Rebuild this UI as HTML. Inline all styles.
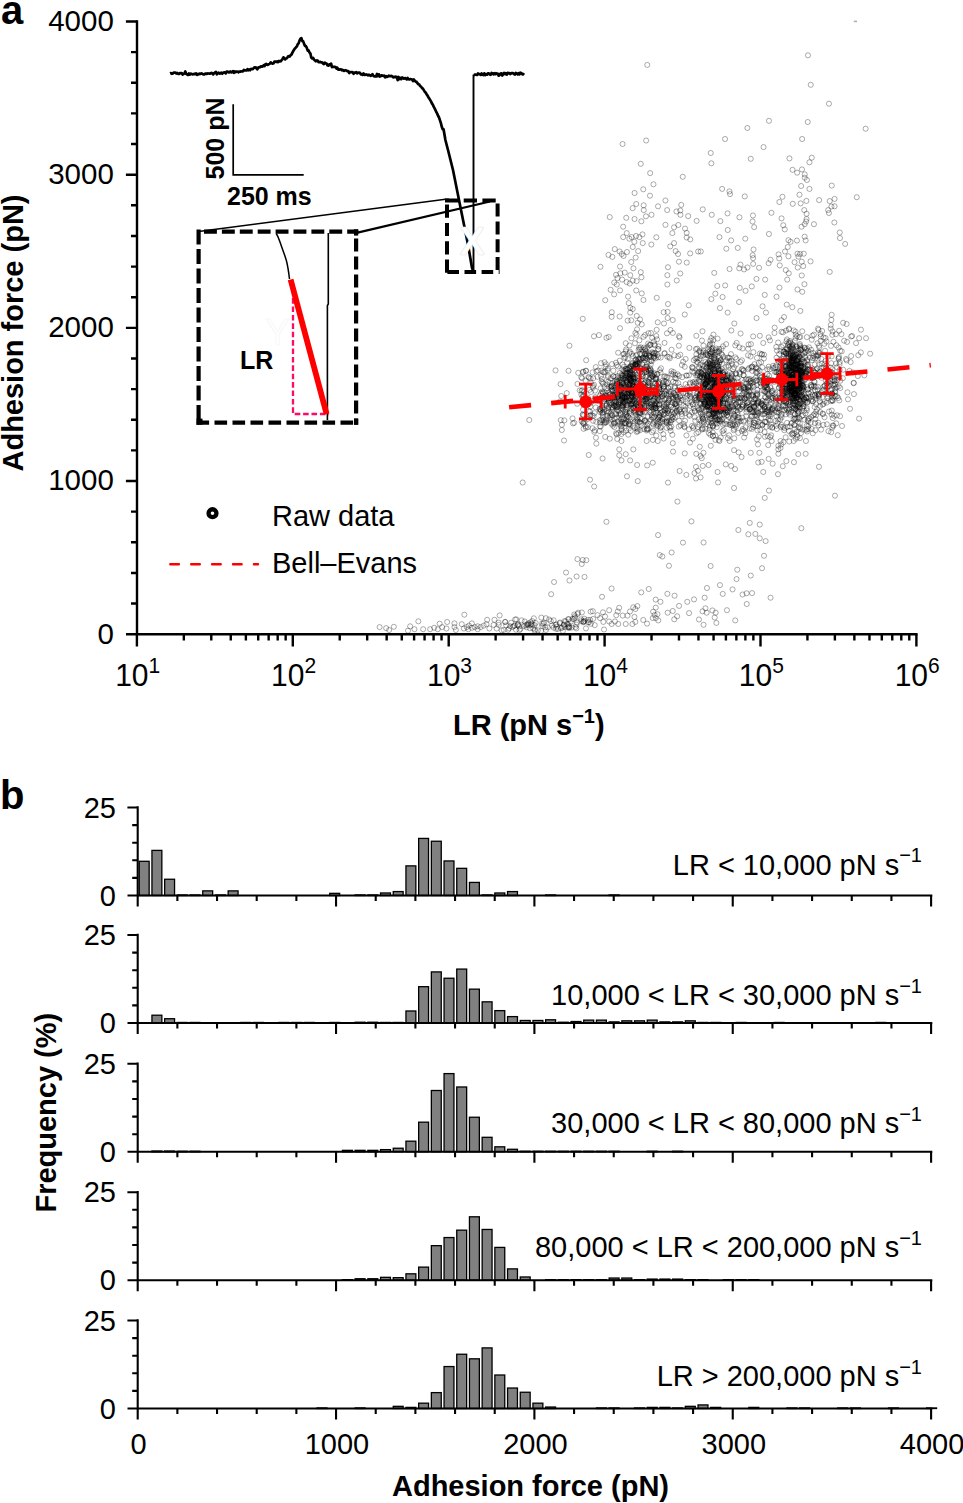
<!DOCTYPE html>
<html><head><meta charset="utf-8"><style>
html,body{margin:0;padding:0;background:#fff;width:963px;height:1503px;overflow:hidden}
</style></head><body>
<svg width="963" height="1503" viewBox="0 0 963 1503" style="position:absolute;left:0;top:0">
<g font-family='"Liberation Sans", sans-serif' fill="#000">
<text x="1" y="23.5" font-size="40" font-weight="bold" transform="matrix(1 0 0 1.03 0 -0.70)">a</text>
<text x="0" y="809" font-size="40" font-weight="bold" transform="matrix(1 0 0 1.03 0 -24.27)">b</text>
<rect x="853.8" y="20.6" width="3.2" height="1.6" fill="#b0b0b0"/>
<path d="M644.7 64.9a2.55 2.55 0 1 0 5.1 0a2.55 2.55 0 1 0 -5.1 0M805.4 55.3a2.55 2.55 0 1 0 5.1 0a2.55 2.55 0 1 0 -5.1 0M808.2 84.8a2.55 2.55 0 1 0 5.1 0a2.55 2.55 0 1 0 -5.1 0M620.0 144.0a2.55 2.55 0 1 0 5.1 0a2.55 2.55 0 1 0 -5.1 0M643.6 140.5a2.55 2.55 0 1 0 5.1 0a2.55 2.55 0 1 0 -5.1 0M722.5 139.0a2.55 2.55 0 1 0 5.1 0a2.55 2.55 0 1 0 -5.1 0M708.2 153.0a2.55 2.55 0 1 0 5.1 0a2.55 2.55 0 1 0 -5.1 0M708.8 163.3a2.55 2.55 0 1 0 5.1 0a2.55 2.55 0 1 0 -5.1 0M638.2 163.8a2.55 2.55 0 1 0 5.1 0a2.55 2.55 0 1 0 -5.1 0M647.6 173.1a2.55 2.55 0 1 0 5.1 0a2.55 2.55 0 1 0 -5.1 0M680.2 176.8a2.55 2.55 0 1 0 5.1 0a2.55 2.55 0 1 0 -5.1 0M650.9 184.3a2.55 2.55 0 1 0 5.1 0a2.55 2.55 0 1 0 -5.1 0M632.0 193.0a2.55 2.55 0 1 0 5.1 0a2.55 2.55 0 1 0 -5.1 0M640.7 189.3a2.55 2.55 0 1 0 5.1 0a2.55 2.55 0 1 0 -5.1 0M647.4 195.7a2.55 2.55 0 1 0 5.1 0a2.55 2.55 0 1 0 -5.1 0M719.6 188.9a2.55 2.55 0 1 0 5.1 0a2.55 2.55 0 1 0 -5.1 0M726.9 191.4a2.55 2.55 0 1 0 5.1 0a2.55 2.55 0 1 0 -5.1 0M727.5 194.1a2.55 2.55 0 1 0 5.1 0a2.55 2.55 0 1 0 -5.1 0M662.9 200.5a2.55 2.55 0 1 0 5.1 0a2.55 2.55 0 1 0 -5.1 0M633.7 204.0a2.55 2.55 0 1 0 5.1 0a2.55 2.55 0 1 0 -5.1 0M630.1 208.2a2.55 2.55 0 1 0 5.1 0a2.55 2.55 0 1 0 -5.1 0M641.1 205.3a2.55 2.55 0 1 0 5.1 0a2.55 2.55 0 1 0 -5.1 0M641.2 210.1a2.55 2.55 0 1 0 5.1 0a2.55 2.55 0 1 0 -5.1 0M655.5 206.3a2.55 2.55 0 1 0 5.1 0a2.55 2.55 0 1 0 -5.1 0M664.6 210.1a2.55 2.55 0 1 0 5.1 0a2.55 2.55 0 1 0 -5.1 0M678.7 204.9a2.55 2.55 0 1 0 5.1 0a2.55 2.55 0 1 0 -5.1 0M673.9 211.5a2.55 2.55 0 1 0 5.1 0a2.55 2.55 0 1 0 -5.1 0M677.7 210.5a2.55 2.55 0 1 0 5.1 0a2.55 2.55 0 1 0 -5.1 0M677.9 214.8a2.55 2.55 0 1 0 5.1 0a2.55 2.55 0 1 0 -5.1 0M685.6 216.1a2.55 2.55 0 1 0 5.1 0a2.55 2.55 0 1 0 -5.1 0M700.2 209.4a2.55 2.55 0 1 0 5.1 0a2.55 2.55 0 1 0 -5.1 0M709.2 214.8a2.55 2.55 0 1 0 5.1 0a2.55 2.55 0 1 0 -5.1 0M725.0 213.4a2.55 2.55 0 1 0 5.1 0a2.55 2.55 0 1 0 -5.1 0M717.8 221.1a2.55 2.55 0 1 0 5.1 0a2.55 2.55 0 1 0 -5.1 0M736.9 217.3a2.55 2.55 0 1 0 5.1 0a2.55 2.55 0 1 0 -5.1 0M694.1 220.9a2.55 2.55 0 1 0 5.1 0a2.55 2.55 0 1 0 -5.1 0M607.2 217.1a2.55 2.55 0 1 0 5.1 0a2.55 2.55 0 1 0 -5.1 0M623.7 217.8a2.55 2.55 0 1 0 5.1 0a2.55 2.55 0 1 0 -5.1 0M632.0 219.0a2.55 2.55 0 1 0 5.1 0a2.55 2.55 0 1 0 -5.1 0M638.8 221.3a2.55 2.55 0 1 0 5.1 0a2.55 2.55 0 1 0 -5.1 0M643.4 216.3a2.55 2.55 0 1 0 5.1 0a2.55 2.55 0 1 0 -5.1 0M649.0 214.8a2.55 2.55 0 1 0 5.1 0a2.55 2.55 0 1 0 -5.1 0M662.9 224.8a2.55 2.55 0 1 0 5.1 0a2.55 2.55 0 1 0 -5.1 0M671.5 227.3a2.55 2.55 0 1 0 5.1 0a2.55 2.55 0 1 0 -5.1 0M675.8 225.0a2.55 2.55 0 1 0 5.1 0a2.55 2.55 0 1 0 -5.1 0M682.5 228.6a2.55 2.55 0 1 0 5.1 0a2.55 2.55 0 1 0 -5.1 0M684.1 232.9a2.55 2.55 0 1 0 5.1 0a2.55 2.55 0 1 0 -5.1 0M669.8 233.1a2.55 2.55 0 1 0 5.1 0a2.55 2.55 0 1 0 -5.1 0M725.2 230.0a2.55 2.55 0 1 0 5.1 0a2.55 2.55 0 1 0 -5.1 0M716.9 237.1a2.55 2.55 0 1 0 5.1 0a2.55 2.55 0 1 0 -5.1 0M728.6 240.4a2.55 2.55 0 1 0 5.1 0a2.55 2.55 0 1 0 -5.1 0M620.6 226.7a2.55 2.55 0 1 0 5.1 0a2.55 2.55 0 1 0 -5.1 0M624.2 233.1a2.55 2.55 0 1 0 5.1 0a2.55 2.55 0 1 0 -5.1 0M620.6 237.1a2.55 2.55 0 1 0 5.1 0a2.55 2.55 0 1 0 -5.1 0M626.8 238.7a2.55 2.55 0 1 0 5.1 0a2.55 2.55 0 1 0 -5.1 0M629.1 237.1a2.55 2.55 0 1 0 5.1 0a2.55 2.55 0 1 0 -5.1 0M633.5 236.0a2.55 2.55 0 1 0 5.1 0a2.55 2.55 0 1 0 -5.1 0M636.8 237.1a2.55 2.55 0 1 0 5.1 0a2.55 2.55 0 1 0 -5.1 0M639.9 234.4a2.55 2.55 0 1 0 5.1 0a2.55 2.55 0 1 0 -5.1 0M631.8 241.8a2.55 2.55 0 1 0 5.1 0a2.55 2.55 0 1 0 -5.1 0M640.2 243.1a2.55 2.55 0 1 0 5.1 0a2.55 2.55 0 1 0 -5.1 0M648.8 244.5a2.55 2.55 0 1 0 5.1 0a2.55 2.55 0 1 0 -5.1 0M653.8 237.3a2.55 2.55 0 1 0 5.1 0a2.55 2.55 0 1 0 -5.1 0M671.5 243.1a2.55 2.55 0 1 0 5.1 0a2.55 2.55 0 1 0 -5.1 0M667.7 246.4a2.55 2.55 0 1 0 5.1 0a2.55 2.55 0 1 0 -5.1 0M684.1 237.5a2.55 2.55 0 1 0 5.1 0a2.55 2.55 0 1 0 -5.1 0M687.7 239.4a2.55 2.55 0 1 0 5.1 0a2.55 2.55 0 1 0 -5.1 0M630.2 247.0a2.55 2.55 0 1 0 5.1 0a2.55 2.55 0 1 0 -5.1 0M612.2 249.1a2.55 2.55 0 1 0 5.1 0a2.55 2.55 0 1 0 -5.1 0M723.8 248.7a2.55 2.55 0 1 0 5.1 0a2.55 2.55 0 1 0 -5.1 0M735.2 247.9a2.55 2.55 0 1 0 5.1 0a2.55 2.55 0 1 0 -5.1 0M826.4 103.7a2.55 2.55 0 1 0 5.1 0a2.55 2.55 0 1 0 -5.1 0M766.4 120.8a2.55 2.55 0 1 0 5.1 0a2.55 2.55 0 1 0 -5.1 0M805.2 122.0a2.55 2.55 0 1 0 5.1 0a2.55 2.55 0 1 0 -5.1 0M744.8 128.0a2.55 2.55 0 1 0 5.1 0a2.55 2.55 0 1 0 -5.1 0M863.1 128.7a2.55 2.55 0 1 0 5.1 0a2.55 2.55 0 1 0 -5.1 0M799.6 139.0a2.55 2.55 0 1 0 5.1 0a2.55 2.55 0 1 0 -5.1 0M761.0 147.1a2.55 2.55 0 1 0 5.1 0a2.55 2.55 0 1 0 -5.1 0M748.2 158.8a2.55 2.55 0 1 0 5.1 0a2.55 2.55 0 1 0 -5.1 0M786.9 158.4a2.55 2.55 0 1 0 5.1 0a2.55 2.55 0 1 0 -5.1 0M809.2 157.7a2.55 2.55 0 1 0 5.1 0a2.55 2.55 0 1 0 -5.1 0M806.9 162.3a2.55 2.55 0 1 0 5.1 0a2.55 2.55 0 1 0 -5.1 0M790.0 169.8a2.55 2.55 0 1 0 5.1 0a2.55 2.55 0 1 0 -5.1 0M794.6 172.7a2.55 2.55 0 1 0 5.1 0a2.55 2.55 0 1 0 -5.1 0M799.4 169.4a2.55 2.55 0 1 0 5.1 0a2.55 2.55 0 1 0 -5.1 0M802.2 174.4a2.55 2.55 0 1 0 5.1 0a2.55 2.55 0 1 0 -5.1 0M802.2 177.7a2.55 2.55 0 1 0 5.1 0a2.55 2.55 0 1 0 -5.1 0M804.4 180.0a2.55 2.55 0 1 0 5.1 0a2.55 2.55 0 1 0 -5.1 0M798.6 186.0a2.55 2.55 0 1 0 5.1 0a2.55 2.55 0 1 0 -5.1 0M806.9 188.9a2.55 2.55 0 1 0 5.1 0a2.55 2.55 0 1 0 -5.1 0M829.2 185.6a2.55 2.55 0 1 0 5.1 0a2.55 2.55 0 1 0 -5.1 0M742.2 196.4a2.55 2.55 0 1 0 5.1 0a2.55 2.55 0 1 0 -5.1 0M779.9 196.8a2.55 2.55 0 1 0 5.1 0a2.55 2.55 0 1 0 -5.1 0M776.8 202.0a2.55 2.55 0 1 0 5.1 0a2.55 2.55 0 1 0 -5.1 0M796.9 194.7a2.55 2.55 0 1 0 5.1 0a2.55 2.55 0 1 0 -5.1 0M790.2 203.8a2.55 2.55 0 1 0 5.1 0a2.55 2.55 0 1 0 -5.1 0M798.1 203.4a2.55 2.55 0 1 0 5.1 0a2.55 2.55 0 1 0 -5.1 0M803.8 200.9a2.55 2.55 0 1 0 5.1 0a2.55 2.55 0 1 0 -5.1 0M816.6 200.1a2.55 2.55 0 1 0 5.1 0a2.55 2.55 0 1 0 -5.1 0M827.2 201.1a2.55 2.55 0 1 0 5.1 0a2.55 2.55 0 1 0 -5.1 0M832.0 198.9a2.55 2.55 0 1 0 5.1 0a2.55 2.55 0 1 0 -5.1 0M828.9 206.5a2.55 2.55 0 1 0 5.1 0a2.55 2.55 0 1 0 -5.1 0M832.0 206.3a2.55 2.55 0 1 0 5.1 0a2.55 2.55 0 1 0 -5.1 0M825.6 210.1a2.55 2.55 0 1 0 5.1 0a2.55 2.55 0 1 0 -5.1 0M826.4 213.0a2.55 2.55 0 1 0 5.1 0a2.55 2.55 0 1 0 -5.1 0M854.2 197.2a2.55 2.55 0 1 0 5.1 0a2.55 2.55 0 1 0 -5.1 0M801.7 210.1a2.55 2.55 0 1 0 5.1 0a2.55 2.55 0 1 0 -5.1 0M804.0 213.8a2.55 2.55 0 1 0 5.1 0a2.55 2.55 0 1 0 -5.1 0M768.9 212.8a2.55 2.55 0 1 0 5.1 0a2.55 2.55 0 1 0 -5.1 0M750.4 215.5a2.55 2.55 0 1 0 5.1 0a2.55 2.55 0 1 0 -5.1 0M750.0 221.5a2.55 2.55 0 1 0 5.1 0a2.55 2.55 0 1 0 -5.1 0M751.6 227.1a2.55 2.55 0 1 0 5.1 0a2.55 2.55 0 1 0 -5.1 0M779.0 218.4a2.55 2.55 0 1 0 5.1 0a2.55 2.55 0 1 0 -5.1 0M780.7 225.2a2.55 2.55 0 1 0 5.1 0a2.55 2.55 0 1 0 -5.1 0M782.2 229.4a2.55 2.55 0 1 0 5.1 0a2.55 2.55 0 1 0 -5.1 0M804.0 219.0a2.55 2.55 0 1 0 5.1 0a2.55 2.55 0 1 0 -5.1 0M803.5 221.5a2.55 2.55 0 1 0 5.1 0a2.55 2.55 0 1 0 -5.1 0M802.1 224.2a2.55 2.55 0 1 0 5.1 0a2.55 2.55 0 1 0 -5.1 0M799.0 226.7a2.55 2.55 0 1 0 5.1 0a2.55 2.55 0 1 0 -5.1 0M811.4 224.2a2.55 2.55 0 1 0 5.1 0a2.55 2.55 0 1 0 -5.1 0M831.8 222.5a2.55 2.55 0 1 0 5.1 0a2.55 2.55 0 1 0 -5.1 0M837.2 232.5a2.55 2.55 0 1 0 5.1 0a2.55 2.55 0 1 0 -5.1 0M837.4 238.1a2.55 2.55 0 1 0 5.1 0a2.55 2.55 0 1 0 -5.1 0M842.6 243.9a2.55 2.55 0 1 0 5.1 0a2.55 2.55 0 1 0 -5.1 0M766.4 234.0a2.55 2.55 0 1 0 5.1 0a2.55 2.55 0 1 0 -5.1 0M742.7 238.7a2.55 2.55 0 1 0 5.1 0a2.55 2.55 0 1 0 -5.1 0M785.9 240.2a2.55 2.55 0 1 0 5.1 0a2.55 2.55 0 1 0 -5.1 0M788.0 241.8a2.55 2.55 0 1 0 5.1 0a2.55 2.55 0 1 0 -5.1 0M794.4 240.6a2.55 2.55 0 1 0 5.1 0a2.55 2.55 0 1 0 -5.1 0M802.1 236.7a2.55 2.55 0 1 0 5.1 0a2.55 2.55 0 1 0 -5.1 0M803.1 240.4a2.55 2.55 0 1 0 5.1 0a2.55 2.55 0 1 0 -5.1 0M785.2 247.0a2.55 2.55 0 1 0 5.1 0a2.55 2.55 0 1 0 -5.1 0M751.0 249.5a2.55 2.55 0 1 0 5.1 0a2.55 2.55 0 1 0 -5.1 0M605.9 254.9a2.55 2.55 0 1 0 5.1 0a2.55 2.55 0 1 0 -5.1 0M609.8 256.9a2.55 2.55 0 1 0 5.1 0a2.55 2.55 0 1 0 -5.1 0M617.1 251.5a2.55 2.55 0 1 0 5.1 0a2.55 2.55 0 1 0 -5.1 0M619.2 254.0a2.55 2.55 0 1 0 5.1 0a2.55 2.55 0 1 0 -5.1 0M621.0 255.9a2.55 2.55 0 1 0 5.1 0a2.55 2.55 0 1 0 -5.1 0M624.4 252.0a2.55 2.55 0 1 0 5.1 0a2.55 2.55 0 1 0 -5.1 0M635.6 251.1a2.55 2.55 0 1 0 5.1 0a2.55 2.55 0 1 0 -5.1 0M633.1 257.6a2.55 2.55 0 1 0 5.1 0a2.55 2.55 0 1 0 -5.1 0M628.7 262.0a2.55 2.55 0 1 0 5.1 0a2.55 2.55 0 1 0 -5.1 0M673.1 251.1a2.55 2.55 0 1 0 5.1 0a2.55 2.55 0 1 0 -5.1 0M675.5 254.0a2.55 2.55 0 1 0 5.1 0a2.55 2.55 0 1 0 -5.1 0M687.6 253.4a2.55 2.55 0 1 0 5.1 0a2.55 2.55 0 1 0 -5.1 0M695.6 251.5a2.55 2.55 0 1 0 5.1 0a2.55 2.55 0 1 0 -5.1 0M676.4 261.7a2.55 2.55 0 1 0 5.1 0a2.55 2.55 0 1 0 -5.1 0M684.2 262.6a2.55 2.55 0 1 0 5.1 0a2.55 2.55 0 1 0 -5.1 0M597.9 266.8a2.55 2.55 0 1 0 5.1 0a2.55 2.55 0 1 0 -5.1 0M617.5 266.5a2.55 2.55 0 1 0 5.1 0a2.55 2.55 0 1 0 -5.1 0M630.9 268.3a2.55 2.55 0 1 0 5.1 0a2.55 2.55 0 1 0 -5.1 0M665.4 267.2a2.55 2.55 0 1 0 5.1 0a2.55 2.55 0 1 0 -5.1 0M664.8 275.2a2.55 2.55 0 1 0 5.1 0a2.55 2.55 0 1 0 -5.1 0M677.7 273.5a2.55 2.55 0 1 0 5.1 0a2.55 2.55 0 1 0 -5.1 0M674.2 280.5a2.55 2.55 0 1 0 5.1 0a2.55 2.55 0 1 0 -5.1 0M664.8 284.5a2.55 2.55 0 1 0 5.1 0a2.55 2.55 0 1 0 -5.1 0M622.2 272.6a2.55 2.55 0 1 0 5.1 0a2.55 2.55 0 1 0 -5.1 0M613.5 274.8a2.55 2.55 0 1 0 5.1 0a2.55 2.55 0 1 0 -5.1 0M617.8 273.3a2.55 2.55 0 1 0 5.1 0a2.55 2.55 0 1 0 -5.1 0M627.7 275.2a2.55 2.55 0 1 0 5.1 0a2.55 2.55 0 1 0 -5.1 0M638.2 272.2a2.55 2.55 0 1 0 5.1 0a2.55 2.55 0 1 0 -5.1 0M638.9 277.3a2.55 2.55 0 1 0 5.1 0a2.55 2.55 0 1 0 -5.1 0M614.9 278.1a2.55 2.55 0 1 0 5.1 0a2.55 2.55 0 1 0 -5.1 0M619.6 279.6a2.55 2.55 0 1 0 5.1 0a2.55 2.55 0 1 0 -5.1 0M624.1 282.1a2.55 2.55 0 1 0 5.1 0a2.55 2.55 0 1 0 -5.1 0M627.2 283.5a2.55 2.55 0 1 0 5.1 0a2.55 2.55 0 1 0 -5.1 0M630.2 280.6a2.55 2.55 0 1 0 5.1 0a2.55 2.55 0 1 0 -5.1 0M634.1 281.1a2.55 2.55 0 1 0 5.1 0a2.55 2.55 0 1 0 -5.1 0M611.7 282.5a2.55 2.55 0 1 0 5.1 0a2.55 2.55 0 1 0 -5.1 0M614.2 284.5a2.55 2.55 0 1 0 5.1 0a2.55 2.55 0 1 0 -5.1 0M608.1 289.8a2.55 2.55 0 1 0 5.1 0a2.55 2.55 0 1 0 -5.1 0M611.6 294.4a2.55 2.55 0 1 0 5.1 0a2.55 2.55 0 1 0 -5.1 0M617.5 290.4a2.55 2.55 0 1 0 5.1 0a2.55 2.55 0 1 0 -5.1 0M633.7 290.5a2.55 2.55 0 1 0 5.1 0a2.55 2.55 0 1 0 -5.1 0M639.2 293.4a2.55 2.55 0 1 0 5.1 0a2.55 2.55 0 1 0 -5.1 0M625.5 296.6a2.55 2.55 0 1 0 5.1 0a2.55 2.55 0 1 0 -5.1 0M640.9 300.0a2.55 2.55 0 1 0 5.1 0a2.55 2.55 0 1 0 -5.1 0M654.2 297.8a2.55 2.55 0 1 0 5.1 0a2.55 2.55 0 1 0 -5.1 0M602.7 300.2a2.55 2.55 0 1 0 5.1 0a2.55 2.55 0 1 0 -5.1 0M665.4 304.0a2.55 2.55 0 1 0 5.1 0a2.55 2.55 0 1 0 -5.1 0M686.2 305.3a2.55 2.55 0 1 0 5.1 0a2.55 2.55 0 1 0 -5.1 0M626.2 303.1a2.55 2.55 0 1 0 5.1 0a2.55 2.55 0 1 0 -5.1 0M627.7 307.8a2.55 2.55 0 1 0 5.1 0a2.55 2.55 0 1 0 -5.1 0M630.2 309.0a2.55 2.55 0 1 0 5.1 0a2.55 2.55 0 1 0 -5.1 0M627.7 312.6a2.55 2.55 0 1 0 5.1 0a2.55 2.55 0 1 0 -5.1 0M609.2 312.2a2.55 2.55 0 1 0 5.1 0a2.55 2.55 0 1 0 -5.1 0M609.1 316.8a2.55 2.55 0 1 0 5.1 0a2.55 2.55 0 1 0 -5.1 0M617.1 316.5a2.55 2.55 0 1 0 5.1 0a2.55 2.55 0 1 0 -5.1 0M634.2 315.9a2.55 2.55 0 1 0 5.1 0a2.55 2.55 0 1 0 -5.1 0M637.5 319.4a2.55 2.55 0 1 0 5.1 0a2.55 2.55 0 1 0 -5.1 0M625.1 320.6a2.55 2.55 0 1 0 5.1 0a2.55 2.55 0 1 0 -5.1 0M628.7 320.3a2.55 2.55 0 1 0 5.1 0a2.55 2.55 0 1 0 -5.1 0M635.2 322.8a2.55 2.55 0 1 0 5.1 0a2.55 2.55 0 1 0 -5.1 0M639.2 324.4a2.55 2.55 0 1 0 5.1 0a2.55 2.55 0 1 0 -5.1 0M661.1 312.2a2.55 2.55 0 1 0 5.1 0a2.55 2.55 0 1 0 -5.1 0M665.1 311.9a2.55 2.55 0 1 0 5.1 0a2.55 2.55 0 1 0 -5.1 0M665.1 318.0a2.55 2.55 0 1 0 5.1 0a2.55 2.55 0 1 0 -5.1 0M670.2 320.0a2.55 2.55 0 1 0 5.1 0a2.55 2.55 0 1 0 -5.1 0M655.2 322.3a2.55 2.55 0 1 0 5.1 0a2.55 2.55 0 1 0 -5.1 0M661.4 323.5a2.55 2.55 0 1 0 5.1 0a2.55 2.55 0 1 0 -5.1 0M682.2 314.5a2.55 2.55 0 1 0 5.1 0a2.55 2.55 0 1 0 -5.1 0M580.2 318.8a2.55 2.55 0 1 0 5.1 0a2.55 2.55 0 1 0 -5.1 0M617.5 328.2a2.55 2.55 0 1 0 5.1 0a2.55 2.55 0 1 0 -5.1 0M634.5 329.3a2.55 2.55 0 1 0 5.1 0a2.55 2.55 0 1 0 -5.1 0M698.2 251.5a2.55 2.55 0 1 0 5.1 0a2.55 2.55 0 1 0 -5.1 0M750.1 255.2a2.55 2.55 0 1 0 5.1 0a2.55 2.55 0 1 0 -5.1 0M750.6 258.1a2.55 2.55 0 1 0 5.1 0a2.55 2.55 0 1 0 -5.1 0M750.6 263.9a2.55 2.55 0 1 0 5.1 0a2.55 2.55 0 1 0 -5.1 0M737.9 264.6a2.55 2.55 0 1 0 5.1 0a2.55 2.55 0 1 0 -5.1 0M736.7 268.3a2.55 2.55 0 1 0 5.1 0a2.55 2.55 0 1 0 -5.1 0M741.5 269.4a2.55 2.55 0 1 0 5.1 0a2.55 2.55 0 1 0 -5.1 0M744.9 267.5a2.55 2.55 0 1 0 5.1 0a2.55 2.55 0 1 0 -5.1 0M727.0 269.0a2.55 2.55 0 1 0 5.1 0a2.55 2.55 0 1 0 -5.1 0M711.7 272.9a2.55 2.55 0 1 0 5.1 0a2.55 2.55 0 1 0 -5.1 0M756.5 267.8a2.55 2.55 0 1 0 5.1 0a2.55 2.55 0 1 0 -5.1 0M768.0 259.8a2.55 2.55 0 1 0 5.1 0a2.55 2.55 0 1 0 -5.1 0M766.1 263.2a2.55 2.55 0 1 0 5.1 0a2.55 2.55 0 1 0 -5.1 0M776.0 254.4a2.55 2.55 0 1 0 5.1 0a2.55 2.55 0 1 0 -5.1 0M776.7 258.4a2.55 2.55 0 1 0 5.1 0a2.55 2.55 0 1 0 -5.1 0M777.2 265.4a2.55 2.55 0 1 0 5.1 0a2.55 2.55 0 1 0 -5.1 0M782.5 251.5a2.55 2.55 0 1 0 5.1 0a2.55 2.55 0 1 0 -5.1 0M785.9 256.3a2.55 2.55 0 1 0 5.1 0a2.55 2.55 0 1 0 -5.1 0M794.9 253.7a2.55 2.55 0 1 0 5.1 0a2.55 2.55 0 1 0 -5.1 0M797.5 254.0a2.55 2.55 0 1 0 5.1 0a2.55 2.55 0 1 0 -5.1 0M801.2 253.7a2.55 2.55 0 1 0 5.1 0a2.55 2.55 0 1 0 -5.1 0M795.9 256.6a2.55 2.55 0 1 0 5.1 0a2.55 2.55 0 1 0 -5.1 0M792.0 262.2a2.55 2.55 0 1 0 5.1 0a2.55 2.55 0 1 0 -5.1 0M799.2 261.7a2.55 2.55 0 1 0 5.1 0a2.55 2.55 0 1 0 -5.1 0M800.7 266.1a2.55 2.55 0 1 0 5.1 0a2.55 2.55 0 1 0 -5.1 0M795.2 267.5a2.55 2.55 0 1 0 5.1 0a2.55 2.55 0 1 0 -5.1 0M808.0 261.4a2.55 2.55 0 1 0 5.1 0a2.55 2.55 0 1 0 -5.1 0M783.2 270.1a2.55 2.55 0 1 0 5.1 0a2.55 2.55 0 1 0 -5.1 0M786.2 273.3a2.55 2.55 0 1 0 5.1 0a2.55 2.55 0 1 0 -5.1 0M784.7 279.6a2.55 2.55 0 1 0 5.1 0a2.55 2.55 0 1 0 -5.1 0M799.2 275.5a2.55 2.55 0 1 0 5.1 0a2.55 2.55 0 1 0 -5.1 0M801.9 284.2a2.55 2.55 0 1 0 5.1 0a2.55 2.55 0 1 0 -5.1 0M794.9 289.5a2.55 2.55 0 1 0 5.1 0a2.55 2.55 0 1 0 -5.1 0M799.7 291.8a2.55 2.55 0 1 0 5.1 0a2.55 2.55 0 1 0 -5.1 0M827.2 271.9a2.55 2.55 0 1 0 5.1 0a2.55 2.55 0 1 0 -5.1 0M753.9 278.9a2.55 2.55 0 1 0 5.1 0a2.55 2.55 0 1 0 -5.1 0M762.6 279.6a2.55 2.55 0 1 0 5.1 0a2.55 2.55 0 1 0 -5.1 0M749.2 286.4a2.55 2.55 0 1 0 5.1 0a2.55 2.55 0 1 0 -5.1 0M737.2 287.9a2.55 2.55 0 1 0 5.1 0a2.55 2.55 0 1 0 -5.1 0M743.0 290.8a2.55 2.55 0 1 0 5.1 0a2.55 2.55 0 1 0 -5.1 0M714.7 286.0a2.55 2.55 0 1 0 5.1 0a2.55 2.55 0 1 0 -5.1 0M722.6 285.4a2.55 2.55 0 1 0 5.1 0a2.55 2.55 0 1 0 -5.1 0M712.8 293.7a2.55 2.55 0 1 0 5.1 0a2.55 2.55 0 1 0 -5.1 0M720.0 297.0a2.55 2.55 0 1 0 5.1 0a2.55 2.55 0 1 0 -5.1 0M708.8 299.1a2.55 2.55 0 1 0 5.1 0a2.55 2.55 0 1 0 -5.1 0M736.5 302.0a2.55 2.55 0 1 0 5.1 0a2.55 2.55 0 1 0 -5.1 0M762.2 294.9a2.55 2.55 0 1 0 5.1 0a2.55 2.55 0 1 0 -5.1 0M774.0 296.8a2.55 2.55 0 1 0 5.1 0a2.55 2.55 0 1 0 -5.1 0M776.9 287.6a2.55 2.55 0 1 0 5.1 0a2.55 2.55 0 1 0 -5.1 0M717.4 308.1a2.55 2.55 0 1 0 5.1 0a2.55 2.55 0 1 0 -5.1 0M725.1 312.6a2.55 2.55 0 1 0 5.1 0a2.55 2.55 0 1 0 -5.1 0M731.8 323.5a2.55 2.55 0 1 0 5.1 0a2.55 2.55 0 1 0 -5.1 0M760.0 306.3a2.55 2.55 0 1 0 5.1 0a2.55 2.55 0 1 0 -5.1 0M763.4 312.6a2.55 2.55 0 1 0 5.1 0a2.55 2.55 0 1 0 -5.1 0M754.0 318.1a2.55 2.55 0 1 0 5.1 0a2.55 2.55 0 1 0 -5.1 0M784.2 304.6a2.55 2.55 0 1 0 5.1 0a2.55 2.55 0 1 0 -5.1 0M789.8 307.2a2.55 2.55 0 1 0 5.1 0a2.55 2.55 0 1 0 -5.1 0M797.8 310.9a2.55 2.55 0 1 0 5.1 0a2.55 2.55 0 1 0 -5.1 0M781.5 317.0a2.55 2.55 0 1 0 5.1 0a2.55 2.55 0 1 0 -5.1 0M778.9 320.3a2.55 2.55 0 1 0 5.1 0a2.55 2.55 0 1 0 -5.1 0M772.1 327.6a2.55 2.55 0 1 0 5.1 0a2.55 2.55 0 1 0 -5.1 0M829.1 314.8a2.55 2.55 0 1 0 5.1 0a2.55 2.55 0 1 0 -5.1 0M828.8 319.9a2.55 2.55 0 1 0 5.1 0a2.55 2.55 0 1 0 -5.1 0M828.2 325.0a2.55 2.55 0 1 0 5.1 0a2.55 2.55 0 1 0 -5.1 0M828.2 328.6a2.55 2.55 0 1 0 5.1 0a2.55 2.55 0 1 0 -5.1 0M815.5 328.6a2.55 2.55 0 1 0 5.1 0a2.55 2.55 0 1 0 -5.1 0M840.6 322.8a2.55 2.55 0 1 0 5.1 0a2.55 2.55 0 1 0 -5.1 0M844.1 324.0a2.55 2.55 0 1 0 5.1 0a2.55 2.55 0 1 0 -5.1 0M836.6 330.8a2.55 2.55 0 1 0 5.1 0a2.55 2.55 0 1 0 -5.1 0M838.9 334.2a2.55 2.55 0 1 0 5.1 0a2.55 2.55 0 1 0 -5.1 0M829.8 334.8a2.55 2.55 0 1 0 5.1 0a2.55 2.55 0 1 0 -5.1 0M848.6 336.5a2.55 2.55 0 1 0 5.1 0a2.55 2.55 0 1 0 -5.1 0M856.6 338.2a2.55 2.55 0 1 0 5.1 0a2.55 2.55 0 1 0 -5.1 0M863.5 338.2a2.55 2.55 0 1 0 5.1 0a2.55 2.55 0 1 0 -5.1 0M526.7 420.0a2.55 2.55 0 1 0 5.1 0a2.55 2.55 0 1 0 -5.1 0M553.0 370.4a2.55 2.55 0 1 0 5.1 0a2.55 2.55 0 1 0 -5.1 0M558.0 384.1a2.55 2.55 0 1 0 5.1 0a2.55 2.55 0 1 0 -5.1 0M558.7 396.0a2.55 2.55 0 1 0 5.1 0a2.55 2.55 0 1 0 -5.1 0M566.0 370.8a2.55 2.55 0 1 0 5.1 0a2.55 2.55 0 1 0 -5.1 0M566.9 345.7a2.55 2.55 0 1 0 5.1 0a2.55 2.55 0 1 0 -5.1 0M561.5 440.5a2.55 2.55 0 1 0 5.1 0a2.55 2.55 0 1 0 -5.1 0M593.8 443.6a2.55 2.55 0 1 0 5.1 0a2.55 2.55 0 1 0 -5.1 0M586.2 455.0a2.55 2.55 0 1 0 5.1 0a2.55 2.55 0 1 0 -5.1 0M600.0 458.5a2.55 2.55 0 1 0 5.1 0a2.55 2.55 0 1 0 -5.1 0M616.7 449.4a2.55 2.55 0 1 0 5.1 0a2.55 2.55 0 1 0 -5.1 0M616.7 455.3a2.55 2.55 0 1 0 5.1 0a2.55 2.55 0 1 0 -5.1 0M618.9 441.0a2.55 2.55 0 1 0 5.1 0a2.55 2.55 0 1 0 -5.1 0M623.2 454.2a2.55 2.55 0 1 0 5.1 0a2.55 2.55 0 1 0 -5.1 0M630.8 449.4a2.55 2.55 0 1 0 5.1 0a2.55 2.55 0 1 0 -5.1 0M618.9 460.4a2.55 2.55 0 1 0 5.1 0a2.55 2.55 0 1 0 -5.1 0M627.6 460.4a2.55 2.55 0 1 0 5.1 0a2.55 2.55 0 1 0 -5.1 0M634.6 465.0a2.55 2.55 0 1 0 5.1 0a2.55 2.55 0 1 0 -5.1 0M644.6 465.4a2.55 2.55 0 1 0 5.1 0a2.55 2.55 0 1 0 -5.1 0M650.2 462.7a2.55 2.55 0 1 0 5.1 0a2.55 2.55 0 1 0 -5.1 0M644.1 441.0a2.55 2.55 0 1 0 5.1 0a2.55 2.55 0 1 0 -5.1 0M655.2 441.0a2.55 2.55 0 1 0 5.1 0a2.55 2.55 0 1 0 -5.1 0M670.2 443.2a2.55 2.55 0 1 0 5.1 0a2.55 2.55 0 1 0 -5.1 0M670.5 451.6a2.55 2.55 0 1 0 5.1 0a2.55 2.55 0 1 0 -5.1 0M677.1 471.0a2.55 2.55 0 1 0 5.1 0a2.55 2.55 0 1 0 -5.1 0M587.5 479.7a2.55 2.55 0 1 0 5.1 0a2.55 2.55 0 1 0 -5.1 0M591.6 486.5a2.55 2.55 0 1 0 5.1 0a2.55 2.55 0 1 0 -5.1 0M624.4 476.3a2.55 2.55 0 1 0 5.1 0a2.55 2.55 0 1 0 -5.1 0M635.2 481.1a2.55 2.55 0 1 0 5.1 0a2.55 2.55 0 1 0 -5.1 0M665.4 482.6a2.55 2.55 0 1 0 5.1 0a2.55 2.55 0 1 0 -5.1 0M674.9 501.6a2.55 2.55 0 1 0 5.1 0a2.55 2.55 0 1 0 -5.1 0M603.9 521.8a2.55 2.55 0 1 0 5.1 0a2.55 2.55 0 1 0 -5.1 0M687.4 442.6a2.55 2.55 0 1 0 5.1 0a2.55 2.55 0 1 0 -5.1 0M697.2 446.8a2.55 2.55 0 1 0 5.1 0a2.55 2.55 0 1 0 -5.1 0M708.2 445.8a2.55 2.55 0 1 0 5.1 0a2.55 2.55 0 1 0 -5.1 0M716.9 441.0a2.55 2.55 0 1 0 5.1 0a2.55 2.55 0 1 0 -5.1 0M727.1 441.0a2.55 2.55 0 1 0 5.1 0a2.55 2.55 0 1 0 -5.1 0M682.2 453.4a2.55 2.55 0 1 0 5.1 0a2.55 2.55 0 1 0 -5.1 0M693.7 453.8a2.55 2.55 0 1 0 5.1 0a2.55 2.55 0 1 0 -5.1 0M700.9 452.8a2.55 2.55 0 1 0 5.1 0a2.55 2.55 0 1 0 -5.1 0M698.0 456.0a2.55 2.55 0 1 0 5.1 0a2.55 2.55 0 1 0 -5.1 0M699.2 458.2a2.55 2.55 0 1 0 5.1 0a2.55 2.55 0 1 0 -5.1 0M693.4 466.9a2.55 2.55 0 1 0 5.1 0a2.55 2.55 0 1 0 -5.1 0M695.4 470.8a2.55 2.55 0 1 0 5.1 0a2.55 2.55 0 1 0 -5.1 0M691.9 473.1a2.55 2.55 0 1 0 5.1 0a2.55 2.55 0 1 0 -5.1 0M693.4 478.5a2.55 2.55 0 1 0 5.1 0a2.55 2.55 0 1 0 -5.1 0M698.0 477.4a2.55 2.55 0 1 0 5.1 0a2.55 2.55 0 1 0 -5.1 0M683.8 474.9a2.55 2.55 0 1 0 5.1 0a2.55 2.55 0 1 0 -5.1 0M700.2 465.9a2.55 2.55 0 1 0 5.1 0a2.55 2.55 0 1 0 -5.1 0M706.0 465.0a2.55 2.55 0 1 0 5.1 0a2.55 2.55 0 1 0 -5.1 0M715.0 472.0a2.55 2.55 0 1 0 5.1 0a2.55 2.55 0 1 0 -5.1 0M715.5 482.4a2.55 2.55 0 1 0 5.1 0a2.55 2.55 0 1 0 -5.1 0M723.2 464.4a2.55 2.55 0 1 0 5.1 0a2.55 2.55 0 1 0 -5.1 0M728.6 465.9a2.55 2.55 0 1 0 5.1 0a2.55 2.55 0 1 0 -5.1 0M732.5 469.1a2.55 2.55 0 1 0 5.1 0a2.55 2.55 0 1 0 -5.1 0M731.5 450.2a2.55 2.55 0 1 0 5.1 0a2.55 2.55 0 1 0 -5.1 0M736.1 452.4a2.55 2.55 0 1 0 5.1 0a2.55 2.55 0 1 0 -5.1 0M739.0 457.0a2.55 2.55 0 1 0 5.1 0a2.55 2.55 0 1 0 -5.1 0M731.5 488.0a2.55 2.55 0 1 0 5.1 0a2.55 2.55 0 1 0 -5.1 0M748.2 452.8a2.55 2.55 0 1 0 5.1 0a2.55 2.55 0 1 0 -5.1 0M755.4 444.4a2.55 2.55 0 1 0 5.1 0a2.55 2.55 0 1 0 -5.1 0M756.8 452.8a2.55 2.55 0 1 0 5.1 0a2.55 2.55 0 1 0 -5.1 0M755.7 462.5a2.55 2.55 0 1 0 5.1 0a2.55 2.55 0 1 0 -5.1 0M759.1 461.8a2.55 2.55 0 1 0 5.1 0a2.55 2.55 0 1 0 -5.1 0M760.7 472.0a2.55 2.55 0 1 0 5.1 0a2.55 2.55 0 1 0 -5.1 0M765.6 445.1a2.55 2.55 0 1 0 5.1 0a2.55 2.55 0 1 0 -5.1 0M766.1 458.9a2.55 2.55 0 1 0 5.1 0a2.55 2.55 0 1 0 -5.1 0M770.1 463.7a2.55 2.55 0 1 0 5.1 0a2.55 2.55 0 1 0 -5.1 0M769.2 441.0a2.55 2.55 0 1 0 5.1 0a2.55 2.55 0 1 0 -5.1 0M778.0 441.0a2.55 2.55 0 1 0 5.1 0a2.55 2.55 0 1 0 -5.1 0M775.8 445.8a2.55 2.55 0 1 0 5.1 0a2.55 2.55 0 1 0 -5.1 0M778.7 444.4a2.55 2.55 0 1 0 5.1 0a2.55 2.55 0 1 0 -5.1 0M775.8 449.4a2.55 2.55 0 1 0 5.1 0a2.55 2.55 0 1 0 -5.1 0M778.0 448.0a2.55 2.55 0 1 0 5.1 0a2.55 2.55 0 1 0 -5.1 0M775.8 453.8a2.55 2.55 0 1 0 5.1 0a2.55 2.55 0 1 0 -5.1 0M780.9 442.2a2.55 2.55 0 1 0 5.1 0a2.55 2.55 0 1 0 -5.1 0M786.7 441.5a2.55 2.55 0 1 0 5.1 0a2.55 2.55 0 1 0 -5.1 0M791.1 441.0a2.55 2.55 0 1 0 5.1 0a2.55 2.55 0 1 0 -5.1 0M780.2 466.2a2.55 2.55 0 1 0 5.1 0a2.55 2.55 0 1 0 -5.1 0M775.4 474.2a2.55 2.55 0 1 0 5.1 0a2.55 2.55 0 1 0 -5.1 0M783.8 461.1a2.55 2.55 0 1 0 5.1 0a2.55 2.55 0 1 0 -5.1 0M791.4 462.2a2.55 2.55 0 1 0 5.1 0a2.55 2.55 0 1 0 -5.1 0M795.7 454.1a2.55 2.55 0 1 0 5.1 0a2.55 2.55 0 1 0 -5.1 0M803.1 453.8a2.55 2.55 0 1 0 5.1 0a2.55 2.55 0 1 0 -5.1 0M803.4 441.0a2.55 2.55 0 1 0 5.1 0a2.55 2.55 0 1 0 -5.1 0M766.4 490.6a2.55 2.55 0 1 0 5.1 0a2.55 2.55 0 1 0 -5.1 0M762.2 497.9a2.55 2.55 0 1 0 5.1 0a2.55 2.55 0 1 0 -5.1 0M750.4 508.6a2.55 2.55 0 1 0 5.1 0a2.55 2.55 0 1 0 -5.1 0M747.2 522.9a2.55 2.55 0 1 0 5.1 0a2.55 2.55 0 1 0 -5.1 0M757.2 524.6a2.55 2.55 0 1 0 5.1 0a2.55 2.55 0 1 0 -5.1 0M798.8 528.2a2.55 2.55 0 1 0 5.1 0a2.55 2.55 0 1 0 -5.1 0M688.9 521.4a2.55 2.55 0 1 0 5.1 0a2.55 2.55 0 1 0 -5.1 0M735.8 530.0a2.55 2.55 0 1 0 5.1 0a2.55 2.55 0 1 0 -5.1 0M816.4 466.8a2.55 2.55 0 1 0 5.1 0a2.55 2.55 0 1 0 -5.1 0M832.4 495.7a2.55 2.55 0 1 0 5.1 0a2.55 2.55 0 1 0 -5.1 0M745.8 534.3a2.55 2.55 0 1 0 5.1 0a2.55 2.55 0 1 0 -5.1 0M752.8 533.9a2.55 2.55 0 1 0 5.1 0a2.55 2.55 0 1 0 -5.1 0M757.2 538.3a2.55 2.55 0 1 0 5.1 0a2.55 2.55 0 1 0 -5.1 0M763.1 541.1a2.55 2.55 0 1 0 5.1 0a2.55 2.55 0 1 0 -5.1 0M701.0 542.5a2.55 2.55 0 1 0 5.1 0a2.55 2.55 0 1 0 -5.1 0M761.5 555.8a2.55 2.55 0 1 0 5.1 0a2.55 2.55 0 1 0 -5.1 0M708.1 566.0a2.55 2.55 0 1 0 5.1 0a2.55 2.55 0 1 0 -5.1 0M734.7 569.7a2.55 2.55 0 1 0 5.1 0a2.55 2.55 0 1 0 -5.1 0M759.5 568.2a2.55 2.55 0 1 0 5.1 0a2.55 2.55 0 1 0 -5.1 0M748.2 575.6a2.55 2.55 0 1 0 5.1 0a2.55 2.55 0 1 0 -5.1 0M734.0 579.1a2.55 2.55 0 1 0 5.1 0a2.55 2.55 0 1 0 -5.1 0M717.4 585.1a2.55 2.55 0 1 0 5.1 0a2.55 2.55 0 1 0 -5.1 0M704.4 588.0a2.55 2.55 0 1 0 5.1 0a2.55 2.55 0 1 0 -5.1 0M730.0 589.4a2.55 2.55 0 1 0 5.1 0a2.55 2.55 0 1 0 -5.1 0M720.2 593.9a2.55 2.55 0 1 0 5.1 0a2.55 2.55 0 1 0 -5.1 0M740.0 594.5a2.55 2.55 0 1 0 5.1 0a2.55 2.55 0 1 0 -5.1 0M744.0 593.3a2.55 2.55 0 1 0 5.1 0a2.55 2.55 0 1 0 -5.1 0M749.5 593.1a2.55 2.55 0 1 0 5.1 0a2.55 2.55 0 1 0 -5.1 0M702.1 597.7a2.55 2.55 0 1 0 5.1 0a2.55 2.55 0 1 0 -5.1 0M691.5 599.4a2.55 2.55 0 1 0 5.1 0a2.55 2.55 0 1 0 -5.1 0M768.0 597.7a2.55 2.55 0 1 0 5.1 0a2.55 2.55 0 1 0 -5.1 0M646.2 589.0a2.55 2.55 0 1 0 5.1 0a2.55 2.55 0 1 0 -5.1 0M638.7 592.4a2.55 2.55 0 1 0 5.1 0a2.55 2.55 0 1 0 -5.1 0M664.8 593.8a2.55 2.55 0 1 0 5.1 0a2.55 2.55 0 1 0 -5.1 0M672.0 595.7a2.55 2.55 0 1 0 5.1 0a2.55 2.55 0 1 0 -5.1 0M653.1 599.6a2.55 2.55 0 1 0 5.1 0a2.55 2.55 0 1 0 -5.1 0M657.9 601.8a2.55 2.55 0 1 0 5.1 0a2.55 2.55 0 1 0 -5.1 0M653.2 607.6a2.55 2.55 0 1 0 5.1 0a2.55 2.55 0 1 0 -5.1 0M650.6 611.7a2.55 2.55 0 1 0 5.1 0a2.55 2.55 0 1 0 -5.1 0M654.9 614.2a2.55 2.55 0 1 0 5.1 0a2.55 2.55 0 1 0 -5.1 0M652.0 614.9a2.55 2.55 0 1 0 5.1 0a2.55 2.55 0 1 0 -5.1 0M650.2 618.1a2.55 2.55 0 1 0 5.1 0a2.55 2.55 0 1 0 -5.1 0M655.7 620.4a2.55 2.55 0 1 0 5.1 0a2.55 2.55 0 1 0 -5.1 0M653.2 618.1a2.55 2.55 0 1 0 5.1 0a2.55 2.55 0 1 0 -5.1 0M640.7 620.0a2.55 2.55 0 1 0 5.1 0a2.55 2.55 0 1 0 -5.1 0M644.5 623.6a2.55 2.55 0 1 0 5.1 0a2.55 2.55 0 1 0 -5.1 0M665.1 612.7a2.55 2.55 0 1 0 5.1 0a2.55 2.55 0 1 0 -5.1 0M670.2 611.0a2.55 2.55 0 1 0 5.1 0a2.55 2.55 0 1 0 -5.1 0M676.5 605.9a2.55 2.55 0 1 0 5.1 0a2.55 2.55 0 1 0 -5.1 0M674.6 616.3a2.55 2.55 0 1 0 5.1 0a2.55 2.55 0 1 0 -5.1 0M671.7 619.3a2.55 2.55 0 1 0 5.1 0a2.55 2.55 0 1 0 -5.1 0M684.7 601.8a2.55 2.55 0 1 0 5.1 0a2.55 2.55 0 1 0 -5.1 0M686.5 613.1a2.55 2.55 0 1 0 5.1 0a2.55 2.55 0 1 0 -5.1 0M744.2 604.0a2.55 2.55 0 1 0 5.1 0a2.55 2.55 0 1 0 -5.1 0M700.0 611.3a2.55 2.55 0 1 0 5.1 0a2.55 2.55 0 1 0 -5.1 0M702.9 608.3a2.55 2.55 0 1 0 5.1 0a2.55 2.55 0 1 0 -5.1 0M704.1 612.7a2.55 2.55 0 1 0 5.1 0a2.55 2.55 0 1 0 -5.1 0M696.4 619.5a2.55 2.55 0 1 0 5.1 0a2.55 2.55 0 1 0 -5.1 0M701.0 624.8a2.55 2.55 0 1 0 5.1 0a2.55 2.55 0 1 0 -5.1 0M709.9 610.5a2.55 2.55 0 1 0 5.1 0a2.55 2.55 0 1 0 -5.1 0M713.1 612.7a2.55 2.55 0 1 0 5.1 0a2.55 2.55 0 1 0 -5.1 0M712.1 617.5a2.55 2.55 0 1 0 5.1 0a2.55 2.55 0 1 0 -5.1 0M713.8 622.9a2.55 2.55 0 1 0 5.1 0a2.55 2.55 0 1 0 -5.1 0M724.4 610.2a2.55 2.55 0 1 0 5.1 0a2.55 2.55 0 1 0 -5.1 0M732.7 620.4a2.55 2.55 0 1 0 5.1 0a2.55 2.55 0 1 0 -5.1 0M666.4 565.8a2.55 2.55 0 1 0 5.1 0a2.55 2.55 0 1 0 -5.1 0M574.9 559.1a2.55 2.55 0 1 0 5.1 0a2.55 2.55 0 1 0 -5.1 0M580.2 560.0a2.55 2.55 0 1 0 5.1 0a2.55 2.55 0 1 0 -5.1 0M583.8 560.2a2.55 2.55 0 1 0 5.1 0a2.55 2.55 0 1 0 -5.1 0M579.2 564.0a2.55 2.55 0 1 0 5.1 0a2.55 2.55 0 1 0 -5.1 0M563.5 572.5a2.55 2.55 0 1 0 5.1 0a2.55 2.55 0 1 0 -5.1 0M574.1 576.5a2.55 2.55 0 1 0 5.1 0a2.55 2.55 0 1 0 -5.1 0M582.0 576.9a2.55 2.55 0 1 0 5.1 0a2.55 2.55 0 1 0 -5.1 0M566.9 580.5a2.55 2.55 0 1 0 5.1 0a2.55 2.55 0 1 0 -5.1 0M551.5 582.0a2.55 2.55 0 1 0 5.1 0a2.55 2.55 0 1 0 -5.1 0M548.6 594.2a2.55 2.55 0 1 0 5.1 0a2.55 2.55 0 1 0 -5.1 0M609.0 588.5a2.55 2.55 0 1 0 5.1 0a2.55 2.55 0 1 0 -5.1 0M599.5 596.8a2.55 2.55 0 1 0 5.1 0a2.55 2.55 0 1 0 -5.1 0M377.1 627.1a2.55 2.55 0 1 0 5.1 0a2.55 2.55 0 1 0 -5.1 0M383.6 628.1a2.55 2.55 0 1 0 5.1 0a2.55 2.55 0 1 0 -5.1 0M386.6 630.0a2.55 2.55 0 1 0 5.1 0a2.55 2.55 0 1 0 -5.1 0M391.3 626.8a2.55 2.55 0 1 0 5.1 0a2.55 2.55 0 1 0 -5.1 0M415.8 621.3a2.55 2.55 0 1 0 5.1 0a2.55 2.55 0 1 0 -5.1 0M407.6 626.3a2.55 2.55 0 1 0 5.1 0a2.55 2.55 0 1 0 -5.1 0M405.4 630.7a2.55 2.55 0 1 0 5.1 0a2.55 2.55 0 1 0 -5.1 0M411.9 629.2a2.55 2.55 0 1 0 5.1 0a2.55 2.55 0 1 0 -5.1 0M420.6 629.2a2.55 2.55 0 1 0 5.1 0a2.55 2.55 0 1 0 -5.1 0M427.6 629.2a2.55 2.55 0 1 0 5.1 0a2.55 2.55 0 1 0 -5.1 0M431.6 627.8a2.55 2.55 0 1 0 5.1 0a2.55 2.55 0 1 0 -5.1 0M435.2 629.2a2.55 2.55 0 1 0 5.1 0a2.55 2.55 0 1 0 -5.1 0M437.1 623.7a2.55 2.55 0 1 0 5.1 0a2.55 2.55 0 1 0 -5.1 0M439.6 627.1a2.55 2.55 0 1 0 5.1 0a2.55 2.55 0 1 0 -5.1 0M444.6 622.0a2.55 2.55 0 1 0 5.1 0a2.55 2.55 0 1 0 -5.1 0M443.9 628.5a2.55 2.55 0 1 0 5.1 0a2.55 2.55 0 1 0 -5.1 0M451.9 623.4a2.55 2.55 0 1 0 5.1 0a2.55 2.55 0 1 0 -5.1 0M451.9 627.1a2.55 2.55 0 1 0 5.1 0a2.55 2.55 0 1 0 -5.1 0M453.3 630.0a2.55 2.55 0 1 0 5.1 0a2.55 2.55 0 1 0 -5.1 0M461.8 614.7a2.55 2.55 0 1 0 5.1 0a2.55 2.55 0 1 0 -5.1 0M459.2 624.2a2.55 2.55 0 1 0 5.1 0a2.55 2.55 0 1 0 -5.1 0M461.3 628.5a2.55 2.55 0 1 0 5.1 0a2.55 2.55 0 1 0 -5.1 0M464.2 627.1a2.55 2.55 0 1 0 5.1 0a2.55 2.55 0 1 0 -5.1 0M466.4 625.6a2.55 2.55 0 1 0 5.1 0a2.55 2.55 0 1 0 -5.1 0M469.3 623.4a2.55 2.55 0 1 0 5.1 0a2.55 2.55 0 1 0 -5.1 0M465.8 629.2a2.55 2.55 0 1 0 5.1 0a2.55 2.55 0 1 0 -5.1 0M469.3 627.8a2.55 2.55 0 1 0 5.1 0a2.55 2.55 0 1 0 -5.1 0M472.2 627.1a2.55 2.55 0 1 0 5.1 0a2.55 2.55 0 1 0 -5.1 0M475.1 626.3a2.55 2.55 0 1 0 5.1 0a2.55 2.55 0 1 0 -5.1 0M478.1 627.1a2.55 2.55 0 1 0 5.1 0a2.55 2.55 0 1 0 -5.1 0M475.1 629.2a2.55 2.55 0 1 0 5.1 0a2.55 2.55 0 1 0 -5.1 0M481.1 625.6a2.55 2.55 0 1 0 5.1 0a2.55 2.55 0 1 0 -5.1 0M484.6 619.8a2.55 2.55 0 1 0 5.1 0a2.55 2.55 0 1 0 -5.1 0M483.9 624.2a2.55 2.55 0 1 0 5.1 0a2.55 2.55 0 1 0 -5.1 0M486.8 628.5a2.55 2.55 0 1 0 5.1 0a2.55 2.55 0 1 0 -5.1 0M491.9 619.8a2.55 2.55 0 1 0 5.1 0a2.55 2.55 0 1 0 -5.1 0M491.1 624.9a2.55 2.55 0 1 0 5.1 0a2.55 2.55 0 1 0 -5.1 0M494.1 628.5a2.55 2.55 0 1 0 5.1 0a2.55 2.55 0 1 0 -5.1 0M496.2 624.9a2.55 2.55 0 1 0 5.1 0a2.55 2.55 0 1 0 -5.1 0M497.1 615.4a2.55 2.55 0 1 0 5.1 0a2.55 2.55 0 1 0 -5.1 0M592.2 625.1a2.55 2.55 0 1 0 5.1 0a2.55 2.55 0 1 0 -5.1 0M601.5 629.5a2.55 2.55 0 1 0 5.1 0a2.55 2.55 0 1 0 -5.1 0M590.2 611.2a2.55 2.55 0 1 0 5.1 0a2.55 2.55 0 1 0 -5.1 0M600.4 612.3a2.55 2.55 0 1 0 5.1 0a2.55 2.55 0 1 0 -5.1 0M606.6 610.2a2.55 2.55 0 1 0 5.1 0a2.55 2.55 0 1 0 -5.1 0M602.5 616.5a2.55 2.55 0 1 0 5.1 0a2.55 2.55 0 1 0 -5.1 0M597.5 618.1a2.55 2.55 0 1 0 5.1 0a2.55 2.55 0 1 0 -5.1 0M600.8 621.9a2.55 2.55 0 1 0 5.1 0a2.55 2.55 0 1 0 -5.1 0M606.6 621.5a2.55 2.55 0 1 0 5.1 0a2.55 2.55 0 1 0 -5.1 0M609.1 624.0a2.55 2.55 0 1 0 5.1 0a2.55 2.55 0 1 0 -5.1 0M612.4 621.5a2.55 2.55 0 1 0 5.1 0a2.55 2.55 0 1 0 -5.1 0M615.7 624.0a2.55 2.55 0 1 0 5.1 0a2.55 2.55 0 1 0 -5.1 0M616.6 607.8a2.55 2.55 0 1 0 5.1 0a2.55 2.55 0 1 0 -5.1 0M615.2 611.5a2.55 2.55 0 1 0 5.1 0a2.55 2.55 0 1 0 -5.1 0M613.7 615.2a2.55 2.55 0 1 0 5.1 0a2.55 2.55 0 1 0 -5.1 0M620.2 615.6a2.55 2.55 0 1 0 5.1 0a2.55 2.55 0 1 0 -5.1 0M624.9 615.6a2.55 2.55 0 1 0 5.1 0a2.55 2.55 0 1 0 -5.1 0M627.4 611.5a2.55 2.55 0 1 0 5.1 0a2.55 2.55 0 1 0 -5.1 0M623.2 624.0a2.55 2.55 0 1 0 5.1 0a2.55 2.55 0 1 0 -5.1 0M629.9 624.0a2.55 2.55 0 1 0 5.1 0a2.55 2.55 0 1 0 -5.1 0M632.8 621.9a2.55 2.55 0 1 0 5.1 0a2.55 2.55 0 1 0 -5.1 0M631.9 616.9a2.55 2.55 0 1 0 5.1 0a2.55 2.55 0 1 0 -5.1 0M630.7 607.3a2.55 2.55 0 1 0 5.1 0a2.55 2.55 0 1 0 -5.1 0M634.8 606.1a2.55 2.55 0 1 0 5.1 0a2.55 2.55 0 1 0 -5.1 0M632.8 609.0a2.55 2.55 0 1 0 5.1 0a2.55 2.55 0 1 0 -5.1 0M520.1 482.5a2.55 2.55 0 1 0 5.1 0a2.55 2.55 0 1 0 -5.1 0M655.5 535.1a2.55 2.55 0 1 0 5.1 0a2.55 2.55 0 1 0 -5.1 0M680.4 542.6a2.55 2.55 0 1 0 5.1 0a2.55 2.55 0 1 0 -5.1 0M669.1 552.5a2.55 2.55 0 1 0 5.1 0a2.55 2.55 0 1 0 -5.1 0M657.2 555.1a2.55 2.55 0 1 0 5.1 0a2.55 2.55 0 1 0 -5.1 0M659.8 556.5a2.55 2.55 0 1 0 5.1 0a2.55 2.55 0 1 0 -5.1 0M591.4 336.3a2.55 2.55 0 1 0 5.1 0a2.55 2.55 0 1 0 -5.1 0M606.2 336.9a2.55 2.55 0 1 0 5.1 0a2.55 2.55 0 1 0 -5.1 0M596.4 335.1a2.55 2.55 0 1 0 5.1 0a2.55 2.55 0 1 0 -5.1 0M603.9 337.8a2.55 2.55 0 1 0 5.1 0a2.55 2.55 0 1 0 -5.1 0M634.0 334.8a2.55 2.55 0 1 0 5.1 0a2.55 2.55 0 1 0 -5.1 0M632.8 333.0a2.55 2.55 0 1 0 5.1 0a2.55 2.55 0 1 0 -5.1 0M632.4 343.2a2.55 2.55 0 1 0 5.1 0a2.55 2.55 0 1 0 -5.1 0M623.2 343.2a2.55 2.55 0 1 0 5.1 0a2.55 2.55 0 1 0 -5.1 0M623.5 349.5a2.55 2.55 0 1 0 5.1 0a2.55 2.55 0 1 0 -5.1 0M628.8 338.3a2.55 2.55 0 1 0 5.1 0a2.55 2.55 0 1 0 -5.1 0M654.1 329.8a2.55 2.55 0 1 0 5.1 0a2.55 2.55 0 1 0 -5.1 0M656.0 346.4a2.55 2.55 0 1 0 5.1 0a2.55 2.55 0 1 0 -5.1 0M638.1 347.3a2.55 2.55 0 1 0 5.1 0a2.55 2.55 0 1 0 -5.1 0M642.7 354.0a2.55 2.55 0 1 0 5.1 0a2.55 2.55 0 1 0 -5.1 0M640.9 336.8a2.55 2.55 0 1 0 5.1 0a2.55 2.55 0 1 0 -5.1 0M648.4 333.0a2.55 2.55 0 1 0 5.1 0a2.55 2.55 0 1 0 -5.1 0M662.0 342.9a2.55 2.55 0 1 0 5.1 0a2.55 2.55 0 1 0 -5.1 0M642.6 335.0a2.55 2.55 0 1 0 5.1 0a2.55 2.55 0 1 0 -5.1 0M636.8 340.3a2.55 2.55 0 1 0 5.1 0a2.55 2.55 0 1 0 -5.1 0M647.8 344.8a2.55 2.55 0 1 0 5.1 0a2.55 2.55 0 1 0 -5.1 0M670.3 332.9a2.55 2.55 0 1 0 5.1 0a2.55 2.55 0 1 0 -5.1 0M677.0 337.5a2.55 2.55 0 1 0 5.1 0a2.55 2.55 0 1 0 -5.1 0M667.9 330.0a2.55 2.55 0 1 0 5.1 0a2.55 2.55 0 1 0 -5.1 0M669.0 349.7a2.55 2.55 0 1 0 5.1 0a2.55 2.55 0 1 0 -5.1 0M676.3 345.7a2.55 2.55 0 1 0 5.1 0a2.55 2.55 0 1 0 -5.1 0M694.6 348.7a2.55 2.55 0 1 0 5.1 0a2.55 2.55 0 1 0 -5.1 0M676.5 336.2a2.55 2.55 0 1 0 5.1 0a2.55 2.55 0 1 0 -5.1 0M708.8 338.0a2.55 2.55 0 1 0 5.1 0a2.55 2.55 0 1 0 -5.1 0M710.8 340.2a2.55 2.55 0 1 0 5.1 0a2.55 2.55 0 1 0 -5.1 0M699.9 331.3a2.55 2.55 0 1 0 5.1 0a2.55 2.55 0 1 0 -5.1 0M734.1 342.9a2.55 2.55 0 1 0 5.1 0a2.55 2.55 0 1 0 -5.1 0M728.8 330.5a2.55 2.55 0 1 0 5.1 0a2.55 2.55 0 1 0 -5.1 0M723.6 344.2a2.55 2.55 0 1 0 5.1 0a2.55 2.55 0 1 0 -5.1 0M732.7 345.4a2.55 2.55 0 1 0 5.1 0a2.55 2.55 0 1 0 -5.1 0M738.0 333.5a2.55 2.55 0 1 0 5.1 0a2.55 2.55 0 1 0 -5.1 0M746.0 344.5a2.55 2.55 0 1 0 5.1 0a2.55 2.55 0 1 0 -5.1 0M745.5 348.9a2.55 2.55 0 1 0 5.1 0a2.55 2.55 0 1 0 -5.1 0M750.6 336.4a2.55 2.55 0 1 0 5.1 0a2.55 2.55 0 1 0 -5.1 0M748.4 344.1a2.55 2.55 0 1 0 5.1 0a2.55 2.55 0 1 0 -5.1 0M757.3 335.8a2.55 2.55 0 1 0 5.1 0a2.55 2.55 0 1 0 -5.1 0M766.1 337.4a2.55 2.55 0 1 0 5.1 0a2.55 2.55 0 1 0 -5.1 0M767.4 340.4a2.55 2.55 0 1 0 5.1 0a2.55 2.55 0 1 0 -5.1 0M771.9 333.0a2.55 2.55 0 1 0 5.1 0a2.55 2.55 0 1 0 -5.1 0M760.7 343.0a2.55 2.55 0 1 0 5.1 0a2.55 2.55 0 1 0 -5.1 0M787.1 346.8a2.55 2.55 0 1 0 5.1 0a2.55 2.55 0 1 0 -5.1 0M775.6 342.5a2.55 2.55 0 1 0 5.1 0a2.55 2.55 0 1 0 -5.1 0M780.5 332.3a2.55 2.55 0 1 0 5.1 0a2.55 2.55 0 1 0 -5.1 0M783.6 330.5a2.55 2.55 0 1 0 5.1 0a2.55 2.55 0 1 0 -5.1 0M790.1 348.0a2.55 2.55 0 1 0 5.1 0a2.55 2.55 0 1 0 -5.1 0M789.3 346.7a2.55 2.55 0 1 0 5.1 0a2.55 2.55 0 1 0 -5.1 0M779.0 331.8a2.55 2.55 0 1 0 5.1 0a2.55 2.55 0 1 0 -5.1 0M798.0 349.9a2.55 2.55 0 1 0 5.1 0a2.55 2.55 0 1 0 -5.1 0M783.9 341.3a2.55 2.55 0 1 0 5.1 0a2.55 2.55 0 1 0 -5.1 0M779.0 347.0a2.55 2.55 0 1 0 5.1 0a2.55 2.55 0 1 0 -5.1 0M798.8 348.7a2.55 2.55 0 1 0 5.1 0a2.55 2.55 0 1 0 -5.1 0M823.0 338.1a2.55 2.55 0 1 0 5.1 0a2.55 2.55 0 1 0 -5.1 0M814.9 343.3a2.55 2.55 0 1 0 5.1 0a2.55 2.55 0 1 0 -5.1 0M816.4 345.9a2.55 2.55 0 1 0 5.1 0a2.55 2.55 0 1 0 -5.1 0M811.4 334.7a2.55 2.55 0 1 0 5.1 0a2.55 2.55 0 1 0 -5.1 0M804.3 337.1a2.55 2.55 0 1 0 5.1 0a2.55 2.55 0 1 0 -5.1 0M809.2 339.7a2.55 2.55 0 1 0 5.1 0a2.55 2.55 0 1 0 -5.1 0M816.0 329.9a2.55 2.55 0 1 0 5.1 0a2.55 2.55 0 1 0 -5.1 0M818.2 336.5a2.55 2.55 0 1 0 5.1 0a2.55 2.55 0 1 0 -5.1 0M809.9 335.7a2.55 2.55 0 1 0 5.1 0a2.55 2.55 0 1 0 -5.1 0M821.8 343.8a2.55 2.55 0 1 0 5.1 0a2.55 2.55 0 1 0 -5.1 0M833.9 345.3a2.55 2.55 0 1 0 5.1 0a2.55 2.55 0 1 0 -5.1 0M830.9 341.8a2.55 2.55 0 1 0 5.1 0a2.55 2.55 0 1 0 -5.1 0M823.9 341.5a2.55 2.55 0 1 0 5.1 0a2.55 2.55 0 1 0 -5.1 0M821.0 337.4a2.55 2.55 0 1 0 5.1 0a2.55 2.55 0 1 0 -5.1 0M819.6 331.0a2.55 2.55 0 1 0 5.1 0a2.55 2.55 0 1 0 -5.1 0M833.3 334.2a2.55 2.55 0 1 0 5.1 0a2.55 2.55 0 1 0 -5.1 0M830.0 331.5a2.55 2.55 0 1 0 5.1 0a2.55 2.55 0 1 0 -5.1 0M818.0 334.1a2.55 2.55 0 1 0 5.1 0a2.55 2.55 0 1 0 -5.1 0M818.1 340.9a2.55 2.55 0 1 0 5.1 0a2.55 2.55 0 1 0 -5.1 0M849.6 336.0a2.55 2.55 0 1 0 5.1 0a2.55 2.55 0 1 0 -5.1 0M853.5 343.1a2.55 2.55 0 1 0 5.1 0a2.55 2.55 0 1 0 -5.1 0M844.5 341.9a2.55 2.55 0 1 0 5.1 0a2.55 2.55 0 1 0 -5.1 0M841.6 340.7a2.55 2.55 0 1 0 5.1 0a2.55 2.55 0 1 0 -5.1 0M836.0 347.5a2.55 2.55 0 1 0 5.1 0a2.55 2.55 0 1 0 -5.1 0M858.4 329.7a2.55 2.55 0 1 0 5.1 0a2.55 2.55 0 1 0 -5.1 0M580.2 372.1a2.55 2.55 0 1 0 5.1 0a2.55 2.55 0 1 0 -5.1 0M583.6 360.2a2.55 2.55 0 1 0 5.1 0a2.55 2.55 0 1 0 -5.1 0M598.4 363.2a2.55 2.55 0 1 0 5.1 0a2.55 2.55 0 1 0 -5.1 0M603.1 366.4a2.55 2.55 0 1 0 5.1 0a2.55 2.55 0 1 0 -5.1 0M603.5 364.4a2.55 2.55 0 1 0 5.1 0a2.55 2.55 0 1 0 -5.1 0M615.6 352.7a2.55 2.55 0 1 0 5.1 0a2.55 2.55 0 1 0 -5.1 0M613.5 362.7a2.55 2.55 0 1 0 5.1 0a2.55 2.55 0 1 0 -5.1 0M602.0 362.2a2.55 2.55 0 1 0 5.1 0a2.55 2.55 0 1 0 -5.1 0M634.5 354.9a2.55 2.55 0 1 0 5.1 0a2.55 2.55 0 1 0 -5.1 0M617.2 360.7a2.55 2.55 0 1 0 5.1 0a2.55 2.55 0 1 0 -5.1 0M633.8 364.0a2.55 2.55 0 1 0 5.1 0a2.55 2.55 0 1 0 -5.1 0M615.4 366.5a2.55 2.55 0 1 0 5.1 0a2.55 2.55 0 1 0 -5.1 0M637.5 353.7a2.55 2.55 0 1 0 5.1 0a2.55 2.55 0 1 0 -5.1 0M625.3 359.0a2.55 2.55 0 1 0 5.1 0a2.55 2.55 0 1 0 -5.1 0M630.4 365.1a2.55 2.55 0 1 0 5.1 0a2.55 2.55 0 1 0 -5.1 0M629.2 353.9a2.55 2.55 0 1 0 5.1 0a2.55 2.55 0 1 0 -5.1 0M626.9 345.5a2.55 2.55 0 1 0 5.1 0a2.55 2.55 0 1 0 -5.1 0M640.7 351.9a2.55 2.55 0 1 0 5.1 0a2.55 2.55 0 1 0 -5.1 0M637.4 349.2a2.55 2.55 0 1 0 5.1 0a2.55 2.55 0 1 0 -5.1 0M624.4 368.8a2.55 2.55 0 1 0 5.1 0a2.55 2.55 0 1 0 -5.1 0M627.4 351.7a2.55 2.55 0 1 0 5.1 0a2.55 2.55 0 1 0 -5.1 0M632.4 365.5a2.55 2.55 0 1 0 5.1 0a2.55 2.55 0 1 0 -5.1 0M627.0 353.1a2.55 2.55 0 1 0 5.1 0a2.55 2.55 0 1 0 -5.1 0M620.8 354.3a2.55 2.55 0 1 0 5.1 0a2.55 2.55 0 1 0 -5.1 0M623.3 351.4a2.55 2.55 0 1 0 5.1 0a2.55 2.55 0 1 0 -5.1 0M621.8 357.9a2.55 2.55 0 1 0 5.1 0a2.55 2.55 0 1 0 -5.1 0M627.3 367.4a2.55 2.55 0 1 0 5.1 0a2.55 2.55 0 1 0 -5.1 0M621.5 353.9a2.55 2.55 0 1 0 5.1 0a2.55 2.55 0 1 0 -5.1 0M645.9 369.7a2.55 2.55 0 1 0 5.1 0a2.55 2.55 0 1 0 -5.1 0M652.9 358.4a2.55 2.55 0 1 0 5.1 0a2.55 2.55 0 1 0 -5.1 0M646.1 355.5a2.55 2.55 0 1 0 5.1 0a2.55 2.55 0 1 0 -5.1 0M655.9 349.2a2.55 2.55 0 1 0 5.1 0a2.55 2.55 0 1 0 -5.1 0M645.1 368.8a2.55 2.55 0 1 0 5.1 0a2.55 2.55 0 1 0 -5.1 0M650.2 353.2a2.55 2.55 0 1 0 5.1 0a2.55 2.55 0 1 0 -5.1 0M651.4 357.3a2.55 2.55 0 1 0 5.1 0a2.55 2.55 0 1 0 -5.1 0M651.3 356.2a2.55 2.55 0 1 0 5.1 0a2.55 2.55 0 1 0 -5.1 0M642.0 370.4a2.55 2.55 0 1 0 5.1 0a2.55 2.55 0 1 0 -5.1 0M646.4 353.2a2.55 2.55 0 1 0 5.1 0a2.55 2.55 0 1 0 -5.1 0M644.6 358.7a2.55 2.55 0 1 0 5.1 0a2.55 2.55 0 1 0 -5.1 0M658.5 368.3a2.55 2.55 0 1 0 5.1 0a2.55 2.55 0 1 0 -5.1 0M655.4 349.2a2.55 2.55 0 1 0 5.1 0a2.55 2.55 0 1 0 -5.1 0M636.6 347.7a2.55 2.55 0 1 0 5.1 0a2.55 2.55 0 1 0 -5.1 0M644.0 353.1a2.55 2.55 0 1 0 5.1 0a2.55 2.55 0 1 0 -5.1 0M652.3 355.8a2.55 2.55 0 1 0 5.1 0a2.55 2.55 0 1 0 -5.1 0M650.3 354.7a2.55 2.55 0 1 0 5.1 0a2.55 2.55 0 1 0 -5.1 0M653.0 353.3a2.55 2.55 0 1 0 5.1 0a2.55 2.55 0 1 0 -5.1 0M646.6 361.6a2.55 2.55 0 1 0 5.1 0a2.55 2.55 0 1 0 -5.1 0M648.2 364.3a2.55 2.55 0 1 0 5.1 0a2.55 2.55 0 1 0 -5.1 0M648.5 360.7a2.55 2.55 0 1 0 5.1 0a2.55 2.55 0 1 0 -5.1 0M655.8 357.2a2.55 2.55 0 1 0 5.1 0a2.55 2.55 0 1 0 -5.1 0M651.1 358.1a2.55 2.55 0 1 0 5.1 0a2.55 2.55 0 1 0 -5.1 0M651.4 353.0a2.55 2.55 0 1 0 5.1 0a2.55 2.55 0 1 0 -5.1 0M643.8 366.4a2.55 2.55 0 1 0 5.1 0a2.55 2.55 0 1 0 -5.1 0M662.2 353.1a2.55 2.55 0 1 0 5.1 0a2.55 2.55 0 1 0 -5.1 0M666.6 357.0a2.55 2.55 0 1 0 5.1 0a2.55 2.55 0 1 0 -5.1 0M655.0 355.0a2.55 2.55 0 1 0 5.1 0a2.55 2.55 0 1 0 -5.1 0M664.8 356.7a2.55 2.55 0 1 0 5.1 0a2.55 2.55 0 1 0 -5.1 0M677.7 354.7a2.55 2.55 0 1 0 5.1 0a2.55 2.55 0 1 0 -5.1 0M658.1 357.6a2.55 2.55 0 1 0 5.1 0a2.55 2.55 0 1 0 -5.1 0M671.9 355.3a2.55 2.55 0 1 0 5.1 0a2.55 2.55 0 1 0 -5.1 0M661.8 353.6a2.55 2.55 0 1 0 5.1 0a2.55 2.55 0 1 0 -5.1 0M675.6 356.1a2.55 2.55 0 1 0 5.1 0a2.55 2.55 0 1 0 -5.1 0M667.3 358.3a2.55 2.55 0 1 0 5.1 0a2.55 2.55 0 1 0 -5.1 0M682.2 366.8a2.55 2.55 0 1 0 5.1 0a2.55 2.55 0 1 0 -5.1 0M686.8 347.9a2.55 2.55 0 1 0 5.1 0a2.55 2.55 0 1 0 -5.1 0M680.6 361.7a2.55 2.55 0 1 0 5.1 0a2.55 2.55 0 1 0 -5.1 0M698.1 356.2a2.55 2.55 0 1 0 5.1 0a2.55 2.55 0 1 0 -5.1 0M690.6 368.3a2.55 2.55 0 1 0 5.1 0a2.55 2.55 0 1 0 -5.1 0M691.3 360.2a2.55 2.55 0 1 0 5.1 0a2.55 2.55 0 1 0 -5.1 0M705.1 355.0a2.55 2.55 0 1 0 5.1 0a2.55 2.55 0 1 0 -5.1 0M706.9 345.3a2.55 2.55 0 1 0 5.1 0a2.55 2.55 0 1 0 -5.1 0M695.2 362.4a2.55 2.55 0 1 0 5.1 0a2.55 2.55 0 1 0 -5.1 0M717.0 362.4a2.55 2.55 0 1 0 5.1 0a2.55 2.55 0 1 0 -5.1 0M696.7 351.8a2.55 2.55 0 1 0 5.1 0a2.55 2.55 0 1 0 -5.1 0M693.8 354.4a2.55 2.55 0 1 0 5.1 0a2.55 2.55 0 1 0 -5.1 0M703.3 354.9a2.55 2.55 0 1 0 5.1 0a2.55 2.55 0 1 0 -5.1 0M715.6 361.0a2.55 2.55 0 1 0 5.1 0a2.55 2.55 0 1 0 -5.1 0M698.0 358.6a2.55 2.55 0 1 0 5.1 0a2.55 2.55 0 1 0 -5.1 0M714.0 363.9a2.55 2.55 0 1 0 5.1 0a2.55 2.55 0 1 0 -5.1 0M714.9 352.0a2.55 2.55 0 1 0 5.1 0a2.55 2.55 0 1 0 -5.1 0M711.7 355.1a2.55 2.55 0 1 0 5.1 0a2.55 2.55 0 1 0 -5.1 0M700.4 365.4a2.55 2.55 0 1 0 5.1 0a2.55 2.55 0 1 0 -5.1 0M696.5 359.9a2.55 2.55 0 1 0 5.1 0a2.55 2.55 0 1 0 -5.1 0M728.8 360.9a2.55 2.55 0 1 0 5.1 0a2.55 2.55 0 1 0 -5.1 0M729.5 364.0a2.55 2.55 0 1 0 5.1 0a2.55 2.55 0 1 0 -5.1 0M728.4 354.1a2.55 2.55 0 1 0 5.1 0a2.55 2.55 0 1 0 -5.1 0M724.9 357.8a2.55 2.55 0 1 0 5.1 0a2.55 2.55 0 1 0 -5.1 0M732.8 357.4a2.55 2.55 0 1 0 5.1 0a2.55 2.55 0 1 0 -5.1 0M738.1 362.0a2.55 2.55 0 1 0 5.1 0a2.55 2.55 0 1 0 -5.1 0M733.4 364.6a2.55 2.55 0 1 0 5.1 0a2.55 2.55 0 1 0 -5.1 0M726.0 366.9a2.55 2.55 0 1 0 5.1 0a2.55 2.55 0 1 0 -5.1 0M736.9 347.4a2.55 2.55 0 1 0 5.1 0a2.55 2.55 0 1 0 -5.1 0M733.9 359.0a2.55 2.55 0 1 0 5.1 0a2.55 2.55 0 1 0 -5.1 0M717.6 369.7a2.55 2.55 0 1 0 5.1 0a2.55 2.55 0 1 0 -5.1 0M725.9 357.6a2.55 2.55 0 1 0 5.1 0a2.55 2.55 0 1 0 -5.1 0M720.9 356.9a2.55 2.55 0 1 0 5.1 0a2.55 2.55 0 1 0 -5.1 0M740.0 348.5a2.55 2.55 0 1 0 5.1 0a2.55 2.55 0 1 0 -5.1 0M753.8 368.3a2.55 2.55 0 1 0 5.1 0a2.55 2.55 0 1 0 -5.1 0M759.2 354.0a2.55 2.55 0 1 0 5.1 0a2.55 2.55 0 1 0 -5.1 0M754.4 357.9a2.55 2.55 0 1 0 5.1 0a2.55 2.55 0 1 0 -5.1 0M756.4 362.9a2.55 2.55 0 1 0 5.1 0a2.55 2.55 0 1 0 -5.1 0M748.8 367.7a2.55 2.55 0 1 0 5.1 0a2.55 2.55 0 1 0 -5.1 0M748.0 356.5a2.55 2.55 0 1 0 5.1 0a2.55 2.55 0 1 0 -5.1 0M745.5 355.3a2.55 2.55 0 1 0 5.1 0a2.55 2.55 0 1 0 -5.1 0M739.4 360.3a2.55 2.55 0 1 0 5.1 0a2.55 2.55 0 1 0 -5.1 0M751.9 364.2a2.55 2.55 0 1 0 5.1 0a2.55 2.55 0 1 0 -5.1 0M741.2 370.7a2.55 2.55 0 1 0 5.1 0a2.55 2.55 0 1 0 -5.1 0M759.4 354.6a2.55 2.55 0 1 0 5.1 0a2.55 2.55 0 1 0 -5.1 0M750.8 352.2a2.55 2.55 0 1 0 5.1 0a2.55 2.55 0 1 0 -5.1 0M764.8 369.3a2.55 2.55 0 1 0 5.1 0a2.55 2.55 0 1 0 -5.1 0M774.4 350.6a2.55 2.55 0 1 0 5.1 0a2.55 2.55 0 1 0 -5.1 0M759.7 367.3a2.55 2.55 0 1 0 5.1 0a2.55 2.55 0 1 0 -5.1 0M774.0 357.7a2.55 2.55 0 1 0 5.1 0a2.55 2.55 0 1 0 -5.1 0M767.0 369.3a2.55 2.55 0 1 0 5.1 0a2.55 2.55 0 1 0 -5.1 0M773.7 347.0a2.55 2.55 0 1 0 5.1 0a2.55 2.55 0 1 0 -5.1 0M761.5 354.7a2.55 2.55 0 1 0 5.1 0a2.55 2.55 0 1 0 -5.1 0M766.1 366.7a2.55 2.55 0 1 0 5.1 0a2.55 2.55 0 1 0 -5.1 0M753.3 367.4a2.55 2.55 0 1 0 5.1 0a2.55 2.55 0 1 0 -5.1 0M758.6 362.1a2.55 2.55 0 1 0 5.1 0a2.55 2.55 0 1 0 -5.1 0M757.4 353.5a2.55 2.55 0 1 0 5.1 0a2.55 2.55 0 1 0 -5.1 0M761.3 358.5a2.55 2.55 0 1 0 5.1 0a2.55 2.55 0 1 0 -5.1 0M776.6 354.1a2.55 2.55 0 1 0 5.1 0a2.55 2.55 0 1 0 -5.1 0M793.8 354.7a2.55 2.55 0 1 0 5.1 0a2.55 2.55 0 1 0 -5.1 0M791.3 367.9a2.55 2.55 0 1 0 5.1 0a2.55 2.55 0 1 0 -5.1 0M797.3 344.0a2.55 2.55 0 1 0 5.1 0a2.55 2.55 0 1 0 -5.1 0M799.3 371.8a2.55 2.55 0 1 0 5.1 0a2.55 2.55 0 1 0 -5.1 0M788.0 348.7a2.55 2.55 0 1 0 5.1 0a2.55 2.55 0 1 0 -5.1 0M796.6 356.6a2.55 2.55 0 1 0 5.1 0a2.55 2.55 0 1 0 -5.1 0M788.9 361.9a2.55 2.55 0 1 0 5.1 0a2.55 2.55 0 1 0 -5.1 0M795.6 350.8a2.55 2.55 0 1 0 5.1 0a2.55 2.55 0 1 0 -5.1 0M779.7 365.7a2.55 2.55 0 1 0 5.1 0a2.55 2.55 0 1 0 -5.1 0M779.1 363.6a2.55 2.55 0 1 0 5.1 0a2.55 2.55 0 1 0 -5.1 0M779.3 359.1a2.55 2.55 0 1 0 5.1 0a2.55 2.55 0 1 0 -5.1 0M781.9 368.5a2.55 2.55 0 1 0 5.1 0a2.55 2.55 0 1 0 -5.1 0M786.5 369.8a2.55 2.55 0 1 0 5.1 0a2.55 2.55 0 1 0 -5.1 0M786.4 363.2a2.55 2.55 0 1 0 5.1 0a2.55 2.55 0 1 0 -5.1 0M785.5 369.3a2.55 2.55 0 1 0 5.1 0a2.55 2.55 0 1 0 -5.1 0M793.4 373.2a2.55 2.55 0 1 0 5.1 0a2.55 2.55 0 1 0 -5.1 0M787.1 366.6a2.55 2.55 0 1 0 5.1 0a2.55 2.55 0 1 0 -5.1 0M794.4 357.9a2.55 2.55 0 1 0 5.1 0a2.55 2.55 0 1 0 -5.1 0M781.9 361.5a2.55 2.55 0 1 0 5.1 0a2.55 2.55 0 1 0 -5.1 0M790.2 356.4a2.55 2.55 0 1 0 5.1 0a2.55 2.55 0 1 0 -5.1 0M796.9 356.9a2.55 2.55 0 1 0 5.1 0a2.55 2.55 0 1 0 -5.1 0M781.2 356.8a2.55 2.55 0 1 0 5.1 0a2.55 2.55 0 1 0 -5.1 0M783.6 353.1a2.55 2.55 0 1 0 5.1 0a2.55 2.55 0 1 0 -5.1 0M776.4 362.2a2.55 2.55 0 1 0 5.1 0a2.55 2.55 0 1 0 -5.1 0M784.4 362.1a2.55 2.55 0 1 0 5.1 0a2.55 2.55 0 1 0 -5.1 0M792.2 368.2a2.55 2.55 0 1 0 5.1 0a2.55 2.55 0 1 0 -5.1 0M788.5 356.0a2.55 2.55 0 1 0 5.1 0a2.55 2.55 0 1 0 -5.1 0M794.0 353.5a2.55 2.55 0 1 0 5.1 0a2.55 2.55 0 1 0 -5.1 0M772.4 368.1a2.55 2.55 0 1 0 5.1 0a2.55 2.55 0 1 0 -5.1 0M802.3 371.3a2.55 2.55 0 1 0 5.1 0a2.55 2.55 0 1 0 -5.1 0M797.9 373.9a2.55 2.55 0 1 0 5.1 0a2.55 2.55 0 1 0 -5.1 0M789.5 367.3a2.55 2.55 0 1 0 5.1 0a2.55 2.55 0 1 0 -5.1 0M788.9 351.5a2.55 2.55 0 1 0 5.1 0a2.55 2.55 0 1 0 -5.1 0M791.0 357.7a2.55 2.55 0 1 0 5.1 0a2.55 2.55 0 1 0 -5.1 0M808.6 349.8a2.55 2.55 0 1 0 5.1 0a2.55 2.55 0 1 0 -5.1 0M812.3 364.6a2.55 2.55 0 1 0 5.1 0a2.55 2.55 0 1 0 -5.1 0M804.8 364.6a2.55 2.55 0 1 0 5.1 0a2.55 2.55 0 1 0 -5.1 0M810.2 358.1a2.55 2.55 0 1 0 5.1 0a2.55 2.55 0 1 0 -5.1 0M805.4 366.7a2.55 2.55 0 1 0 5.1 0a2.55 2.55 0 1 0 -5.1 0M796.7 356.5a2.55 2.55 0 1 0 5.1 0a2.55 2.55 0 1 0 -5.1 0M815.2 358.8a2.55 2.55 0 1 0 5.1 0a2.55 2.55 0 1 0 -5.1 0M805.4 350.7a2.55 2.55 0 1 0 5.1 0a2.55 2.55 0 1 0 -5.1 0M809.5 368.4a2.55 2.55 0 1 0 5.1 0a2.55 2.55 0 1 0 -5.1 0M815.9 354.9a2.55 2.55 0 1 0 5.1 0a2.55 2.55 0 1 0 -5.1 0M818.5 373.6a2.55 2.55 0 1 0 5.1 0a2.55 2.55 0 1 0 -5.1 0M793.9 346.3a2.55 2.55 0 1 0 5.1 0a2.55 2.55 0 1 0 -5.1 0M810.5 352.8a2.55 2.55 0 1 0 5.1 0a2.55 2.55 0 1 0 -5.1 0M813.8 356.2a2.55 2.55 0 1 0 5.1 0a2.55 2.55 0 1 0 -5.1 0M799.6 359.1a2.55 2.55 0 1 0 5.1 0a2.55 2.55 0 1 0 -5.1 0M815.6 352.4a2.55 2.55 0 1 0 5.1 0a2.55 2.55 0 1 0 -5.1 0M803.0 352.1a2.55 2.55 0 1 0 5.1 0a2.55 2.55 0 1 0 -5.1 0M816.8 353.1a2.55 2.55 0 1 0 5.1 0a2.55 2.55 0 1 0 -5.1 0M809.4 360.2a2.55 2.55 0 1 0 5.1 0a2.55 2.55 0 1 0 -5.1 0M802.3 362.6a2.55 2.55 0 1 0 5.1 0a2.55 2.55 0 1 0 -5.1 0M817.0 352.6a2.55 2.55 0 1 0 5.1 0a2.55 2.55 0 1 0 -5.1 0M816.9 347.5a2.55 2.55 0 1 0 5.1 0a2.55 2.55 0 1 0 -5.1 0M804.5 361.4a2.55 2.55 0 1 0 5.1 0a2.55 2.55 0 1 0 -5.1 0M804.6 359.9a2.55 2.55 0 1 0 5.1 0a2.55 2.55 0 1 0 -5.1 0M808.7 353.4a2.55 2.55 0 1 0 5.1 0a2.55 2.55 0 1 0 -5.1 0M810.6 355.8a2.55 2.55 0 1 0 5.1 0a2.55 2.55 0 1 0 -5.1 0M807.5 357.7a2.55 2.55 0 1 0 5.1 0a2.55 2.55 0 1 0 -5.1 0M797.1 349.4a2.55 2.55 0 1 0 5.1 0a2.55 2.55 0 1 0 -5.1 0M801.6 361.6a2.55 2.55 0 1 0 5.1 0a2.55 2.55 0 1 0 -5.1 0M806.9 369.8a2.55 2.55 0 1 0 5.1 0a2.55 2.55 0 1 0 -5.1 0M818.7 358.9a2.55 2.55 0 1 0 5.1 0a2.55 2.55 0 1 0 -5.1 0M795.6 348.5a2.55 2.55 0 1 0 5.1 0a2.55 2.55 0 1 0 -5.1 0M805.5 364.8a2.55 2.55 0 1 0 5.1 0a2.55 2.55 0 1 0 -5.1 0M814.4 355.3a2.55 2.55 0 1 0 5.1 0a2.55 2.55 0 1 0 -5.1 0M812.6 358.6a2.55 2.55 0 1 0 5.1 0a2.55 2.55 0 1 0 -5.1 0M837.1 369.9a2.55 2.55 0 1 0 5.1 0a2.55 2.55 0 1 0 -5.1 0M825.7 356.5a2.55 2.55 0 1 0 5.1 0a2.55 2.55 0 1 0 -5.1 0M819.1 363.7a2.55 2.55 0 1 0 5.1 0a2.55 2.55 0 1 0 -5.1 0M825.6 371.2a2.55 2.55 0 1 0 5.1 0a2.55 2.55 0 1 0 -5.1 0M839.2 351.3a2.55 2.55 0 1 0 5.1 0a2.55 2.55 0 1 0 -5.1 0M822.5 350.8a2.55 2.55 0 1 0 5.1 0a2.55 2.55 0 1 0 -5.1 0M837.2 362.1a2.55 2.55 0 1 0 5.1 0a2.55 2.55 0 1 0 -5.1 0M816.5 364.7a2.55 2.55 0 1 0 5.1 0a2.55 2.55 0 1 0 -5.1 0M836.0 358.8a2.55 2.55 0 1 0 5.1 0a2.55 2.55 0 1 0 -5.1 0M828.2 367.6a2.55 2.55 0 1 0 5.1 0a2.55 2.55 0 1 0 -5.1 0M833.6 363.5a2.55 2.55 0 1 0 5.1 0a2.55 2.55 0 1 0 -5.1 0M829.1 356.4a2.55 2.55 0 1 0 5.1 0a2.55 2.55 0 1 0 -5.1 0M828.7 363.2a2.55 2.55 0 1 0 5.1 0a2.55 2.55 0 1 0 -5.1 0M824.0 365.5a2.55 2.55 0 1 0 5.1 0a2.55 2.55 0 1 0 -5.1 0M837.0 364.2a2.55 2.55 0 1 0 5.1 0a2.55 2.55 0 1 0 -5.1 0M823.0 360.9a2.55 2.55 0 1 0 5.1 0a2.55 2.55 0 1 0 -5.1 0M837.7 350.8a2.55 2.55 0 1 0 5.1 0a2.55 2.55 0 1 0 -5.1 0M821.1 367.5a2.55 2.55 0 1 0 5.1 0a2.55 2.55 0 1 0 -5.1 0M815.5 355.8a2.55 2.55 0 1 0 5.1 0a2.55 2.55 0 1 0 -5.1 0M828.5 345.9a2.55 2.55 0 1 0 5.1 0a2.55 2.55 0 1 0 -5.1 0M836.4 356.8a2.55 2.55 0 1 0 5.1 0a2.55 2.55 0 1 0 -5.1 0M822.3 363.9a2.55 2.55 0 1 0 5.1 0a2.55 2.55 0 1 0 -5.1 0M819.3 374.9a2.55 2.55 0 1 0 5.1 0a2.55 2.55 0 1 0 -5.1 0M823.6 368.0a2.55 2.55 0 1 0 5.1 0a2.55 2.55 0 1 0 -5.1 0M836.1 358.0a2.55 2.55 0 1 0 5.1 0a2.55 2.55 0 1 0 -5.1 0M858.3 352.4a2.55 2.55 0 1 0 5.1 0a2.55 2.55 0 1 0 -5.1 0M843.5 359.0a2.55 2.55 0 1 0 5.1 0a2.55 2.55 0 1 0 -5.1 0M840.6 369.7a2.55 2.55 0 1 0 5.1 0a2.55 2.55 0 1 0 -5.1 0M844.1 360.4a2.55 2.55 0 1 0 5.1 0a2.55 2.55 0 1 0 -5.1 0M848.1 362.1a2.55 2.55 0 1 0 5.1 0a2.55 2.55 0 1 0 -5.1 0M848.6 356.0a2.55 2.55 0 1 0 5.1 0a2.55 2.55 0 1 0 -5.1 0M855.7 355.2a2.55 2.55 0 1 0 5.1 0a2.55 2.55 0 1 0 -5.1 0M867.6 353.7a2.55 2.55 0 1 0 5.1 0a2.55 2.55 0 1 0 -5.1 0M574.9 383.9a2.55 2.55 0 1 0 5.1 0a2.55 2.55 0 1 0 -5.1 0M580.8 371.7a2.55 2.55 0 1 0 5.1 0a2.55 2.55 0 1 0 -5.1 0M585.9 376.9a2.55 2.55 0 1 0 5.1 0a2.55 2.55 0 1 0 -5.1 0M583.2 370.8a2.55 2.55 0 1 0 5.1 0a2.55 2.55 0 1 0 -5.1 0M588.0 378.5a2.55 2.55 0 1 0 5.1 0a2.55 2.55 0 1 0 -5.1 0M583.0 380.6a2.55 2.55 0 1 0 5.1 0a2.55 2.55 0 1 0 -5.1 0M590.7 378.2a2.55 2.55 0 1 0 5.1 0a2.55 2.55 0 1 0 -5.1 0M575.7 372.8a2.55 2.55 0 1 0 5.1 0a2.55 2.55 0 1 0 -5.1 0M588.4 383.1a2.55 2.55 0 1 0 5.1 0a2.55 2.55 0 1 0 -5.1 0M592.5 390.6a2.55 2.55 0 1 0 5.1 0a2.55 2.55 0 1 0 -5.1 0M579.5 378.2a2.55 2.55 0 1 0 5.1 0a2.55 2.55 0 1 0 -5.1 0M590.1 372.3a2.55 2.55 0 1 0 5.1 0a2.55 2.55 0 1 0 -5.1 0M583.6 370.8a2.55 2.55 0 1 0 5.1 0a2.55 2.55 0 1 0 -5.1 0M586.4 377.8a2.55 2.55 0 1 0 5.1 0a2.55 2.55 0 1 0 -5.1 0M578.7 377.3a2.55 2.55 0 1 0 5.1 0a2.55 2.55 0 1 0 -5.1 0M581.4 391.7a2.55 2.55 0 1 0 5.1 0a2.55 2.55 0 1 0 -5.1 0M605.5 368.4a2.55 2.55 0 1 0 5.1 0a2.55 2.55 0 1 0 -5.1 0M608.9 390.4a2.55 2.55 0 1 0 5.1 0a2.55 2.55 0 1 0 -5.1 0M611.3 376.4a2.55 2.55 0 1 0 5.1 0a2.55 2.55 0 1 0 -5.1 0M602.1 387.0a2.55 2.55 0 1 0 5.1 0a2.55 2.55 0 1 0 -5.1 0M608.7 388.8a2.55 2.55 0 1 0 5.1 0a2.55 2.55 0 1 0 -5.1 0M598.4 376.0a2.55 2.55 0 1 0 5.1 0a2.55 2.55 0 1 0 -5.1 0M599.0 370.6a2.55 2.55 0 1 0 5.1 0a2.55 2.55 0 1 0 -5.1 0M609.6 383.0a2.55 2.55 0 1 0 5.1 0a2.55 2.55 0 1 0 -5.1 0M612.9 377.0a2.55 2.55 0 1 0 5.1 0a2.55 2.55 0 1 0 -5.1 0M605.7 381.6a2.55 2.55 0 1 0 5.1 0a2.55 2.55 0 1 0 -5.1 0M609.4 385.8a2.55 2.55 0 1 0 5.1 0a2.55 2.55 0 1 0 -5.1 0M615.1 376.1a2.55 2.55 0 1 0 5.1 0a2.55 2.55 0 1 0 -5.1 0M607.2 382.8a2.55 2.55 0 1 0 5.1 0a2.55 2.55 0 1 0 -5.1 0M599.9 382.4a2.55 2.55 0 1 0 5.1 0a2.55 2.55 0 1 0 -5.1 0M617.2 373.0a2.55 2.55 0 1 0 5.1 0a2.55 2.55 0 1 0 -5.1 0M599.6 391.6a2.55 2.55 0 1 0 5.1 0a2.55 2.55 0 1 0 -5.1 0M610.0 389.6a2.55 2.55 0 1 0 5.1 0a2.55 2.55 0 1 0 -5.1 0M600.6 383.7a2.55 2.55 0 1 0 5.1 0a2.55 2.55 0 1 0 -5.1 0M599.4 379.0a2.55 2.55 0 1 0 5.1 0a2.55 2.55 0 1 0 -5.1 0M593.2 367.1a2.55 2.55 0 1 0 5.1 0a2.55 2.55 0 1 0 -5.1 0M614.7 384.0a2.55 2.55 0 1 0 5.1 0a2.55 2.55 0 1 0 -5.1 0M602.6 371.6a2.55 2.55 0 1 0 5.1 0a2.55 2.55 0 1 0 -5.1 0M601.6 372.3a2.55 2.55 0 1 0 5.1 0a2.55 2.55 0 1 0 -5.1 0M599.0 381.6a2.55 2.55 0 1 0 5.1 0a2.55 2.55 0 1 0 -5.1 0M595.4 370.5a2.55 2.55 0 1 0 5.1 0a2.55 2.55 0 1 0 -5.1 0M593.8 371.3a2.55 2.55 0 1 0 5.1 0a2.55 2.55 0 1 0 -5.1 0M611.8 388.0a2.55 2.55 0 1 0 5.1 0a2.55 2.55 0 1 0 -5.1 0M594.9 376.8a2.55 2.55 0 1 0 5.1 0a2.55 2.55 0 1 0 -5.1 0M615.2 386.7a2.55 2.55 0 1 0 5.1 0a2.55 2.55 0 1 0 -5.1 0M614.0 379.6a2.55 2.55 0 1 0 5.1 0a2.55 2.55 0 1 0 -5.1 0M618.5 386.5a2.55 2.55 0 1 0 5.1 0a2.55 2.55 0 1 0 -5.1 0M630.3 379.2a2.55 2.55 0 1 0 5.1 0a2.55 2.55 0 1 0 -5.1 0M618.9 374.7a2.55 2.55 0 1 0 5.1 0a2.55 2.55 0 1 0 -5.1 0M630.5 385.6a2.55 2.55 0 1 0 5.1 0a2.55 2.55 0 1 0 -5.1 0M627.9 378.8a2.55 2.55 0 1 0 5.1 0a2.55 2.55 0 1 0 -5.1 0M640.2 376.4a2.55 2.55 0 1 0 5.1 0a2.55 2.55 0 1 0 -5.1 0M626.6 378.1a2.55 2.55 0 1 0 5.1 0a2.55 2.55 0 1 0 -5.1 0M631.8 378.7a2.55 2.55 0 1 0 5.1 0a2.55 2.55 0 1 0 -5.1 0M629.9 383.9a2.55 2.55 0 1 0 5.1 0a2.55 2.55 0 1 0 -5.1 0M627.4 373.1a2.55 2.55 0 1 0 5.1 0a2.55 2.55 0 1 0 -5.1 0M630.8 374.0a2.55 2.55 0 1 0 5.1 0a2.55 2.55 0 1 0 -5.1 0M628.2 380.2a2.55 2.55 0 1 0 5.1 0a2.55 2.55 0 1 0 -5.1 0M628.5 380.1a2.55 2.55 0 1 0 5.1 0a2.55 2.55 0 1 0 -5.1 0M621.3 366.8a2.55 2.55 0 1 0 5.1 0a2.55 2.55 0 1 0 -5.1 0M624.7 380.3a2.55 2.55 0 1 0 5.1 0a2.55 2.55 0 1 0 -5.1 0M637.7 384.8a2.55 2.55 0 1 0 5.1 0a2.55 2.55 0 1 0 -5.1 0M627.5 371.8a2.55 2.55 0 1 0 5.1 0a2.55 2.55 0 1 0 -5.1 0M617.2 384.9a2.55 2.55 0 1 0 5.1 0a2.55 2.55 0 1 0 -5.1 0M623.3 369.0a2.55 2.55 0 1 0 5.1 0a2.55 2.55 0 1 0 -5.1 0M620.7 378.1a2.55 2.55 0 1 0 5.1 0a2.55 2.55 0 1 0 -5.1 0M626.9 376.6a2.55 2.55 0 1 0 5.1 0a2.55 2.55 0 1 0 -5.1 0M634.1 382.5a2.55 2.55 0 1 0 5.1 0a2.55 2.55 0 1 0 -5.1 0M629.2 376.9a2.55 2.55 0 1 0 5.1 0a2.55 2.55 0 1 0 -5.1 0M623.6 385.5a2.55 2.55 0 1 0 5.1 0a2.55 2.55 0 1 0 -5.1 0M638.9 390.0a2.55 2.55 0 1 0 5.1 0a2.55 2.55 0 1 0 -5.1 0M629.8 374.9a2.55 2.55 0 1 0 5.1 0a2.55 2.55 0 1 0 -5.1 0M626.1 374.1a2.55 2.55 0 1 0 5.1 0a2.55 2.55 0 1 0 -5.1 0M622.7 375.5a2.55 2.55 0 1 0 5.1 0a2.55 2.55 0 1 0 -5.1 0M619.5 380.5a2.55 2.55 0 1 0 5.1 0a2.55 2.55 0 1 0 -5.1 0M618.4 386.8a2.55 2.55 0 1 0 5.1 0a2.55 2.55 0 1 0 -5.1 0M637.4 372.8a2.55 2.55 0 1 0 5.1 0a2.55 2.55 0 1 0 -5.1 0M624.8 372.5a2.55 2.55 0 1 0 5.1 0a2.55 2.55 0 1 0 -5.1 0M630.3 384.5a2.55 2.55 0 1 0 5.1 0a2.55 2.55 0 1 0 -5.1 0M633.8 387.4a2.55 2.55 0 1 0 5.1 0a2.55 2.55 0 1 0 -5.1 0M622.4 375.3a2.55 2.55 0 1 0 5.1 0a2.55 2.55 0 1 0 -5.1 0M632.0 382.3a2.55 2.55 0 1 0 5.1 0a2.55 2.55 0 1 0 -5.1 0M619.7 377.7a2.55 2.55 0 1 0 5.1 0a2.55 2.55 0 1 0 -5.1 0M634.2 384.0a2.55 2.55 0 1 0 5.1 0a2.55 2.55 0 1 0 -5.1 0M619.0 381.7a2.55 2.55 0 1 0 5.1 0a2.55 2.55 0 1 0 -5.1 0M622.9 372.8a2.55 2.55 0 1 0 5.1 0a2.55 2.55 0 1 0 -5.1 0M632.2 377.6a2.55 2.55 0 1 0 5.1 0a2.55 2.55 0 1 0 -5.1 0M635.1 378.4a2.55 2.55 0 1 0 5.1 0a2.55 2.55 0 1 0 -5.1 0M626.6 377.2a2.55 2.55 0 1 0 5.1 0a2.55 2.55 0 1 0 -5.1 0M632.9 382.4a2.55 2.55 0 1 0 5.1 0a2.55 2.55 0 1 0 -5.1 0M634.0 387.5a2.55 2.55 0 1 0 5.1 0a2.55 2.55 0 1 0 -5.1 0M616.8 381.2a2.55 2.55 0 1 0 5.1 0a2.55 2.55 0 1 0 -5.1 0M626.3 378.5a2.55 2.55 0 1 0 5.1 0a2.55 2.55 0 1 0 -5.1 0M627.7 386.7a2.55 2.55 0 1 0 5.1 0a2.55 2.55 0 1 0 -5.1 0M621.3 370.5a2.55 2.55 0 1 0 5.1 0a2.55 2.55 0 1 0 -5.1 0M625.4 387.3a2.55 2.55 0 1 0 5.1 0a2.55 2.55 0 1 0 -5.1 0M632.9 388.2a2.55 2.55 0 1 0 5.1 0a2.55 2.55 0 1 0 -5.1 0M619.0 387.3a2.55 2.55 0 1 0 5.1 0a2.55 2.55 0 1 0 -5.1 0M627.5 375.0a2.55 2.55 0 1 0 5.1 0a2.55 2.55 0 1 0 -5.1 0M639.2 385.3a2.55 2.55 0 1 0 5.1 0a2.55 2.55 0 1 0 -5.1 0M630.2 376.4a2.55 2.55 0 1 0 5.1 0a2.55 2.55 0 1 0 -5.1 0M644.0 376.3a2.55 2.55 0 1 0 5.1 0a2.55 2.55 0 1 0 -5.1 0M642.2 369.5a2.55 2.55 0 1 0 5.1 0a2.55 2.55 0 1 0 -5.1 0M654.9 374.1a2.55 2.55 0 1 0 5.1 0a2.55 2.55 0 1 0 -5.1 0M647.5 368.3a2.55 2.55 0 1 0 5.1 0a2.55 2.55 0 1 0 -5.1 0M649.9 387.7a2.55 2.55 0 1 0 5.1 0a2.55 2.55 0 1 0 -5.1 0M641.5 392.5a2.55 2.55 0 1 0 5.1 0a2.55 2.55 0 1 0 -5.1 0M653.7 377.5a2.55 2.55 0 1 0 5.1 0a2.55 2.55 0 1 0 -5.1 0M651.2 393.3a2.55 2.55 0 1 0 5.1 0a2.55 2.55 0 1 0 -5.1 0M648.5 377.5a2.55 2.55 0 1 0 5.1 0a2.55 2.55 0 1 0 -5.1 0M647.6 371.1a2.55 2.55 0 1 0 5.1 0a2.55 2.55 0 1 0 -5.1 0M655.7 387.0a2.55 2.55 0 1 0 5.1 0a2.55 2.55 0 1 0 -5.1 0M645.5 385.0a2.55 2.55 0 1 0 5.1 0a2.55 2.55 0 1 0 -5.1 0M650.9 379.3a2.55 2.55 0 1 0 5.1 0a2.55 2.55 0 1 0 -5.1 0M647.1 383.5a2.55 2.55 0 1 0 5.1 0a2.55 2.55 0 1 0 -5.1 0M647.0 377.6a2.55 2.55 0 1 0 5.1 0a2.55 2.55 0 1 0 -5.1 0M651.8 373.1a2.55 2.55 0 1 0 5.1 0a2.55 2.55 0 1 0 -5.1 0M654.7 374.1a2.55 2.55 0 1 0 5.1 0a2.55 2.55 0 1 0 -5.1 0M651.7 374.2a2.55 2.55 0 1 0 5.1 0a2.55 2.55 0 1 0 -5.1 0M653.0 378.2a2.55 2.55 0 1 0 5.1 0a2.55 2.55 0 1 0 -5.1 0M648.2 369.7a2.55 2.55 0 1 0 5.1 0a2.55 2.55 0 1 0 -5.1 0M646.7 379.3a2.55 2.55 0 1 0 5.1 0a2.55 2.55 0 1 0 -5.1 0M656.8 388.4a2.55 2.55 0 1 0 5.1 0a2.55 2.55 0 1 0 -5.1 0M640.2 376.0a2.55 2.55 0 1 0 5.1 0a2.55 2.55 0 1 0 -5.1 0M651.0 391.4a2.55 2.55 0 1 0 5.1 0a2.55 2.55 0 1 0 -5.1 0M640.3 386.1a2.55 2.55 0 1 0 5.1 0a2.55 2.55 0 1 0 -5.1 0M643.8 392.3a2.55 2.55 0 1 0 5.1 0a2.55 2.55 0 1 0 -5.1 0M644.0 371.6a2.55 2.55 0 1 0 5.1 0a2.55 2.55 0 1 0 -5.1 0M653.2 379.8a2.55 2.55 0 1 0 5.1 0a2.55 2.55 0 1 0 -5.1 0M650.1 376.4a2.55 2.55 0 1 0 5.1 0a2.55 2.55 0 1 0 -5.1 0M646.3 370.8a2.55 2.55 0 1 0 5.1 0a2.55 2.55 0 1 0 -5.1 0M646.1 382.3a2.55 2.55 0 1 0 5.1 0a2.55 2.55 0 1 0 -5.1 0M643.1 376.8a2.55 2.55 0 1 0 5.1 0a2.55 2.55 0 1 0 -5.1 0M639.4 374.0a2.55 2.55 0 1 0 5.1 0a2.55 2.55 0 1 0 -5.1 0M643.7 371.8a2.55 2.55 0 1 0 5.1 0a2.55 2.55 0 1 0 -5.1 0M648.2 370.4a2.55 2.55 0 1 0 5.1 0a2.55 2.55 0 1 0 -5.1 0M652.7 383.0a2.55 2.55 0 1 0 5.1 0a2.55 2.55 0 1 0 -5.1 0M647.0 385.5a2.55 2.55 0 1 0 5.1 0a2.55 2.55 0 1 0 -5.1 0M654.3 385.6a2.55 2.55 0 1 0 5.1 0a2.55 2.55 0 1 0 -5.1 0M649.3 375.9a2.55 2.55 0 1 0 5.1 0a2.55 2.55 0 1 0 -5.1 0M649.4 389.5a2.55 2.55 0 1 0 5.1 0a2.55 2.55 0 1 0 -5.1 0M642.2 382.6a2.55 2.55 0 1 0 5.1 0a2.55 2.55 0 1 0 -5.1 0M656.6 382.1a2.55 2.55 0 1 0 5.1 0a2.55 2.55 0 1 0 -5.1 0M650.1 376.1a2.55 2.55 0 1 0 5.1 0a2.55 2.55 0 1 0 -5.1 0M649.6 374.3a2.55 2.55 0 1 0 5.1 0a2.55 2.55 0 1 0 -5.1 0M645.9 383.0a2.55 2.55 0 1 0 5.1 0a2.55 2.55 0 1 0 -5.1 0M649.2 389.4a2.55 2.55 0 1 0 5.1 0a2.55 2.55 0 1 0 -5.1 0M656.6 389.4a2.55 2.55 0 1 0 5.1 0a2.55 2.55 0 1 0 -5.1 0M655.8 383.2a2.55 2.55 0 1 0 5.1 0a2.55 2.55 0 1 0 -5.1 0M643.4 369.7a2.55 2.55 0 1 0 5.1 0a2.55 2.55 0 1 0 -5.1 0M647.9 374.8a2.55 2.55 0 1 0 5.1 0a2.55 2.55 0 1 0 -5.1 0M638.7 381.2a2.55 2.55 0 1 0 5.1 0a2.55 2.55 0 1 0 -5.1 0M635.6 376.0a2.55 2.55 0 1 0 5.1 0a2.55 2.55 0 1 0 -5.1 0M652.3 383.9a2.55 2.55 0 1 0 5.1 0a2.55 2.55 0 1 0 -5.1 0M648.7 372.7a2.55 2.55 0 1 0 5.1 0a2.55 2.55 0 1 0 -5.1 0M652.9 379.2a2.55 2.55 0 1 0 5.1 0a2.55 2.55 0 1 0 -5.1 0M663.3 391.1a2.55 2.55 0 1 0 5.1 0a2.55 2.55 0 1 0 -5.1 0M671.9 386.4a2.55 2.55 0 1 0 5.1 0a2.55 2.55 0 1 0 -5.1 0M671.1 372.1a2.55 2.55 0 1 0 5.1 0a2.55 2.55 0 1 0 -5.1 0M672.9 374.9a2.55 2.55 0 1 0 5.1 0a2.55 2.55 0 1 0 -5.1 0M668.9 371.2a2.55 2.55 0 1 0 5.1 0a2.55 2.55 0 1 0 -5.1 0M657.2 370.1a2.55 2.55 0 1 0 5.1 0a2.55 2.55 0 1 0 -5.1 0M665.5 387.6a2.55 2.55 0 1 0 5.1 0a2.55 2.55 0 1 0 -5.1 0M659.2 389.3a2.55 2.55 0 1 0 5.1 0a2.55 2.55 0 1 0 -5.1 0M658.0 372.4a2.55 2.55 0 1 0 5.1 0a2.55 2.55 0 1 0 -5.1 0M661.3 386.8a2.55 2.55 0 1 0 5.1 0a2.55 2.55 0 1 0 -5.1 0M665.8 382.7a2.55 2.55 0 1 0 5.1 0a2.55 2.55 0 1 0 -5.1 0M661.0 386.3a2.55 2.55 0 1 0 5.1 0a2.55 2.55 0 1 0 -5.1 0M661.6 376.7a2.55 2.55 0 1 0 5.1 0a2.55 2.55 0 1 0 -5.1 0M668.8 373.7a2.55 2.55 0 1 0 5.1 0a2.55 2.55 0 1 0 -5.1 0M664.5 383.2a2.55 2.55 0 1 0 5.1 0a2.55 2.55 0 1 0 -5.1 0M659.9 380.8a2.55 2.55 0 1 0 5.1 0a2.55 2.55 0 1 0 -5.1 0M668.5 391.9a2.55 2.55 0 1 0 5.1 0a2.55 2.55 0 1 0 -5.1 0M675.0 374.3a2.55 2.55 0 1 0 5.1 0a2.55 2.55 0 1 0 -5.1 0M673.6 378.3a2.55 2.55 0 1 0 5.1 0a2.55 2.55 0 1 0 -5.1 0M675.7 383.1a2.55 2.55 0 1 0 5.1 0a2.55 2.55 0 1 0 -5.1 0M655.8 383.9a2.55 2.55 0 1 0 5.1 0a2.55 2.55 0 1 0 -5.1 0M672.4 377.9a2.55 2.55 0 1 0 5.1 0a2.55 2.55 0 1 0 -5.1 0M670.3 374.6a2.55 2.55 0 1 0 5.1 0a2.55 2.55 0 1 0 -5.1 0M664.9 377.5a2.55 2.55 0 1 0 5.1 0a2.55 2.55 0 1 0 -5.1 0M683.6 375.5a2.55 2.55 0 1 0 5.1 0a2.55 2.55 0 1 0 -5.1 0M664.0 377.1a2.55 2.55 0 1 0 5.1 0a2.55 2.55 0 1 0 -5.1 0M668.1 386.6a2.55 2.55 0 1 0 5.1 0a2.55 2.55 0 1 0 -5.1 0M660.3 382.7a2.55 2.55 0 1 0 5.1 0a2.55 2.55 0 1 0 -5.1 0M662.6 376.2a2.55 2.55 0 1 0 5.1 0a2.55 2.55 0 1 0 -5.1 0M660.7 384.2a2.55 2.55 0 1 0 5.1 0a2.55 2.55 0 1 0 -5.1 0M691.7 372.8a2.55 2.55 0 1 0 5.1 0a2.55 2.55 0 1 0 -5.1 0M686.4 375.3a2.55 2.55 0 1 0 5.1 0a2.55 2.55 0 1 0 -5.1 0M691.3 384.1a2.55 2.55 0 1 0 5.1 0a2.55 2.55 0 1 0 -5.1 0M687.6 382.5a2.55 2.55 0 1 0 5.1 0a2.55 2.55 0 1 0 -5.1 0M677.2 386.9a2.55 2.55 0 1 0 5.1 0a2.55 2.55 0 1 0 -5.1 0M679.3 365.0a2.55 2.55 0 1 0 5.1 0a2.55 2.55 0 1 0 -5.1 0M690.3 382.4a2.55 2.55 0 1 0 5.1 0a2.55 2.55 0 1 0 -5.1 0M684.4 375.6a2.55 2.55 0 1 0 5.1 0a2.55 2.55 0 1 0 -5.1 0M676.6 375.9a2.55 2.55 0 1 0 5.1 0a2.55 2.55 0 1 0 -5.1 0M694.8 375.2a2.55 2.55 0 1 0 5.1 0a2.55 2.55 0 1 0 -5.1 0M687.4 384.0a2.55 2.55 0 1 0 5.1 0a2.55 2.55 0 1 0 -5.1 0M689.5 367.5a2.55 2.55 0 1 0 5.1 0a2.55 2.55 0 1 0 -5.1 0M693.4 383.5a2.55 2.55 0 1 0 5.1 0a2.55 2.55 0 1 0 -5.1 0M675.8 390.3a2.55 2.55 0 1 0 5.1 0a2.55 2.55 0 1 0 -5.1 0M679.7 377.2a2.55 2.55 0 1 0 5.1 0a2.55 2.55 0 1 0 -5.1 0M684.7 387.1a2.55 2.55 0 1 0 5.1 0a2.55 2.55 0 1 0 -5.1 0M696.3 367.3a2.55 2.55 0 1 0 5.1 0a2.55 2.55 0 1 0 -5.1 0M683.1 384.2a2.55 2.55 0 1 0 5.1 0a2.55 2.55 0 1 0 -5.1 0M695.1 373.9a2.55 2.55 0 1 0 5.1 0a2.55 2.55 0 1 0 -5.1 0M696.7 371.5a2.55 2.55 0 1 0 5.1 0a2.55 2.55 0 1 0 -5.1 0M702.5 383.9a2.55 2.55 0 1 0 5.1 0a2.55 2.55 0 1 0 -5.1 0M702.0 377.5a2.55 2.55 0 1 0 5.1 0a2.55 2.55 0 1 0 -5.1 0M712.7 376.2a2.55 2.55 0 1 0 5.1 0a2.55 2.55 0 1 0 -5.1 0M712.4 389.3a2.55 2.55 0 1 0 5.1 0a2.55 2.55 0 1 0 -5.1 0M714.2 387.4a2.55 2.55 0 1 0 5.1 0a2.55 2.55 0 1 0 -5.1 0M702.0 385.6a2.55 2.55 0 1 0 5.1 0a2.55 2.55 0 1 0 -5.1 0M718.9 368.8a2.55 2.55 0 1 0 5.1 0a2.55 2.55 0 1 0 -5.1 0M712.2 372.3a2.55 2.55 0 1 0 5.1 0a2.55 2.55 0 1 0 -5.1 0M704.3 375.9a2.55 2.55 0 1 0 5.1 0a2.55 2.55 0 1 0 -5.1 0M719.9 376.8a2.55 2.55 0 1 0 5.1 0a2.55 2.55 0 1 0 -5.1 0M704.9 378.6a2.55 2.55 0 1 0 5.1 0a2.55 2.55 0 1 0 -5.1 0M695.0 373.2a2.55 2.55 0 1 0 5.1 0a2.55 2.55 0 1 0 -5.1 0M695.1 392.3a2.55 2.55 0 1 0 5.1 0a2.55 2.55 0 1 0 -5.1 0M710.4 390.9a2.55 2.55 0 1 0 5.1 0a2.55 2.55 0 1 0 -5.1 0M698.9 372.9a2.55 2.55 0 1 0 5.1 0a2.55 2.55 0 1 0 -5.1 0M716.0 393.4a2.55 2.55 0 1 0 5.1 0a2.55 2.55 0 1 0 -5.1 0M702.4 384.2a2.55 2.55 0 1 0 5.1 0a2.55 2.55 0 1 0 -5.1 0M698.1 378.8a2.55 2.55 0 1 0 5.1 0a2.55 2.55 0 1 0 -5.1 0M708.6 375.7a2.55 2.55 0 1 0 5.1 0a2.55 2.55 0 1 0 -5.1 0M700.4 386.3a2.55 2.55 0 1 0 5.1 0a2.55 2.55 0 1 0 -5.1 0M711.0 382.4a2.55 2.55 0 1 0 5.1 0a2.55 2.55 0 1 0 -5.1 0M713.0 382.0a2.55 2.55 0 1 0 5.1 0a2.55 2.55 0 1 0 -5.1 0M714.4 383.1a2.55 2.55 0 1 0 5.1 0a2.55 2.55 0 1 0 -5.1 0M708.0 382.8a2.55 2.55 0 1 0 5.1 0a2.55 2.55 0 1 0 -5.1 0M703.5 384.2a2.55 2.55 0 1 0 5.1 0a2.55 2.55 0 1 0 -5.1 0M718.4 385.2a2.55 2.55 0 1 0 5.1 0a2.55 2.55 0 1 0 -5.1 0M701.3 378.5a2.55 2.55 0 1 0 5.1 0a2.55 2.55 0 1 0 -5.1 0M713.0 385.6a2.55 2.55 0 1 0 5.1 0a2.55 2.55 0 1 0 -5.1 0M712.6 377.4a2.55 2.55 0 1 0 5.1 0a2.55 2.55 0 1 0 -5.1 0M707.8 382.8a2.55 2.55 0 1 0 5.1 0a2.55 2.55 0 1 0 -5.1 0M702.7 385.2a2.55 2.55 0 1 0 5.1 0a2.55 2.55 0 1 0 -5.1 0M704.3 382.8a2.55 2.55 0 1 0 5.1 0a2.55 2.55 0 1 0 -5.1 0M716.9 384.2a2.55 2.55 0 1 0 5.1 0a2.55 2.55 0 1 0 -5.1 0M709.7 381.3a2.55 2.55 0 1 0 5.1 0a2.55 2.55 0 1 0 -5.1 0M714.3 386.2a2.55 2.55 0 1 0 5.1 0a2.55 2.55 0 1 0 -5.1 0M702.6 370.8a2.55 2.55 0 1 0 5.1 0a2.55 2.55 0 1 0 -5.1 0M708.1 379.1a2.55 2.55 0 1 0 5.1 0a2.55 2.55 0 1 0 -5.1 0M704.6 376.0a2.55 2.55 0 1 0 5.1 0a2.55 2.55 0 1 0 -5.1 0M705.7 379.8a2.55 2.55 0 1 0 5.1 0a2.55 2.55 0 1 0 -5.1 0M717.3 375.0a2.55 2.55 0 1 0 5.1 0a2.55 2.55 0 1 0 -5.1 0M705.3 370.0a2.55 2.55 0 1 0 5.1 0a2.55 2.55 0 1 0 -5.1 0M707.9 391.7a2.55 2.55 0 1 0 5.1 0a2.55 2.55 0 1 0 -5.1 0M704.1 377.7a2.55 2.55 0 1 0 5.1 0a2.55 2.55 0 1 0 -5.1 0M712.3 384.5a2.55 2.55 0 1 0 5.1 0a2.55 2.55 0 1 0 -5.1 0M703.8 382.3a2.55 2.55 0 1 0 5.1 0a2.55 2.55 0 1 0 -5.1 0M712.5 376.1a2.55 2.55 0 1 0 5.1 0a2.55 2.55 0 1 0 -5.1 0M710.4 369.2a2.55 2.55 0 1 0 5.1 0a2.55 2.55 0 1 0 -5.1 0M713.8 380.3a2.55 2.55 0 1 0 5.1 0a2.55 2.55 0 1 0 -5.1 0M708.1 371.1a2.55 2.55 0 1 0 5.1 0a2.55 2.55 0 1 0 -5.1 0M708.7 375.3a2.55 2.55 0 1 0 5.1 0a2.55 2.55 0 1 0 -5.1 0M704.2 381.5a2.55 2.55 0 1 0 5.1 0a2.55 2.55 0 1 0 -5.1 0M705.2 390.7a2.55 2.55 0 1 0 5.1 0a2.55 2.55 0 1 0 -5.1 0M716.3 392.3a2.55 2.55 0 1 0 5.1 0a2.55 2.55 0 1 0 -5.1 0M711.0 379.6a2.55 2.55 0 1 0 5.1 0a2.55 2.55 0 1 0 -5.1 0M716.1 371.9a2.55 2.55 0 1 0 5.1 0a2.55 2.55 0 1 0 -5.1 0M722.4 377.7a2.55 2.55 0 1 0 5.1 0a2.55 2.55 0 1 0 -5.1 0M716.8 376.8a2.55 2.55 0 1 0 5.1 0a2.55 2.55 0 1 0 -5.1 0M709.7 392.5a2.55 2.55 0 1 0 5.1 0a2.55 2.55 0 1 0 -5.1 0M724.2 375.8a2.55 2.55 0 1 0 5.1 0a2.55 2.55 0 1 0 -5.1 0M721.1 375.5a2.55 2.55 0 1 0 5.1 0a2.55 2.55 0 1 0 -5.1 0M729.4 380.6a2.55 2.55 0 1 0 5.1 0a2.55 2.55 0 1 0 -5.1 0M725.5 375.2a2.55 2.55 0 1 0 5.1 0a2.55 2.55 0 1 0 -5.1 0M733.0 373.5a2.55 2.55 0 1 0 5.1 0a2.55 2.55 0 1 0 -5.1 0M719.4 387.9a2.55 2.55 0 1 0 5.1 0a2.55 2.55 0 1 0 -5.1 0M737.3 374.2a2.55 2.55 0 1 0 5.1 0a2.55 2.55 0 1 0 -5.1 0M724.8 378.1a2.55 2.55 0 1 0 5.1 0a2.55 2.55 0 1 0 -5.1 0M728.9 383.4a2.55 2.55 0 1 0 5.1 0a2.55 2.55 0 1 0 -5.1 0M714.5 382.0a2.55 2.55 0 1 0 5.1 0a2.55 2.55 0 1 0 -5.1 0M728.4 379.5a2.55 2.55 0 1 0 5.1 0a2.55 2.55 0 1 0 -5.1 0M734.1 387.5a2.55 2.55 0 1 0 5.1 0a2.55 2.55 0 1 0 -5.1 0M720.8 382.2a2.55 2.55 0 1 0 5.1 0a2.55 2.55 0 1 0 -5.1 0M730.5 386.8a2.55 2.55 0 1 0 5.1 0a2.55 2.55 0 1 0 -5.1 0M725.7 381.0a2.55 2.55 0 1 0 5.1 0a2.55 2.55 0 1 0 -5.1 0M736.3 391.3a2.55 2.55 0 1 0 5.1 0a2.55 2.55 0 1 0 -5.1 0M723.9 381.4a2.55 2.55 0 1 0 5.1 0a2.55 2.55 0 1 0 -5.1 0M729.9 391.8a2.55 2.55 0 1 0 5.1 0a2.55 2.55 0 1 0 -5.1 0M733.8 374.5a2.55 2.55 0 1 0 5.1 0a2.55 2.55 0 1 0 -5.1 0M729.3 374.0a2.55 2.55 0 1 0 5.1 0a2.55 2.55 0 1 0 -5.1 0M719.3 381.7a2.55 2.55 0 1 0 5.1 0a2.55 2.55 0 1 0 -5.1 0M720.4 373.2a2.55 2.55 0 1 0 5.1 0a2.55 2.55 0 1 0 -5.1 0M725.6 393.9a2.55 2.55 0 1 0 5.1 0a2.55 2.55 0 1 0 -5.1 0M723.9 390.1a2.55 2.55 0 1 0 5.1 0a2.55 2.55 0 1 0 -5.1 0M731.5 381.3a2.55 2.55 0 1 0 5.1 0a2.55 2.55 0 1 0 -5.1 0M723.9 387.5a2.55 2.55 0 1 0 5.1 0a2.55 2.55 0 1 0 -5.1 0M741.6 382.3a2.55 2.55 0 1 0 5.1 0a2.55 2.55 0 1 0 -5.1 0M727.3 378.0a2.55 2.55 0 1 0 5.1 0a2.55 2.55 0 1 0 -5.1 0M715.8 369.1a2.55 2.55 0 1 0 5.1 0a2.55 2.55 0 1 0 -5.1 0M730.9 385.2a2.55 2.55 0 1 0 5.1 0a2.55 2.55 0 1 0 -5.1 0M725.9 383.3a2.55 2.55 0 1 0 5.1 0a2.55 2.55 0 1 0 -5.1 0M717.6 374.3a2.55 2.55 0 1 0 5.1 0a2.55 2.55 0 1 0 -5.1 0M724.3 380.6a2.55 2.55 0 1 0 5.1 0a2.55 2.55 0 1 0 -5.1 0M729.8 381.0a2.55 2.55 0 1 0 5.1 0a2.55 2.55 0 1 0 -5.1 0M727.2 372.9a2.55 2.55 0 1 0 5.1 0a2.55 2.55 0 1 0 -5.1 0M724.0 385.8a2.55 2.55 0 1 0 5.1 0a2.55 2.55 0 1 0 -5.1 0M728.6 377.2a2.55 2.55 0 1 0 5.1 0a2.55 2.55 0 1 0 -5.1 0M724.8 384.4a2.55 2.55 0 1 0 5.1 0a2.55 2.55 0 1 0 -5.1 0M717.2 373.4a2.55 2.55 0 1 0 5.1 0a2.55 2.55 0 1 0 -5.1 0M716.4 372.9a2.55 2.55 0 1 0 5.1 0a2.55 2.55 0 1 0 -5.1 0M736.1 387.0a2.55 2.55 0 1 0 5.1 0a2.55 2.55 0 1 0 -5.1 0M723.7 380.4a2.55 2.55 0 1 0 5.1 0a2.55 2.55 0 1 0 -5.1 0M731.3 382.5a2.55 2.55 0 1 0 5.1 0a2.55 2.55 0 1 0 -5.1 0M734.9 378.1a2.55 2.55 0 1 0 5.1 0a2.55 2.55 0 1 0 -5.1 0M727.2 382.5a2.55 2.55 0 1 0 5.1 0a2.55 2.55 0 1 0 -5.1 0M736.7 385.1a2.55 2.55 0 1 0 5.1 0a2.55 2.55 0 1 0 -5.1 0M723.5 380.9a2.55 2.55 0 1 0 5.1 0a2.55 2.55 0 1 0 -5.1 0M733.5 373.2a2.55 2.55 0 1 0 5.1 0a2.55 2.55 0 1 0 -5.1 0M741.1 375.4a2.55 2.55 0 1 0 5.1 0a2.55 2.55 0 1 0 -5.1 0M733.9 386.7a2.55 2.55 0 1 0 5.1 0a2.55 2.55 0 1 0 -5.1 0M751.2 379.5a2.55 2.55 0 1 0 5.1 0a2.55 2.55 0 1 0 -5.1 0M749.4 366.6a2.55 2.55 0 1 0 5.1 0a2.55 2.55 0 1 0 -5.1 0M745.7 386.3a2.55 2.55 0 1 0 5.1 0a2.55 2.55 0 1 0 -5.1 0M751.4 386.8a2.55 2.55 0 1 0 5.1 0a2.55 2.55 0 1 0 -5.1 0M748.1 387.3a2.55 2.55 0 1 0 5.1 0a2.55 2.55 0 1 0 -5.1 0M749.9 366.7a2.55 2.55 0 1 0 5.1 0a2.55 2.55 0 1 0 -5.1 0M754.4 385.0a2.55 2.55 0 1 0 5.1 0a2.55 2.55 0 1 0 -5.1 0M745.5 379.8a2.55 2.55 0 1 0 5.1 0a2.55 2.55 0 1 0 -5.1 0M741.0 375.1a2.55 2.55 0 1 0 5.1 0a2.55 2.55 0 1 0 -5.1 0M746.6 391.8a2.55 2.55 0 1 0 5.1 0a2.55 2.55 0 1 0 -5.1 0M740.3 385.9a2.55 2.55 0 1 0 5.1 0a2.55 2.55 0 1 0 -5.1 0M749.6 370.8a2.55 2.55 0 1 0 5.1 0a2.55 2.55 0 1 0 -5.1 0M743.8 383.9a2.55 2.55 0 1 0 5.1 0a2.55 2.55 0 1 0 -5.1 0M746.6 368.0a2.55 2.55 0 1 0 5.1 0a2.55 2.55 0 1 0 -5.1 0M739.8 380.0a2.55 2.55 0 1 0 5.1 0a2.55 2.55 0 1 0 -5.1 0M739.1 369.3a2.55 2.55 0 1 0 5.1 0a2.55 2.55 0 1 0 -5.1 0M762.3 379.0a2.55 2.55 0 1 0 5.1 0a2.55 2.55 0 1 0 -5.1 0M745.7 386.7a2.55 2.55 0 1 0 5.1 0a2.55 2.55 0 1 0 -5.1 0M736.9 372.6a2.55 2.55 0 1 0 5.1 0a2.55 2.55 0 1 0 -5.1 0M747.1 385.4a2.55 2.55 0 1 0 5.1 0a2.55 2.55 0 1 0 -5.1 0M755.0 371.7a2.55 2.55 0 1 0 5.1 0a2.55 2.55 0 1 0 -5.1 0M754.2 373.1a2.55 2.55 0 1 0 5.1 0a2.55 2.55 0 1 0 -5.1 0M740.8 370.3a2.55 2.55 0 1 0 5.1 0a2.55 2.55 0 1 0 -5.1 0M753.7 380.6a2.55 2.55 0 1 0 5.1 0a2.55 2.55 0 1 0 -5.1 0M747.9 379.3a2.55 2.55 0 1 0 5.1 0a2.55 2.55 0 1 0 -5.1 0M754.1 380.8a2.55 2.55 0 1 0 5.1 0a2.55 2.55 0 1 0 -5.1 0M757.6 382.3a2.55 2.55 0 1 0 5.1 0a2.55 2.55 0 1 0 -5.1 0M741.9 388.2a2.55 2.55 0 1 0 5.1 0a2.55 2.55 0 1 0 -5.1 0M746.3 379.0a2.55 2.55 0 1 0 5.1 0a2.55 2.55 0 1 0 -5.1 0M740.0 369.2a2.55 2.55 0 1 0 5.1 0a2.55 2.55 0 1 0 -5.1 0M747.2 382.5a2.55 2.55 0 1 0 5.1 0a2.55 2.55 0 1 0 -5.1 0M753.3 372.0a2.55 2.55 0 1 0 5.1 0a2.55 2.55 0 1 0 -5.1 0M748.1 381.0a2.55 2.55 0 1 0 5.1 0a2.55 2.55 0 1 0 -5.1 0M750.4 385.7a2.55 2.55 0 1 0 5.1 0a2.55 2.55 0 1 0 -5.1 0M740.8 387.1a2.55 2.55 0 1 0 5.1 0a2.55 2.55 0 1 0 -5.1 0M757.1 379.9a2.55 2.55 0 1 0 5.1 0a2.55 2.55 0 1 0 -5.1 0M757.0 370.7a2.55 2.55 0 1 0 5.1 0a2.55 2.55 0 1 0 -5.1 0M770.5 365.8a2.55 2.55 0 1 0 5.1 0a2.55 2.55 0 1 0 -5.1 0M764.9 389.9a2.55 2.55 0 1 0 5.1 0a2.55 2.55 0 1 0 -5.1 0M777.4 373.3a2.55 2.55 0 1 0 5.1 0a2.55 2.55 0 1 0 -5.1 0M757.1 376.0a2.55 2.55 0 1 0 5.1 0a2.55 2.55 0 1 0 -5.1 0M773.7 365.2a2.55 2.55 0 1 0 5.1 0a2.55 2.55 0 1 0 -5.1 0M764.9 374.2a2.55 2.55 0 1 0 5.1 0a2.55 2.55 0 1 0 -5.1 0M776.2 371.0a2.55 2.55 0 1 0 5.1 0a2.55 2.55 0 1 0 -5.1 0M775.1 371.9a2.55 2.55 0 1 0 5.1 0a2.55 2.55 0 1 0 -5.1 0M759.3 377.0a2.55 2.55 0 1 0 5.1 0a2.55 2.55 0 1 0 -5.1 0M771.6 381.9a2.55 2.55 0 1 0 5.1 0a2.55 2.55 0 1 0 -5.1 0M777.2 375.9a2.55 2.55 0 1 0 5.1 0a2.55 2.55 0 1 0 -5.1 0M759.5 390.3a2.55 2.55 0 1 0 5.1 0a2.55 2.55 0 1 0 -5.1 0M778.7 377.5a2.55 2.55 0 1 0 5.1 0a2.55 2.55 0 1 0 -5.1 0M758.1 386.4a2.55 2.55 0 1 0 5.1 0a2.55 2.55 0 1 0 -5.1 0M780.4 382.5a2.55 2.55 0 1 0 5.1 0a2.55 2.55 0 1 0 -5.1 0M761.5 384.3a2.55 2.55 0 1 0 5.1 0a2.55 2.55 0 1 0 -5.1 0M758.2 377.7a2.55 2.55 0 1 0 5.1 0a2.55 2.55 0 1 0 -5.1 0M761.9 385.5a2.55 2.55 0 1 0 5.1 0a2.55 2.55 0 1 0 -5.1 0M764.5 382.3a2.55 2.55 0 1 0 5.1 0a2.55 2.55 0 1 0 -5.1 0M777.8 372.0a2.55 2.55 0 1 0 5.1 0a2.55 2.55 0 1 0 -5.1 0M766.6 375.8a2.55 2.55 0 1 0 5.1 0a2.55 2.55 0 1 0 -5.1 0M761.9 387.2a2.55 2.55 0 1 0 5.1 0a2.55 2.55 0 1 0 -5.1 0M761.2 380.9a2.55 2.55 0 1 0 5.1 0a2.55 2.55 0 1 0 -5.1 0M769.1 380.1a2.55 2.55 0 1 0 5.1 0a2.55 2.55 0 1 0 -5.1 0M755.3 368.9a2.55 2.55 0 1 0 5.1 0a2.55 2.55 0 1 0 -5.1 0M774.0 372.2a2.55 2.55 0 1 0 5.1 0a2.55 2.55 0 1 0 -5.1 0M770.6 368.0a2.55 2.55 0 1 0 5.1 0a2.55 2.55 0 1 0 -5.1 0M765.0 381.9a2.55 2.55 0 1 0 5.1 0a2.55 2.55 0 1 0 -5.1 0M773.0 366.9a2.55 2.55 0 1 0 5.1 0a2.55 2.55 0 1 0 -5.1 0M763.3 385.6a2.55 2.55 0 1 0 5.1 0a2.55 2.55 0 1 0 -5.1 0M764.9 378.3a2.55 2.55 0 1 0 5.1 0a2.55 2.55 0 1 0 -5.1 0M763.6 385.1a2.55 2.55 0 1 0 5.1 0a2.55 2.55 0 1 0 -5.1 0M781.8 373.3a2.55 2.55 0 1 0 5.1 0a2.55 2.55 0 1 0 -5.1 0M767.7 386.7a2.55 2.55 0 1 0 5.1 0a2.55 2.55 0 1 0 -5.1 0M773.7 380.8a2.55 2.55 0 1 0 5.1 0a2.55 2.55 0 1 0 -5.1 0M762.5 380.8a2.55 2.55 0 1 0 5.1 0a2.55 2.55 0 1 0 -5.1 0M770.5 380.4a2.55 2.55 0 1 0 5.1 0a2.55 2.55 0 1 0 -5.1 0M763.7 382.9a2.55 2.55 0 1 0 5.1 0a2.55 2.55 0 1 0 -5.1 0M781.0 374.4a2.55 2.55 0 1 0 5.1 0a2.55 2.55 0 1 0 -5.1 0M790.1 385.3a2.55 2.55 0 1 0 5.1 0a2.55 2.55 0 1 0 -5.1 0M789.4 377.5a2.55 2.55 0 1 0 5.1 0a2.55 2.55 0 1 0 -5.1 0M785.6 390.4a2.55 2.55 0 1 0 5.1 0a2.55 2.55 0 1 0 -5.1 0M798.5 375.2a2.55 2.55 0 1 0 5.1 0a2.55 2.55 0 1 0 -5.1 0M784.8 373.4a2.55 2.55 0 1 0 5.1 0a2.55 2.55 0 1 0 -5.1 0M798.4 374.5a2.55 2.55 0 1 0 5.1 0a2.55 2.55 0 1 0 -5.1 0M786.6 383.8a2.55 2.55 0 1 0 5.1 0a2.55 2.55 0 1 0 -5.1 0M778.9 388.6a2.55 2.55 0 1 0 5.1 0a2.55 2.55 0 1 0 -5.1 0M779.6 376.3a2.55 2.55 0 1 0 5.1 0a2.55 2.55 0 1 0 -5.1 0M790.2 374.6a2.55 2.55 0 1 0 5.1 0a2.55 2.55 0 1 0 -5.1 0M782.5 384.5a2.55 2.55 0 1 0 5.1 0a2.55 2.55 0 1 0 -5.1 0M795.8 377.0a2.55 2.55 0 1 0 5.1 0a2.55 2.55 0 1 0 -5.1 0M776.2 388.0a2.55 2.55 0 1 0 5.1 0a2.55 2.55 0 1 0 -5.1 0M796.6 371.3a2.55 2.55 0 1 0 5.1 0a2.55 2.55 0 1 0 -5.1 0M799.6 380.9a2.55 2.55 0 1 0 5.1 0a2.55 2.55 0 1 0 -5.1 0M796.3 373.3a2.55 2.55 0 1 0 5.1 0a2.55 2.55 0 1 0 -5.1 0M791.8 381.1a2.55 2.55 0 1 0 5.1 0a2.55 2.55 0 1 0 -5.1 0M791.5 387.3a2.55 2.55 0 1 0 5.1 0a2.55 2.55 0 1 0 -5.1 0M783.4 374.9a2.55 2.55 0 1 0 5.1 0a2.55 2.55 0 1 0 -5.1 0M797.6 383.8a2.55 2.55 0 1 0 5.1 0a2.55 2.55 0 1 0 -5.1 0M780.1 377.3a2.55 2.55 0 1 0 5.1 0a2.55 2.55 0 1 0 -5.1 0M795.2 369.9a2.55 2.55 0 1 0 5.1 0a2.55 2.55 0 1 0 -5.1 0M802.7 367.3a2.55 2.55 0 1 0 5.1 0a2.55 2.55 0 1 0 -5.1 0M792.6 381.7a2.55 2.55 0 1 0 5.1 0a2.55 2.55 0 1 0 -5.1 0M785.1 376.6a2.55 2.55 0 1 0 5.1 0a2.55 2.55 0 1 0 -5.1 0M780.1 376.3a2.55 2.55 0 1 0 5.1 0a2.55 2.55 0 1 0 -5.1 0M792.4 385.3a2.55 2.55 0 1 0 5.1 0a2.55 2.55 0 1 0 -5.1 0M792.7 382.0a2.55 2.55 0 1 0 5.1 0a2.55 2.55 0 1 0 -5.1 0M791.0 390.2a2.55 2.55 0 1 0 5.1 0a2.55 2.55 0 1 0 -5.1 0M794.8 386.6a2.55 2.55 0 1 0 5.1 0a2.55 2.55 0 1 0 -5.1 0M781.6 374.2a2.55 2.55 0 1 0 5.1 0a2.55 2.55 0 1 0 -5.1 0M782.7 384.0a2.55 2.55 0 1 0 5.1 0a2.55 2.55 0 1 0 -5.1 0M786.1 375.8a2.55 2.55 0 1 0 5.1 0a2.55 2.55 0 1 0 -5.1 0M796.3 379.6a2.55 2.55 0 1 0 5.1 0a2.55 2.55 0 1 0 -5.1 0M786.9 381.1a2.55 2.55 0 1 0 5.1 0a2.55 2.55 0 1 0 -5.1 0M783.0 373.2a2.55 2.55 0 1 0 5.1 0a2.55 2.55 0 1 0 -5.1 0M780.4 370.5a2.55 2.55 0 1 0 5.1 0a2.55 2.55 0 1 0 -5.1 0M781.4 381.9a2.55 2.55 0 1 0 5.1 0a2.55 2.55 0 1 0 -5.1 0M796.0 378.7a2.55 2.55 0 1 0 5.1 0a2.55 2.55 0 1 0 -5.1 0M779.6 384.5a2.55 2.55 0 1 0 5.1 0a2.55 2.55 0 1 0 -5.1 0M793.5 376.5a2.55 2.55 0 1 0 5.1 0a2.55 2.55 0 1 0 -5.1 0M779.9 388.4a2.55 2.55 0 1 0 5.1 0a2.55 2.55 0 1 0 -5.1 0M790.2 378.5a2.55 2.55 0 1 0 5.1 0a2.55 2.55 0 1 0 -5.1 0M791.2 374.5a2.55 2.55 0 1 0 5.1 0a2.55 2.55 0 1 0 -5.1 0M786.9 368.2a2.55 2.55 0 1 0 5.1 0a2.55 2.55 0 1 0 -5.1 0M786.9 391.4a2.55 2.55 0 1 0 5.1 0a2.55 2.55 0 1 0 -5.1 0M787.0 384.4a2.55 2.55 0 1 0 5.1 0a2.55 2.55 0 1 0 -5.1 0M776.1 373.9a2.55 2.55 0 1 0 5.1 0a2.55 2.55 0 1 0 -5.1 0M776.6 387.7a2.55 2.55 0 1 0 5.1 0a2.55 2.55 0 1 0 -5.1 0M790.6 389.3a2.55 2.55 0 1 0 5.1 0a2.55 2.55 0 1 0 -5.1 0M779.7 384.5a2.55 2.55 0 1 0 5.1 0a2.55 2.55 0 1 0 -5.1 0M793.6 389.9a2.55 2.55 0 1 0 5.1 0a2.55 2.55 0 1 0 -5.1 0M794.4 376.0a2.55 2.55 0 1 0 5.1 0a2.55 2.55 0 1 0 -5.1 0M781.4 391.4a2.55 2.55 0 1 0 5.1 0a2.55 2.55 0 1 0 -5.1 0M803.6 372.5a2.55 2.55 0 1 0 5.1 0a2.55 2.55 0 1 0 -5.1 0M794.3 381.7a2.55 2.55 0 1 0 5.1 0a2.55 2.55 0 1 0 -5.1 0M812.1 381.8a2.55 2.55 0 1 0 5.1 0a2.55 2.55 0 1 0 -5.1 0M796.7 377.4a2.55 2.55 0 1 0 5.1 0a2.55 2.55 0 1 0 -5.1 0M811.8 371.9a2.55 2.55 0 1 0 5.1 0a2.55 2.55 0 1 0 -5.1 0M808.3 385.0a2.55 2.55 0 1 0 5.1 0a2.55 2.55 0 1 0 -5.1 0M810.8 377.7a2.55 2.55 0 1 0 5.1 0a2.55 2.55 0 1 0 -5.1 0M812.3 390.4a2.55 2.55 0 1 0 5.1 0a2.55 2.55 0 1 0 -5.1 0M805.7 369.9a2.55 2.55 0 1 0 5.1 0a2.55 2.55 0 1 0 -5.1 0M818.5 368.0a2.55 2.55 0 1 0 5.1 0a2.55 2.55 0 1 0 -5.1 0M820.8 386.8a2.55 2.55 0 1 0 5.1 0a2.55 2.55 0 1 0 -5.1 0M799.5 376.1a2.55 2.55 0 1 0 5.1 0a2.55 2.55 0 1 0 -5.1 0M803.3 375.4a2.55 2.55 0 1 0 5.1 0a2.55 2.55 0 1 0 -5.1 0M804.2 373.5a2.55 2.55 0 1 0 5.1 0a2.55 2.55 0 1 0 -5.1 0M798.4 375.9a2.55 2.55 0 1 0 5.1 0a2.55 2.55 0 1 0 -5.1 0M813.0 370.0a2.55 2.55 0 1 0 5.1 0a2.55 2.55 0 1 0 -5.1 0M807.8 374.3a2.55 2.55 0 1 0 5.1 0a2.55 2.55 0 1 0 -5.1 0M806.0 392.7a2.55 2.55 0 1 0 5.1 0a2.55 2.55 0 1 0 -5.1 0M809.0 386.8a2.55 2.55 0 1 0 5.1 0a2.55 2.55 0 1 0 -5.1 0M811.1 385.4a2.55 2.55 0 1 0 5.1 0a2.55 2.55 0 1 0 -5.1 0M802.9 379.0a2.55 2.55 0 1 0 5.1 0a2.55 2.55 0 1 0 -5.1 0M817.5 371.4a2.55 2.55 0 1 0 5.1 0a2.55 2.55 0 1 0 -5.1 0M811.3 375.8a2.55 2.55 0 1 0 5.1 0a2.55 2.55 0 1 0 -5.1 0M815.2 390.0a2.55 2.55 0 1 0 5.1 0a2.55 2.55 0 1 0 -5.1 0M797.8 379.6a2.55 2.55 0 1 0 5.1 0a2.55 2.55 0 1 0 -5.1 0M811.6 381.6a2.55 2.55 0 1 0 5.1 0a2.55 2.55 0 1 0 -5.1 0M798.9 373.9a2.55 2.55 0 1 0 5.1 0a2.55 2.55 0 1 0 -5.1 0M813.4 374.6a2.55 2.55 0 1 0 5.1 0a2.55 2.55 0 1 0 -5.1 0M816.6 393.9a2.55 2.55 0 1 0 5.1 0a2.55 2.55 0 1 0 -5.1 0M801.5 387.4a2.55 2.55 0 1 0 5.1 0a2.55 2.55 0 1 0 -5.1 0M810.4 376.8a2.55 2.55 0 1 0 5.1 0a2.55 2.55 0 1 0 -5.1 0M809.2 386.4a2.55 2.55 0 1 0 5.1 0a2.55 2.55 0 1 0 -5.1 0M804.6 371.8a2.55 2.55 0 1 0 5.1 0a2.55 2.55 0 1 0 -5.1 0M802.3 374.9a2.55 2.55 0 1 0 5.1 0a2.55 2.55 0 1 0 -5.1 0M812.8 372.7a2.55 2.55 0 1 0 5.1 0a2.55 2.55 0 1 0 -5.1 0M810.3 378.0a2.55 2.55 0 1 0 5.1 0a2.55 2.55 0 1 0 -5.1 0M801.0 372.8a2.55 2.55 0 1 0 5.1 0a2.55 2.55 0 1 0 -5.1 0M815.3 386.7a2.55 2.55 0 1 0 5.1 0a2.55 2.55 0 1 0 -5.1 0M818.9 377.8a2.55 2.55 0 1 0 5.1 0a2.55 2.55 0 1 0 -5.1 0M823.2 380.9a2.55 2.55 0 1 0 5.1 0a2.55 2.55 0 1 0 -5.1 0M803.9 370.9a2.55 2.55 0 1 0 5.1 0a2.55 2.55 0 1 0 -5.1 0M807.0 378.2a2.55 2.55 0 1 0 5.1 0a2.55 2.55 0 1 0 -5.1 0M811.7 386.7a2.55 2.55 0 1 0 5.1 0a2.55 2.55 0 1 0 -5.1 0M800.2 386.2a2.55 2.55 0 1 0 5.1 0a2.55 2.55 0 1 0 -5.1 0M800.4 369.1a2.55 2.55 0 1 0 5.1 0a2.55 2.55 0 1 0 -5.1 0M834.6 380.0a2.55 2.55 0 1 0 5.1 0a2.55 2.55 0 1 0 -5.1 0M831.9 381.1a2.55 2.55 0 1 0 5.1 0a2.55 2.55 0 1 0 -5.1 0M837.7 388.0a2.55 2.55 0 1 0 5.1 0a2.55 2.55 0 1 0 -5.1 0M831.1 385.6a2.55 2.55 0 1 0 5.1 0a2.55 2.55 0 1 0 -5.1 0M836.7 377.0a2.55 2.55 0 1 0 5.1 0a2.55 2.55 0 1 0 -5.1 0M829.7 369.2a2.55 2.55 0 1 0 5.1 0a2.55 2.55 0 1 0 -5.1 0M822.3 385.5a2.55 2.55 0 1 0 5.1 0a2.55 2.55 0 1 0 -5.1 0M824.6 373.8a2.55 2.55 0 1 0 5.1 0a2.55 2.55 0 1 0 -5.1 0M814.8 368.4a2.55 2.55 0 1 0 5.1 0a2.55 2.55 0 1 0 -5.1 0M828.4 390.6a2.55 2.55 0 1 0 5.1 0a2.55 2.55 0 1 0 -5.1 0M834.6 367.3a2.55 2.55 0 1 0 5.1 0a2.55 2.55 0 1 0 -5.1 0M828.0 383.9a2.55 2.55 0 1 0 5.1 0a2.55 2.55 0 1 0 -5.1 0M836.2 386.4a2.55 2.55 0 1 0 5.1 0a2.55 2.55 0 1 0 -5.1 0M832.3 377.3a2.55 2.55 0 1 0 5.1 0a2.55 2.55 0 1 0 -5.1 0M826.0 382.1a2.55 2.55 0 1 0 5.1 0a2.55 2.55 0 1 0 -5.1 0M825.0 386.3a2.55 2.55 0 1 0 5.1 0a2.55 2.55 0 1 0 -5.1 0M830.3 376.9a2.55 2.55 0 1 0 5.1 0a2.55 2.55 0 1 0 -5.1 0M832.2 384.4a2.55 2.55 0 1 0 5.1 0a2.55 2.55 0 1 0 -5.1 0M829.9 372.8a2.55 2.55 0 1 0 5.1 0a2.55 2.55 0 1 0 -5.1 0M818.4 371.3a2.55 2.55 0 1 0 5.1 0a2.55 2.55 0 1 0 -5.1 0M823.2 375.3a2.55 2.55 0 1 0 5.1 0a2.55 2.55 0 1 0 -5.1 0M837.7 380.7a2.55 2.55 0 1 0 5.1 0a2.55 2.55 0 1 0 -5.1 0M832.0 378.8a2.55 2.55 0 1 0 5.1 0a2.55 2.55 0 1 0 -5.1 0M826.3 385.8a2.55 2.55 0 1 0 5.1 0a2.55 2.55 0 1 0 -5.1 0M812.0 372.8a2.55 2.55 0 1 0 5.1 0a2.55 2.55 0 1 0 -5.1 0M831.9 380.4a2.55 2.55 0 1 0 5.1 0a2.55 2.55 0 1 0 -5.1 0M813.2 387.0a2.55 2.55 0 1 0 5.1 0a2.55 2.55 0 1 0 -5.1 0M830.4 384.7a2.55 2.55 0 1 0 5.1 0a2.55 2.55 0 1 0 -5.1 0M823.6 375.2a2.55 2.55 0 1 0 5.1 0a2.55 2.55 0 1 0 -5.1 0M829.2 372.6a2.55 2.55 0 1 0 5.1 0a2.55 2.55 0 1 0 -5.1 0M832.8 388.4a2.55 2.55 0 1 0 5.1 0a2.55 2.55 0 1 0 -5.1 0M834.0 375.6a2.55 2.55 0 1 0 5.1 0a2.55 2.55 0 1 0 -5.1 0M824.2 387.4a2.55 2.55 0 1 0 5.1 0a2.55 2.55 0 1 0 -5.1 0M825.6 374.7a2.55 2.55 0 1 0 5.1 0a2.55 2.55 0 1 0 -5.1 0M824.3 383.7a2.55 2.55 0 1 0 5.1 0a2.55 2.55 0 1 0 -5.1 0M824.9 382.0a2.55 2.55 0 1 0 5.1 0a2.55 2.55 0 1 0 -5.1 0M834.3 387.2a2.55 2.55 0 1 0 5.1 0a2.55 2.55 0 1 0 -5.1 0M832.9 384.6a2.55 2.55 0 1 0 5.1 0a2.55 2.55 0 1 0 -5.1 0M830.2 379.9a2.55 2.55 0 1 0 5.1 0a2.55 2.55 0 1 0 -5.1 0M828.1 380.9a2.55 2.55 0 1 0 5.1 0a2.55 2.55 0 1 0 -5.1 0M846.9 370.9a2.55 2.55 0 1 0 5.1 0a2.55 2.55 0 1 0 -5.1 0M851.1 383.2a2.55 2.55 0 1 0 5.1 0a2.55 2.55 0 1 0 -5.1 0M850.4 372.4a2.55 2.55 0 1 0 5.1 0a2.55 2.55 0 1 0 -5.1 0M855.3 376.1a2.55 2.55 0 1 0 5.1 0a2.55 2.55 0 1 0 -5.1 0M840.3 378.2a2.55 2.55 0 1 0 5.1 0a2.55 2.55 0 1 0 -5.1 0M851.2 382.8a2.55 2.55 0 1 0 5.1 0a2.55 2.55 0 1 0 -5.1 0M861.8 375.4a2.55 2.55 0 1 0 5.1 0a2.55 2.55 0 1 0 -5.1 0M574.6 403.8a2.55 2.55 0 1 0 5.1 0a2.55 2.55 0 1 0 -5.1 0M557.2 401.6a2.55 2.55 0 1 0 5.1 0a2.55 2.55 0 1 0 -5.1 0M579.1 390.7a2.55 2.55 0 1 0 5.1 0a2.55 2.55 0 1 0 -5.1 0M564.2 393.1a2.55 2.55 0 1 0 5.1 0a2.55 2.55 0 1 0 -5.1 0M585.3 397.6a2.55 2.55 0 1 0 5.1 0a2.55 2.55 0 1 0 -5.1 0M588.4 392.0a2.55 2.55 0 1 0 5.1 0a2.55 2.55 0 1 0 -5.1 0M589.6 401.2a2.55 2.55 0 1 0 5.1 0a2.55 2.55 0 1 0 -5.1 0M598.4 393.5a2.55 2.55 0 1 0 5.1 0a2.55 2.55 0 1 0 -5.1 0M585.6 402.3a2.55 2.55 0 1 0 5.1 0a2.55 2.55 0 1 0 -5.1 0M582.4 404.3a2.55 2.55 0 1 0 5.1 0a2.55 2.55 0 1 0 -5.1 0M592.7 398.4a2.55 2.55 0 1 0 5.1 0a2.55 2.55 0 1 0 -5.1 0M587.8 406.6a2.55 2.55 0 1 0 5.1 0a2.55 2.55 0 1 0 -5.1 0M578.8 394.5a2.55 2.55 0 1 0 5.1 0a2.55 2.55 0 1 0 -5.1 0M601.0 397.4a2.55 2.55 0 1 0 5.1 0a2.55 2.55 0 1 0 -5.1 0M580.5 409.6a2.55 2.55 0 1 0 5.1 0a2.55 2.55 0 1 0 -5.1 0M586.9 389.9a2.55 2.55 0 1 0 5.1 0a2.55 2.55 0 1 0 -5.1 0M592.6 397.1a2.55 2.55 0 1 0 5.1 0a2.55 2.55 0 1 0 -5.1 0M592.7 400.3a2.55 2.55 0 1 0 5.1 0a2.55 2.55 0 1 0 -5.1 0M577.2 390.4a2.55 2.55 0 1 0 5.1 0a2.55 2.55 0 1 0 -5.1 0M597.3 395.4a2.55 2.55 0 1 0 5.1 0a2.55 2.55 0 1 0 -5.1 0M593.2 407.4a2.55 2.55 0 1 0 5.1 0a2.55 2.55 0 1 0 -5.1 0M584.7 402.7a2.55 2.55 0 1 0 5.1 0a2.55 2.55 0 1 0 -5.1 0M585.6 403.0a2.55 2.55 0 1 0 5.1 0a2.55 2.55 0 1 0 -5.1 0M586.3 411.1a2.55 2.55 0 1 0 5.1 0a2.55 2.55 0 1 0 -5.1 0M579.9 390.2a2.55 2.55 0 1 0 5.1 0a2.55 2.55 0 1 0 -5.1 0M590.4 387.7a2.55 2.55 0 1 0 5.1 0a2.55 2.55 0 1 0 -5.1 0M580.7 395.6a2.55 2.55 0 1 0 5.1 0a2.55 2.55 0 1 0 -5.1 0M581.4 396.2a2.55 2.55 0 1 0 5.1 0a2.55 2.55 0 1 0 -5.1 0M596.9 409.1a2.55 2.55 0 1 0 5.1 0a2.55 2.55 0 1 0 -5.1 0M579.8 397.0a2.55 2.55 0 1 0 5.1 0a2.55 2.55 0 1 0 -5.1 0M586.6 402.9a2.55 2.55 0 1 0 5.1 0a2.55 2.55 0 1 0 -5.1 0M587.9 403.2a2.55 2.55 0 1 0 5.1 0a2.55 2.55 0 1 0 -5.1 0M606.3 406.8a2.55 2.55 0 1 0 5.1 0a2.55 2.55 0 1 0 -5.1 0M619.6 405.5a2.55 2.55 0 1 0 5.1 0a2.55 2.55 0 1 0 -5.1 0M612.2 390.5a2.55 2.55 0 1 0 5.1 0a2.55 2.55 0 1 0 -5.1 0M601.3 411.7a2.55 2.55 0 1 0 5.1 0a2.55 2.55 0 1 0 -5.1 0M608.6 402.9a2.55 2.55 0 1 0 5.1 0a2.55 2.55 0 1 0 -5.1 0M611.9 406.3a2.55 2.55 0 1 0 5.1 0a2.55 2.55 0 1 0 -5.1 0M607.0 403.1a2.55 2.55 0 1 0 5.1 0a2.55 2.55 0 1 0 -5.1 0M604.2 404.6a2.55 2.55 0 1 0 5.1 0a2.55 2.55 0 1 0 -5.1 0M614.7 407.2a2.55 2.55 0 1 0 5.1 0a2.55 2.55 0 1 0 -5.1 0M609.2 395.8a2.55 2.55 0 1 0 5.1 0a2.55 2.55 0 1 0 -5.1 0M616.0 404.4a2.55 2.55 0 1 0 5.1 0a2.55 2.55 0 1 0 -5.1 0M618.4 388.3a2.55 2.55 0 1 0 5.1 0a2.55 2.55 0 1 0 -5.1 0M601.6 409.6a2.55 2.55 0 1 0 5.1 0a2.55 2.55 0 1 0 -5.1 0M614.4 397.0a2.55 2.55 0 1 0 5.1 0a2.55 2.55 0 1 0 -5.1 0M612.4 406.1a2.55 2.55 0 1 0 5.1 0a2.55 2.55 0 1 0 -5.1 0M614.8 405.7a2.55 2.55 0 1 0 5.1 0a2.55 2.55 0 1 0 -5.1 0M604.2 403.6a2.55 2.55 0 1 0 5.1 0a2.55 2.55 0 1 0 -5.1 0M612.2 401.9a2.55 2.55 0 1 0 5.1 0a2.55 2.55 0 1 0 -5.1 0M602.5 395.4a2.55 2.55 0 1 0 5.1 0a2.55 2.55 0 1 0 -5.1 0M600.5 392.7a2.55 2.55 0 1 0 5.1 0a2.55 2.55 0 1 0 -5.1 0M606.0 402.2a2.55 2.55 0 1 0 5.1 0a2.55 2.55 0 1 0 -5.1 0M599.4 405.8a2.55 2.55 0 1 0 5.1 0a2.55 2.55 0 1 0 -5.1 0M604.1 395.8a2.55 2.55 0 1 0 5.1 0a2.55 2.55 0 1 0 -5.1 0M611.5 402.2a2.55 2.55 0 1 0 5.1 0a2.55 2.55 0 1 0 -5.1 0M614.9 410.2a2.55 2.55 0 1 0 5.1 0a2.55 2.55 0 1 0 -5.1 0M610.8 397.2a2.55 2.55 0 1 0 5.1 0a2.55 2.55 0 1 0 -5.1 0M603.6 398.9a2.55 2.55 0 1 0 5.1 0a2.55 2.55 0 1 0 -5.1 0M614.3 394.3a2.55 2.55 0 1 0 5.1 0a2.55 2.55 0 1 0 -5.1 0M603.8 405.6a2.55 2.55 0 1 0 5.1 0a2.55 2.55 0 1 0 -5.1 0M598.2 401.1a2.55 2.55 0 1 0 5.1 0a2.55 2.55 0 1 0 -5.1 0M615.5 395.3a2.55 2.55 0 1 0 5.1 0a2.55 2.55 0 1 0 -5.1 0M619.7 399.7a2.55 2.55 0 1 0 5.1 0a2.55 2.55 0 1 0 -5.1 0M616.5 402.3a2.55 2.55 0 1 0 5.1 0a2.55 2.55 0 1 0 -5.1 0M600.4 393.5a2.55 2.55 0 1 0 5.1 0a2.55 2.55 0 1 0 -5.1 0M607.3 397.7a2.55 2.55 0 1 0 5.1 0a2.55 2.55 0 1 0 -5.1 0M618.8 406.0a2.55 2.55 0 1 0 5.1 0a2.55 2.55 0 1 0 -5.1 0M607.1 404.8a2.55 2.55 0 1 0 5.1 0a2.55 2.55 0 1 0 -5.1 0M609.8 400.6a2.55 2.55 0 1 0 5.1 0a2.55 2.55 0 1 0 -5.1 0M609.0 386.6a2.55 2.55 0 1 0 5.1 0a2.55 2.55 0 1 0 -5.1 0M609.3 407.4a2.55 2.55 0 1 0 5.1 0a2.55 2.55 0 1 0 -5.1 0M613.0 401.6a2.55 2.55 0 1 0 5.1 0a2.55 2.55 0 1 0 -5.1 0M606.1 395.2a2.55 2.55 0 1 0 5.1 0a2.55 2.55 0 1 0 -5.1 0M606.3 400.9a2.55 2.55 0 1 0 5.1 0a2.55 2.55 0 1 0 -5.1 0M611.3 405.4a2.55 2.55 0 1 0 5.1 0a2.55 2.55 0 1 0 -5.1 0M616.5 394.4a2.55 2.55 0 1 0 5.1 0a2.55 2.55 0 1 0 -5.1 0M611.9 399.7a2.55 2.55 0 1 0 5.1 0a2.55 2.55 0 1 0 -5.1 0M595.7 401.1a2.55 2.55 0 1 0 5.1 0a2.55 2.55 0 1 0 -5.1 0M620.6 398.0a2.55 2.55 0 1 0 5.1 0a2.55 2.55 0 1 0 -5.1 0M598.3 409.9a2.55 2.55 0 1 0 5.1 0a2.55 2.55 0 1 0 -5.1 0M599.6 407.7a2.55 2.55 0 1 0 5.1 0a2.55 2.55 0 1 0 -5.1 0M629.1 404.1a2.55 2.55 0 1 0 5.1 0a2.55 2.55 0 1 0 -5.1 0M628.8 405.9a2.55 2.55 0 1 0 5.1 0a2.55 2.55 0 1 0 -5.1 0M630.1 393.6a2.55 2.55 0 1 0 5.1 0a2.55 2.55 0 1 0 -5.1 0M630.2 392.3a2.55 2.55 0 1 0 5.1 0a2.55 2.55 0 1 0 -5.1 0M634.8 392.7a2.55 2.55 0 1 0 5.1 0a2.55 2.55 0 1 0 -5.1 0M630.0 401.3a2.55 2.55 0 1 0 5.1 0a2.55 2.55 0 1 0 -5.1 0M641.8 405.9a2.55 2.55 0 1 0 5.1 0a2.55 2.55 0 1 0 -5.1 0M620.6 409.5a2.55 2.55 0 1 0 5.1 0a2.55 2.55 0 1 0 -5.1 0M629.8 393.3a2.55 2.55 0 1 0 5.1 0a2.55 2.55 0 1 0 -5.1 0M622.7 403.6a2.55 2.55 0 1 0 5.1 0a2.55 2.55 0 1 0 -5.1 0M638.0 406.3a2.55 2.55 0 1 0 5.1 0a2.55 2.55 0 1 0 -5.1 0M629.7 396.0a2.55 2.55 0 1 0 5.1 0a2.55 2.55 0 1 0 -5.1 0M633.9 399.3a2.55 2.55 0 1 0 5.1 0a2.55 2.55 0 1 0 -5.1 0M631.5 387.0a2.55 2.55 0 1 0 5.1 0a2.55 2.55 0 1 0 -5.1 0M619.7 397.3a2.55 2.55 0 1 0 5.1 0a2.55 2.55 0 1 0 -5.1 0M618.6 390.4a2.55 2.55 0 1 0 5.1 0a2.55 2.55 0 1 0 -5.1 0M641.4 408.6a2.55 2.55 0 1 0 5.1 0a2.55 2.55 0 1 0 -5.1 0M630.1 403.6a2.55 2.55 0 1 0 5.1 0a2.55 2.55 0 1 0 -5.1 0M624.2 396.7a2.55 2.55 0 1 0 5.1 0a2.55 2.55 0 1 0 -5.1 0M628.0 404.1a2.55 2.55 0 1 0 5.1 0a2.55 2.55 0 1 0 -5.1 0M620.2 405.7a2.55 2.55 0 1 0 5.1 0a2.55 2.55 0 1 0 -5.1 0M629.4 409.9a2.55 2.55 0 1 0 5.1 0a2.55 2.55 0 1 0 -5.1 0M616.0 406.6a2.55 2.55 0 1 0 5.1 0a2.55 2.55 0 1 0 -5.1 0M635.8 405.2a2.55 2.55 0 1 0 5.1 0a2.55 2.55 0 1 0 -5.1 0M626.2 390.0a2.55 2.55 0 1 0 5.1 0a2.55 2.55 0 1 0 -5.1 0M624.0 404.7a2.55 2.55 0 1 0 5.1 0a2.55 2.55 0 1 0 -5.1 0M633.0 395.9a2.55 2.55 0 1 0 5.1 0a2.55 2.55 0 1 0 -5.1 0M636.2 392.6a2.55 2.55 0 1 0 5.1 0a2.55 2.55 0 1 0 -5.1 0M620.5 395.3a2.55 2.55 0 1 0 5.1 0a2.55 2.55 0 1 0 -5.1 0M636.7 403.1a2.55 2.55 0 1 0 5.1 0a2.55 2.55 0 1 0 -5.1 0M637.9 406.8a2.55 2.55 0 1 0 5.1 0a2.55 2.55 0 1 0 -5.1 0M623.1 409.9a2.55 2.55 0 1 0 5.1 0a2.55 2.55 0 1 0 -5.1 0M629.6 392.4a2.55 2.55 0 1 0 5.1 0a2.55 2.55 0 1 0 -5.1 0M637.6 412.9a2.55 2.55 0 1 0 5.1 0a2.55 2.55 0 1 0 -5.1 0M630.3 396.3a2.55 2.55 0 1 0 5.1 0a2.55 2.55 0 1 0 -5.1 0M631.3 407.4a2.55 2.55 0 1 0 5.1 0a2.55 2.55 0 1 0 -5.1 0M628.8 392.5a2.55 2.55 0 1 0 5.1 0a2.55 2.55 0 1 0 -5.1 0M630.4 403.8a2.55 2.55 0 1 0 5.1 0a2.55 2.55 0 1 0 -5.1 0M628.4 404.9a2.55 2.55 0 1 0 5.1 0a2.55 2.55 0 1 0 -5.1 0M636.0 404.6a2.55 2.55 0 1 0 5.1 0a2.55 2.55 0 1 0 -5.1 0M629.7 403.5a2.55 2.55 0 1 0 5.1 0a2.55 2.55 0 1 0 -5.1 0M626.7 403.6a2.55 2.55 0 1 0 5.1 0a2.55 2.55 0 1 0 -5.1 0M628.8 395.1a2.55 2.55 0 1 0 5.1 0a2.55 2.55 0 1 0 -5.1 0M630.8 396.7a2.55 2.55 0 1 0 5.1 0a2.55 2.55 0 1 0 -5.1 0M633.8 402.8a2.55 2.55 0 1 0 5.1 0a2.55 2.55 0 1 0 -5.1 0M639.4 397.5a2.55 2.55 0 1 0 5.1 0a2.55 2.55 0 1 0 -5.1 0M618.2 390.7a2.55 2.55 0 1 0 5.1 0a2.55 2.55 0 1 0 -5.1 0M629.5 401.8a2.55 2.55 0 1 0 5.1 0a2.55 2.55 0 1 0 -5.1 0M632.1 400.2a2.55 2.55 0 1 0 5.1 0a2.55 2.55 0 1 0 -5.1 0M622.8 394.4a2.55 2.55 0 1 0 5.1 0a2.55 2.55 0 1 0 -5.1 0M630.6 400.2a2.55 2.55 0 1 0 5.1 0a2.55 2.55 0 1 0 -5.1 0M627.5 390.1a2.55 2.55 0 1 0 5.1 0a2.55 2.55 0 1 0 -5.1 0M623.8 401.1a2.55 2.55 0 1 0 5.1 0a2.55 2.55 0 1 0 -5.1 0M622.0 403.6a2.55 2.55 0 1 0 5.1 0a2.55 2.55 0 1 0 -5.1 0M613.2 404.2a2.55 2.55 0 1 0 5.1 0a2.55 2.55 0 1 0 -5.1 0M628.5 392.1a2.55 2.55 0 1 0 5.1 0a2.55 2.55 0 1 0 -5.1 0M622.4 395.1a2.55 2.55 0 1 0 5.1 0a2.55 2.55 0 1 0 -5.1 0M629.7 392.6a2.55 2.55 0 1 0 5.1 0a2.55 2.55 0 1 0 -5.1 0M614.4 407.5a2.55 2.55 0 1 0 5.1 0a2.55 2.55 0 1 0 -5.1 0M618.1 408.4a2.55 2.55 0 1 0 5.1 0a2.55 2.55 0 1 0 -5.1 0M620.6 401.9a2.55 2.55 0 1 0 5.1 0a2.55 2.55 0 1 0 -5.1 0M617.7 400.7a2.55 2.55 0 1 0 5.1 0a2.55 2.55 0 1 0 -5.1 0M631.8 398.5a2.55 2.55 0 1 0 5.1 0a2.55 2.55 0 1 0 -5.1 0M628.4 408.4a2.55 2.55 0 1 0 5.1 0a2.55 2.55 0 1 0 -5.1 0M625.5 391.0a2.55 2.55 0 1 0 5.1 0a2.55 2.55 0 1 0 -5.1 0M632.6 398.3a2.55 2.55 0 1 0 5.1 0a2.55 2.55 0 1 0 -5.1 0M624.5 396.9a2.55 2.55 0 1 0 5.1 0a2.55 2.55 0 1 0 -5.1 0M623.0 398.6a2.55 2.55 0 1 0 5.1 0a2.55 2.55 0 1 0 -5.1 0M629.0 397.7a2.55 2.55 0 1 0 5.1 0a2.55 2.55 0 1 0 -5.1 0M637.5 413.0a2.55 2.55 0 1 0 5.1 0a2.55 2.55 0 1 0 -5.1 0M638.7 394.9a2.55 2.55 0 1 0 5.1 0a2.55 2.55 0 1 0 -5.1 0M640.8 391.4a2.55 2.55 0 1 0 5.1 0a2.55 2.55 0 1 0 -5.1 0M656.8 404.2a2.55 2.55 0 1 0 5.1 0a2.55 2.55 0 1 0 -5.1 0M652.3 398.4a2.55 2.55 0 1 0 5.1 0a2.55 2.55 0 1 0 -5.1 0M652.8 408.4a2.55 2.55 0 1 0 5.1 0a2.55 2.55 0 1 0 -5.1 0M644.2 406.3a2.55 2.55 0 1 0 5.1 0a2.55 2.55 0 1 0 -5.1 0M648.9 407.1a2.55 2.55 0 1 0 5.1 0a2.55 2.55 0 1 0 -5.1 0M650.4 395.8a2.55 2.55 0 1 0 5.1 0a2.55 2.55 0 1 0 -5.1 0M653.1 408.0a2.55 2.55 0 1 0 5.1 0a2.55 2.55 0 1 0 -5.1 0M651.2 412.3a2.55 2.55 0 1 0 5.1 0a2.55 2.55 0 1 0 -5.1 0M652.3 406.1a2.55 2.55 0 1 0 5.1 0a2.55 2.55 0 1 0 -5.1 0M645.8 403.3a2.55 2.55 0 1 0 5.1 0a2.55 2.55 0 1 0 -5.1 0M643.9 403.6a2.55 2.55 0 1 0 5.1 0a2.55 2.55 0 1 0 -5.1 0M649.0 406.9a2.55 2.55 0 1 0 5.1 0a2.55 2.55 0 1 0 -5.1 0M644.3 402.5a2.55 2.55 0 1 0 5.1 0a2.55 2.55 0 1 0 -5.1 0M656.3 405.3a2.55 2.55 0 1 0 5.1 0a2.55 2.55 0 1 0 -5.1 0M641.1 392.7a2.55 2.55 0 1 0 5.1 0a2.55 2.55 0 1 0 -5.1 0M646.4 406.1a2.55 2.55 0 1 0 5.1 0a2.55 2.55 0 1 0 -5.1 0M650.8 400.6a2.55 2.55 0 1 0 5.1 0a2.55 2.55 0 1 0 -5.1 0M639.1 408.2a2.55 2.55 0 1 0 5.1 0a2.55 2.55 0 1 0 -5.1 0M646.9 397.2a2.55 2.55 0 1 0 5.1 0a2.55 2.55 0 1 0 -5.1 0M638.1 407.0a2.55 2.55 0 1 0 5.1 0a2.55 2.55 0 1 0 -5.1 0M644.7 398.1a2.55 2.55 0 1 0 5.1 0a2.55 2.55 0 1 0 -5.1 0M654.9 395.0a2.55 2.55 0 1 0 5.1 0a2.55 2.55 0 1 0 -5.1 0M643.4 398.9a2.55 2.55 0 1 0 5.1 0a2.55 2.55 0 1 0 -5.1 0M642.9 395.6a2.55 2.55 0 1 0 5.1 0a2.55 2.55 0 1 0 -5.1 0M649.8 397.7a2.55 2.55 0 1 0 5.1 0a2.55 2.55 0 1 0 -5.1 0M642.3 399.0a2.55 2.55 0 1 0 5.1 0a2.55 2.55 0 1 0 -5.1 0M651.1 404.4a2.55 2.55 0 1 0 5.1 0a2.55 2.55 0 1 0 -5.1 0M634.8 405.2a2.55 2.55 0 1 0 5.1 0a2.55 2.55 0 1 0 -5.1 0M641.7 407.3a2.55 2.55 0 1 0 5.1 0a2.55 2.55 0 1 0 -5.1 0M639.8 400.0a2.55 2.55 0 1 0 5.1 0a2.55 2.55 0 1 0 -5.1 0M644.1 399.0a2.55 2.55 0 1 0 5.1 0a2.55 2.55 0 1 0 -5.1 0M657.0 389.7a2.55 2.55 0 1 0 5.1 0a2.55 2.55 0 1 0 -5.1 0M643.9 396.9a2.55 2.55 0 1 0 5.1 0a2.55 2.55 0 1 0 -5.1 0M651.5 390.4a2.55 2.55 0 1 0 5.1 0a2.55 2.55 0 1 0 -5.1 0M652.3 397.0a2.55 2.55 0 1 0 5.1 0a2.55 2.55 0 1 0 -5.1 0M640.0 395.7a2.55 2.55 0 1 0 5.1 0a2.55 2.55 0 1 0 -5.1 0M655.4 397.7a2.55 2.55 0 1 0 5.1 0a2.55 2.55 0 1 0 -5.1 0M653.3 407.6a2.55 2.55 0 1 0 5.1 0a2.55 2.55 0 1 0 -5.1 0M638.9 403.6a2.55 2.55 0 1 0 5.1 0a2.55 2.55 0 1 0 -5.1 0M651.5 387.5a2.55 2.55 0 1 0 5.1 0a2.55 2.55 0 1 0 -5.1 0M645.3 392.5a2.55 2.55 0 1 0 5.1 0a2.55 2.55 0 1 0 -5.1 0M642.2 392.5a2.55 2.55 0 1 0 5.1 0a2.55 2.55 0 1 0 -5.1 0M647.0 407.3a2.55 2.55 0 1 0 5.1 0a2.55 2.55 0 1 0 -5.1 0M648.4 410.4a2.55 2.55 0 1 0 5.1 0a2.55 2.55 0 1 0 -5.1 0M646.3 389.8a2.55 2.55 0 1 0 5.1 0a2.55 2.55 0 1 0 -5.1 0M657.4 400.5a2.55 2.55 0 1 0 5.1 0a2.55 2.55 0 1 0 -5.1 0M645.2 401.1a2.55 2.55 0 1 0 5.1 0a2.55 2.55 0 1 0 -5.1 0M649.2 404.0a2.55 2.55 0 1 0 5.1 0a2.55 2.55 0 1 0 -5.1 0M650.4 407.1a2.55 2.55 0 1 0 5.1 0a2.55 2.55 0 1 0 -5.1 0M651.7 407.4a2.55 2.55 0 1 0 5.1 0a2.55 2.55 0 1 0 -5.1 0M643.4 400.2a2.55 2.55 0 1 0 5.1 0a2.55 2.55 0 1 0 -5.1 0M645.2 399.9a2.55 2.55 0 1 0 5.1 0a2.55 2.55 0 1 0 -5.1 0M646.3 397.5a2.55 2.55 0 1 0 5.1 0a2.55 2.55 0 1 0 -5.1 0M649.2 394.6a2.55 2.55 0 1 0 5.1 0a2.55 2.55 0 1 0 -5.1 0M641.5 391.4a2.55 2.55 0 1 0 5.1 0a2.55 2.55 0 1 0 -5.1 0M643.7 405.7a2.55 2.55 0 1 0 5.1 0a2.55 2.55 0 1 0 -5.1 0M644.1 394.4a2.55 2.55 0 1 0 5.1 0a2.55 2.55 0 1 0 -5.1 0M642.5 400.9a2.55 2.55 0 1 0 5.1 0a2.55 2.55 0 1 0 -5.1 0M655.4 398.5a2.55 2.55 0 1 0 5.1 0a2.55 2.55 0 1 0 -5.1 0M638.2 402.9a2.55 2.55 0 1 0 5.1 0a2.55 2.55 0 1 0 -5.1 0M651.2 401.0a2.55 2.55 0 1 0 5.1 0a2.55 2.55 0 1 0 -5.1 0M657.8 397.0a2.55 2.55 0 1 0 5.1 0a2.55 2.55 0 1 0 -5.1 0M642.9 388.7a2.55 2.55 0 1 0 5.1 0a2.55 2.55 0 1 0 -5.1 0M636.9 402.8a2.55 2.55 0 1 0 5.1 0a2.55 2.55 0 1 0 -5.1 0M652.6 403.5a2.55 2.55 0 1 0 5.1 0a2.55 2.55 0 1 0 -5.1 0M641.3 396.3a2.55 2.55 0 1 0 5.1 0a2.55 2.55 0 1 0 -5.1 0M648.7 395.9a2.55 2.55 0 1 0 5.1 0a2.55 2.55 0 1 0 -5.1 0M650.3 405.6a2.55 2.55 0 1 0 5.1 0a2.55 2.55 0 1 0 -5.1 0M659.8 411.7a2.55 2.55 0 1 0 5.1 0a2.55 2.55 0 1 0 -5.1 0M664.3 403.0a2.55 2.55 0 1 0 5.1 0a2.55 2.55 0 1 0 -5.1 0M676.5 402.7a2.55 2.55 0 1 0 5.1 0a2.55 2.55 0 1 0 -5.1 0M661.1 388.4a2.55 2.55 0 1 0 5.1 0a2.55 2.55 0 1 0 -5.1 0M670.8 407.9a2.55 2.55 0 1 0 5.1 0a2.55 2.55 0 1 0 -5.1 0M673.2 396.8a2.55 2.55 0 1 0 5.1 0a2.55 2.55 0 1 0 -5.1 0M677.0 409.6a2.55 2.55 0 1 0 5.1 0a2.55 2.55 0 1 0 -5.1 0M672.5 395.2a2.55 2.55 0 1 0 5.1 0a2.55 2.55 0 1 0 -5.1 0M665.9 400.7a2.55 2.55 0 1 0 5.1 0a2.55 2.55 0 1 0 -5.1 0M662.3 410.4a2.55 2.55 0 1 0 5.1 0a2.55 2.55 0 1 0 -5.1 0M674.0 403.1a2.55 2.55 0 1 0 5.1 0a2.55 2.55 0 1 0 -5.1 0M667.0 391.5a2.55 2.55 0 1 0 5.1 0a2.55 2.55 0 1 0 -5.1 0M657.0 393.6a2.55 2.55 0 1 0 5.1 0a2.55 2.55 0 1 0 -5.1 0M661.8 393.7a2.55 2.55 0 1 0 5.1 0a2.55 2.55 0 1 0 -5.1 0M671.6 393.6a2.55 2.55 0 1 0 5.1 0a2.55 2.55 0 1 0 -5.1 0M675.8 399.0a2.55 2.55 0 1 0 5.1 0a2.55 2.55 0 1 0 -5.1 0M670.9 397.5a2.55 2.55 0 1 0 5.1 0a2.55 2.55 0 1 0 -5.1 0M667.9 394.3a2.55 2.55 0 1 0 5.1 0a2.55 2.55 0 1 0 -5.1 0M671.0 392.9a2.55 2.55 0 1 0 5.1 0a2.55 2.55 0 1 0 -5.1 0M659.7 394.0a2.55 2.55 0 1 0 5.1 0a2.55 2.55 0 1 0 -5.1 0M679.2 388.8a2.55 2.55 0 1 0 5.1 0a2.55 2.55 0 1 0 -5.1 0M665.5 402.4a2.55 2.55 0 1 0 5.1 0a2.55 2.55 0 1 0 -5.1 0M678.1 395.7a2.55 2.55 0 1 0 5.1 0a2.55 2.55 0 1 0 -5.1 0M655.0 394.9a2.55 2.55 0 1 0 5.1 0a2.55 2.55 0 1 0 -5.1 0M673.3 395.3a2.55 2.55 0 1 0 5.1 0a2.55 2.55 0 1 0 -5.1 0M663.5 398.7a2.55 2.55 0 1 0 5.1 0a2.55 2.55 0 1 0 -5.1 0M668.3 406.8a2.55 2.55 0 1 0 5.1 0a2.55 2.55 0 1 0 -5.1 0M662.9 409.5a2.55 2.55 0 1 0 5.1 0a2.55 2.55 0 1 0 -5.1 0M668.8 398.7a2.55 2.55 0 1 0 5.1 0a2.55 2.55 0 1 0 -5.1 0M675.4 397.0a2.55 2.55 0 1 0 5.1 0a2.55 2.55 0 1 0 -5.1 0M672.9 403.5a2.55 2.55 0 1 0 5.1 0a2.55 2.55 0 1 0 -5.1 0M673.4 404.0a2.55 2.55 0 1 0 5.1 0a2.55 2.55 0 1 0 -5.1 0M678.2 398.1a2.55 2.55 0 1 0 5.1 0a2.55 2.55 0 1 0 -5.1 0M672.5 404.3a2.55 2.55 0 1 0 5.1 0a2.55 2.55 0 1 0 -5.1 0M663.9 394.9a2.55 2.55 0 1 0 5.1 0a2.55 2.55 0 1 0 -5.1 0M662.3 405.1a2.55 2.55 0 1 0 5.1 0a2.55 2.55 0 1 0 -5.1 0M663.3 406.5a2.55 2.55 0 1 0 5.1 0a2.55 2.55 0 1 0 -5.1 0M657.5 391.7a2.55 2.55 0 1 0 5.1 0a2.55 2.55 0 1 0 -5.1 0M662.2 399.6a2.55 2.55 0 1 0 5.1 0a2.55 2.55 0 1 0 -5.1 0M659.9 396.4a2.55 2.55 0 1 0 5.1 0a2.55 2.55 0 1 0 -5.1 0M656.5 404.0a2.55 2.55 0 1 0 5.1 0a2.55 2.55 0 1 0 -5.1 0M657.1 408.4a2.55 2.55 0 1 0 5.1 0a2.55 2.55 0 1 0 -5.1 0M661.2 414.8a2.55 2.55 0 1 0 5.1 0a2.55 2.55 0 1 0 -5.1 0M674.9 390.5a2.55 2.55 0 1 0 5.1 0a2.55 2.55 0 1 0 -5.1 0M669.5 395.7a2.55 2.55 0 1 0 5.1 0a2.55 2.55 0 1 0 -5.1 0M680.6 393.1a2.55 2.55 0 1 0 5.1 0a2.55 2.55 0 1 0 -5.1 0M683.4 393.6a2.55 2.55 0 1 0 5.1 0a2.55 2.55 0 1 0 -5.1 0M689.3 412.3a2.55 2.55 0 1 0 5.1 0a2.55 2.55 0 1 0 -5.1 0M680.5 399.8a2.55 2.55 0 1 0 5.1 0a2.55 2.55 0 1 0 -5.1 0M687.0 391.8a2.55 2.55 0 1 0 5.1 0a2.55 2.55 0 1 0 -5.1 0M681.1 405.8a2.55 2.55 0 1 0 5.1 0a2.55 2.55 0 1 0 -5.1 0M682.4 409.4a2.55 2.55 0 1 0 5.1 0a2.55 2.55 0 1 0 -5.1 0M690.3 404.6a2.55 2.55 0 1 0 5.1 0a2.55 2.55 0 1 0 -5.1 0M695.3 408.5a2.55 2.55 0 1 0 5.1 0a2.55 2.55 0 1 0 -5.1 0M688.5 398.5a2.55 2.55 0 1 0 5.1 0a2.55 2.55 0 1 0 -5.1 0M682.8 406.8a2.55 2.55 0 1 0 5.1 0a2.55 2.55 0 1 0 -5.1 0M694.4 399.7a2.55 2.55 0 1 0 5.1 0a2.55 2.55 0 1 0 -5.1 0M697.8 398.1a2.55 2.55 0 1 0 5.1 0a2.55 2.55 0 1 0 -5.1 0M684.5 395.9a2.55 2.55 0 1 0 5.1 0a2.55 2.55 0 1 0 -5.1 0M683.0 401.5a2.55 2.55 0 1 0 5.1 0a2.55 2.55 0 1 0 -5.1 0M687.6 393.5a2.55 2.55 0 1 0 5.1 0a2.55 2.55 0 1 0 -5.1 0M692.2 410.7a2.55 2.55 0 1 0 5.1 0a2.55 2.55 0 1 0 -5.1 0M676.5 411.0a2.55 2.55 0 1 0 5.1 0a2.55 2.55 0 1 0 -5.1 0M699.1 399.4a2.55 2.55 0 1 0 5.1 0a2.55 2.55 0 1 0 -5.1 0M688.8 402.1a2.55 2.55 0 1 0 5.1 0a2.55 2.55 0 1 0 -5.1 0M693.9 400.3a2.55 2.55 0 1 0 5.1 0a2.55 2.55 0 1 0 -5.1 0M687.9 396.7a2.55 2.55 0 1 0 5.1 0a2.55 2.55 0 1 0 -5.1 0M690.5 404.3a2.55 2.55 0 1 0 5.1 0a2.55 2.55 0 1 0 -5.1 0M677.3 396.5a2.55 2.55 0 1 0 5.1 0a2.55 2.55 0 1 0 -5.1 0M691.2 408.3a2.55 2.55 0 1 0 5.1 0a2.55 2.55 0 1 0 -5.1 0M692.7 398.0a2.55 2.55 0 1 0 5.1 0a2.55 2.55 0 1 0 -5.1 0M697.2 394.4a2.55 2.55 0 1 0 5.1 0a2.55 2.55 0 1 0 -5.1 0M697.1 395.3a2.55 2.55 0 1 0 5.1 0a2.55 2.55 0 1 0 -5.1 0M687.1 395.7a2.55 2.55 0 1 0 5.1 0a2.55 2.55 0 1 0 -5.1 0M696.2 410.3a2.55 2.55 0 1 0 5.1 0a2.55 2.55 0 1 0 -5.1 0M701.3 392.6a2.55 2.55 0 1 0 5.1 0a2.55 2.55 0 1 0 -5.1 0M704.6 407.0a2.55 2.55 0 1 0 5.1 0a2.55 2.55 0 1 0 -5.1 0M712.4 401.7a2.55 2.55 0 1 0 5.1 0a2.55 2.55 0 1 0 -5.1 0M708.4 399.2a2.55 2.55 0 1 0 5.1 0a2.55 2.55 0 1 0 -5.1 0M701.9 397.2a2.55 2.55 0 1 0 5.1 0a2.55 2.55 0 1 0 -5.1 0M702.9 392.7a2.55 2.55 0 1 0 5.1 0a2.55 2.55 0 1 0 -5.1 0M711.0 406.9a2.55 2.55 0 1 0 5.1 0a2.55 2.55 0 1 0 -5.1 0M713.0 391.4a2.55 2.55 0 1 0 5.1 0a2.55 2.55 0 1 0 -5.1 0M710.4 397.5a2.55 2.55 0 1 0 5.1 0a2.55 2.55 0 1 0 -5.1 0M702.8 395.2a2.55 2.55 0 1 0 5.1 0a2.55 2.55 0 1 0 -5.1 0M711.1 413.7a2.55 2.55 0 1 0 5.1 0a2.55 2.55 0 1 0 -5.1 0M715.2 408.2a2.55 2.55 0 1 0 5.1 0a2.55 2.55 0 1 0 -5.1 0M701.3 388.0a2.55 2.55 0 1 0 5.1 0a2.55 2.55 0 1 0 -5.1 0M704.9 397.9a2.55 2.55 0 1 0 5.1 0a2.55 2.55 0 1 0 -5.1 0M705.6 396.2a2.55 2.55 0 1 0 5.1 0a2.55 2.55 0 1 0 -5.1 0M700.5 394.6a2.55 2.55 0 1 0 5.1 0a2.55 2.55 0 1 0 -5.1 0M718.1 407.6a2.55 2.55 0 1 0 5.1 0a2.55 2.55 0 1 0 -5.1 0M708.8 395.8a2.55 2.55 0 1 0 5.1 0a2.55 2.55 0 1 0 -5.1 0M712.6 402.2a2.55 2.55 0 1 0 5.1 0a2.55 2.55 0 1 0 -5.1 0M706.7 402.9a2.55 2.55 0 1 0 5.1 0a2.55 2.55 0 1 0 -5.1 0M704.5 394.2a2.55 2.55 0 1 0 5.1 0a2.55 2.55 0 1 0 -5.1 0M704.5 406.8a2.55 2.55 0 1 0 5.1 0a2.55 2.55 0 1 0 -5.1 0M713.1 395.5a2.55 2.55 0 1 0 5.1 0a2.55 2.55 0 1 0 -5.1 0M715.1 399.7a2.55 2.55 0 1 0 5.1 0a2.55 2.55 0 1 0 -5.1 0M693.8 402.7a2.55 2.55 0 1 0 5.1 0a2.55 2.55 0 1 0 -5.1 0M706.1 393.8a2.55 2.55 0 1 0 5.1 0a2.55 2.55 0 1 0 -5.1 0M694.4 393.7a2.55 2.55 0 1 0 5.1 0a2.55 2.55 0 1 0 -5.1 0M712.8 399.7a2.55 2.55 0 1 0 5.1 0a2.55 2.55 0 1 0 -5.1 0M712.2 395.7a2.55 2.55 0 1 0 5.1 0a2.55 2.55 0 1 0 -5.1 0M704.8 406.2a2.55 2.55 0 1 0 5.1 0a2.55 2.55 0 1 0 -5.1 0M696.8 397.8a2.55 2.55 0 1 0 5.1 0a2.55 2.55 0 1 0 -5.1 0M717.1 402.1a2.55 2.55 0 1 0 5.1 0a2.55 2.55 0 1 0 -5.1 0M702.7 402.3a2.55 2.55 0 1 0 5.1 0a2.55 2.55 0 1 0 -5.1 0M711.1 389.5a2.55 2.55 0 1 0 5.1 0a2.55 2.55 0 1 0 -5.1 0M698.8 403.8a2.55 2.55 0 1 0 5.1 0a2.55 2.55 0 1 0 -5.1 0M709.3 395.5a2.55 2.55 0 1 0 5.1 0a2.55 2.55 0 1 0 -5.1 0M717.9 400.8a2.55 2.55 0 1 0 5.1 0a2.55 2.55 0 1 0 -5.1 0M717.8 397.3a2.55 2.55 0 1 0 5.1 0a2.55 2.55 0 1 0 -5.1 0M705.3 406.3a2.55 2.55 0 1 0 5.1 0a2.55 2.55 0 1 0 -5.1 0M705.3 386.3a2.55 2.55 0 1 0 5.1 0a2.55 2.55 0 1 0 -5.1 0M719.2 389.9a2.55 2.55 0 1 0 5.1 0a2.55 2.55 0 1 0 -5.1 0M704.1 396.6a2.55 2.55 0 1 0 5.1 0a2.55 2.55 0 1 0 -5.1 0M714.5 403.4a2.55 2.55 0 1 0 5.1 0a2.55 2.55 0 1 0 -5.1 0M706.5 406.6a2.55 2.55 0 1 0 5.1 0a2.55 2.55 0 1 0 -5.1 0M711.8 387.8a2.55 2.55 0 1 0 5.1 0a2.55 2.55 0 1 0 -5.1 0M707.2 406.4a2.55 2.55 0 1 0 5.1 0a2.55 2.55 0 1 0 -5.1 0M708.7 395.0a2.55 2.55 0 1 0 5.1 0a2.55 2.55 0 1 0 -5.1 0M712.4 386.5a2.55 2.55 0 1 0 5.1 0a2.55 2.55 0 1 0 -5.1 0M706.2 401.6a2.55 2.55 0 1 0 5.1 0a2.55 2.55 0 1 0 -5.1 0M707.7 407.2a2.55 2.55 0 1 0 5.1 0a2.55 2.55 0 1 0 -5.1 0M697.8 389.8a2.55 2.55 0 1 0 5.1 0a2.55 2.55 0 1 0 -5.1 0M693.9 388.0a2.55 2.55 0 1 0 5.1 0a2.55 2.55 0 1 0 -5.1 0M703.1 399.8a2.55 2.55 0 1 0 5.1 0a2.55 2.55 0 1 0 -5.1 0M708.4 394.4a2.55 2.55 0 1 0 5.1 0a2.55 2.55 0 1 0 -5.1 0M715.5 400.8a2.55 2.55 0 1 0 5.1 0a2.55 2.55 0 1 0 -5.1 0M696.7 402.8a2.55 2.55 0 1 0 5.1 0a2.55 2.55 0 1 0 -5.1 0M710.6 399.1a2.55 2.55 0 1 0 5.1 0a2.55 2.55 0 1 0 -5.1 0M710.6 398.9a2.55 2.55 0 1 0 5.1 0a2.55 2.55 0 1 0 -5.1 0M702.0 405.1a2.55 2.55 0 1 0 5.1 0a2.55 2.55 0 1 0 -5.1 0M695.7 389.7a2.55 2.55 0 1 0 5.1 0a2.55 2.55 0 1 0 -5.1 0M697.8 394.3a2.55 2.55 0 1 0 5.1 0a2.55 2.55 0 1 0 -5.1 0M717.1 403.4a2.55 2.55 0 1 0 5.1 0a2.55 2.55 0 1 0 -5.1 0M697.8 403.7a2.55 2.55 0 1 0 5.1 0a2.55 2.55 0 1 0 -5.1 0M698.7 394.5a2.55 2.55 0 1 0 5.1 0a2.55 2.55 0 1 0 -5.1 0M712.8 406.0a2.55 2.55 0 1 0 5.1 0a2.55 2.55 0 1 0 -5.1 0M716.3 406.2a2.55 2.55 0 1 0 5.1 0a2.55 2.55 0 1 0 -5.1 0M705.2 389.4a2.55 2.55 0 1 0 5.1 0a2.55 2.55 0 1 0 -5.1 0M716.1 401.6a2.55 2.55 0 1 0 5.1 0a2.55 2.55 0 1 0 -5.1 0M703.2 396.2a2.55 2.55 0 1 0 5.1 0a2.55 2.55 0 1 0 -5.1 0M712.4 401.7a2.55 2.55 0 1 0 5.1 0a2.55 2.55 0 1 0 -5.1 0M730.4 390.4a2.55 2.55 0 1 0 5.1 0a2.55 2.55 0 1 0 -5.1 0M731.6 414.5a2.55 2.55 0 1 0 5.1 0a2.55 2.55 0 1 0 -5.1 0M732.3 395.5a2.55 2.55 0 1 0 5.1 0a2.55 2.55 0 1 0 -5.1 0M733.8 403.9a2.55 2.55 0 1 0 5.1 0a2.55 2.55 0 1 0 -5.1 0M740.2 406.7a2.55 2.55 0 1 0 5.1 0a2.55 2.55 0 1 0 -5.1 0M728.1 411.3a2.55 2.55 0 1 0 5.1 0a2.55 2.55 0 1 0 -5.1 0M722.8 412.3a2.55 2.55 0 1 0 5.1 0a2.55 2.55 0 1 0 -5.1 0M722.0 399.1a2.55 2.55 0 1 0 5.1 0a2.55 2.55 0 1 0 -5.1 0M728.5 399.0a2.55 2.55 0 1 0 5.1 0a2.55 2.55 0 1 0 -5.1 0M735.8 402.0a2.55 2.55 0 1 0 5.1 0a2.55 2.55 0 1 0 -5.1 0M736.6 398.3a2.55 2.55 0 1 0 5.1 0a2.55 2.55 0 1 0 -5.1 0M728.9 396.6a2.55 2.55 0 1 0 5.1 0a2.55 2.55 0 1 0 -5.1 0M724.2 391.5a2.55 2.55 0 1 0 5.1 0a2.55 2.55 0 1 0 -5.1 0M725.3 411.9a2.55 2.55 0 1 0 5.1 0a2.55 2.55 0 1 0 -5.1 0M725.7 393.4a2.55 2.55 0 1 0 5.1 0a2.55 2.55 0 1 0 -5.1 0M727.2 402.0a2.55 2.55 0 1 0 5.1 0a2.55 2.55 0 1 0 -5.1 0M734.3 400.0a2.55 2.55 0 1 0 5.1 0a2.55 2.55 0 1 0 -5.1 0M726.9 390.7a2.55 2.55 0 1 0 5.1 0a2.55 2.55 0 1 0 -5.1 0M738.7 395.8a2.55 2.55 0 1 0 5.1 0a2.55 2.55 0 1 0 -5.1 0M727.3 395.2a2.55 2.55 0 1 0 5.1 0a2.55 2.55 0 1 0 -5.1 0M717.5 395.8a2.55 2.55 0 1 0 5.1 0a2.55 2.55 0 1 0 -5.1 0M717.9 411.3a2.55 2.55 0 1 0 5.1 0a2.55 2.55 0 1 0 -5.1 0M726.8 406.5a2.55 2.55 0 1 0 5.1 0a2.55 2.55 0 1 0 -5.1 0M723.5 403.3a2.55 2.55 0 1 0 5.1 0a2.55 2.55 0 1 0 -5.1 0M718.9 395.4a2.55 2.55 0 1 0 5.1 0a2.55 2.55 0 1 0 -5.1 0M735.0 406.4a2.55 2.55 0 1 0 5.1 0a2.55 2.55 0 1 0 -5.1 0M721.8 389.7a2.55 2.55 0 1 0 5.1 0a2.55 2.55 0 1 0 -5.1 0M722.5 403.0a2.55 2.55 0 1 0 5.1 0a2.55 2.55 0 1 0 -5.1 0M723.3 409.4a2.55 2.55 0 1 0 5.1 0a2.55 2.55 0 1 0 -5.1 0M718.6 411.0a2.55 2.55 0 1 0 5.1 0a2.55 2.55 0 1 0 -5.1 0M730.9 395.5a2.55 2.55 0 1 0 5.1 0a2.55 2.55 0 1 0 -5.1 0M714.6 396.4a2.55 2.55 0 1 0 5.1 0a2.55 2.55 0 1 0 -5.1 0M735.1 397.6a2.55 2.55 0 1 0 5.1 0a2.55 2.55 0 1 0 -5.1 0M737.6 401.9a2.55 2.55 0 1 0 5.1 0a2.55 2.55 0 1 0 -5.1 0M721.7 398.9a2.55 2.55 0 1 0 5.1 0a2.55 2.55 0 1 0 -5.1 0M719.6 394.1a2.55 2.55 0 1 0 5.1 0a2.55 2.55 0 1 0 -5.1 0M730.5 400.4a2.55 2.55 0 1 0 5.1 0a2.55 2.55 0 1 0 -5.1 0M735.1 412.0a2.55 2.55 0 1 0 5.1 0a2.55 2.55 0 1 0 -5.1 0M723.9 396.4a2.55 2.55 0 1 0 5.1 0a2.55 2.55 0 1 0 -5.1 0M732.5 405.9a2.55 2.55 0 1 0 5.1 0a2.55 2.55 0 1 0 -5.1 0M728.1 406.8a2.55 2.55 0 1 0 5.1 0a2.55 2.55 0 1 0 -5.1 0M720.6 402.2a2.55 2.55 0 1 0 5.1 0a2.55 2.55 0 1 0 -5.1 0M732.0 398.3a2.55 2.55 0 1 0 5.1 0a2.55 2.55 0 1 0 -5.1 0M725.3 405.2a2.55 2.55 0 1 0 5.1 0a2.55 2.55 0 1 0 -5.1 0M727.0 408.4a2.55 2.55 0 1 0 5.1 0a2.55 2.55 0 1 0 -5.1 0M729.3 405.4a2.55 2.55 0 1 0 5.1 0a2.55 2.55 0 1 0 -5.1 0M731.0 409.4a2.55 2.55 0 1 0 5.1 0a2.55 2.55 0 1 0 -5.1 0M725.1 408.5a2.55 2.55 0 1 0 5.1 0a2.55 2.55 0 1 0 -5.1 0M720.0 390.5a2.55 2.55 0 1 0 5.1 0a2.55 2.55 0 1 0 -5.1 0M725.4 412.6a2.55 2.55 0 1 0 5.1 0a2.55 2.55 0 1 0 -5.1 0M714.5 402.6a2.55 2.55 0 1 0 5.1 0a2.55 2.55 0 1 0 -5.1 0M728.2 388.4a2.55 2.55 0 1 0 5.1 0a2.55 2.55 0 1 0 -5.1 0M738.1 409.0a2.55 2.55 0 1 0 5.1 0a2.55 2.55 0 1 0 -5.1 0M723.5 386.6a2.55 2.55 0 1 0 5.1 0a2.55 2.55 0 1 0 -5.1 0M727.5 399.9a2.55 2.55 0 1 0 5.1 0a2.55 2.55 0 1 0 -5.1 0M724.9 406.6a2.55 2.55 0 1 0 5.1 0a2.55 2.55 0 1 0 -5.1 0M718.5 389.0a2.55 2.55 0 1 0 5.1 0a2.55 2.55 0 1 0 -5.1 0M733.7 398.9a2.55 2.55 0 1 0 5.1 0a2.55 2.55 0 1 0 -5.1 0M720.5 403.2a2.55 2.55 0 1 0 5.1 0a2.55 2.55 0 1 0 -5.1 0M737.0 398.0a2.55 2.55 0 1 0 5.1 0a2.55 2.55 0 1 0 -5.1 0M741.0 393.3a2.55 2.55 0 1 0 5.1 0a2.55 2.55 0 1 0 -5.1 0M742.3 391.6a2.55 2.55 0 1 0 5.1 0a2.55 2.55 0 1 0 -5.1 0M735.5 407.8a2.55 2.55 0 1 0 5.1 0a2.55 2.55 0 1 0 -5.1 0M753.2 395.5a2.55 2.55 0 1 0 5.1 0a2.55 2.55 0 1 0 -5.1 0M740.8 405.5a2.55 2.55 0 1 0 5.1 0a2.55 2.55 0 1 0 -5.1 0M750.6 396.4a2.55 2.55 0 1 0 5.1 0a2.55 2.55 0 1 0 -5.1 0M738.9 398.1a2.55 2.55 0 1 0 5.1 0a2.55 2.55 0 1 0 -5.1 0M749.5 411.3a2.55 2.55 0 1 0 5.1 0a2.55 2.55 0 1 0 -5.1 0M751.5 403.7a2.55 2.55 0 1 0 5.1 0a2.55 2.55 0 1 0 -5.1 0M746.0 405.0a2.55 2.55 0 1 0 5.1 0a2.55 2.55 0 1 0 -5.1 0M745.2 389.9a2.55 2.55 0 1 0 5.1 0a2.55 2.55 0 1 0 -5.1 0M749.1 394.7a2.55 2.55 0 1 0 5.1 0a2.55 2.55 0 1 0 -5.1 0M744.2 395.8a2.55 2.55 0 1 0 5.1 0a2.55 2.55 0 1 0 -5.1 0M744.4 402.7a2.55 2.55 0 1 0 5.1 0a2.55 2.55 0 1 0 -5.1 0M749.6 403.7a2.55 2.55 0 1 0 5.1 0a2.55 2.55 0 1 0 -5.1 0M746.8 409.7a2.55 2.55 0 1 0 5.1 0a2.55 2.55 0 1 0 -5.1 0M755.0 394.6a2.55 2.55 0 1 0 5.1 0a2.55 2.55 0 1 0 -5.1 0M741.7 397.7a2.55 2.55 0 1 0 5.1 0a2.55 2.55 0 1 0 -5.1 0M739.9 404.3a2.55 2.55 0 1 0 5.1 0a2.55 2.55 0 1 0 -5.1 0M735.1 414.6a2.55 2.55 0 1 0 5.1 0a2.55 2.55 0 1 0 -5.1 0M763.5 401.7a2.55 2.55 0 1 0 5.1 0a2.55 2.55 0 1 0 -5.1 0M758.8 404.0a2.55 2.55 0 1 0 5.1 0a2.55 2.55 0 1 0 -5.1 0M751.4 406.4a2.55 2.55 0 1 0 5.1 0a2.55 2.55 0 1 0 -5.1 0M747.3 409.4a2.55 2.55 0 1 0 5.1 0a2.55 2.55 0 1 0 -5.1 0M742.2 399.0a2.55 2.55 0 1 0 5.1 0a2.55 2.55 0 1 0 -5.1 0M743.4 407.4a2.55 2.55 0 1 0 5.1 0a2.55 2.55 0 1 0 -5.1 0M735.3 406.7a2.55 2.55 0 1 0 5.1 0a2.55 2.55 0 1 0 -5.1 0M739.6 407.0a2.55 2.55 0 1 0 5.1 0a2.55 2.55 0 1 0 -5.1 0M744.1 394.5a2.55 2.55 0 1 0 5.1 0a2.55 2.55 0 1 0 -5.1 0M741.3 390.1a2.55 2.55 0 1 0 5.1 0a2.55 2.55 0 1 0 -5.1 0M747.4 408.8a2.55 2.55 0 1 0 5.1 0a2.55 2.55 0 1 0 -5.1 0M754.3 393.0a2.55 2.55 0 1 0 5.1 0a2.55 2.55 0 1 0 -5.1 0M742.5 398.6a2.55 2.55 0 1 0 5.1 0a2.55 2.55 0 1 0 -5.1 0M752.8 399.2a2.55 2.55 0 1 0 5.1 0a2.55 2.55 0 1 0 -5.1 0M751.0 402.0a2.55 2.55 0 1 0 5.1 0a2.55 2.55 0 1 0 -5.1 0M756.2 402.1a2.55 2.55 0 1 0 5.1 0a2.55 2.55 0 1 0 -5.1 0M744.0 405.9a2.55 2.55 0 1 0 5.1 0a2.55 2.55 0 1 0 -5.1 0M749.6 409.8a2.55 2.55 0 1 0 5.1 0a2.55 2.55 0 1 0 -5.1 0M738.4 397.4a2.55 2.55 0 1 0 5.1 0a2.55 2.55 0 1 0 -5.1 0M739.5 398.6a2.55 2.55 0 1 0 5.1 0a2.55 2.55 0 1 0 -5.1 0M738.6 388.4a2.55 2.55 0 1 0 5.1 0a2.55 2.55 0 1 0 -5.1 0M743.9 392.1a2.55 2.55 0 1 0 5.1 0a2.55 2.55 0 1 0 -5.1 0M748.0 390.9a2.55 2.55 0 1 0 5.1 0a2.55 2.55 0 1 0 -5.1 0M740.3 404.8a2.55 2.55 0 1 0 5.1 0a2.55 2.55 0 1 0 -5.1 0M751.5 399.4a2.55 2.55 0 1 0 5.1 0a2.55 2.55 0 1 0 -5.1 0M771.6 406.0a2.55 2.55 0 1 0 5.1 0a2.55 2.55 0 1 0 -5.1 0M777.2 397.9a2.55 2.55 0 1 0 5.1 0a2.55 2.55 0 1 0 -5.1 0M770.0 407.9a2.55 2.55 0 1 0 5.1 0a2.55 2.55 0 1 0 -5.1 0M770.5 398.3a2.55 2.55 0 1 0 5.1 0a2.55 2.55 0 1 0 -5.1 0M766.1 395.4a2.55 2.55 0 1 0 5.1 0a2.55 2.55 0 1 0 -5.1 0M766.3 406.5a2.55 2.55 0 1 0 5.1 0a2.55 2.55 0 1 0 -5.1 0M769.9 393.2a2.55 2.55 0 1 0 5.1 0a2.55 2.55 0 1 0 -5.1 0M764.4 392.3a2.55 2.55 0 1 0 5.1 0a2.55 2.55 0 1 0 -5.1 0M765.1 394.2a2.55 2.55 0 1 0 5.1 0a2.55 2.55 0 1 0 -5.1 0M773.4 403.2a2.55 2.55 0 1 0 5.1 0a2.55 2.55 0 1 0 -5.1 0M769.4 408.6a2.55 2.55 0 1 0 5.1 0a2.55 2.55 0 1 0 -5.1 0M768.2 396.9a2.55 2.55 0 1 0 5.1 0a2.55 2.55 0 1 0 -5.1 0M772.1 410.3a2.55 2.55 0 1 0 5.1 0a2.55 2.55 0 1 0 -5.1 0M762.6 391.7a2.55 2.55 0 1 0 5.1 0a2.55 2.55 0 1 0 -5.1 0M773.9 411.7a2.55 2.55 0 1 0 5.1 0a2.55 2.55 0 1 0 -5.1 0M777.4 400.4a2.55 2.55 0 1 0 5.1 0a2.55 2.55 0 1 0 -5.1 0M768.1 404.5a2.55 2.55 0 1 0 5.1 0a2.55 2.55 0 1 0 -5.1 0M765.0 410.0a2.55 2.55 0 1 0 5.1 0a2.55 2.55 0 1 0 -5.1 0M766.6 407.4a2.55 2.55 0 1 0 5.1 0a2.55 2.55 0 1 0 -5.1 0M772.1 394.2a2.55 2.55 0 1 0 5.1 0a2.55 2.55 0 1 0 -5.1 0M761.7 406.7a2.55 2.55 0 1 0 5.1 0a2.55 2.55 0 1 0 -5.1 0M773.1 399.6a2.55 2.55 0 1 0 5.1 0a2.55 2.55 0 1 0 -5.1 0M772.9 396.7a2.55 2.55 0 1 0 5.1 0a2.55 2.55 0 1 0 -5.1 0M765.8 398.5a2.55 2.55 0 1 0 5.1 0a2.55 2.55 0 1 0 -5.1 0M775.8 405.8a2.55 2.55 0 1 0 5.1 0a2.55 2.55 0 1 0 -5.1 0M773.5 400.6a2.55 2.55 0 1 0 5.1 0a2.55 2.55 0 1 0 -5.1 0M766.5 393.6a2.55 2.55 0 1 0 5.1 0a2.55 2.55 0 1 0 -5.1 0M760.2 405.4a2.55 2.55 0 1 0 5.1 0a2.55 2.55 0 1 0 -5.1 0M762.3 397.0a2.55 2.55 0 1 0 5.1 0a2.55 2.55 0 1 0 -5.1 0M762.1 407.5a2.55 2.55 0 1 0 5.1 0a2.55 2.55 0 1 0 -5.1 0M761.4 391.2a2.55 2.55 0 1 0 5.1 0a2.55 2.55 0 1 0 -5.1 0M762.9 391.5a2.55 2.55 0 1 0 5.1 0a2.55 2.55 0 1 0 -5.1 0M773.7 398.2a2.55 2.55 0 1 0 5.1 0a2.55 2.55 0 1 0 -5.1 0M768.1 388.1a2.55 2.55 0 1 0 5.1 0a2.55 2.55 0 1 0 -5.1 0M769.7 397.8a2.55 2.55 0 1 0 5.1 0a2.55 2.55 0 1 0 -5.1 0M770.3 390.8a2.55 2.55 0 1 0 5.1 0a2.55 2.55 0 1 0 -5.1 0M779.2 390.0a2.55 2.55 0 1 0 5.1 0a2.55 2.55 0 1 0 -5.1 0M760.1 400.8a2.55 2.55 0 1 0 5.1 0a2.55 2.55 0 1 0 -5.1 0M766.8 400.6a2.55 2.55 0 1 0 5.1 0a2.55 2.55 0 1 0 -5.1 0M768.5 411.6a2.55 2.55 0 1 0 5.1 0a2.55 2.55 0 1 0 -5.1 0M778.8 397.6a2.55 2.55 0 1 0 5.1 0a2.55 2.55 0 1 0 -5.1 0M769.4 409.8a2.55 2.55 0 1 0 5.1 0a2.55 2.55 0 1 0 -5.1 0M765.5 389.2a2.55 2.55 0 1 0 5.1 0a2.55 2.55 0 1 0 -5.1 0M764.3 411.6a2.55 2.55 0 1 0 5.1 0a2.55 2.55 0 1 0 -5.1 0M764.6 400.4a2.55 2.55 0 1 0 5.1 0a2.55 2.55 0 1 0 -5.1 0M776.6 402.5a2.55 2.55 0 1 0 5.1 0a2.55 2.55 0 1 0 -5.1 0M790.8 404.1a2.55 2.55 0 1 0 5.1 0a2.55 2.55 0 1 0 -5.1 0M792.1 404.7a2.55 2.55 0 1 0 5.1 0a2.55 2.55 0 1 0 -5.1 0M790.8 395.4a2.55 2.55 0 1 0 5.1 0a2.55 2.55 0 1 0 -5.1 0M794.1 397.7a2.55 2.55 0 1 0 5.1 0a2.55 2.55 0 1 0 -5.1 0M780.9 399.2a2.55 2.55 0 1 0 5.1 0a2.55 2.55 0 1 0 -5.1 0M793.3 388.4a2.55 2.55 0 1 0 5.1 0a2.55 2.55 0 1 0 -5.1 0M790.6 396.5a2.55 2.55 0 1 0 5.1 0a2.55 2.55 0 1 0 -5.1 0M795.5 395.3a2.55 2.55 0 1 0 5.1 0a2.55 2.55 0 1 0 -5.1 0M782.8 405.4a2.55 2.55 0 1 0 5.1 0a2.55 2.55 0 1 0 -5.1 0M784.8 409.6a2.55 2.55 0 1 0 5.1 0a2.55 2.55 0 1 0 -5.1 0M783.2 396.6a2.55 2.55 0 1 0 5.1 0a2.55 2.55 0 1 0 -5.1 0M786.4 402.3a2.55 2.55 0 1 0 5.1 0a2.55 2.55 0 1 0 -5.1 0M785.8 388.6a2.55 2.55 0 1 0 5.1 0a2.55 2.55 0 1 0 -5.1 0M780.5 406.4a2.55 2.55 0 1 0 5.1 0a2.55 2.55 0 1 0 -5.1 0M791.8 396.4a2.55 2.55 0 1 0 5.1 0a2.55 2.55 0 1 0 -5.1 0M790.9 406.1a2.55 2.55 0 1 0 5.1 0a2.55 2.55 0 1 0 -5.1 0M796.2 404.1a2.55 2.55 0 1 0 5.1 0a2.55 2.55 0 1 0 -5.1 0M793.9 401.9a2.55 2.55 0 1 0 5.1 0a2.55 2.55 0 1 0 -5.1 0M792.1 401.0a2.55 2.55 0 1 0 5.1 0a2.55 2.55 0 1 0 -5.1 0M781.9 393.6a2.55 2.55 0 1 0 5.1 0a2.55 2.55 0 1 0 -5.1 0M797.5 396.8a2.55 2.55 0 1 0 5.1 0a2.55 2.55 0 1 0 -5.1 0M781.0 405.5a2.55 2.55 0 1 0 5.1 0a2.55 2.55 0 1 0 -5.1 0M783.8 402.1a2.55 2.55 0 1 0 5.1 0a2.55 2.55 0 1 0 -5.1 0M792.6 405.6a2.55 2.55 0 1 0 5.1 0a2.55 2.55 0 1 0 -5.1 0M792.0 398.2a2.55 2.55 0 1 0 5.1 0a2.55 2.55 0 1 0 -5.1 0M791.2 398.0a2.55 2.55 0 1 0 5.1 0a2.55 2.55 0 1 0 -5.1 0M796.7 388.4a2.55 2.55 0 1 0 5.1 0a2.55 2.55 0 1 0 -5.1 0M777.2 401.1a2.55 2.55 0 1 0 5.1 0a2.55 2.55 0 1 0 -5.1 0M793.1 393.3a2.55 2.55 0 1 0 5.1 0a2.55 2.55 0 1 0 -5.1 0M781.2 401.0a2.55 2.55 0 1 0 5.1 0a2.55 2.55 0 1 0 -5.1 0M797.1 394.9a2.55 2.55 0 1 0 5.1 0a2.55 2.55 0 1 0 -5.1 0M791.2 408.3a2.55 2.55 0 1 0 5.1 0a2.55 2.55 0 1 0 -5.1 0M792.3 393.5a2.55 2.55 0 1 0 5.1 0a2.55 2.55 0 1 0 -5.1 0M793.5 409.3a2.55 2.55 0 1 0 5.1 0a2.55 2.55 0 1 0 -5.1 0M780.2 394.2a2.55 2.55 0 1 0 5.1 0a2.55 2.55 0 1 0 -5.1 0M783.0 397.5a2.55 2.55 0 1 0 5.1 0a2.55 2.55 0 1 0 -5.1 0M784.2 390.1a2.55 2.55 0 1 0 5.1 0a2.55 2.55 0 1 0 -5.1 0M777.1 410.1a2.55 2.55 0 1 0 5.1 0a2.55 2.55 0 1 0 -5.1 0M790.7 402.8a2.55 2.55 0 1 0 5.1 0a2.55 2.55 0 1 0 -5.1 0M792.0 393.2a2.55 2.55 0 1 0 5.1 0a2.55 2.55 0 1 0 -5.1 0M787.7 392.0a2.55 2.55 0 1 0 5.1 0a2.55 2.55 0 1 0 -5.1 0M790.6 398.4a2.55 2.55 0 1 0 5.1 0a2.55 2.55 0 1 0 -5.1 0M777.3 397.8a2.55 2.55 0 1 0 5.1 0a2.55 2.55 0 1 0 -5.1 0M784.6 396.9a2.55 2.55 0 1 0 5.1 0a2.55 2.55 0 1 0 -5.1 0M779.8 396.2a2.55 2.55 0 1 0 5.1 0a2.55 2.55 0 1 0 -5.1 0M788.4 412.0a2.55 2.55 0 1 0 5.1 0a2.55 2.55 0 1 0 -5.1 0M778.9 394.9a2.55 2.55 0 1 0 5.1 0a2.55 2.55 0 1 0 -5.1 0M779.4 391.1a2.55 2.55 0 1 0 5.1 0a2.55 2.55 0 1 0 -5.1 0M798.4 396.1a2.55 2.55 0 1 0 5.1 0a2.55 2.55 0 1 0 -5.1 0M783.8 401.7a2.55 2.55 0 1 0 5.1 0a2.55 2.55 0 1 0 -5.1 0M780.3 391.0a2.55 2.55 0 1 0 5.1 0a2.55 2.55 0 1 0 -5.1 0M775.0 408.5a2.55 2.55 0 1 0 5.1 0a2.55 2.55 0 1 0 -5.1 0M791.4 391.2a2.55 2.55 0 1 0 5.1 0a2.55 2.55 0 1 0 -5.1 0M779.9 393.5a2.55 2.55 0 1 0 5.1 0a2.55 2.55 0 1 0 -5.1 0M812.2 395.1a2.55 2.55 0 1 0 5.1 0a2.55 2.55 0 1 0 -5.1 0M795.8 411.9a2.55 2.55 0 1 0 5.1 0a2.55 2.55 0 1 0 -5.1 0M810.2 401.2a2.55 2.55 0 1 0 5.1 0a2.55 2.55 0 1 0 -5.1 0M809.1 399.3a2.55 2.55 0 1 0 5.1 0a2.55 2.55 0 1 0 -5.1 0M812.1 407.1a2.55 2.55 0 1 0 5.1 0a2.55 2.55 0 1 0 -5.1 0M803.8 398.0a2.55 2.55 0 1 0 5.1 0a2.55 2.55 0 1 0 -5.1 0M806.4 393.4a2.55 2.55 0 1 0 5.1 0a2.55 2.55 0 1 0 -5.1 0M816.2 394.4a2.55 2.55 0 1 0 5.1 0a2.55 2.55 0 1 0 -5.1 0M793.1 398.4a2.55 2.55 0 1 0 5.1 0a2.55 2.55 0 1 0 -5.1 0M816.0 395.8a2.55 2.55 0 1 0 5.1 0a2.55 2.55 0 1 0 -5.1 0M800.9 398.7a2.55 2.55 0 1 0 5.1 0a2.55 2.55 0 1 0 -5.1 0M808.6 400.9a2.55 2.55 0 1 0 5.1 0a2.55 2.55 0 1 0 -5.1 0M800.8 403.7a2.55 2.55 0 1 0 5.1 0a2.55 2.55 0 1 0 -5.1 0M821.0 403.8a2.55 2.55 0 1 0 5.1 0a2.55 2.55 0 1 0 -5.1 0M799.7 401.7a2.55 2.55 0 1 0 5.1 0a2.55 2.55 0 1 0 -5.1 0M801.0 406.0a2.55 2.55 0 1 0 5.1 0a2.55 2.55 0 1 0 -5.1 0M800.5 387.0a2.55 2.55 0 1 0 5.1 0a2.55 2.55 0 1 0 -5.1 0M816.2 395.2a2.55 2.55 0 1 0 5.1 0a2.55 2.55 0 1 0 -5.1 0M796.5 399.3a2.55 2.55 0 1 0 5.1 0a2.55 2.55 0 1 0 -5.1 0M806.3 396.8a2.55 2.55 0 1 0 5.1 0a2.55 2.55 0 1 0 -5.1 0M805.4 389.4a2.55 2.55 0 1 0 5.1 0a2.55 2.55 0 1 0 -5.1 0M810.3 401.3a2.55 2.55 0 1 0 5.1 0a2.55 2.55 0 1 0 -5.1 0M812.9 398.4a2.55 2.55 0 1 0 5.1 0a2.55 2.55 0 1 0 -5.1 0M813.5 396.4a2.55 2.55 0 1 0 5.1 0a2.55 2.55 0 1 0 -5.1 0M799.0 404.1a2.55 2.55 0 1 0 5.1 0a2.55 2.55 0 1 0 -5.1 0M812.4 395.3a2.55 2.55 0 1 0 5.1 0a2.55 2.55 0 1 0 -5.1 0M803.8 397.6a2.55 2.55 0 1 0 5.1 0a2.55 2.55 0 1 0 -5.1 0M813.6 404.2a2.55 2.55 0 1 0 5.1 0a2.55 2.55 0 1 0 -5.1 0M808.7 392.3a2.55 2.55 0 1 0 5.1 0a2.55 2.55 0 1 0 -5.1 0M802.7 401.8a2.55 2.55 0 1 0 5.1 0a2.55 2.55 0 1 0 -5.1 0M804.9 402.0a2.55 2.55 0 1 0 5.1 0a2.55 2.55 0 1 0 -5.1 0M822.6 393.7a2.55 2.55 0 1 0 5.1 0a2.55 2.55 0 1 0 -5.1 0M804.2 410.4a2.55 2.55 0 1 0 5.1 0a2.55 2.55 0 1 0 -5.1 0M816.8 398.5a2.55 2.55 0 1 0 5.1 0a2.55 2.55 0 1 0 -5.1 0M795.0 410.5a2.55 2.55 0 1 0 5.1 0a2.55 2.55 0 1 0 -5.1 0M806.2 398.6a2.55 2.55 0 1 0 5.1 0a2.55 2.55 0 1 0 -5.1 0M805.0 389.5a2.55 2.55 0 1 0 5.1 0a2.55 2.55 0 1 0 -5.1 0M797.8 403.4a2.55 2.55 0 1 0 5.1 0a2.55 2.55 0 1 0 -5.1 0M810.0 394.8a2.55 2.55 0 1 0 5.1 0a2.55 2.55 0 1 0 -5.1 0M801.6 399.1a2.55 2.55 0 1 0 5.1 0a2.55 2.55 0 1 0 -5.1 0M836.7 400.4a2.55 2.55 0 1 0 5.1 0a2.55 2.55 0 1 0 -5.1 0M828.2 401.2a2.55 2.55 0 1 0 5.1 0a2.55 2.55 0 1 0 -5.1 0M822.1 401.4a2.55 2.55 0 1 0 5.1 0a2.55 2.55 0 1 0 -5.1 0M829.9 400.4a2.55 2.55 0 1 0 5.1 0a2.55 2.55 0 1 0 -5.1 0M832.4 391.1a2.55 2.55 0 1 0 5.1 0a2.55 2.55 0 1 0 -5.1 0M816.2 396.4a2.55 2.55 0 1 0 5.1 0a2.55 2.55 0 1 0 -5.1 0M824.0 402.6a2.55 2.55 0 1 0 5.1 0a2.55 2.55 0 1 0 -5.1 0M822.0 385.9a2.55 2.55 0 1 0 5.1 0a2.55 2.55 0 1 0 -5.1 0M835.7 398.0a2.55 2.55 0 1 0 5.1 0a2.55 2.55 0 1 0 -5.1 0M829.5 393.4a2.55 2.55 0 1 0 5.1 0a2.55 2.55 0 1 0 -5.1 0M817.5 405.9a2.55 2.55 0 1 0 5.1 0a2.55 2.55 0 1 0 -5.1 0M830.2 400.9a2.55 2.55 0 1 0 5.1 0a2.55 2.55 0 1 0 -5.1 0M829.0 395.1a2.55 2.55 0 1 0 5.1 0a2.55 2.55 0 1 0 -5.1 0M829.5 393.4a2.55 2.55 0 1 0 5.1 0a2.55 2.55 0 1 0 -5.1 0M818.6 392.3a2.55 2.55 0 1 0 5.1 0a2.55 2.55 0 1 0 -5.1 0M829.3 400.3a2.55 2.55 0 1 0 5.1 0a2.55 2.55 0 1 0 -5.1 0M834.5 396.3a2.55 2.55 0 1 0 5.1 0a2.55 2.55 0 1 0 -5.1 0M821.0 389.6a2.55 2.55 0 1 0 5.1 0a2.55 2.55 0 1 0 -5.1 0M832.0 395.6a2.55 2.55 0 1 0 5.1 0a2.55 2.55 0 1 0 -5.1 0M829.5 389.6a2.55 2.55 0 1 0 5.1 0a2.55 2.55 0 1 0 -5.1 0M829.1 414.6a2.55 2.55 0 1 0 5.1 0a2.55 2.55 0 1 0 -5.1 0M819.7 390.6a2.55 2.55 0 1 0 5.1 0a2.55 2.55 0 1 0 -5.1 0M820.1 404.6a2.55 2.55 0 1 0 5.1 0a2.55 2.55 0 1 0 -5.1 0M829.4 393.9a2.55 2.55 0 1 0 5.1 0a2.55 2.55 0 1 0 -5.1 0M825.3 393.7a2.55 2.55 0 1 0 5.1 0a2.55 2.55 0 1 0 -5.1 0M830.5 397.6a2.55 2.55 0 1 0 5.1 0a2.55 2.55 0 1 0 -5.1 0M814.6 393.9a2.55 2.55 0 1 0 5.1 0a2.55 2.55 0 1 0 -5.1 0M833.0 396.2a2.55 2.55 0 1 0 5.1 0a2.55 2.55 0 1 0 -5.1 0M824.6 398.1a2.55 2.55 0 1 0 5.1 0a2.55 2.55 0 1 0 -5.1 0M824.8 396.2a2.55 2.55 0 1 0 5.1 0a2.55 2.55 0 1 0 -5.1 0M832.7 392.2a2.55 2.55 0 1 0 5.1 0a2.55 2.55 0 1 0 -5.1 0M817.4 401.8a2.55 2.55 0 1 0 5.1 0a2.55 2.55 0 1 0 -5.1 0M847.5 408.8a2.55 2.55 0 1 0 5.1 0a2.55 2.55 0 1 0 -5.1 0M845.4 399.3a2.55 2.55 0 1 0 5.1 0a2.55 2.55 0 1 0 -5.1 0M851.4 394.1a2.55 2.55 0 1 0 5.1 0a2.55 2.55 0 1 0 -5.1 0M844.9 392.3a2.55 2.55 0 1 0 5.1 0a2.55 2.55 0 1 0 -5.1 0M559.3 424.8a2.55 2.55 0 1 0 5.1 0a2.55 2.55 0 1 0 -5.1 0M561.8 420.4a2.55 2.55 0 1 0 5.1 0a2.55 2.55 0 1 0 -5.1 0M570.0 418.4a2.55 2.55 0 1 0 5.1 0a2.55 2.55 0 1 0 -5.1 0M559.3 430.0a2.55 2.55 0 1 0 5.1 0a2.55 2.55 0 1 0 -5.1 0M558.2 420.1a2.55 2.55 0 1 0 5.1 0a2.55 2.55 0 1 0 -5.1 0M570.4 423.4a2.55 2.55 0 1 0 5.1 0a2.55 2.55 0 1 0 -5.1 0M580.4 415.0a2.55 2.55 0 1 0 5.1 0a2.55 2.55 0 1 0 -5.1 0M587.5 411.5a2.55 2.55 0 1 0 5.1 0a2.55 2.55 0 1 0 -5.1 0M592.2 430.3a2.55 2.55 0 1 0 5.1 0a2.55 2.55 0 1 0 -5.1 0M581.5 415.3a2.55 2.55 0 1 0 5.1 0a2.55 2.55 0 1 0 -5.1 0M582.0 422.2a2.55 2.55 0 1 0 5.1 0a2.55 2.55 0 1 0 -5.1 0M588.0 414.9a2.55 2.55 0 1 0 5.1 0a2.55 2.55 0 1 0 -5.1 0M581.0 428.8a2.55 2.55 0 1 0 5.1 0a2.55 2.55 0 1 0 -5.1 0M580.8 422.7a2.55 2.55 0 1 0 5.1 0a2.55 2.55 0 1 0 -5.1 0M585.0 419.0a2.55 2.55 0 1 0 5.1 0a2.55 2.55 0 1 0 -5.1 0M581.3 423.8a2.55 2.55 0 1 0 5.1 0a2.55 2.55 0 1 0 -5.1 0M579.1 421.4a2.55 2.55 0 1 0 5.1 0a2.55 2.55 0 1 0 -5.1 0M599.8 420.4a2.55 2.55 0 1 0 5.1 0a2.55 2.55 0 1 0 -5.1 0M597.6 422.6a2.55 2.55 0 1 0 5.1 0a2.55 2.55 0 1 0 -5.1 0M585.3 427.2a2.55 2.55 0 1 0 5.1 0a2.55 2.55 0 1 0 -5.1 0M591.1 416.0a2.55 2.55 0 1 0 5.1 0a2.55 2.55 0 1 0 -5.1 0M597.3 426.4a2.55 2.55 0 1 0 5.1 0a2.55 2.55 0 1 0 -5.1 0M580.1 414.6a2.55 2.55 0 1 0 5.1 0a2.55 2.55 0 1 0 -5.1 0M590.5 420.8a2.55 2.55 0 1 0 5.1 0a2.55 2.55 0 1 0 -5.1 0M583.3 427.8a2.55 2.55 0 1 0 5.1 0a2.55 2.55 0 1 0 -5.1 0M580.5 423.1a2.55 2.55 0 1 0 5.1 0a2.55 2.55 0 1 0 -5.1 0M587.6 416.0a2.55 2.55 0 1 0 5.1 0a2.55 2.55 0 1 0 -5.1 0M591.9 413.2a2.55 2.55 0 1 0 5.1 0a2.55 2.55 0 1 0 -5.1 0M600.3 417.0a2.55 2.55 0 1 0 5.1 0a2.55 2.55 0 1 0 -5.1 0M585.0 417.1a2.55 2.55 0 1 0 5.1 0a2.55 2.55 0 1 0 -5.1 0M583.2 426.3a2.55 2.55 0 1 0 5.1 0a2.55 2.55 0 1 0 -5.1 0M589.8 415.5a2.55 2.55 0 1 0 5.1 0a2.55 2.55 0 1 0 -5.1 0M593.7 421.8a2.55 2.55 0 1 0 5.1 0a2.55 2.55 0 1 0 -5.1 0M571.7 422.8a2.55 2.55 0 1 0 5.1 0a2.55 2.55 0 1 0 -5.1 0M613.1 413.5a2.55 2.55 0 1 0 5.1 0a2.55 2.55 0 1 0 -5.1 0M599.9 408.6a2.55 2.55 0 1 0 5.1 0a2.55 2.55 0 1 0 -5.1 0M616.0 414.6a2.55 2.55 0 1 0 5.1 0a2.55 2.55 0 1 0 -5.1 0M610.4 425.7a2.55 2.55 0 1 0 5.1 0a2.55 2.55 0 1 0 -5.1 0M617.1 424.3a2.55 2.55 0 1 0 5.1 0a2.55 2.55 0 1 0 -5.1 0M618.8 434.1a2.55 2.55 0 1 0 5.1 0a2.55 2.55 0 1 0 -5.1 0M619.0 428.9a2.55 2.55 0 1 0 5.1 0a2.55 2.55 0 1 0 -5.1 0M604.3 410.9a2.55 2.55 0 1 0 5.1 0a2.55 2.55 0 1 0 -5.1 0M598.2 426.5a2.55 2.55 0 1 0 5.1 0a2.55 2.55 0 1 0 -5.1 0M605.1 412.7a2.55 2.55 0 1 0 5.1 0a2.55 2.55 0 1 0 -5.1 0M606.8 418.2a2.55 2.55 0 1 0 5.1 0a2.55 2.55 0 1 0 -5.1 0M611.2 423.9a2.55 2.55 0 1 0 5.1 0a2.55 2.55 0 1 0 -5.1 0M597.4 412.0a2.55 2.55 0 1 0 5.1 0a2.55 2.55 0 1 0 -5.1 0M611.9 427.0a2.55 2.55 0 1 0 5.1 0a2.55 2.55 0 1 0 -5.1 0M620.0 423.4a2.55 2.55 0 1 0 5.1 0a2.55 2.55 0 1 0 -5.1 0M613.6 433.2a2.55 2.55 0 1 0 5.1 0a2.55 2.55 0 1 0 -5.1 0M602.1 423.2a2.55 2.55 0 1 0 5.1 0a2.55 2.55 0 1 0 -5.1 0M603.7 420.6a2.55 2.55 0 1 0 5.1 0a2.55 2.55 0 1 0 -5.1 0M609.1 419.7a2.55 2.55 0 1 0 5.1 0a2.55 2.55 0 1 0 -5.1 0M612.2 419.0a2.55 2.55 0 1 0 5.1 0a2.55 2.55 0 1 0 -5.1 0M608.4 417.3a2.55 2.55 0 1 0 5.1 0a2.55 2.55 0 1 0 -5.1 0M611.6 422.6a2.55 2.55 0 1 0 5.1 0a2.55 2.55 0 1 0 -5.1 0M614.3 417.7a2.55 2.55 0 1 0 5.1 0a2.55 2.55 0 1 0 -5.1 0M609.4 414.7a2.55 2.55 0 1 0 5.1 0a2.55 2.55 0 1 0 -5.1 0M609.9 409.1a2.55 2.55 0 1 0 5.1 0a2.55 2.55 0 1 0 -5.1 0M601.8 421.9a2.55 2.55 0 1 0 5.1 0a2.55 2.55 0 1 0 -5.1 0M612.0 423.1a2.55 2.55 0 1 0 5.1 0a2.55 2.55 0 1 0 -5.1 0M617.8 414.9a2.55 2.55 0 1 0 5.1 0a2.55 2.55 0 1 0 -5.1 0M597.6 408.9a2.55 2.55 0 1 0 5.1 0a2.55 2.55 0 1 0 -5.1 0M597.1 420.4a2.55 2.55 0 1 0 5.1 0a2.55 2.55 0 1 0 -5.1 0M608.9 423.9a2.55 2.55 0 1 0 5.1 0a2.55 2.55 0 1 0 -5.1 0M607.7 415.5a2.55 2.55 0 1 0 5.1 0a2.55 2.55 0 1 0 -5.1 0M598.6 419.7a2.55 2.55 0 1 0 5.1 0a2.55 2.55 0 1 0 -5.1 0M600.2 414.6a2.55 2.55 0 1 0 5.1 0a2.55 2.55 0 1 0 -5.1 0M603.0 422.5a2.55 2.55 0 1 0 5.1 0a2.55 2.55 0 1 0 -5.1 0M617.6 413.0a2.55 2.55 0 1 0 5.1 0a2.55 2.55 0 1 0 -5.1 0M599.8 413.1a2.55 2.55 0 1 0 5.1 0a2.55 2.55 0 1 0 -5.1 0M606.5 412.0a2.55 2.55 0 1 0 5.1 0a2.55 2.55 0 1 0 -5.1 0M603.5 419.4a2.55 2.55 0 1 0 5.1 0a2.55 2.55 0 1 0 -5.1 0M607.9 413.7a2.55 2.55 0 1 0 5.1 0a2.55 2.55 0 1 0 -5.1 0M635.1 431.3a2.55 2.55 0 1 0 5.1 0a2.55 2.55 0 1 0 -5.1 0M627.9 419.2a2.55 2.55 0 1 0 5.1 0a2.55 2.55 0 1 0 -5.1 0M617.5 423.0a2.55 2.55 0 1 0 5.1 0a2.55 2.55 0 1 0 -5.1 0M625.6 421.6a2.55 2.55 0 1 0 5.1 0a2.55 2.55 0 1 0 -5.1 0M626.3 428.6a2.55 2.55 0 1 0 5.1 0a2.55 2.55 0 1 0 -5.1 0M636.1 413.2a2.55 2.55 0 1 0 5.1 0a2.55 2.55 0 1 0 -5.1 0M626.7 417.9a2.55 2.55 0 1 0 5.1 0a2.55 2.55 0 1 0 -5.1 0M626.6 424.2a2.55 2.55 0 1 0 5.1 0a2.55 2.55 0 1 0 -5.1 0M615.5 421.2a2.55 2.55 0 1 0 5.1 0a2.55 2.55 0 1 0 -5.1 0M619.6 407.6a2.55 2.55 0 1 0 5.1 0a2.55 2.55 0 1 0 -5.1 0M635.2 407.0a2.55 2.55 0 1 0 5.1 0a2.55 2.55 0 1 0 -5.1 0M621.0 432.2a2.55 2.55 0 1 0 5.1 0a2.55 2.55 0 1 0 -5.1 0M609.9 415.6a2.55 2.55 0 1 0 5.1 0a2.55 2.55 0 1 0 -5.1 0M636.7 421.8a2.55 2.55 0 1 0 5.1 0a2.55 2.55 0 1 0 -5.1 0M616.0 411.3a2.55 2.55 0 1 0 5.1 0a2.55 2.55 0 1 0 -5.1 0M627.2 411.3a2.55 2.55 0 1 0 5.1 0a2.55 2.55 0 1 0 -5.1 0M621.8 423.5a2.55 2.55 0 1 0 5.1 0a2.55 2.55 0 1 0 -5.1 0M625.6 416.5a2.55 2.55 0 1 0 5.1 0a2.55 2.55 0 1 0 -5.1 0M628.1 430.9a2.55 2.55 0 1 0 5.1 0a2.55 2.55 0 1 0 -5.1 0M639.1 425.9a2.55 2.55 0 1 0 5.1 0a2.55 2.55 0 1 0 -5.1 0M633.1 412.6a2.55 2.55 0 1 0 5.1 0a2.55 2.55 0 1 0 -5.1 0M632.8 415.7a2.55 2.55 0 1 0 5.1 0a2.55 2.55 0 1 0 -5.1 0M618.9 430.2a2.55 2.55 0 1 0 5.1 0a2.55 2.55 0 1 0 -5.1 0M637.6 430.1a2.55 2.55 0 1 0 5.1 0a2.55 2.55 0 1 0 -5.1 0M623.4 423.5a2.55 2.55 0 1 0 5.1 0a2.55 2.55 0 1 0 -5.1 0M633.6 420.1a2.55 2.55 0 1 0 5.1 0a2.55 2.55 0 1 0 -5.1 0M623.4 415.3a2.55 2.55 0 1 0 5.1 0a2.55 2.55 0 1 0 -5.1 0M638.1 423.7a2.55 2.55 0 1 0 5.1 0a2.55 2.55 0 1 0 -5.1 0M618.3 426.6a2.55 2.55 0 1 0 5.1 0a2.55 2.55 0 1 0 -5.1 0M621.6 418.2a2.55 2.55 0 1 0 5.1 0a2.55 2.55 0 1 0 -5.1 0M635.1 419.5a2.55 2.55 0 1 0 5.1 0a2.55 2.55 0 1 0 -5.1 0M623.0 411.7a2.55 2.55 0 1 0 5.1 0a2.55 2.55 0 1 0 -5.1 0M614.9 421.7a2.55 2.55 0 1 0 5.1 0a2.55 2.55 0 1 0 -5.1 0M634.1 431.9a2.55 2.55 0 1 0 5.1 0a2.55 2.55 0 1 0 -5.1 0M632.6 421.8a2.55 2.55 0 1 0 5.1 0a2.55 2.55 0 1 0 -5.1 0M635.4 412.5a2.55 2.55 0 1 0 5.1 0a2.55 2.55 0 1 0 -5.1 0M619.2 425.8a2.55 2.55 0 1 0 5.1 0a2.55 2.55 0 1 0 -5.1 0M627.0 413.3a2.55 2.55 0 1 0 5.1 0a2.55 2.55 0 1 0 -5.1 0M618.6 419.4a2.55 2.55 0 1 0 5.1 0a2.55 2.55 0 1 0 -5.1 0M623.0 423.0a2.55 2.55 0 1 0 5.1 0a2.55 2.55 0 1 0 -5.1 0M623.8 414.3a2.55 2.55 0 1 0 5.1 0a2.55 2.55 0 1 0 -5.1 0M625.9 424.9a2.55 2.55 0 1 0 5.1 0a2.55 2.55 0 1 0 -5.1 0M619.7 417.2a2.55 2.55 0 1 0 5.1 0a2.55 2.55 0 1 0 -5.1 0M630.9 425.9a2.55 2.55 0 1 0 5.1 0a2.55 2.55 0 1 0 -5.1 0M635.0 406.4a2.55 2.55 0 1 0 5.1 0a2.55 2.55 0 1 0 -5.1 0M624.0 417.5a2.55 2.55 0 1 0 5.1 0a2.55 2.55 0 1 0 -5.1 0M627.8 421.6a2.55 2.55 0 1 0 5.1 0a2.55 2.55 0 1 0 -5.1 0M627.5 424.9a2.55 2.55 0 1 0 5.1 0a2.55 2.55 0 1 0 -5.1 0M621.3 420.1a2.55 2.55 0 1 0 5.1 0a2.55 2.55 0 1 0 -5.1 0M632.3 427.9a2.55 2.55 0 1 0 5.1 0a2.55 2.55 0 1 0 -5.1 0M637.7 412.9a2.55 2.55 0 1 0 5.1 0a2.55 2.55 0 1 0 -5.1 0M645.1 429.6a2.55 2.55 0 1 0 5.1 0a2.55 2.55 0 1 0 -5.1 0M650.5 418.2a2.55 2.55 0 1 0 5.1 0a2.55 2.55 0 1 0 -5.1 0M659.2 418.3a2.55 2.55 0 1 0 5.1 0a2.55 2.55 0 1 0 -5.1 0M634.2 418.3a2.55 2.55 0 1 0 5.1 0a2.55 2.55 0 1 0 -5.1 0M649.3 415.4a2.55 2.55 0 1 0 5.1 0a2.55 2.55 0 1 0 -5.1 0M637.7 418.6a2.55 2.55 0 1 0 5.1 0a2.55 2.55 0 1 0 -5.1 0M644.3 429.2a2.55 2.55 0 1 0 5.1 0a2.55 2.55 0 1 0 -5.1 0M648.2 412.6a2.55 2.55 0 1 0 5.1 0a2.55 2.55 0 1 0 -5.1 0M651.5 421.9a2.55 2.55 0 1 0 5.1 0a2.55 2.55 0 1 0 -5.1 0M641.5 429.1a2.55 2.55 0 1 0 5.1 0a2.55 2.55 0 1 0 -5.1 0M658.0 430.4a2.55 2.55 0 1 0 5.1 0a2.55 2.55 0 1 0 -5.1 0M647.1 411.7a2.55 2.55 0 1 0 5.1 0a2.55 2.55 0 1 0 -5.1 0M642.6 420.9a2.55 2.55 0 1 0 5.1 0a2.55 2.55 0 1 0 -5.1 0M633.5 414.2a2.55 2.55 0 1 0 5.1 0a2.55 2.55 0 1 0 -5.1 0M654.2 410.5a2.55 2.55 0 1 0 5.1 0a2.55 2.55 0 1 0 -5.1 0M638.6 410.2a2.55 2.55 0 1 0 5.1 0a2.55 2.55 0 1 0 -5.1 0M663.0 422.3a2.55 2.55 0 1 0 5.1 0a2.55 2.55 0 1 0 -5.1 0M657.7 422.2a2.55 2.55 0 1 0 5.1 0a2.55 2.55 0 1 0 -5.1 0M654.2 423.5a2.55 2.55 0 1 0 5.1 0a2.55 2.55 0 1 0 -5.1 0M642.7 411.7a2.55 2.55 0 1 0 5.1 0a2.55 2.55 0 1 0 -5.1 0M644.0 430.5a2.55 2.55 0 1 0 5.1 0a2.55 2.55 0 1 0 -5.1 0M644.7 425.5a2.55 2.55 0 1 0 5.1 0a2.55 2.55 0 1 0 -5.1 0M641.5 412.5a2.55 2.55 0 1 0 5.1 0a2.55 2.55 0 1 0 -5.1 0M636.6 412.0a2.55 2.55 0 1 0 5.1 0a2.55 2.55 0 1 0 -5.1 0M642.7 420.1a2.55 2.55 0 1 0 5.1 0a2.55 2.55 0 1 0 -5.1 0M642.1 420.7a2.55 2.55 0 1 0 5.1 0a2.55 2.55 0 1 0 -5.1 0M656.6 417.5a2.55 2.55 0 1 0 5.1 0a2.55 2.55 0 1 0 -5.1 0M649.4 432.3a2.55 2.55 0 1 0 5.1 0a2.55 2.55 0 1 0 -5.1 0M637.2 422.3a2.55 2.55 0 1 0 5.1 0a2.55 2.55 0 1 0 -5.1 0M650.7 430.7a2.55 2.55 0 1 0 5.1 0a2.55 2.55 0 1 0 -5.1 0M659.7 421.6a2.55 2.55 0 1 0 5.1 0a2.55 2.55 0 1 0 -5.1 0M643.6 422.3a2.55 2.55 0 1 0 5.1 0a2.55 2.55 0 1 0 -5.1 0M639.1 412.9a2.55 2.55 0 1 0 5.1 0a2.55 2.55 0 1 0 -5.1 0M657.5 420.1a2.55 2.55 0 1 0 5.1 0a2.55 2.55 0 1 0 -5.1 0M640.1 410.9a2.55 2.55 0 1 0 5.1 0a2.55 2.55 0 1 0 -5.1 0M655.4 426.0a2.55 2.55 0 1 0 5.1 0a2.55 2.55 0 1 0 -5.1 0M651.2 417.7a2.55 2.55 0 1 0 5.1 0a2.55 2.55 0 1 0 -5.1 0M634.7 421.5a2.55 2.55 0 1 0 5.1 0a2.55 2.55 0 1 0 -5.1 0M645.3 416.9a2.55 2.55 0 1 0 5.1 0a2.55 2.55 0 1 0 -5.1 0M635.9 408.1a2.55 2.55 0 1 0 5.1 0a2.55 2.55 0 1 0 -5.1 0M650.9 424.6a2.55 2.55 0 1 0 5.1 0a2.55 2.55 0 1 0 -5.1 0M648.3 419.6a2.55 2.55 0 1 0 5.1 0a2.55 2.55 0 1 0 -5.1 0M650.5 423.5a2.55 2.55 0 1 0 5.1 0a2.55 2.55 0 1 0 -5.1 0M655.0 413.0a2.55 2.55 0 1 0 5.1 0a2.55 2.55 0 1 0 -5.1 0M653.2 412.9a2.55 2.55 0 1 0 5.1 0a2.55 2.55 0 1 0 -5.1 0M645.6 428.6a2.55 2.55 0 1 0 5.1 0a2.55 2.55 0 1 0 -5.1 0M639.5 418.9a2.55 2.55 0 1 0 5.1 0a2.55 2.55 0 1 0 -5.1 0M656.8 415.2a2.55 2.55 0 1 0 5.1 0a2.55 2.55 0 1 0 -5.1 0M635.2 421.6a2.55 2.55 0 1 0 5.1 0a2.55 2.55 0 1 0 -5.1 0M668.1 430.9a2.55 2.55 0 1 0 5.1 0a2.55 2.55 0 1 0 -5.1 0M664.0 421.7a2.55 2.55 0 1 0 5.1 0a2.55 2.55 0 1 0 -5.1 0M664.4 420.3a2.55 2.55 0 1 0 5.1 0a2.55 2.55 0 1 0 -5.1 0M673.5 411.1a2.55 2.55 0 1 0 5.1 0a2.55 2.55 0 1 0 -5.1 0M666.3 413.4a2.55 2.55 0 1 0 5.1 0a2.55 2.55 0 1 0 -5.1 0M666.5 420.4a2.55 2.55 0 1 0 5.1 0a2.55 2.55 0 1 0 -5.1 0M669.2 419.8a2.55 2.55 0 1 0 5.1 0a2.55 2.55 0 1 0 -5.1 0M671.3 413.9a2.55 2.55 0 1 0 5.1 0a2.55 2.55 0 1 0 -5.1 0M671.2 418.9a2.55 2.55 0 1 0 5.1 0a2.55 2.55 0 1 0 -5.1 0M678.1 425.4a2.55 2.55 0 1 0 5.1 0a2.55 2.55 0 1 0 -5.1 0M676.6 420.8a2.55 2.55 0 1 0 5.1 0a2.55 2.55 0 1 0 -5.1 0M669.7 411.9a2.55 2.55 0 1 0 5.1 0a2.55 2.55 0 1 0 -5.1 0M664.9 412.8a2.55 2.55 0 1 0 5.1 0a2.55 2.55 0 1 0 -5.1 0M664.1 421.6a2.55 2.55 0 1 0 5.1 0a2.55 2.55 0 1 0 -5.1 0M676.2 426.6a2.55 2.55 0 1 0 5.1 0a2.55 2.55 0 1 0 -5.1 0M674.4 410.8a2.55 2.55 0 1 0 5.1 0a2.55 2.55 0 1 0 -5.1 0M666.7 426.8a2.55 2.55 0 1 0 5.1 0a2.55 2.55 0 1 0 -5.1 0M657.5 416.6a2.55 2.55 0 1 0 5.1 0a2.55 2.55 0 1 0 -5.1 0M656.6 424.3a2.55 2.55 0 1 0 5.1 0a2.55 2.55 0 1 0 -5.1 0M665.5 410.4a2.55 2.55 0 1 0 5.1 0a2.55 2.55 0 1 0 -5.1 0M658.6 427.1a2.55 2.55 0 1 0 5.1 0a2.55 2.55 0 1 0 -5.1 0M664.2 423.1a2.55 2.55 0 1 0 5.1 0a2.55 2.55 0 1 0 -5.1 0M657.9 427.9a2.55 2.55 0 1 0 5.1 0a2.55 2.55 0 1 0 -5.1 0M658.0 413.2a2.55 2.55 0 1 0 5.1 0a2.55 2.55 0 1 0 -5.1 0M665.5 411.2a2.55 2.55 0 1 0 5.1 0a2.55 2.55 0 1 0 -5.1 0M655.4 418.9a2.55 2.55 0 1 0 5.1 0a2.55 2.55 0 1 0 -5.1 0M664.1 427.9a2.55 2.55 0 1 0 5.1 0a2.55 2.55 0 1 0 -5.1 0M660.1 419.2a2.55 2.55 0 1 0 5.1 0a2.55 2.55 0 1 0 -5.1 0M669.5 417.3a2.55 2.55 0 1 0 5.1 0a2.55 2.55 0 1 0 -5.1 0M666.0 421.6a2.55 2.55 0 1 0 5.1 0a2.55 2.55 0 1 0 -5.1 0M670.3 416.9a2.55 2.55 0 1 0 5.1 0a2.55 2.55 0 1 0 -5.1 0M656.0 417.1a2.55 2.55 0 1 0 5.1 0a2.55 2.55 0 1 0 -5.1 0M681.7 426.4a2.55 2.55 0 1 0 5.1 0a2.55 2.55 0 1 0 -5.1 0M691.3 426.6a2.55 2.55 0 1 0 5.1 0a2.55 2.55 0 1 0 -5.1 0M693.9 433.4a2.55 2.55 0 1 0 5.1 0a2.55 2.55 0 1 0 -5.1 0M682.0 427.3a2.55 2.55 0 1 0 5.1 0a2.55 2.55 0 1 0 -5.1 0M679.3 416.2a2.55 2.55 0 1 0 5.1 0a2.55 2.55 0 1 0 -5.1 0M679.3 414.0a2.55 2.55 0 1 0 5.1 0a2.55 2.55 0 1 0 -5.1 0M682.5 420.8a2.55 2.55 0 1 0 5.1 0a2.55 2.55 0 1 0 -5.1 0M683.2 413.0a2.55 2.55 0 1 0 5.1 0a2.55 2.55 0 1 0 -5.1 0M686.5 414.7a2.55 2.55 0 1 0 5.1 0a2.55 2.55 0 1 0 -5.1 0M700.3 418.6a2.55 2.55 0 1 0 5.1 0a2.55 2.55 0 1 0 -5.1 0M699.7 428.0a2.55 2.55 0 1 0 5.1 0a2.55 2.55 0 1 0 -5.1 0M690.5 428.0a2.55 2.55 0 1 0 5.1 0a2.55 2.55 0 1 0 -5.1 0M681.1 424.0a2.55 2.55 0 1 0 5.1 0a2.55 2.55 0 1 0 -5.1 0M689.5 425.9a2.55 2.55 0 1 0 5.1 0a2.55 2.55 0 1 0 -5.1 0M686.4 429.3a2.55 2.55 0 1 0 5.1 0a2.55 2.55 0 1 0 -5.1 0M692.3 411.4a2.55 2.55 0 1 0 5.1 0a2.55 2.55 0 1 0 -5.1 0M698.6 409.3a2.55 2.55 0 1 0 5.1 0a2.55 2.55 0 1 0 -5.1 0M682.2 410.7a2.55 2.55 0 1 0 5.1 0a2.55 2.55 0 1 0 -5.1 0M692.2 417.2a2.55 2.55 0 1 0 5.1 0a2.55 2.55 0 1 0 -5.1 0M697.8 412.4a2.55 2.55 0 1 0 5.1 0a2.55 2.55 0 1 0 -5.1 0M696.0 419.4a2.55 2.55 0 1 0 5.1 0a2.55 2.55 0 1 0 -5.1 0M687.1 415.9a2.55 2.55 0 1 0 5.1 0a2.55 2.55 0 1 0 -5.1 0M700.4 419.1a2.55 2.55 0 1 0 5.1 0a2.55 2.55 0 1 0 -5.1 0M711.2 415.3a2.55 2.55 0 1 0 5.1 0a2.55 2.55 0 1 0 -5.1 0M696.9 424.8a2.55 2.55 0 1 0 5.1 0a2.55 2.55 0 1 0 -5.1 0M706.2 433.0a2.55 2.55 0 1 0 5.1 0a2.55 2.55 0 1 0 -5.1 0M718.3 409.4a2.55 2.55 0 1 0 5.1 0a2.55 2.55 0 1 0 -5.1 0M705.6 421.9a2.55 2.55 0 1 0 5.1 0a2.55 2.55 0 1 0 -5.1 0M713.0 411.6a2.55 2.55 0 1 0 5.1 0a2.55 2.55 0 1 0 -5.1 0M712.8 418.0a2.55 2.55 0 1 0 5.1 0a2.55 2.55 0 1 0 -5.1 0M710.1 432.4a2.55 2.55 0 1 0 5.1 0a2.55 2.55 0 1 0 -5.1 0M706.6 415.3a2.55 2.55 0 1 0 5.1 0a2.55 2.55 0 1 0 -5.1 0M700.4 414.5a2.55 2.55 0 1 0 5.1 0a2.55 2.55 0 1 0 -5.1 0M704.5 424.1a2.55 2.55 0 1 0 5.1 0a2.55 2.55 0 1 0 -5.1 0M709.3 418.6a2.55 2.55 0 1 0 5.1 0a2.55 2.55 0 1 0 -5.1 0M710.4 426.7a2.55 2.55 0 1 0 5.1 0a2.55 2.55 0 1 0 -5.1 0M703.7 415.0a2.55 2.55 0 1 0 5.1 0a2.55 2.55 0 1 0 -5.1 0M714.2 427.1a2.55 2.55 0 1 0 5.1 0a2.55 2.55 0 1 0 -5.1 0M709.8 414.4a2.55 2.55 0 1 0 5.1 0a2.55 2.55 0 1 0 -5.1 0M699.2 422.6a2.55 2.55 0 1 0 5.1 0a2.55 2.55 0 1 0 -5.1 0M697.0 409.4a2.55 2.55 0 1 0 5.1 0a2.55 2.55 0 1 0 -5.1 0M699.3 429.6a2.55 2.55 0 1 0 5.1 0a2.55 2.55 0 1 0 -5.1 0M716.7 411.7a2.55 2.55 0 1 0 5.1 0a2.55 2.55 0 1 0 -5.1 0M716.8 419.1a2.55 2.55 0 1 0 5.1 0a2.55 2.55 0 1 0 -5.1 0M710.4 426.1a2.55 2.55 0 1 0 5.1 0a2.55 2.55 0 1 0 -5.1 0M707.6 425.6a2.55 2.55 0 1 0 5.1 0a2.55 2.55 0 1 0 -5.1 0M710.3 425.4a2.55 2.55 0 1 0 5.1 0a2.55 2.55 0 1 0 -5.1 0M712.0 419.5a2.55 2.55 0 1 0 5.1 0a2.55 2.55 0 1 0 -5.1 0M701.6 416.9a2.55 2.55 0 1 0 5.1 0a2.55 2.55 0 1 0 -5.1 0M712.9 416.4a2.55 2.55 0 1 0 5.1 0a2.55 2.55 0 1 0 -5.1 0M702.5 428.6a2.55 2.55 0 1 0 5.1 0a2.55 2.55 0 1 0 -5.1 0M700.4 429.1a2.55 2.55 0 1 0 5.1 0a2.55 2.55 0 1 0 -5.1 0M731.0 417.3a2.55 2.55 0 1 0 5.1 0a2.55 2.55 0 1 0 -5.1 0M727.7 422.6a2.55 2.55 0 1 0 5.1 0a2.55 2.55 0 1 0 -5.1 0M730.3 417.9a2.55 2.55 0 1 0 5.1 0a2.55 2.55 0 1 0 -5.1 0M724.4 415.2a2.55 2.55 0 1 0 5.1 0a2.55 2.55 0 1 0 -5.1 0M719.9 431.2a2.55 2.55 0 1 0 5.1 0a2.55 2.55 0 1 0 -5.1 0M732.8 415.9a2.55 2.55 0 1 0 5.1 0a2.55 2.55 0 1 0 -5.1 0M731.1 430.2a2.55 2.55 0 1 0 5.1 0a2.55 2.55 0 1 0 -5.1 0M723.8 424.1a2.55 2.55 0 1 0 5.1 0a2.55 2.55 0 1 0 -5.1 0M731.5 428.8a2.55 2.55 0 1 0 5.1 0a2.55 2.55 0 1 0 -5.1 0M732.6 425.1a2.55 2.55 0 1 0 5.1 0a2.55 2.55 0 1 0 -5.1 0M729.8 425.6a2.55 2.55 0 1 0 5.1 0a2.55 2.55 0 1 0 -5.1 0M714.9 419.8a2.55 2.55 0 1 0 5.1 0a2.55 2.55 0 1 0 -5.1 0M727.2 424.7a2.55 2.55 0 1 0 5.1 0a2.55 2.55 0 1 0 -5.1 0M720.4 424.6a2.55 2.55 0 1 0 5.1 0a2.55 2.55 0 1 0 -5.1 0M737.0 409.5a2.55 2.55 0 1 0 5.1 0a2.55 2.55 0 1 0 -5.1 0M724.5 415.1a2.55 2.55 0 1 0 5.1 0a2.55 2.55 0 1 0 -5.1 0M729.5 423.8a2.55 2.55 0 1 0 5.1 0a2.55 2.55 0 1 0 -5.1 0M739.8 417.6a2.55 2.55 0 1 0 5.1 0a2.55 2.55 0 1 0 -5.1 0M736.5 417.6a2.55 2.55 0 1 0 5.1 0a2.55 2.55 0 1 0 -5.1 0M722.0 423.5a2.55 2.55 0 1 0 5.1 0a2.55 2.55 0 1 0 -5.1 0M735.2 419.9a2.55 2.55 0 1 0 5.1 0a2.55 2.55 0 1 0 -5.1 0M718.6 419.5a2.55 2.55 0 1 0 5.1 0a2.55 2.55 0 1 0 -5.1 0M731.7 416.1a2.55 2.55 0 1 0 5.1 0a2.55 2.55 0 1 0 -5.1 0M727.8 424.8a2.55 2.55 0 1 0 5.1 0a2.55 2.55 0 1 0 -5.1 0M717.4 419.8a2.55 2.55 0 1 0 5.1 0a2.55 2.55 0 1 0 -5.1 0M738.2 421.2a2.55 2.55 0 1 0 5.1 0a2.55 2.55 0 1 0 -5.1 0M720.0 407.9a2.55 2.55 0 1 0 5.1 0a2.55 2.55 0 1 0 -5.1 0M715.5 420.4a2.55 2.55 0 1 0 5.1 0a2.55 2.55 0 1 0 -5.1 0M748.9 412.2a2.55 2.55 0 1 0 5.1 0a2.55 2.55 0 1 0 -5.1 0M755.3 426.2a2.55 2.55 0 1 0 5.1 0a2.55 2.55 0 1 0 -5.1 0M747.0 421.0a2.55 2.55 0 1 0 5.1 0a2.55 2.55 0 1 0 -5.1 0M741.4 420.7a2.55 2.55 0 1 0 5.1 0a2.55 2.55 0 1 0 -5.1 0M751.4 425.1a2.55 2.55 0 1 0 5.1 0a2.55 2.55 0 1 0 -5.1 0M747.1 428.5a2.55 2.55 0 1 0 5.1 0a2.55 2.55 0 1 0 -5.1 0M741.1 421.7a2.55 2.55 0 1 0 5.1 0a2.55 2.55 0 1 0 -5.1 0M733.7 410.5a2.55 2.55 0 1 0 5.1 0a2.55 2.55 0 1 0 -5.1 0M752.9 420.7a2.55 2.55 0 1 0 5.1 0a2.55 2.55 0 1 0 -5.1 0M734.8 424.1a2.55 2.55 0 1 0 5.1 0a2.55 2.55 0 1 0 -5.1 0M761.6 413.7a2.55 2.55 0 1 0 5.1 0a2.55 2.55 0 1 0 -5.1 0M754.9 430.4a2.55 2.55 0 1 0 5.1 0a2.55 2.55 0 1 0 -5.1 0M752.4 415.1a2.55 2.55 0 1 0 5.1 0a2.55 2.55 0 1 0 -5.1 0M749.0 416.5a2.55 2.55 0 1 0 5.1 0a2.55 2.55 0 1 0 -5.1 0M754.0 412.3a2.55 2.55 0 1 0 5.1 0a2.55 2.55 0 1 0 -5.1 0M743.6 416.0a2.55 2.55 0 1 0 5.1 0a2.55 2.55 0 1 0 -5.1 0M750.7 412.2a2.55 2.55 0 1 0 5.1 0a2.55 2.55 0 1 0 -5.1 0M754.7 419.3a2.55 2.55 0 1 0 5.1 0a2.55 2.55 0 1 0 -5.1 0M756.3 421.8a2.55 2.55 0 1 0 5.1 0a2.55 2.55 0 1 0 -5.1 0M735.0 421.2a2.55 2.55 0 1 0 5.1 0a2.55 2.55 0 1 0 -5.1 0M743.8 412.2a2.55 2.55 0 1 0 5.1 0a2.55 2.55 0 1 0 -5.1 0M735.7 417.6a2.55 2.55 0 1 0 5.1 0a2.55 2.55 0 1 0 -5.1 0M750.5 427.0a2.55 2.55 0 1 0 5.1 0a2.55 2.55 0 1 0 -5.1 0M743.1 427.3a2.55 2.55 0 1 0 5.1 0a2.55 2.55 0 1 0 -5.1 0M749.2 416.0a2.55 2.55 0 1 0 5.1 0a2.55 2.55 0 1 0 -5.1 0M735.7 432.9a2.55 2.55 0 1 0 5.1 0a2.55 2.55 0 1 0 -5.1 0M741.6 437.5a2.55 2.55 0 1 0 5.1 0a2.55 2.55 0 1 0 -5.1 0M753.1 426.0a2.55 2.55 0 1 0 5.1 0a2.55 2.55 0 1 0 -5.1 0M764.0 422.0a2.55 2.55 0 1 0 5.1 0a2.55 2.55 0 1 0 -5.1 0M768.7 414.1a2.55 2.55 0 1 0 5.1 0a2.55 2.55 0 1 0 -5.1 0M763.7 426.8a2.55 2.55 0 1 0 5.1 0a2.55 2.55 0 1 0 -5.1 0M774.3 429.0a2.55 2.55 0 1 0 5.1 0a2.55 2.55 0 1 0 -5.1 0M778.3 415.8a2.55 2.55 0 1 0 5.1 0a2.55 2.55 0 1 0 -5.1 0M773.1 420.9a2.55 2.55 0 1 0 5.1 0a2.55 2.55 0 1 0 -5.1 0M767.6 426.7a2.55 2.55 0 1 0 5.1 0a2.55 2.55 0 1 0 -5.1 0M757.9 424.5a2.55 2.55 0 1 0 5.1 0a2.55 2.55 0 1 0 -5.1 0M775.6 408.8a2.55 2.55 0 1 0 5.1 0a2.55 2.55 0 1 0 -5.1 0M774.6 412.6a2.55 2.55 0 1 0 5.1 0a2.55 2.55 0 1 0 -5.1 0M762.5 421.8a2.55 2.55 0 1 0 5.1 0a2.55 2.55 0 1 0 -5.1 0M768.0 416.2a2.55 2.55 0 1 0 5.1 0a2.55 2.55 0 1 0 -5.1 0M770.2 409.1a2.55 2.55 0 1 0 5.1 0a2.55 2.55 0 1 0 -5.1 0M777.7 419.5a2.55 2.55 0 1 0 5.1 0a2.55 2.55 0 1 0 -5.1 0M766.7 412.5a2.55 2.55 0 1 0 5.1 0a2.55 2.55 0 1 0 -5.1 0M758.8 411.5a2.55 2.55 0 1 0 5.1 0a2.55 2.55 0 1 0 -5.1 0M769.7 427.8a2.55 2.55 0 1 0 5.1 0a2.55 2.55 0 1 0 -5.1 0M762.7 421.7a2.55 2.55 0 1 0 5.1 0a2.55 2.55 0 1 0 -5.1 0M769.8 427.1a2.55 2.55 0 1 0 5.1 0a2.55 2.55 0 1 0 -5.1 0M768.8 424.6a2.55 2.55 0 1 0 5.1 0a2.55 2.55 0 1 0 -5.1 0M759.8 424.5a2.55 2.55 0 1 0 5.1 0a2.55 2.55 0 1 0 -5.1 0M768.1 410.0a2.55 2.55 0 1 0 5.1 0a2.55 2.55 0 1 0 -5.1 0M762.7 411.3a2.55 2.55 0 1 0 5.1 0a2.55 2.55 0 1 0 -5.1 0M754.6 414.7a2.55 2.55 0 1 0 5.1 0a2.55 2.55 0 1 0 -5.1 0M755.8 413.0a2.55 2.55 0 1 0 5.1 0a2.55 2.55 0 1 0 -5.1 0M766.4 414.5a2.55 2.55 0 1 0 5.1 0a2.55 2.55 0 1 0 -5.1 0M767.6 420.5a2.55 2.55 0 1 0 5.1 0a2.55 2.55 0 1 0 -5.1 0M776.2 412.6a2.55 2.55 0 1 0 5.1 0a2.55 2.55 0 1 0 -5.1 0M759.8 425.2a2.55 2.55 0 1 0 5.1 0a2.55 2.55 0 1 0 -5.1 0M775.1 422.9a2.55 2.55 0 1 0 5.1 0a2.55 2.55 0 1 0 -5.1 0M781.8 428.1a2.55 2.55 0 1 0 5.1 0a2.55 2.55 0 1 0 -5.1 0M798.4 433.0a2.55 2.55 0 1 0 5.1 0a2.55 2.55 0 1 0 -5.1 0M775.7 419.4a2.55 2.55 0 1 0 5.1 0a2.55 2.55 0 1 0 -5.1 0M791.8 433.3a2.55 2.55 0 1 0 5.1 0a2.55 2.55 0 1 0 -5.1 0M773.8 425.8a2.55 2.55 0 1 0 5.1 0a2.55 2.55 0 1 0 -5.1 0M784.8 427.0a2.55 2.55 0 1 0 5.1 0a2.55 2.55 0 1 0 -5.1 0M787.4 426.4a2.55 2.55 0 1 0 5.1 0a2.55 2.55 0 1 0 -5.1 0M804.5 431.5a2.55 2.55 0 1 0 5.1 0a2.55 2.55 0 1 0 -5.1 0M793.4 418.9a2.55 2.55 0 1 0 5.1 0a2.55 2.55 0 1 0 -5.1 0M779.3 414.1a2.55 2.55 0 1 0 5.1 0a2.55 2.55 0 1 0 -5.1 0M779.0 424.9a2.55 2.55 0 1 0 5.1 0a2.55 2.55 0 1 0 -5.1 0M796.0 427.3a2.55 2.55 0 1 0 5.1 0a2.55 2.55 0 1 0 -5.1 0M787.2 414.6a2.55 2.55 0 1 0 5.1 0a2.55 2.55 0 1 0 -5.1 0M783.4 414.3a2.55 2.55 0 1 0 5.1 0a2.55 2.55 0 1 0 -5.1 0M799.3 416.1a2.55 2.55 0 1 0 5.1 0a2.55 2.55 0 1 0 -5.1 0M789.8 408.2a2.55 2.55 0 1 0 5.1 0a2.55 2.55 0 1 0 -5.1 0M780.5 426.9a2.55 2.55 0 1 0 5.1 0a2.55 2.55 0 1 0 -5.1 0M791.1 419.3a2.55 2.55 0 1 0 5.1 0a2.55 2.55 0 1 0 -5.1 0M778.1 426.8a2.55 2.55 0 1 0 5.1 0a2.55 2.55 0 1 0 -5.1 0M779.0 417.4a2.55 2.55 0 1 0 5.1 0a2.55 2.55 0 1 0 -5.1 0M795.5 421.8a2.55 2.55 0 1 0 5.1 0a2.55 2.55 0 1 0 -5.1 0M781.7 430.2a2.55 2.55 0 1 0 5.1 0a2.55 2.55 0 1 0 -5.1 0M789.4 422.9a2.55 2.55 0 1 0 5.1 0a2.55 2.55 0 1 0 -5.1 0M797.3 423.6a2.55 2.55 0 1 0 5.1 0a2.55 2.55 0 1 0 -5.1 0M774.1 416.4a2.55 2.55 0 1 0 5.1 0a2.55 2.55 0 1 0 -5.1 0M792.4 417.8a2.55 2.55 0 1 0 5.1 0a2.55 2.55 0 1 0 -5.1 0M781.6 410.3a2.55 2.55 0 1 0 5.1 0a2.55 2.55 0 1 0 -5.1 0M795.5 413.1a2.55 2.55 0 1 0 5.1 0a2.55 2.55 0 1 0 -5.1 0M796.9 418.6a2.55 2.55 0 1 0 5.1 0a2.55 2.55 0 1 0 -5.1 0M795.0 413.3a2.55 2.55 0 1 0 5.1 0a2.55 2.55 0 1 0 -5.1 0M802.9 413.3a2.55 2.55 0 1 0 5.1 0a2.55 2.55 0 1 0 -5.1 0M810.7 415.3a2.55 2.55 0 1 0 5.1 0a2.55 2.55 0 1 0 -5.1 0M815.7 422.7a2.55 2.55 0 1 0 5.1 0a2.55 2.55 0 1 0 -5.1 0M808.0 422.8a2.55 2.55 0 1 0 5.1 0a2.55 2.55 0 1 0 -5.1 0M800.5 415.1a2.55 2.55 0 1 0 5.1 0a2.55 2.55 0 1 0 -5.1 0M808.6 416.9a2.55 2.55 0 1 0 5.1 0a2.55 2.55 0 1 0 -5.1 0M813.6 411.8a2.55 2.55 0 1 0 5.1 0a2.55 2.55 0 1 0 -5.1 0M817.5 412.0a2.55 2.55 0 1 0 5.1 0a2.55 2.55 0 1 0 -5.1 0M802.0 419.7a2.55 2.55 0 1 0 5.1 0a2.55 2.55 0 1 0 -5.1 0M797.5 428.8a2.55 2.55 0 1 0 5.1 0a2.55 2.55 0 1 0 -5.1 0M812.8 430.2a2.55 2.55 0 1 0 5.1 0a2.55 2.55 0 1 0 -5.1 0M799.7 429.6a2.55 2.55 0 1 0 5.1 0a2.55 2.55 0 1 0 -5.1 0M813.5 415.1a2.55 2.55 0 1 0 5.1 0a2.55 2.55 0 1 0 -5.1 0M810.2 433.3a2.55 2.55 0 1 0 5.1 0a2.55 2.55 0 1 0 -5.1 0M804.2 425.8a2.55 2.55 0 1 0 5.1 0a2.55 2.55 0 1 0 -5.1 0M804.4 429.3a2.55 2.55 0 1 0 5.1 0a2.55 2.55 0 1 0 -5.1 0M811.8 414.0a2.55 2.55 0 1 0 5.1 0a2.55 2.55 0 1 0 -5.1 0M812.5 423.1a2.55 2.55 0 1 0 5.1 0a2.55 2.55 0 1 0 -5.1 0M805.8 426.3a2.55 2.55 0 1 0 5.1 0a2.55 2.55 0 1 0 -5.1 0M805.2 420.3a2.55 2.55 0 1 0 5.1 0a2.55 2.55 0 1 0 -5.1 0M820.1 413.6a2.55 2.55 0 1 0 5.1 0a2.55 2.55 0 1 0 -5.1 0M806.6 418.2a2.55 2.55 0 1 0 5.1 0a2.55 2.55 0 1 0 -5.1 0M805.9 428.9a2.55 2.55 0 1 0 5.1 0a2.55 2.55 0 1 0 -5.1 0M818.5 429.6a2.55 2.55 0 1 0 5.1 0a2.55 2.55 0 1 0 -5.1 0M805.8 418.8a2.55 2.55 0 1 0 5.1 0a2.55 2.55 0 1 0 -5.1 0M839.5 426.0a2.55 2.55 0 1 0 5.1 0a2.55 2.55 0 1 0 -5.1 0M829.2 410.6a2.55 2.55 0 1 0 5.1 0a2.55 2.55 0 1 0 -5.1 0M820.5 414.1a2.55 2.55 0 1 0 5.1 0a2.55 2.55 0 1 0 -5.1 0M830.2 418.1a2.55 2.55 0 1 0 5.1 0a2.55 2.55 0 1 0 -5.1 0M815.8 425.3a2.55 2.55 0 1 0 5.1 0a2.55 2.55 0 1 0 -5.1 0M830.2 425.5a2.55 2.55 0 1 0 5.1 0a2.55 2.55 0 1 0 -5.1 0M830.9 425.8a2.55 2.55 0 1 0 5.1 0a2.55 2.55 0 1 0 -5.1 0M826.5 411.5a2.55 2.55 0 1 0 5.1 0a2.55 2.55 0 1 0 -5.1 0M833.7 423.4a2.55 2.55 0 1 0 5.1 0a2.55 2.55 0 1 0 -5.1 0M829.7 427.6a2.55 2.55 0 1 0 5.1 0a2.55 2.55 0 1 0 -5.1 0M822.0 417.2a2.55 2.55 0 1 0 5.1 0a2.55 2.55 0 1 0 -5.1 0M834.4 415.3a2.55 2.55 0 1 0 5.1 0a2.55 2.55 0 1 0 -5.1 0M820.9 424.9a2.55 2.55 0 1 0 5.1 0a2.55 2.55 0 1 0 -5.1 0M825.9 431.2a2.55 2.55 0 1 0 5.1 0a2.55 2.55 0 1 0 -5.1 0M814.6 409.3a2.55 2.55 0 1 0 5.1 0a2.55 2.55 0 1 0 -5.1 0M812.8 419.1a2.55 2.55 0 1 0 5.1 0a2.55 2.55 0 1 0 -5.1 0M831.6 415.8a2.55 2.55 0 1 0 5.1 0a2.55 2.55 0 1 0 -5.1 0M824.3 424.3a2.55 2.55 0 1 0 5.1 0a2.55 2.55 0 1 0 -5.1 0M837.5 416.2a2.55 2.55 0 1 0 5.1 0a2.55 2.55 0 1 0 -5.1 0M856.5 418.6a2.55 2.55 0 1 0 5.1 0a2.55 2.55 0 1 0 -5.1 0M590.0 428.3a2.55 2.55 0 1 0 5.1 0a2.55 2.55 0 1 0 -5.1 0M591.7 431.8a2.55 2.55 0 1 0 5.1 0a2.55 2.55 0 1 0 -5.1 0M593.4 437.7a2.55 2.55 0 1 0 5.1 0a2.55 2.55 0 1 0 -5.1 0M607.3 438.7a2.55 2.55 0 1 0 5.1 0a2.55 2.55 0 1 0 -5.1 0M602.6 436.9a2.55 2.55 0 1 0 5.1 0a2.55 2.55 0 1 0 -5.1 0M597.2 431.1a2.55 2.55 0 1 0 5.1 0a2.55 2.55 0 1 0 -5.1 0M614.1 434.4a2.55 2.55 0 1 0 5.1 0a2.55 2.55 0 1 0 -5.1 0M614.7 439.0a2.55 2.55 0 1 0 5.1 0a2.55 2.55 0 1 0 -5.1 0M625.7 434.7a2.55 2.55 0 1 0 5.1 0a2.55 2.55 0 1 0 -5.1 0M615.9 433.0a2.55 2.55 0 1 0 5.1 0a2.55 2.55 0 1 0 -5.1 0M635.3 429.5a2.55 2.55 0 1 0 5.1 0a2.55 2.55 0 1 0 -5.1 0M634.3 428.2a2.55 2.55 0 1 0 5.1 0a2.55 2.55 0 1 0 -5.1 0M623.6 430.6a2.55 2.55 0 1 0 5.1 0a2.55 2.55 0 1 0 -5.1 0M653.7 435.6a2.55 2.55 0 1 0 5.1 0a2.55 2.55 0 1 0 -5.1 0M650.3 439.9a2.55 2.55 0 1 0 5.1 0a2.55 2.55 0 1 0 -5.1 0M644.7 428.5a2.55 2.55 0 1 0 5.1 0a2.55 2.55 0 1 0 -5.1 0M660.8 434.2a2.55 2.55 0 1 0 5.1 0a2.55 2.55 0 1 0 -5.1 0M667.6 427.9a2.55 2.55 0 1 0 5.1 0a2.55 2.55 0 1 0 -5.1 0M669.8 434.8a2.55 2.55 0 1 0 5.1 0a2.55 2.55 0 1 0 -5.1 0M695.3 427.0a2.55 2.55 0 1 0 5.1 0a2.55 2.55 0 1 0 -5.1 0M683.9 435.4a2.55 2.55 0 1 0 5.1 0a2.55 2.55 0 1 0 -5.1 0M690.3 438.7a2.55 2.55 0 1 0 5.1 0a2.55 2.55 0 1 0 -5.1 0M710.5 436.1a2.55 2.55 0 1 0 5.1 0a2.55 2.55 0 1 0 -5.1 0M716.2 440.0a2.55 2.55 0 1 0 5.1 0a2.55 2.55 0 1 0 -5.1 0M712.8 435.5a2.55 2.55 0 1 0 5.1 0a2.55 2.55 0 1 0 -5.1 0M707.8 434.8a2.55 2.55 0 1 0 5.1 0a2.55 2.55 0 1 0 -5.1 0M707.1 429.9a2.55 2.55 0 1 0 5.1 0a2.55 2.55 0 1 0 -5.1 0M725.3 438.2a2.55 2.55 0 1 0 5.1 0a2.55 2.55 0 1 0 -5.1 0M721.2 430.1a2.55 2.55 0 1 0 5.1 0a2.55 2.55 0 1 0 -5.1 0M733.2 427.0a2.55 2.55 0 1 0 5.1 0a2.55 2.55 0 1 0 -5.1 0M718.2 437.5a2.55 2.55 0 1 0 5.1 0a2.55 2.55 0 1 0 -5.1 0M731.7 438.3a2.55 2.55 0 1 0 5.1 0a2.55 2.55 0 1 0 -5.1 0M739.3 431.1a2.55 2.55 0 1 0 5.1 0a2.55 2.55 0 1 0 -5.1 0M757.8 430.1a2.55 2.55 0 1 0 5.1 0a2.55 2.55 0 1 0 -5.1 0M754.4 439.4a2.55 2.55 0 1 0 5.1 0a2.55 2.55 0 1 0 -5.1 0M742.8 433.3a2.55 2.55 0 1 0 5.1 0a2.55 2.55 0 1 0 -5.1 0M756.2 436.5a2.55 2.55 0 1 0 5.1 0a2.55 2.55 0 1 0 -5.1 0M768.6 435.3a2.55 2.55 0 1 0 5.1 0a2.55 2.55 0 1 0 -5.1 0M762.4 436.8a2.55 2.55 0 1 0 5.1 0a2.55 2.55 0 1 0 -5.1 0M767.7 437.2a2.55 2.55 0 1 0 5.1 0a2.55 2.55 0 1 0 -5.1 0M762.0 432.0a2.55 2.55 0 1 0 5.1 0a2.55 2.55 0 1 0 -5.1 0M765.2 436.2a2.55 2.55 0 1 0 5.1 0a2.55 2.55 0 1 0 -5.1 0M794.1 431.6a2.55 2.55 0 1 0 5.1 0a2.55 2.55 0 1 0 -5.1 0M794.5 435.2a2.55 2.55 0 1 0 5.1 0a2.55 2.55 0 1 0 -5.1 0M794.9 437.1a2.55 2.55 0 1 0 5.1 0a2.55 2.55 0 1 0 -5.1 0M793.3 438.7a2.55 2.55 0 1 0 5.1 0a2.55 2.55 0 1 0 -5.1 0M783.1 437.3a2.55 2.55 0 1 0 5.1 0a2.55 2.55 0 1 0 -5.1 0M809.1 428.9a2.55 2.55 0 1 0 5.1 0a2.55 2.55 0 1 0 -5.1 0M803.3 430.0a2.55 2.55 0 1 0 5.1 0a2.55 2.55 0 1 0 -5.1 0M797.4 438.1a2.55 2.55 0 1 0 5.1 0a2.55 2.55 0 1 0 -5.1 0M835.2 435.2a2.55 2.55 0 1 0 5.1 0a2.55 2.55 0 1 0 -5.1 0M828.6 432.2a2.55 2.55 0 1 0 5.1 0a2.55 2.55 0 1 0 -5.1 0M714.9 366.2a2.55 2.55 0 1 0 5.1 0a2.55 2.55 0 1 0 -5.1 0M709.9 380.1a2.55 2.55 0 1 0 5.1 0a2.55 2.55 0 1 0 -5.1 0M702.7 389.6a2.55 2.55 0 1 0 5.1 0a2.55 2.55 0 1 0 -5.1 0M724.7 404.1a2.55 2.55 0 1 0 5.1 0a2.55 2.55 0 1 0 -5.1 0M709.0 400.9a2.55 2.55 0 1 0 5.1 0a2.55 2.55 0 1 0 -5.1 0M700.8 385.0a2.55 2.55 0 1 0 5.1 0a2.55 2.55 0 1 0 -5.1 0M719.1 413.8a2.55 2.55 0 1 0 5.1 0a2.55 2.55 0 1 0 -5.1 0M713.6 348.5a2.55 2.55 0 1 0 5.1 0a2.55 2.55 0 1 0 -5.1 0M700.6 374.1a2.55 2.55 0 1 0 5.1 0a2.55 2.55 0 1 0 -5.1 0M704.0 390.6a2.55 2.55 0 1 0 5.1 0a2.55 2.55 0 1 0 -5.1 0M709.4 356.4a2.55 2.55 0 1 0 5.1 0a2.55 2.55 0 1 0 -5.1 0M712.5 415.9a2.55 2.55 0 1 0 5.1 0a2.55 2.55 0 1 0 -5.1 0M692.7 420.8a2.55 2.55 0 1 0 5.1 0a2.55 2.55 0 1 0 -5.1 0M720.6 374.7a2.55 2.55 0 1 0 5.1 0a2.55 2.55 0 1 0 -5.1 0M711.5 392.4a2.55 2.55 0 1 0 5.1 0a2.55 2.55 0 1 0 -5.1 0M700.2 399.1a2.55 2.55 0 1 0 5.1 0a2.55 2.55 0 1 0 -5.1 0M713.1 365.0a2.55 2.55 0 1 0 5.1 0a2.55 2.55 0 1 0 -5.1 0M706.8 396.2a2.55 2.55 0 1 0 5.1 0a2.55 2.55 0 1 0 -5.1 0M713.6 384.8a2.55 2.55 0 1 0 5.1 0a2.55 2.55 0 1 0 -5.1 0M716.4 401.8a2.55 2.55 0 1 0 5.1 0a2.55 2.55 0 1 0 -5.1 0M721.2 414.2a2.55 2.55 0 1 0 5.1 0a2.55 2.55 0 1 0 -5.1 0M697.4 376.8a2.55 2.55 0 1 0 5.1 0a2.55 2.55 0 1 0 -5.1 0M712.9 439.9a2.55 2.55 0 1 0 5.1 0a2.55 2.55 0 1 0 -5.1 0M711.4 391.5a2.55 2.55 0 1 0 5.1 0a2.55 2.55 0 1 0 -5.1 0M701.8 376.6a2.55 2.55 0 1 0 5.1 0a2.55 2.55 0 1 0 -5.1 0M702.2 389.2a2.55 2.55 0 1 0 5.1 0a2.55 2.55 0 1 0 -5.1 0M706.8 399.7a2.55 2.55 0 1 0 5.1 0a2.55 2.55 0 1 0 -5.1 0M719.8 419.3a2.55 2.55 0 1 0 5.1 0a2.55 2.55 0 1 0 -5.1 0M722.2 408.4a2.55 2.55 0 1 0 5.1 0a2.55 2.55 0 1 0 -5.1 0M698.2 413.8a2.55 2.55 0 1 0 5.1 0a2.55 2.55 0 1 0 -5.1 0M704.8 376.2a2.55 2.55 0 1 0 5.1 0a2.55 2.55 0 1 0 -5.1 0M717.8 399.1a2.55 2.55 0 1 0 5.1 0a2.55 2.55 0 1 0 -5.1 0M725.1 410.2a2.55 2.55 0 1 0 5.1 0a2.55 2.55 0 1 0 -5.1 0M727.1 357.9a2.55 2.55 0 1 0 5.1 0a2.55 2.55 0 1 0 -5.1 0M713.8 389.6a2.55 2.55 0 1 0 5.1 0a2.55 2.55 0 1 0 -5.1 0M707.0 392.8a2.55 2.55 0 1 0 5.1 0a2.55 2.55 0 1 0 -5.1 0M710.2 389.6a2.55 2.55 0 1 0 5.1 0a2.55 2.55 0 1 0 -5.1 0M716.8 409.0a2.55 2.55 0 1 0 5.1 0a2.55 2.55 0 1 0 -5.1 0M712.2 395.3a2.55 2.55 0 1 0 5.1 0a2.55 2.55 0 1 0 -5.1 0M716.6 362.6a2.55 2.55 0 1 0 5.1 0a2.55 2.55 0 1 0 -5.1 0M720.8 395.5a2.55 2.55 0 1 0 5.1 0a2.55 2.55 0 1 0 -5.1 0M707.4 363.7a2.55 2.55 0 1 0 5.1 0a2.55 2.55 0 1 0 -5.1 0M712.6 355.1a2.55 2.55 0 1 0 5.1 0a2.55 2.55 0 1 0 -5.1 0M703.2 375.0a2.55 2.55 0 1 0 5.1 0a2.55 2.55 0 1 0 -5.1 0M710.6 396.3a2.55 2.55 0 1 0 5.1 0a2.55 2.55 0 1 0 -5.1 0M711.3 409.5a2.55 2.55 0 1 0 5.1 0a2.55 2.55 0 1 0 -5.1 0M731.7 400.1a2.55 2.55 0 1 0 5.1 0a2.55 2.55 0 1 0 -5.1 0M705.7 395.3a2.55 2.55 0 1 0 5.1 0a2.55 2.55 0 1 0 -5.1 0M714.4 406.4a2.55 2.55 0 1 0 5.1 0a2.55 2.55 0 1 0 -5.1 0M710.0 400.9a2.55 2.55 0 1 0 5.1 0a2.55 2.55 0 1 0 -5.1 0M705.4 381.6a2.55 2.55 0 1 0 5.1 0a2.55 2.55 0 1 0 -5.1 0M708.7 382.2a2.55 2.55 0 1 0 5.1 0a2.55 2.55 0 1 0 -5.1 0M723.4 379.3a2.55 2.55 0 1 0 5.1 0a2.55 2.55 0 1 0 -5.1 0M702.2 404.3a2.55 2.55 0 1 0 5.1 0a2.55 2.55 0 1 0 -5.1 0M694.6 358.2a2.55 2.55 0 1 0 5.1 0a2.55 2.55 0 1 0 -5.1 0M713.5 369.8a2.55 2.55 0 1 0 5.1 0a2.55 2.55 0 1 0 -5.1 0M707.1 419.9a2.55 2.55 0 1 0 5.1 0a2.55 2.55 0 1 0 -5.1 0M706.0 409.9a2.55 2.55 0 1 0 5.1 0a2.55 2.55 0 1 0 -5.1 0M717.6 410.7a2.55 2.55 0 1 0 5.1 0a2.55 2.55 0 1 0 -5.1 0M711.7 410.0a2.55 2.55 0 1 0 5.1 0a2.55 2.55 0 1 0 -5.1 0M715.0 397.2a2.55 2.55 0 1 0 5.1 0a2.55 2.55 0 1 0 -5.1 0M711.4 396.4a2.55 2.55 0 1 0 5.1 0a2.55 2.55 0 1 0 -5.1 0M709.3 383.6a2.55 2.55 0 1 0 5.1 0a2.55 2.55 0 1 0 -5.1 0M736.0 422.1a2.55 2.55 0 1 0 5.1 0a2.55 2.55 0 1 0 -5.1 0M696.6 380.0a2.55 2.55 0 1 0 5.1 0a2.55 2.55 0 1 0 -5.1 0M689.8 371.3a2.55 2.55 0 1 0 5.1 0a2.55 2.55 0 1 0 -5.1 0M698.1 393.8a2.55 2.55 0 1 0 5.1 0a2.55 2.55 0 1 0 -5.1 0M718.3 421.7a2.55 2.55 0 1 0 5.1 0a2.55 2.55 0 1 0 -5.1 0M716.3 404.1a2.55 2.55 0 1 0 5.1 0a2.55 2.55 0 1 0 -5.1 0M717.5 384.1a2.55 2.55 0 1 0 5.1 0a2.55 2.55 0 1 0 -5.1 0M710.4 411.8a2.55 2.55 0 1 0 5.1 0a2.55 2.55 0 1 0 -5.1 0M712.2 413.5a2.55 2.55 0 1 0 5.1 0a2.55 2.55 0 1 0 -5.1 0M713.5 393.6a2.55 2.55 0 1 0 5.1 0a2.55 2.55 0 1 0 -5.1 0M703.7 387.4a2.55 2.55 0 1 0 5.1 0a2.55 2.55 0 1 0 -5.1 0M719.7 394.1a2.55 2.55 0 1 0 5.1 0a2.55 2.55 0 1 0 -5.1 0M716.9 391.8a2.55 2.55 0 1 0 5.1 0a2.55 2.55 0 1 0 -5.1 0M718.9 386.0a2.55 2.55 0 1 0 5.1 0a2.55 2.55 0 1 0 -5.1 0M707.6 361.6a2.55 2.55 0 1 0 5.1 0a2.55 2.55 0 1 0 -5.1 0M693.6 396.6a2.55 2.55 0 1 0 5.1 0a2.55 2.55 0 1 0 -5.1 0M713.9 382.5a2.55 2.55 0 1 0 5.1 0a2.55 2.55 0 1 0 -5.1 0M689.9 367.0a2.55 2.55 0 1 0 5.1 0a2.55 2.55 0 1 0 -5.1 0M701.2 383.3a2.55 2.55 0 1 0 5.1 0a2.55 2.55 0 1 0 -5.1 0M703.3 405.4a2.55 2.55 0 1 0 5.1 0a2.55 2.55 0 1 0 -5.1 0M704.6 396.0a2.55 2.55 0 1 0 5.1 0a2.55 2.55 0 1 0 -5.1 0M712.1 403.7a2.55 2.55 0 1 0 5.1 0a2.55 2.55 0 1 0 -5.1 0M707.1 403.7a2.55 2.55 0 1 0 5.1 0a2.55 2.55 0 1 0 -5.1 0M711.0 376.1a2.55 2.55 0 1 0 5.1 0a2.55 2.55 0 1 0 -5.1 0M700.4 352.3a2.55 2.55 0 1 0 5.1 0a2.55 2.55 0 1 0 -5.1 0M722.0 374.7a2.55 2.55 0 1 0 5.1 0a2.55 2.55 0 1 0 -5.1 0M721.2 380.0a2.55 2.55 0 1 0 5.1 0a2.55 2.55 0 1 0 -5.1 0M715.9 390.3a2.55 2.55 0 1 0 5.1 0a2.55 2.55 0 1 0 -5.1 0M720.6 372.2a2.55 2.55 0 1 0 5.1 0a2.55 2.55 0 1 0 -5.1 0M702.2 384.1a2.55 2.55 0 1 0 5.1 0a2.55 2.55 0 1 0 -5.1 0M683.1 359.0a2.55 2.55 0 1 0 5.1 0a2.55 2.55 0 1 0 -5.1 0M710.1 369.9a2.55 2.55 0 1 0 5.1 0a2.55 2.55 0 1 0 -5.1 0M726.2 380.6a2.55 2.55 0 1 0 5.1 0a2.55 2.55 0 1 0 -5.1 0M714.6 423.6a2.55 2.55 0 1 0 5.1 0a2.55 2.55 0 1 0 -5.1 0M726.1 417.1a2.55 2.55 0 1 0 5.1 0a2.55 2.55 0 1 0 -5.1 0M721.1 433.3a2.55 2.55 0 1 0 5.1 0a2.55 2.55 0 1 0 -5.1 0M704.7 399.9a2.55 2.55 0 1 0 5.1 0a2.55 2.55 0 1 0 -5.1 0M717.2 421.1a2.55 2.55 0 1 0 5.1 0a2.55 2.55 0 1 0 -5.1 0M714.0 397.1a2.55 2.55 0 1 0 5.1 0a2.55 2.55 0 1 0 -5.1 0M721.1 377.1a2.55 2.55 0 1 0 5.1 0a2.55 2.55 0 1 0 -5.1 0M697.8 372.1a2.55 2.55 0 1 0 5.1 0a2.55 2.55 0 1 0 -5.1 0M703.1 383.0a2.55 2.55 0 1 0 5.1 0a2.55 2.55 0 1 0 -5.1 0M692.1 399.7a2.55 2.55 0 1 0 5.1 0a2.55 2.55 0 1 0 -5.1 0M718.8 394.3a2.55 2.55 0 1 0 5.1 0a2.55 2.55 0 1 0 -5.1 0M710.4 382.3a2.55 2.55 0 1 0 5.1 0a2.55 2.55 0 1 0 -5.1 0M705.5 391.9a2.55 2.55 0 1 0 5.1 0a2.55 2.55 0 1 0 -5.1 0M709.1 423.3a2.55 2.55 0 1 0 5.1 0a2.55 2.55 0 1 0 -5.1 0M707.5 377.6a2.55 2.55 0 1 0 5.1 0a2.55 2.55 0 1 0 -5.1 0M705.8 400.0a2.55 2.55 0 1 0 5.1 0a2.55 2.55 0 1 0 -5.1 0M730.0 407.3a2.55 2.55 0 1 0 5.1 0a2.55 2.55 0 1 0 -5.1 0M731.6 367.3a2.55 2.55 0 1 0 5.1 0a2.55 2.55 0 1 0 -5.1 0M710.9 401.2a2.55 2.55 0 1 0 5.1 0a2.55 2.55 0 1 0 -5.1 0M714.2 367.7a2.55 2.55 0 1 0 5.1 0a2.55 2.55 0 1 0 -5.1 0M712.1 372.5a2.55 2.55 0 1 0 5.1 0a2.55 2.55 0 1 0 -5.1 0M721.9 385.8a2.55 2.55 0 1 0 5.1 0a2.55 2.55 0 1 0 -5.1 0M710.9 376.0a2.55 2.55 0 1 0 5.1 0a2.55 2.55 0 1 0 -5.1 0M712.9 421.2a2.55 2.55 0 1 0 5.1 0a2.55 2.55 0 1 0 -5.1 0M707.6 350.7a2.55 2.55 0 1 0 5.1 0a2.55 2.55 0 1 0 -5.1 0M706.1 403.0a2.55 2.55 0 1 0 5.1 0a2.55 2.55 0 1 0 -5.1 0M708.1 403.2a2.55 2.55 0 1 0 5.1 0a2.55 2.55 0 1 0 -5.1 0M712.4 403.5a2.55 2.55 0 1 0 5.1 0a2.55 2.55 0 1 0 -5.1 0M725.7 365.4a2.55 2.55 0 1 0 5.1 0a2.55 2.55 0 1 0 -5.1 0M710.1 389.3a2.55 2.55 0 1 0 5.1 0a2.55 2.55 0 1 0 -5.1 0M728.9 378.3a2.55 2.55 0 1 0 5.1 0a2.55 2.55 0 1 0 -5.1 0M712.6 410.1a2.55 2.55 0 1 0 5.1 0a2.55 2.55 0 1 0 -5.1 0M706.5 414.2a2.55 2.55 0 1 0 5.1 0a2.55 2.55 0 1 0 -5.1 0M697.1 395.8a2.55 2.55 0 1 0 5.1 0a2.55 2.55 0 1 0 -5.1 0M693.3 349.1a2.55 2.55 0 1 0 5.1 0a2.55 2.55 0 1 0 -5.1 0M708.8 375.5a2.55 2.55 0 1 0 5.1 0a2.55 2.55 0 1 0 -5.1 0M704.3 379.4a2.55 2.55 0 1 0 5.1 0a2.55 2.55 0 1 0 -5.1 0M705.1 373.4a2.55 2.55 0 1 0 5.1 0a2.55 2.55 0 1 0 -5.1 0M710.5 364.6a2.55 2.55 0 1 0 5.1 0a2.55 2.55 0 1 0 -5.1 0M704.6 384.0a2.55 2.55 0 1 0 5.1 0a2.55 2.55 0 1 0 -5.1 0M741.4 430.5a2.55 2.55 0 1 0 5.1 0a2.55 2.55 0 1 0 -5.1 0M710.7 396.1a2.55 2.55 0 1 0 5.1 0a2.55 2.55 0 1 0 -5.1 0M723.1 413.0a2.55 2.55 0 1 0 5.1 0a2.55 2.55 0 1 0 -5.1 0M710.0 420.7a2.55 2.55 0 1 0 5.1 0a2.55 2.55 0 1 0 -5.1 0M729.8 419.3a2.55 2.55 0 1 0 5.1 0a2.55 2.55 0 1 0 -5.1 0M718.4 377.4a2.55 2.55 0 1 0 5.1 0a2.55 2.55 0 1 0 -5.1 0M715.0 338.6a2.55 2.55 0 1 0 5.1 0a2.55 2.55 0 1 0 -5.1 0M713.8 410.9a2.55 2.55 0 1 0 5.1 0a2.55 2.55 0 1 0 -5.1 0M714.4 398.4a2.55 2.55 0 1 0 5.1 0a2.55 2.55 0 1 0 -5.1 0M703.9 409.5a2.55 2.55 0 1 0 5.1 0a2.55 2.55 0 1 0 -5.1 0M711.7 358.0a2.55 2.55 0 1 0 5.1 0a2.55 2.55 0 1 0 -5.1 0M707.1 381.0a2.55 2.55 0 1 0 5.1 0a2.55 2.55 0 1 0 -5.1 0M711.8 404.9a2.55 2.55 0 1 0 5.1 0a2.55 2.55 0 1 0 -5.1 0M709.1 416.3a2.55 2.55 0 1 0 5.1 0a2.55 2.55 0 1 0 -5.1 0M703.0 383.1a2.55 2.55 0 1 0 5.1 0a2.55 2.55 0 1 0 -5.1 0M717.8 381.9a2.55 2.55 0 1 0 5.1 0a2.55 2.55 0 1 0 -5.1 0M709.1 408.6a2.55 2.55 0 1 0 5.1 0a2.55 2.55 0 1 0 -5.1 0M697.8 376.0a2.55 2.55 0 1 0 5.1 0a2.55 2.55 0 1 0 -5.1 0M716.2 370.0a2.55 2.55 0 1 0 5.1 0a2.55 2.55 0 1 0 -5.1 0M730.0 406.3a2.55 2.55 0 1 0 5.1 0a2.55 2.55 0 1 0 -5.1 0M712.2 385.7a2.55 2.55 0 1 0 5.1 0a2.55 2.55 0 1 0 -5.1 0M720.1 411.3a2.55 2.55 0 1 0 5.1 0a2.55 2.55 0 1 0 -5.1 0M701.5 422.4a2.55 2.55 0 1 0 5.1 0a2.55 2.55 0 1 0 -5.1 0M711.8 379.8a2.55 2.55 0 1 0 5.1 0a2.55 2.55 0 1 0 -5.1 0M694.1 361.7a2.55 2.55 0 1 0 5.1 0a2.55 2.55 0 1 0 -5.1 0M714.5 403.6a2.55 2.55 0 1 0 5.1 0a2.55 2.55 0 1 0 -5.1 0M707.8 366.4a2.55 2.55 0 1 0 5.1 0a2.55 2.55 0 1 0 -5.1 0M699.7 417.2a2.55 2.55 0 1 0 5.1 0a2.55 2.55 0 1 0 -5.1 0M724.5 411.9a2.55 2.55 0 1 0 5.1 0a2.55 2.55 0 1 0 -5.1 0M720.9 387.9a2.55 2.55 0 1 0 5.1 0a2.55 2.55 0 1 0 -5.1 0M716.6 383.1a2.55 2.55 0 1 0 5.1 0a2.55 2.55 0 1 0 -5.1 0M701.0 390.4a2.55 2.55 0 1 0 5.1 0a2.55 2.55 0 1 0 -5.1 0M703.0 384.4a2.55 2.55 0 1 0 5.1 0a2.55 2.55 0 1 0 -5.1 0M728.5 389.9a2.55 2.55 0 1 0 5.1 0a2.55 2.55 0 1 0 -5.1 0M733.1 404.5a2.55 2.55 0 1 0 5.1 0a2.55 2.55 0 1 0 -5.1 0M696.3 397.6a2.55 2.55 0 1 0 5.1 0a2.55 2.55 0 1 0 -5.1 0M707.8 397.7a2.55 2.55 0 1 0 5.1 0a2.55 2.55 0 1 0 -5.1 0M711.4 369.4a2.55 2.55 0 1 0 5.1 0a2.55 2.55 0 1 0 -5.1 0M709.9 401.9a2.55 2.55 0 1 0 5.1 0a2.55 2.55 0 1 0 -5.1 0M712.4 379.3a2.55 2.55 0 1 0 5.1 0a2.55 2.55 0 1 0 -5.1 0M710.4 435.8a2.55 2.55 0 1 0 5.1 0a2.55 2.55 0 1 0 -5.1 0M696.7 368.3a2.55 2.55 0 1 0 5.1 0a2.55 2.55 0 1 0 -5.1 0M711.2 391.9a2.55 2.55 0 1 0 5.1 0a2.55 2.55 0 1 0 -5.1 0M717.5 416.2a2.55 2.55 0 1 0 5.1 0a2.55 2.55 0 1 0 -5.1 0M709.7 390.6a2.55 2.55 0 1 0 5.1 0a2.55 2.55 0 1 0 -5.1 0M736.7 387.7a2.55 2.55 0 1 0 5.1 0a2.55 2.55 0 1 0 -5.1 0M719.8 408.4a2.55 2.55 0 1 0 5.1 0a2.55 2.55 0 1 0 -5.1 0M693.8 335.8a2.55 2.55 0 1 0 5.1 0a2.55 2.55 0 1 0 -5.1 0M719.5 393.4a2.55 2.55 0 1 0 5.1 0a2.55 2.55 0 1 0 -5.1 0M714.6 414.5a2.55 2.55 0 1 0 5.1 0a2.55 2.55 0 1 0 -5.1 0M699.7 377.6a2.55 2.55 0 1 0 5.1 0a2.55 2.55 0 1 0 -5.1 0M705.0 377.2a2.55 2.55 0 1 0 5.1 0a2.55 2.55 0 1 0 -5.1 0M713.5 399.0a2.55 2.55 0 1 0 5.1 0a2.55 2.55 0 1 0 -5.1 0M726.6 435.3a2.55 2.55 0 1 0 5.1 0a2.55 2.55 0 1 0 -5.1 0M706.8 376.4a2.55 2.55 0 1 0 5.1 0a2.55 2.55 0 1 0 -5.1 0M713.8 389.3a2.55 2.55 0 1 0 5.1 0a2.55 2.55 0 1 0 -5.1 0M696.5 381.6a2.55 2.55 0 1 0 5.1 0a2.55 2.55 0 1 0 -5.1 0M698.3 421.0a2.55 2.55 0 1 0 5.1 0a2.55 2.55 0 1 0 -5.1 0M701.6 366.2a2.55 2.55 0 1 0 5.1 0a2.55 2.55 0 1 0 -5.1 0M718.1 409.4a2.55 2.55 0 1 0 5.1 0a2.55 2.55 0 1 0 -5.1 0M695.7 432.2a2.55 2.55 0 1 0 5.1 0a2.55 2.55 0 1 0 -5.1 0M723.8 366.8a2.55 2.55 0 1 0 5.1 0a2.55 2.55 0 1 0 -5.1 0M703.5 411.1a2.55 2.55 0 1 0 5.1 0a2.55 2.55 0 1 0 -5.1 0M695.8 385.8a2.55 2.55 0 1 0 5.1 0a2.55 2.55 0 1 0 -5.1 0M714.5 362.5a2.55 2.55 0 1 0 5.1 0a2.55 2.55 0 1 0 -5.1 0M717.0 395.0a2.55 2.55 0 1 0 5.1 0a2.55 2.55 0 1 0 -5.1 0M722.0 372.0a2.55 2.55 0 1 0 5.1 0a2.55 2.55 0 1 0 -5.1 0M708.5 399.5a2.55 2.55 0 1 0 5.1 0a2.55 2.55 0 1 0 -5.1 0M722.6 384.0a2.55 2.55 0 1 0 5.1 0a2.55 2.55 0 1 0 -5.1 0M707.4 373.0a2.55 2.55 0 1 0 5.1 0a2.55 2.55 0 1 0 -5.1 0M703.4 384.1a2.55 2.55 0 1 0 5.1 0a2.55 2.55 0 1 0 -5.1 0M685.1 403.3a2.55 2.55 0 1 0 5.1 0a2.55 2.55 0 1 0 -5.1 0M711.8 393.3a2.55 2.55 0 1 0 5.1 0a2.55 2.55 0 1 0 -5.1 0M718.9 354.0a2.55 2.55 0 1 0 5.1 0a2.55 2.55 0 1 0 -5.1 0M723.9 399.0a2.55 2.55 0 1 0 5.1 0a2.55 2.55 0 1 0 -5.1 0M715.9 392.9a2.55 2.55 0 1 0 5.1 0a2.55 2.55 0 1 0 -5.1 0M725.2 410.8a2.55 2.55 0 1 0 5.1 0a2.55 2.55 0 1 0 -5.1 0M711.7 395.5a2.55 2.55 0 1 0 5.1 0a2.55 2.55 0 1 0 -5.1 0M719.4 363.6a2.55 2.55 0 1 0 5.1 0a2.55 2.55 0 1 0 -5.1 0M716.7 397.3a2.55 2.55 0 1 0 5.1 0a2.55 2.55 0 1 0 -5.1 0M702.0 403.4a2.55 2.55 0 1 0 5.1 0a2.55 2.55 0 1 0 -5.1 0M716.2 402.4a2.55 2.55 0 1 0 5.1 0a2.55 2.55 0 1 0 -5.1 0M709.0 352.2a2.55 2.55 0 1 0 5.1 0a2.55 2.55 0 1 0 -5.1 0M705.2 382.1a2.55 2.55 0 1 0 5.1 0a2.55 2.55 0 1 0 -5.1 0M718.1 381.5a2.55 2.55 0 1 0 5.1 0a2.55 2.55 0 1 0 -5.1 0M721.2 414.6a2.55 2.55 0 1 0 5.1 0a2.55 2.55 0 1 0 -5.1 0M708.4 388.9a2.55 2.55 0 1 0 5.1 0a2.55 2.55 0 1 0 -5.1 0M706.5 404.3a2.55 2.55 0 1 0 5.1 0a2.55 2.55 0 1 0 -5.1 0M712.6 379.1a2.55 2.55 0 1 0 5.1 0a2.55 2.55 0 1 0 -5.1 0M709.2 410.9a2.55 2.55 0 1 0 5.1 0a2.55 2.55 0 1 0 -5.1 0M724.2 420.7a2.55 2.55 0 1 0 5.1 0a2.55 2.55 0 1 0 -5.1 0M709.4 400.8a2.55 2.55 0 1 0 5.1 0a2.55 2.55 0 1 0 -5.1 0M717.8 410.0a2.55 2.55 0 1 0 5.1 0a2.55 2.55 0 1 0 -5.1 0M709.2 374.0a2.55 2.55 0 1 0 5.1 0a2.55 2.55 0 1 0 -5.1 0M710.9 412.8a2.55 2.55 0 1 0 5.1 0a2.55 2.55 0 1 0 -5.1 0M710.3 372.3a2.55 2.55 0 1 0 5.1 0a2.55 2.55 0 1 0 -5.1 0M699.7 415.4a2.55 2.55 0 1 0 5.1 0a2.55 2.55 0 1 0 -5.1 0M708.9 364.2a2.55 2.55 0 1 0 5.1 0a2.55 2.55 0 1 0 -5.1 0M706.3 409.8a2.55 2.55 0 1 0 5.1 0a2.55 2.55 0 1 0 -5.1 0M729.3 375.4a2.55 2.55 0 1 0 5.1 0a2.55 2.55 0 1 0 -5.1 0M718.2 383.6a2.55 2.55 0 1 0 5.1 0a2.55 2.55 0 1 0 -5.1 0M711.0 364.4a2.55 2.55 0 1 0 5.1 0a2.55 2.55 0 1 0 -5.1 0M718.4 360.2a2.55 2.55 0 1 0 5.1 0a2.55 2.55 0 1 0 -5.1 0M705.7 349.1a2.55 2.55 0 1 0 5.1 0a2.55 2.55 0 1 0 -5.1 0M711.3 393.6a2.55 2.55 0 1 0 5.1 0a2.55 2.55 0 1 0 -5.1 0M717.6 399.3a2.55 2.55 0 1 0 5.1 0a2.55 2.55 0 1 0 -5.1 0M709.6 407.1a2.55 2.55 0 1 0 5.1 0a2.55 2.55 0 1 0 -5.1 0M698.9 408.1a2.55 2.55 0 1 0 5.1 0a2.55 2.55 0 1 0 -5.1 0M704.5 379.2a2.55 2.55 0 1 0 5.1 0a2.55 2.55 0 1 0 -5.1 0M701.6 404.3a2.55 2.55 0 1 0 5.1 0a2.55 2.55 0 1 0 -5.1 0M711.6 390.1a2.55 2.55 0 1 0 5.1 0a2.55 2.55 0 1 0 -5.1 0M707.5 379.4a2.55 2.55 0 1 0 5.1 0a2.55 2.55 0 1 0 -5.1 0M704.8 398.8a2.55 2.55 0 1 0 5.1 0a2.55 2.55 0 1 0 -5.1 0M699.0 372.7a2.55 2.55 0 1 0 5.1 0a2.55 2.55 0 1 0 -5.1 0M707.2 409.9a2.55 2.55 0 1 0 5.1 0a2.55 2.55 0 1 0 -5.1 0M723.2 397.4a2.55 2.55 0 1 0 5.1 0a2.55 2.55 0 1 0 -5.1 0M715.8 401.0a2.55 2.55 0 1 0 5.1 0a2.55 2.55 0 1 0 -5.1 0M707.2 426.8a2.55 2.55 0 1 0 5.1 0a2.55 2.55 0 1 0 -5.1 0M699.1 374.3a2.55 2.55 0 1 0 5.1 0a2.55 2.55 0 1 0 -5.1 0M719.1 399.3a2.55 2.55 0 1 0 5.1 0a2.55 2.55 0 1 0 -5.1 0M709.4 387.5a2.55 2.55 0 1 0 5.1 0a2.55 2.55 0 1 0 -5.1 0M712.8 405.0a2.55 2.55 0 1 0 5.1 0a2.55 2.55 0 1 0 -5.1 0M720.2 378.0a2.55 2.55 0 1 0 5.1 0a2.55 2.55 0 1 0 -5.1 0M705.8 405.5a2.55 2.55 0 1 0 5.1 0a2.55 2.55 0 1 0 -5.1 0M731.1 395.0a2.55 2.55 0 1 0 5.1 0a2.55 2.55 0 1 0 -5.1 0M713.6 395.3a2.55 2.55 0 1 0 5.1 0a2.55 2.55 0 1 0 -5.1 0M699.2 392.8a2.55 2.55 0 1 0 5.1 0a2.55 2.55 0 1 0 -5.1 0M714.3 406.1a2.55 2.55 0 1 0 5.1 0a2.55 2.55 0 1 0 -5.1 0M717.4 403.3a2.55 2.55 0 1 0 5.1 0a2.55 2.55 0 1 0 -5.1 0M706.2 395.4a2.55 2.55 0 1 0 5.1 0a2.55 2.55 0 1 0 -5.1 0M694.0 382.6a2.55 2.55 0 1 0 5.1 0a2.55 2.55 0 1 0 -5.1 0M712.4 372.7a2.55 2.55 0 1 0 5.1 0a2.55 2.55 0 1 0 -5.1 0M706.9 397.0a2.55 2.55 0 1 0 5.1 0a2.55 2.55 0 1 0 -5.1 0M700.1 406.2a2.55 2.55 0 1 0 5.1 0a2.55 2.55 0 1 0 -5.1 0M705.4 362.5a2.55 2.55 0 1 0 5.1 0a2.55 2.55 0 1 0 -5.1 0M702.2 392.1a2.55 2.55 0 1 0 5.1 0a2.55 2.55 0 1 0 -5.1 0M716.6 348.9a2.55 2.55 0 1 0 5.1 0a2.55 2.55 0 1 0 -5.1 0M703.9 397.4a2.55 2.55 0 1 0 5.1 0a2.55 2.55 0 1 0 -5.1 0M711.3 402.3a2.55 2.55 0 1 0 5.1 0a2.55 2.55 0 1 0 -5.1 0M710.8 387.5a2.55 2.55 0 1 0 5.1 0a2.55 2.55 0 1 0 -5.1 0M714.2 409.8a2.55 2.55 0 1 0 5.1 0a2.55 2.55 0 1 0 -5.1 0M711.6 414.0a2.55 2.55 0 1 0 5.1 0a2.55 2.55 0 1 0 -5.1 0M720.4 373.5a2.55 2.55 0 1 0 5.1 0a2.55 2.55 0 1 0 -5.1 0M687.6 405.8a2.55 2.55 0 1 0 5.1 0a2.55 2.55 0 1 0 -5.1 0M720.2 393.5a2.55 2.55 0 1 0 5.1 0a2.55 2.55 0 1 0 -5.1 0M699.8 377.4a2.55 2.55 0 1 0 5.1 0a2.55 2.55 0 1 0 -5.1 0M713.8 392.2a2.55 2.55 0 1 0 5.1 0a2.55 2.55 0 1 0 -5.1 0M731.0 411.0a2.55 2.55 0 1 0 5.1 0a2.55 2.55 0 1 0 -5.1 0M708.1 408.0a2.55 2.55 0 1 0 5.1 0a2.55 2.55 0 1 0 -5.1 0M713.2 397.3a2.55 2.55 0 1 0 5.1 0a2.55 2.55 0 1 0 -5.1 0M721.2 401.0a2.55 2.55 0 1 0 5.1 0a2.55 2.55 0 1 0 -5.1 0M707.5 418.8a2.55 2.55 0 1 0 5.1 0a2.55 2.55 0 1 0 -5.1 0M713.4 387.8a2.55 2.55 0 1 0 5.1 0a2.55 2.55 0 1 0 -5.1 0M704.8 402.0a2.55 2.55 0 1 0 5.1 0a2.55 2.55 0 1 0 -5.1 0M717.9 396.3a2.55 2.55 0 1 0 5.1 0a2.55 2.55 0 1 0 -5.1 0M711.7 391.1a2.55 2.55 0 1 0 5.1 0a2.55 2.55 0 1 0 -5.1 0M710.0 352.3a2.55 2.55 0 1 0 5.1 0a2.55 2.55 0 1 0 -5.1 0M698.8 399.7a2.55 2.55 0 1 0 5.1 0a2.55 2.55 0 1 0 -5.1 0M714.4 409.1a2.55 2.55 0 1 0 5.1 0a2.55 2.55 0 1 0 -5.1 0M708.2 367.9a2.55 2.55 0 1 0 5.1 0a2.55 2.55 0 1 0 -5.1 0M725.1 403.4a2.55 2.55 0 1 0 5.1 0a2.55 2.55 0 1 0 -5.1 0M712.4 386.5a2.55 2.55 0 1 0 5.1 0a2.55 2.55 0 1 0 -5.1 0M707.4 364.7a2.55 2.55 0 1 0 5.1 0a2.55 2.55 0 1 0 -5.1 0M695.7 395.6a2.55 2.55 0 1 0 5.1 0a2.55 2.55 0 1 0 -5.1 0M730.5 424.8a2.55 2.55 0 1 0 5.1 0a2.55 2.55 0 1 0 -5.1 0M715.2 405.9a2.55 2.55 0 1 0 5.1 0a2.55 2.55 0 1 0 -5.1 0M712.2 413.1a2.55 2.55 0 1 0 5.1 0a2.55 2.55 0 1 0 -5.1 0M716.5 373.8a2.55 2.55 0 1 0 5.1 0a2.55 2.55 0 1 0 -5.1 0M698.8 391.0a2.55 2.55 0 1 0 5.1 0a2.55 2.55 0 1 0 -5.1 0M697.8 364.8a2.55 2.55 0 1 0 5.1 0a2.55 2.55 0 1 0 -5.1 0M704.5 402.3a2.55 2.55 0 1 0 5.1 0a2.55 2.55 0 1 0 -5.1 0M723.5 410.0a2.55 2.55 0 1 0 5.1 0a2.55 2.55 0 1 0 -5.1 0M712.3 385.5a2.55 2.55 0 1 0 5.1 0a2.55 2.55 0 1 0 -5.1 0M715.2 379.5a2.55 2.55 0 1 0 5.1 0a2.55 2.55 0 1 0 -5.1 0M715.5 403.9a2.55 2.55 0 1 0 5.1 0a2.55 2.55 0 1 0 -5.1 0M700.6 397.4a2.55 2.55 0 1 0 5.1 0a2.55 2.55 0 1 0 -5.1 0M722.5 376.4a2.55 2.55 0 1 0 5.1 0a2.55 2.55 0 1 0 -5.1 0M701.0 401.1a2.55 2.55 0 1 0 5.1 0a2.55 2.55 0 1 0 -5.1 0M710.9 392.9a2.55 2.55 0 1 0 5.1 0a2.55 2.55 0 1 0 -5.1 0M717.1 384.3a2.55 2.55 0 1 0 5.1 0a2.55 2.55 0 1 0 -5.1 0M714.1 407.9a2.55 2.55 0 1 0 5.1 0a2.55 2.55 0 1 0 -5.1 0M705.8 380.8a2.55 2.55 0 1 0 5.1 0a2.55 2.55 0 1 0 -5.1 0M715.1 375.4a2.55 2.55 0 1 0 5.1 0a2.55 2.55 0 1 0 -5.1 0M710.6 387.6a2.55 2.55 0 1 0 5.1 0a2.55 2.55 0 1 0 -5.1 0M717.2 370.7a2.55 2.55 0 1 0 5.1 0a2.55 2.55 0 1 0 -5.1 0M707.3 369.5a2.55 2.55 0 1 0 5.1 0a2.55 2.55 0 1 0 -5.1 0M700.5 399.3a2.55 2.55 0 1 0 5.1 0a2.55 2.55 0 1 0 -5.1 0M712.1 405.7a2.55 2.55 0 1 0 5.1 0a2.55 2.55 0 1 0 -5.1 0M720.5 346.3a2.55 2.55 0 1 0 5.1 0a2.55 2.55 0 1 0 -5.1 0M700.2 371.5a2.55 2.55 0 1 0 5.1 0a2.55 2.55 0 1 0 -5.1 0M730.6 369.3a2.55 2.55 0 1 0 5.1 0a2.55 2.55 0 1 0 -5.1 0M697.1 350.7a2.55 2.55 0 1 0 5.1 0a2.55 2.55 0 1 0 -5.1 0M708.3 418.6a2.55 2.55 0 1 0 5.1 0a2.55 2.55 0 1 0 -5.1 0M705.6 370.8a2.55 2.55 0 1 0 5.1 0a2.55 2.55 0 1 0 -5.1 0M706.3 371.0a2.55 2.55 0 1 0 5.1 0a2.55 2.55 0 1 0 -5.1 0M734.2 381.5a2.55 2.55 0 1 0 5.1 0a2.55 2.55 0 1 0 -5.1 0M692.3 381.6a2.55 2.55 0 1 0 5.1 0a2.55 2.55 0 1 0 -5.1 0M701.0 420.8a2.55 2.55 0 1 0 5.1 0a2.55 2.55 0 1 0 -5.1 0M716.0 410.3a2.55 2.55 0 1 0 5.1 0a2.55 2.55 0 1 0 -5.1 0M700.8 407.5a2.55 2.55 0 1 0 5.1 0a2.55 2.55 0 1 0 -5.1 0M714.2 420.2a2.55 2.55 0 1 0 5.1 0a2.55 2.55 0 1 0 -5.1 0M708.3 370.2a2.55 2.55 0 1 0 5.1 0a2.55 2.55 0 1 0 -5.1 0M712.9 423.7a2.55 2.55 0 1 0 5.1 0a2.55 2.55 0 1 0 -5.1 0M715.8 368.7a2.55 2.55 0 1 0 5.1 0a2.55 2.55 0 1 0 -5.1 0M713.8 388.4a2.55 2.55 0 1 0 5.1 0a2.55 2.55 0 1 0 -5.1 0M718.0 402.3a2.55 2.55 0 1 0 5.1 0a2.55 2.55 0 1 0 -5.1 0M712.9 376.4a2.55 2.55 0 1 0 5.1 0a2.55 2.55 0 1 0 -5.1 0M701.1 375.3a2.55 2.55 0 1 0 5.1 0a2.55 2.55 0 1 0 -5.1 0M706.5 413.4a2.55 2.55 0 1 0 5.1 0a2.55 2.55 0 1 0 -5.1 0M697.9 390.4a2.55 2.55 0 1 0 5.1 0a2.55 2.55 0 1 0 -5.1 0M719.2 380.2a2.55 2.55 0 1 0 5.1 0a2.55 2.55 0 1 0 -5.1 0M711.1 412.9a2.55 2.55 0 1 0 5.1 0a2.55 2.55 0 1 0 -5.1 0M713.4 413.5a2.55 2.55 0 1 0 5.1 0a2.55 2.55 0 1 0 -5.1 0M710.9 398.9a2.55 2.55 0 1 0 5.1 0a2.55 2.55 0 1 0 -5.1 0M708.2 389.2a2.55 2.55 0 1 0 5.1 0a2.55 2.55 0 1 0 -5.1 0M700.2 384.1a2.55 2.55 0 1 0 5.1 0a2.55 2.55 0 1 0 -5.1 0M706.6 396.5a2.55 2.55 0 1 0 5.1 0a2.55 2.55 0 1 0 -5.1 0M712.8 378.6a2.55 2.55 0 1 0 5.1 0a2.55 2.55 0 1 0 -5.1 0M702.9 403.7a2.55 2.55 0 1 0 5.1 0a2.55 2.55 0 1 0 -5.1 0M702.1 401.9a2.55 2.55 0 1 0 5.1 0a2.55 2.55 0 1 0 -5.1 0M711.6 382.6a2.55 2.55 0 1 0 5.1 0a2.55 2.55 0 1 0 -5.1 0M705.5 404.9a2.55 2.55 0 1 0 5.1 0a2.55 2.55 0 1 0 -5.1 0M703.5 354.1a2.55 2.55 0 1 0 5.1 0a2.55 2.55 0 1 0 -5.1 0M702.0 401.7a2.55 2.55 0 1 0 5.1 0a2.55 2.55 0 1 0 -5.1 0M709.9 413.6a2.55 2.55 0 1 0 5.1 0a2.55 2.55 0 1 0 -5.1 0M716.1 419.2a2.55 2.55 0 1 0 5.1 0a2.55 2.55 0 1 0 -5.1 0M692.5 397.9a2.55 2.55 0 1 0 5.1 0a2.55 2.55 0 1 0 -5.1 0M708.7 390.7a2.55 2.55 0 1 0 5.1 0a2.55 2.55 0 1 0 -5.1 0M711.9 370.5a2.55 2.55 0 1 0 5.1 0a2.55 2.55 0 1 0 -5.1 0M709.5 380.1a2.55 2.55 0 1 0 5.1 0a2.55 2.55 0 1 0 -5.1 0M719.8 382.4a2.55 2.55 0 1 0 5.1 0a2.55 2.55 0 1 0 -5.1 0M701.5 375.3a2.55 2.55 0 1 0 5.1 0a2.55 2.55 0 1 0 -5.1 0M707.2 367.3a2.55 2.55 0 1 0 5.1 0a2.55 2.55 0 1 0 -5.1 0M722.8 394.8a2.55 2.55 0 1 0 5.1 0a2.55 2.55 0 1 0 -5.1 0M726.9 361.2a2.55 2.55 0 1 0 5.1 0a2.55 2.55 0 1 0 -5.1 0M705.1 374.6a2.55 2.55 0 1 0 5.1 0a2.55 2.55 0 1 0 -5.1 0M711.7 358.9a2.55 2.55 0 1 0 5.1 0a2.55 2.55 0 1 0 -5.1 0M721.1 392.3a2.55 2.55 0 1 0 5.1 0a2.55 2.55 0 1 0 -5.1 0M700.7 387.7a2.55 2.55 0 1 0 5.1 0a2.55 2.55 0 1 0 -5.1 0M707.2 401.8a2.55 2.55 0 1 0 5.1 0a2.55 2.55 0 1 0 -5.1 0M711.7 376.0a2.55 2.55 0 1 0 5.1 0a2.55 2.55 0 1 0 -5.1 0M712.1 393.4a2.55 2.55 0 1 0 5.1 0a2.55 2.55 0 1 0 -5.1 0M710.0 388.9a2.55 2.55 0 1 0 5.1 0a2.55 2.55 0 1 0 -5.1 0M709.9 365.2a2.55 2.55 0 1 0 5.1 0a2.55 2.55 0 1 0 -5.1 0M707.9 340.6a2.55 2.55 0 1 0 5.1 0a2.55 2.55 0 1 0 -5.1 0M703.5 352.7a2.55 2.55 0 1 0 5.1 0a2.55 2.55 0 1 0 -5.1 0M705.5 363.1a2.55 2.55 0 1 0 5.1 0a2.55 2.55 0 1 0 -5.1 0M705.9 376.8a2.55 2.55 0 1 0 5.1 0a2.55 2.55 0 1 0 -5.1 0M712.5 377.4a2.55 2.55 0 1 0 5.1 0a2.55 2.55 0 1 0 -5.1 0M708.5 358.5a2.55 2.55 0 1 0 5.1 0a2.55 2.55 0 1 0 -5.1 0M707.5 344.2a2.55 2.55 0 1 0 5.1 0a2.55 2.55 0 1 0 -5.1 0M711.9 357.8a2.55 2.55 0 1 0 5.1 0a2.55 2.55 0 1 0 -5.1 0M699.4 340.6a2.55 2.55 0 1 0 5.1 0a2.55 2.55 0 1 0 -5.1 0M710.9 334.6a2.55 2.55 0 1 0 5.1 0a2.55 2.55 0 1 0 -5.1 0M712.5 362.4a2.55 2.55 0 1 0 5.1 0a2.55 2.55 0 1 0 -5.1 0M708.1 353.8a2.55 2.55 0 1 0 5.1 0a2.55 2.55 0 1 0 -5.1 0M723.8 360.3a2.55 2.55 0 1 0 5.1 0a2.55 2.55 0 1 0 -5.1 0M709.7 343.7a2.55 2.55 0 1 0 5.1 0a2.55 2.55 0 1 0 -5.1 0M704.0 364.4a2.55 2.55 0 1 0 5.1 0a2.55 2.55 0 1 0 -5.1 0M708.7 367.7a2.55 2.55 0 1 0 5.1 0a2.55 2.55 0 1 0 -5.1 0M719.4 380.5a2.55 2.55 0 1 0 5.1 0a2.55 2.55 0 1 0 -5.1 0M709.0 349.1a2.55 2.55 0 1 0 5.1 0a2.55 2.55 0 1 0 -5.1 0M707.3 353.5a2.55 2.55 0 1 0 5.1 0a2.55 2.55 0 1 0 -5.1 0M717.6 360.4a2.55 2.55 0 1 0 5.1 0a2.55 2.55 0 1 0 -5.1 0M708.5 365.3a2.55 2.55 0 1 0 5.1 0a2.55 2.55 0 1 0 -5.1 0M693.6 375.4a2.55 2.55 0 1 0 5.1 0a2.55 2.55 0 1 0 -5.1 0M719.7 354.9a2.55 2.55 0 1 0 5.1 0a2.55 2.55 0 1 0 -5.1 0M698.4 352.7a2.55 2.55 0 1 0 5.1 0a2.55 2.55 0 1 0 -5.1 0M704.9 377.1a2.55 2.55 0 1 0 5.1 0a2.55 2.55 0 1 0 -5.1 0M709.9 350.6a2.55 2.55 0 1 0 5.1 0a2.55 2.55 0 1 0 -5.1 0M710.1 348.4a2.55 2.55 0 1 0 5.1 0a2.55 2.55 0 1 0 -5.1 0M709.7 366.7a2.55 2.55 0 1 0 5.1 0a2.55 2.55 0 1 0 -5.1 0M707.1 360.9a2.55 2.55 0 1 0 5.1 0a2.55 2.55 0 1 0 -5.1 0M716.5 351.8a2.55 2.55 0 1 0 5.1 0a2.55 2.55 0 1 0 -5.1 0M708.7 356.2a2.55 2.55 0 1 0 5.1 0a2.55 2.55 0 1 0 -5.1 0M715.6 366.3a2.55 2.55 0 1 0 5.1 0a2.55 2.55 0 1 0 -5.1 0M700.9 345.6a2.55 2.55 0 1 0 5.1 0a2.55 2.55 0 1 0 -5.1 0M707.9 363.8a2.55 2.55 0 1 0 5.1 0a2.55 2.55 0 1 0 -5.1 0M699.1 377.6a2.55 2.55 0 1 0 5.1 0a2.55 2.55 0 1 0 -5.1 0M711.1 356.7a2.55 2.55 0 1 0 5.1 0a2.55 2.55 0 1 0 -5.1 0M706.8 347.2a2.55 2.55 0 1 0 5.1 0a2.55 2.55 0 1 0 -5.1 0M717.4 357.5a2.55 2.55 0 1 0 5.1 0a2.55 2.55 0 1 0 -5.1 0M700.3 355.5a2.55 2.55 0 1 0 5.1 0a2.55 2.55 0 1 0 -5.1 0M702.9 362.0a2.55 2.55 0 1 0 5.1 0a2.55 2.55 0 1 0 -5.1 0M713.5 352.2a2.55 2.55 0 1 0 5.1 0a2.55 2.55 0 1 0 -5.1 0M706.8 363.6a2.55 2.55 0 1 0 5.1 0a2.55 2.55 0 1 0 -5.1 0M699.5 369.0a2.55 2.55 0 1 0 5.1 0a2.55 2.55 0 1 0 -5.1 0M714.6 364.2a2.55 2.55 0 1 0 5.1 0a2.55 2.55 0 1 0 -5.1 0M706.5 356.0a2.55 2.55 0 1 0 5.1 0a2.55 2.55 0 1 0 -5.1 0M703.6 367.9a2.55 2.55 0 1 0 5.1 0a2.55 2.55 0 1 0 -5.1 0M695.7 372.4a2.55 2.55 0 1 0 5.1 0a2.55 2.55 0 1 0 -5.1 0M718.9 348.8a2.55 2.55 0 1 0 5.1 0a2.55 2.55 0 1 0 -5.1 0M710.0 362.7a2.55 2.55 0 1 0 5.1 0a2.55 2.55 0 1 0 -5.1 0M714.7 373.3a2.55 2.55 0 1 0 5.1 0a2.55 2.55 0 1 0 -5.1 0M718.0 360.0a2.55 2.55 0 1 0 5.1 0a2.55 2.55 0 1 0 -5.1 0M716.3 350.9a2.55 2.55 0 1 0 5.1 0a2.55 2.55 0 1 0 -5.1 0M716.1 370.3a2.55 2.55 0 1 0 5.1 0a2.55 2.55 0 1 0 -5.1 0M713.0 350.1a2.55 2.55 0 1 0 5.1 0a2.55 2.55 0 1 0 -5.1 0M701.0 350.8a2.55 2.55 0 1 0 5.1 0a2.55 2.55 0 1 0 -5.1 0M713.2 361.1a2.55 2.55 0 1 0 5.1 0a2.55 2.55 0 1 0 -5.1 0M703.8 364.4a2.55 2.55 0 1 0 5.1 0a2.55 2.55 0 1 0 -5.1 0M692.9 358.6a2.55 2.55 0 1 0 5.1 0a2.55 2.55 0 1 0 -5.1 0M704.6 367.5a2.55 2.55 0 1 0 5.1 0a2.55 2.55 0 1 0 -5.1 0M705.2 355.4a2.55 2.55 0 1 0 5.1 0a2.55 2.55 0 1 0 -5.1 0M753.6 409.3a2.55 2.55 0 1 0 5.1 0a2.55 2.55 0 1 0 -5.1 0M750.8 382.2a2.55 2.55 0 1 0 5.1 0a2.55 2.55 0 1 0 -5.1 0M766.0 419.4a2.55 2.55 0 1 0 5.1 0a2.55 2.55 0 1 0 -5.1 0M744.2 397.4a2.55 2.55 0 1 0 5.1 0a2.55 2.55 0 1 0 -5.1 0M747.5 419.4a2.55 2.55 0 1 0 5.1 0a2.55 2.55 0 1 0 -5.1 0M754.6 394.1a2.55 2.55 0 1 0 5.1 0a2.55 2.55 0 1 0 -5.1 0M765.6 381.3a2.55 2.55 0 1 0 5.1 0a2.55 2.55 0 1 0 -5.1 0M758.4 383.5a2.55 2.55 0 1 0 5.1 0a2.55 2.55 0 1 0 -5.1 0M753.3 406.0a2.55 2.55 0 1 0 5.1 0a2.55 2.55 0 1 0 -5.1 0M766.1 416.1a2.55 2.55 0 1 0 5.1 0a2.55 2.55 0 1 0 -5.1 0M740.9 388.2a2.55 2.55 0 1 0 5.1 0a2.55 2.55 0 1 0 -5.1 0M755.8 401.6a2.55 2.55 0 1 0 5.1 0a2.55 2.55 0 1 0 -5.1 0M755.0 402.6a2.55 2.55 0 1 0 5.1 0a2.55 2.55 0 1 0 -5.1 0M761.3 404.5a2.55 2.55 0 1 0 5.1 0a2.55 2.55 0 1 0 -5.1 0M759.4 380.5a2.55 2.55 0 1 0 5.1 0a2.55 2.55 0 1 0 -5.1 0M746.0 388.0a2.55 2.55 0 1 0 5.1 0a2.55 2.55 0 1 0 -5.1 0M764.7 383.0a2.55 2.55 0 1 0 5.1 0a2.55 2.55 0 1 0 -5.1 0M762.6 413.7a2.55 2.55 0 1 0 5.1 0a2.55 2.55 0 1 0 -5.1 0M752.3 412.4a2.55 2.55 0 1 0 5.1 0a2.55 2.55 0 1 0 -5.1 0M752.0 407.3a2.55 2.55 0 1 0 5.1 0a2.55 2.55 0 1 0 -5.1 0M754.6 395.5a2.55 2.55 0 1 0 5.1 0a2.55 2.55 0 1 0 -5.1 0M759.2 404.3a2.55 2.55 0 1 0 5.1 0a2.55 2.55 0 1 0 -5.1 0M746.2 396.2a2.55 2.55 0 1 0 5.1 0a2.55 2.55 0 1 0 -5.1 0M744.8 407.7a2.55 2.55 0 1 0 5.1 0a2.55 2.55 0 1 0 -5.1 0M749.3 428.9a2.55 2.55 0 1 0 5.1 0a2.55 2.55 0 1 0 -5.1 0M742.1 387.4a2.55 2.55 0 1 0 5.1 0a2.55 2.55 0 1 0 -5.1 0M742.8 389.1a2.55 2.55 0 1 0 5.1 0a2.55 2.55 0 1 0 -5.1 0M745.6 369.3a2.55 2.55 0 1 0 5.1 0a2.55 2.55 0 1 0 -5.1 0M754.0 403.9a2.55 2.55 0 1 0 5.1 0a2.55 2.55 0 1 0 -5.1 0M762.2 409.0a2.55 2.55 0 1 0 5.1 0a2.55 2.55 0 1 0 -5.1 0M766.0 409.9a2.55 2.55 0 1 0 5.1 0a2.55 2.55 0 1 0 -5.1 0M769.3 391.4a2.55 2.55 0 1 0 5.1 0a2.55 2.55 0 1 0 -5.1 0M759.0 403.4a2.55 2.55 0 1 0 5.1 0a2.55 2.55 0 1 0 -5.1 0M750.3 402.4a2.55 2.55 0 1 0 5.1 0a2.55 2.55 0 1 0 -5.1 0M760.2 414.3a2.55 2.55 0 1 0 5.1 0a2.55 2.55 0 1 0 -5.1 0M758.0 402.3a2.55 2.55 0 1 0 5.1 0a2.55 2.55 0 1 0 -5.1 0M749.2 396.0a2.55 2.55 0 1 0 5.1 0a2.55 2.55 0 1 0 -5.1 0M768.6 399.1a2.55 2.55 0 1 0 5.1 0a2.55 2.55 0 1 0 -5.1 0M745.1 402.5a2.55 2.55 0 1 0 5.1 0a2.55 2.55 0 1 0 -5.1 0M758.4 418.2a2.55 2.55 0 1 0 5.1 0a2.55 2.55 0 1 0 -5.1 0M751.2 422.7a2.55 2.55 0 1 0 5.1 0a2.55 2.55 0 1 0 -5.1 0M740.3 429.1a2.55 2.55 0 1 0 5.1 0a2.55 2.55 0 1 0 -5.1 0M755.5 400.7a2.55 2.55 0 1 0 5.1 0a2.55 2.55 0 1 0 -5.1 0M764.6 387.2a2.55 2.55 0 1 0 5.1 0a2.55 2.55 0 1 0 -5.1 0M763.1 397.7a2.55 2.55 0 1 0 5.1 0a2.55 2.55 0 1 0 -5.1 0M759.7 409.5a2.55 2.55 0 1 0 5.1 0a2.55 2.55 0 1 0 -5.1 0M751.5 406.9a2.55 2.55 0 1 0 5.1 0a2.55 2.55 0 1 0 -5.1 0M763.9 379.1a2.55 2.55 0 1 0 5.1 0a2.55 2.55 0 1 0 -5.1 0M765.3 412.3a2.55 2.55 0 1 0 5.1 0a2.55 2.55 0 1 0 -5.1 0M760.2 405.5a2.55 2.55 0 1 0 5.1 0a2.55 2.55 0 1 0 -5.1 0M746.5 390.6a2.55 2.55 0 1 0 5.1 0a2.55 2.55 0 1 0 -5.1 0M747.0 422.5a2.55 2.55 0 1 0 5.1 0a2.55 2.55 0 1 0 -5.1 0M762.3 406.8a2.55 2.55 0 1 0 5.1 0a2.55 2.55 0 1 0 -5.1 0M744.4 399.6a2.55 2.55 0 1 0 5.1 0a2.55 2.55 0 1 0 -5.1 0M754.9 389.9a2.55 2.55 0 1 0 5.1 0a2.55 2.55 0 1 0 -5.1 0M755.2 403.3a2.55 2.55 0 1 0 5.1 0a2.55 2.55 0 1 0 -5.1 0M751.4 406.2a2.55 2.55 0 1 0 5.1 0a2.55 2.55 0 1 0 -5.1 0M754.1 415.8a2.55 2.55 0 1 0 5.1 0a2.55 2.55 0 1 0 -5.1 0M752.3 423.0a2.55 2.55 0 1 0 5.1 0a2.55 2.55 0 1 0 -5.1 0M764.8 388.5a2.55 2.55 0 1 0 5.1 0a2.55 2.55 0 1 0 -5.1 0M755.2 412.9a2.55 2.55 0 1 0 5.1 0a2.55 2.55 0 1 0 -5.1 0M762.7 386.0a2.55 2.55 0 1 0 5.1 0a2.55 2.55 0 1 0 -5.1 0M748.3 381.2a2.55 2.55 0 1 0 5.1 0a2.55 2.55 0 1 0 -5.1 0M760.2 410.5a2.55 2.55 0 1 0 5.1 0a2.55 2.55 0 1 0 -5.1 0M743.9 409.5a2.55 2.55 0 1 0 5.1 0a2.55 2.55 0 1 0 -5.1 0M753.1 398.4a2.55 2.55 0 1 0 5.1 0a2.55 2.55 0 1 0 -5.1 0M743.3 379.3a2.55 2.55 0 1 0 5.1 0a2.55 2.55 0 1 0 -5.1 0M745.8 402.0a2.55 2.55 0 1 0 5.1 0a2.55 2.55 0 1 0 -5.1 0M753.3 377.7a2.55 2.55 0 1 0 5.1 0a2.55 2.55 0 1 0 -5.1 0M761.4 379.2a2.55 2.55 0 1 0 5.1 0a2.55 2.55 0 1 0 -5.1 0M746.5 407.0a2.55 2.55 0 1 0 5.1 0a2.55 2.55 0 1 0 -5.1 0M754.3 411.7a2.55 2.55 0 1 0 5.1 0a2.55 2.55 0 1 0 -5.1 0M777.1 407.7a2.55 2.55 0 1 0 5.1 0a2.55 2.55 0 1 0 -5.1 0M772.2 371.8a2.55 2.55 0 1 0 5.1 0a2.55 2.55 0 1 0 -5.1 0M760.8 383.3a2.55 2.55 0 1 0 5.1 0a2.55 2.55 0 1 0 -5.1 0M747.6 408.7a2.55 2.55 0 1 0 5.1 0a2.55 2.55 0 1 0 -5.1 0M746.4 395.5a2.55 2.55 0 1 0 5.1 0a2.55 2.55 0 1 0 -5.1 0M750.3 395.1a2.55 2.55 0 1 0 5.1 0a2.55 2.55 0 1 0 -5.1 0M749.1 383.0a2.55 2.55 0 1 0 5.1 0a2.55 2.55 0 1 0 -5.1 0M766.4 379.8a2.55 2.55 0 1 0 5.1 0a2.55 2.55 0 1 0 -5.1 0M792.5 383.3a2.55 2.55 0 1 0 5.1 0a2.55 2.55 0 1 0 -5.1 0M786.0 411.4a2.55 2.55 0 1 0 5.1 0a2.55 2.55 0 1 0 -5.1 0M800.0 396.5a2.55 2.55 0 1 0 5.1 0a2.55 2.55 0 1 0 -5.1 0M786.7 360.7a2.55 2.55 0 1 0 5.1 0a2.55 2.55 0 1 0 -5.1 0M786.5 354.0a2.55 2.55 0 1 0 5.1 0a2.55 2.55 0 1 0 -5.1 0M782.9 388.9a2.55 2.55 0 1 0 5.1 0a2.55 2.55 0 1 0 -5.1 0M798.0 366.5a2.55 2.55 0 1 0 5.1 0a2.55 2.55 0 1 0 -5.1 0M797.7 386.2a2.55 2.55 0 1 0 5.1 0a2.55 2.55 0 1 0 -5.1 0M794.7 366.3a2.55 2.55 0 1 0 5.1 0a2.55 2.55 0 1 0 -5.1 0M801.7 353.5a2.55 2.55 0 1 0 5.1 0a2.55 2.55 0 1 0 -5.1 0M789.9 386.5a2.55 2.55 0 1 0 5.1 0a2.55 2.55 0 1 0 -5.1 0M793.4 379.5a2.55 2.55 0 1 0 5.1 0a2.55 2.55 0 1 0 -5.1 0M795.9 380.5a2.55 2.55 0 1 0 5.1 0a2.55 2.55 0 1 0 -5.1 0M793.7 346.9a2.55 2.55 0 1 0 5.1 0a2.55 2.55 0 1 0 -5.1 0M784.5 376.2a2.55 2.55 0 1 0 5.1 0a2.55 2.55 0 1 0 -5.1 0M787.4 340.9a2.55 2.55 0 1 0 5.1 0a2.55 2.55 0 1 0 -5.1 0M791.0 379.1a2.55 2.55 0 1 0 5.1 0a2.55 2.55 0 1 0 -5.1 0M799.7 388.2a2.55 2.55 0 1 0 5.1 0a2.55 2.55 0 1 0 -5.1 0M785.5 368.6a2.55 2.55 0 1 0 5.1 0a2.55 2.55 0 1 0 -5.1 0M792.0 388.0a2.55 2.55 0 1 0 5.1 0a2.55 2.55 0 1 0 -5.1 0M792.4 414.3a2.55 2.55 0 1 0 5.1 0a2.55 2.55 0 1 0 -5.1 0M790.4 401.0a2.55 2.55 0 1 0 5.1 0a2.55 2.55 0 1 0 -5.1 0M798.7 363.5a2.55 2.55 0 1 0 5.1 0a2.55 2.55 0 1 0 -5.1 0M786.4 343.6a2.55 2.55 0 1 0 5.1 0a2.55 2.55 0 1 0 -5.1 0M805.1 369.6a2.55 2.55 0 1 0 5.1 0a2.55 2.55 0 1 0 -5.1 0M788.6 423.4a2.55 2.55 0 1 0 5.1 0a2.55 2.55 0 1 0 -5.1 0M797.2 369.9a2.55 2.55 0 1 0 5.1 0a2.55 2.55 0 1 0 -5.1 0M790.4 376.1a2.55 2.55 0 1 0 5.1 0a2.55 2.55 0 1 0 -5.1 0M783.6 353.5a2.55 2.55 0 1 0 5.1 0a2.55 2.55 0 1 0 -5.1 0M796.5 374.5a2.55 2.55 0 1 0 5.1 0a2.55 2.55 0 1 0 -5.1 0M787.7 396.2a2.55 2.55 0 1 0 5.1 0a2.55 2.55 0 1 0 -5.1 0M789.2 349.2a2.55 2.55 0 1 0 5.1 0a2.55 2.55 0 1 0 -5.1 0M786.0 386.8a2.55 2.55 0 1 0 5.1 0a2.55 2.55 0 1 0 -5.1 0M790.1 364.6a2.55 2.55 0 1 0 5.1 0a2.55 2.55 0 1 0 -5.1 0M787.1 367.9a2.55 2.55 0 1 0 5.1 0a2.55 2.55 0 1 0 -5.1 0M808.8 385.2a2.55 2.55 0 1 0 5.1 0a2.55 2.55 0 1 0 -5.1 0M791.1 360.9a2.55 2.55 0 1 0 5.1 0a2.55 2.55 0 1 0 -5.1 0M793.5 364.6a2.55 2.55 0 1 0 5.1 0a2.55 2.55 0 1 0 -5.1 0M799.7 389.7a2.55 2.55 0 1 0 5.1 0a2.55 2.55 0 1 0 -5.1 0M792.6 395.5a2.55 2.55 0 1 0 5.1 0a2.55 2.55 0 1 0 -5.1 0M792.0 418.9a2.55 2.55 0 1 0 5.1 0a2.55 2.55 0 1 0 -5.1 0M782.4 367.2a2.55 2.55 0 1 0 5.1 0a2.55 2.55 0 1 0 -5.1 0M791.3 399.4a2.55 2.55 0 1 0 5.1 0a2.55 2.55 0 1 0 -5.1 0M781.2 383.4a2.55 2.55 0 1 0 5.1 0a2.55 2.55 0 1 0 -5.1 0M797.0 377.5a2.55 2.55 0 1 0 5.1 0a2.55 2.55 0 1 0 -5.1 0M798.0 367.1a2.55 2.55 0 1 0 5.1 0a2.55 2.55 0 1 0 -5.1 0M784.5 422.8a2.55 2.55 0 1 0 5.1 0a2.55 2.55 0 1 0 -5.1 0M804.3 348.6a2.55 2.55 0 1 0 5.1 0a2.55 2.55 0 1 0 -5.1 0M792.9 408.7a2.55 2.55 0 1 0 5.1 0a2.55 2.55 0 1 0 -5.1 0M794.4 370.0a2.55 2.55 0 1 0 5.1 0a2.55 2.55 0 1 0 -5.1 0M804.4 402.7a2.55 2.55 0 1 0 5.1 0a2.55 2.55 0 1 0 -5.1 0M799.1 372.7a2.55 2.55 0 1 0 5.1 0a2.55 2.55 0 1 0 -5.1 0M795.4 367.0a2.55 2.55 0 1 0 5.1 0a2.55 2.55 0 1 0 -5.1 0M788.8 383.1a2.55 2.55 0 1 0 5.1 0a2.55 2.55 0 1 0 -5.1 0M795.4 397.0a2.55 2.55 0 1 0 5.1 0a2.55 2.55 0 1 0 -5.1 0M790.8 369.5a2.55 2.55 0 1 0 5.1 0a2.55 2.55 0 1 0 -5.1 0M790.3 375.1a2.55 2.55 0 1 0 5.1 0a2.55 2.55 0 1 0 -5.1 0M797.1 394.3a2.55 2.55 0 1 0 5.1 0a2.55 2.55 0 1 0 -5.1 0M793.9 374.9a2.55 2.55 0 1 0 5.1 0a2.55 2.55 0 1 0 -5.1 0M788.4 360.5a2.55 2.55 0 1 0 5.1 0a2.55 2.55 0 1 0 -5.1 0M785.1 378.5a2.55 2.55 0 1 0 5.1 0a2.55 2.55 0 1 0 -5.1 0M787.0 346.5a2.55 2.55 0 1 0 5.1 0a2.55 2.55 0 1 0 -5.1 0M793.9 361.9a2.55 2.55 0 1 0 5.1 0a2.55 2.55 0 1 0 -5.1 0M792.1 385.8a2.55 2.55 0 1 0 5.1 0a2.55 2.55 0 1 0 -5.1 0M795.6 405.1a2.55 2.55 0 1 0 5.1 0a2.55 2.55 0 1 0 -5.1 0M779.8 374.3a2.55 2.55 0 1 0 5.1 0a2.55 2.55 0 1 0 -5.1 0M780.5 374.9a2.55 2.55 0 1 0 5.1 0a2.55 2.55 0 1 0 -5.1 0M790.9 400.3a2.55 2.55 0 1 0 5.1 0a2.55 2.55 0 1 0 -5.1 0M797.5 400.8a2.55 2.55 0 1 0 5.1 0a2.55 2.55 0 1 0 -5.1 0M780.0 371.2a2.55 2.55 0 1 0 5.1 0a2.55 2.55 0 1 0 -5.1 0M794.2 382.3a2.55 2.55 0 1 0 5.1 0a2.55 2.55 0 1 0 -5.1 0M789.7 344.1a2.55 2.55 0 1 0 5.1 0a2.55 2.55 0 1 0 -5.1 0M804.2 408.3a2.55 2.55 0 1 0 5.1 0a2.55 2.55 0 1 0 -5.1 0M789.3 386.5a2.55 2.55 0 1 0 5.1 0a2.55 2.55 0 1 0 -5.1 0M790.5 434.9a2.55 2.55 0 1 0 5.1 0a2.55 2.55 0 1 0 -5.1 0M792.4 393.9a2.55 2.55 0 1 0 5.1 0a2.55 2.55 0 1 0 -5.1 0M789.9 389.9a2.55 2.55 0 1 0 5.1 0a2.55 2.55 0 1 0 -5.1 0M795.8 358.6a2.55 2.55 0 1 0 5.1 0a2.55 2.55 0 1 0 -5.1 0M800.7 385.9a2.55 2.55 0 1 0 5.1 0a2.55 2.55 0 1 0 -5.1 0M792.4 388.8a2.55 2.55 0 1 0 5.1 0a2.55 2.55 0 1 0 -5.1 0M794.0 376.0a2.55 2.55 0 1 0 5.1 0a2.55 2.55 0 1 0 -5.1 0M783.6 369.8a2.55 2.55 0 1 0 5.1 0a2.55 2.55 0 1 0 -5.1 0M777.7 365.5a2.55 2.55 0 1 0 5.1 0a2.55 2.55 0 1 0 -5.1 0M798.7 367.7a2.55 2.55 0 1 0 5.1 0a2.55 2.55 0 1 0 -5.1 0M792.8 380.0a2.55 2.55 0 1 0 5.1 0a2.55 2.55 0 1 0 -5.1 0M794.1 355.0a2.55 2.55 0 1 0 5.1 0a2.55 2.55 0 1 0 -5.1 0M788.9 392.4a2.55 2.55 0 1 0 5.1 0a2.55 2.55 0 1 0 -5.1 0M789.7 361.1a2.55 2.55 0 1 0 5.1 0a2.55 2.55 0 1 0 -5.1 0M792.2 356.5a2.55 2.55 0 1 0 5.1 0a2.55 2.55 0 1 0 -5.1 0M796.6 385.4a2.55 2.55 0 1 0 5.1 0a2.55 2.55 0 1 0 -5.1 0M793.0 338.0a2.55 2.55 0 1 0 5.1 0a2.55 2.55 0 1 0 -5.1 0M789.4 361.5a2.55 2.55 0 1 0 5.1 0a2.55 2.55 0 1 0 -5.1 0M797.5 386.6a2.55 2.55 0 1 0 5.1 0a2.55 2.55 0 1 0 -5.1 0M796.3 383.8a2.55 2.55 0 1 0 5.1 0a2.55 2.55 0 1 0 -5.1 0M796.5 353.8a2.55 2.55 0 1 0 5.1 0a2.55 2.55 0 1 0 -5.1 0M789.1 358.4a2.55 2.55 0 1 0 5.1 0a2.55 2.55 0 1 0 -5.1 0M786.0 342.3a2.55 2.55 0 1 0 5.1 0a2.55 2.55 0 1 0 -5.1 0M793.2 368.1a2.55 2.55 0 1 0 5.1 0a2.55 2.55 0 1 0 -5.1 0M788.1 385.4a2.55 2.55 0 1 0 5.1 0a2.55 2.55 0 1 0 -5.1 0M789.0 373.1a2.55 2.55 0 1 0 5.1 0a2.55 2.55 0 1 0 -5.1 0M784.9 355.7a2.55 2.55 0 1 0 5.1 0a2.55 2.55 0 1 0 -5.1 0M772.8 393.0a2.55 2.55 0 1 0 5.1 0a2.55 2.55 0 1 0 -5.1 0M799.9 408.2a2.55 2.55 0 1 0 5.1 0a2.55 2.55 0 1 0 -5.1 0M790.1 367.1a2.55 2.55 0 1 0 5.1 0a2.55 2.55 0 1 0 -5.1 0M789.0 434.1a2.55 2.55 0 1 0 5.1 0a2.55 2.55 0 1 0 -5.1 0M797.0 404.2a2.55 2.55 0 1 0 5.1 0a2.55 2.55 0 1 0 -5.1 0M787.2 361.7a2.55 2.55 0 1 0 5.1 0a2.55 2.55 0 1 0 -5.1 0M789.6 391.1a2.55 2.55 0 1 0 5.1 0a2.55 2.55 0 1 0 -5.1 0M795.9 372.5a2.55 2.55 0 1 0 5.1 0a2.55 2.55 0 1 0 -5.1 0M793.4 384.6a2.55 2.55 0 1 0 5.1 0a2.55 2.55 0 1 0 -5.1 0M788.5 367.2a2.55 2.55 0 1 0 5.1 0a2.55 2.55 0 1 0 -5.1 0M797.8 346.4a2.55 2.55 0 1 0 5.1 0a2.55 2.55 0 1 0 -5.1 0M791.6 379.8a2.55 2.55 0 1 0 5.1 0a2.55 2.55 0 1 0 -5.1 0M788.8 372.6a2.55 2.55 0 1 0 5.1 0a2.55 2.55 0 1 0 -5.1 0M791.5 393.2a2.55 2.55 0 1 0 5.1 0a2.55 2.55 0 1 0 -5.1 0M805.7 421.1a2.55 2.55 0 1 0 5.1 0a2.55 2.55 0 1 0 -5.1 0M793.9 375.5a2.55 2.55 0 1 0 5.1 0a2.55 2.55 0 1 0 -5.1 0M798.0 372.5a2.55 2.55 0 1 0 5.1 0a2.55 2.55 0 1 0 -5.1 0M787.5 390.4a2.55 2.55 0 1 0 5.1 0a2.55 2.55 0 1 0 -5.1 0M777.1 384.8a2.55 2.55 0 1 0 5.1 0a2.55 2.55 0 1 0 -5.1 0M802.1 369.1a2.55 2.55 0 1 0 5.1 0a2.55 2.55 0 1 0 -5.1 0M791.1 373.5a2.55 2.55 0 1 0 5.1 0a2.55 2.55 0 1 0 -5.1 0M799.7 354.9a2.55 2.55 0 1 0 5.1 0a2.55 2.55 0 1 0 -5.1 0M797.0 392.1a2.55 2.55 0 1 0 5.1 0a2.55 2.55 0 1 0 -5.1 0M788.2 376.7a2.55 2.55 0 1 0 5.1 0a2.55 2.55 0 1 0 -5.1 0M798.2 363.1a2.55 2.55 0 1 0 5.1 0a2.55 2.55 0 1 0 -5.1 0M788.5 390.8a2.55 2.55 0 1 0 5.1 0a2.55 2.55 0 1 0 -5.1 0M784.8 396.7a2.55 2.55 0 1 0 5.1 0a2.55 2.55 0 1 0 -5.1 0M788.1 371.1a2.55 2.55 0 1 0 5.1 0a2.55 2.55 0 1 0 -5.1 0M773.7 372.3a2.55 2.55 0 1 0 5.1 0a2.55 2.55 0 1 0 -5.1 0M800.0 371.4a2.55 2.55 0 1 0 5.1 0a2.55 2.55 0 1 0 -5.1 0M801.0 390.6a2.55 2.55 0 1 0 5.1 0a2.55 2.55 0 1 0 -5.1 0M786.1 395.2a2.55 2.55 0 1 0 5.1 0a2.55 2.55 0 1 0 -5.1 0M795.2 365.4a2.55 2.55 0 1 0 5.1 0a2.55 2.55 0 1 0 -5.1 0M793.5 371.8a2.55 2.55 0 1 0 5.1 0a2.55 2.55 0 1 0 -5.1 0M785.2 381.5a2.55 2.55 0 1 0 5.1 0a2.55 2.55 0 1 0 -5.1 0M792.7 364.1a2.55 2.55 0 1 0 5.1 0a2.55 2.55 0 1 0 -5.1 0M792.6 400.8a2.55 2.55 0 1 0 5.1 0a2.55 2.55 0 1 0 -5.1 0M793.0 331.7a2.55 2.55 0 1 0 5.1 0a2.55 2.55 0 1 0 -5.1 0M799.3 395.9a2.55 2.55 0 1 0 5.1 0a2.55 2.55 0 1 0 -5.1 0M784.0 386.0a2.55 2.55 0 1 0 5.1 0a2.55 2.55 0 1 0 -5.1 0M782.0 396.6a2.55 2.55 0 1 0 5.1 0a2.55 2.55 0 1 0 -5.1 0M785.9 375.9a2.55 2.55 0 1 0 5.1 0a2.55 2.55 0 1 0 -5.1 0M792.3 381.7a2.55 2.55 0 1 0 5.1 0a2.55 2.55 0 1 0 -5.1 0M794.4 395.6a2.55 2.55 0 1 0 5.1 0a2.55 2.55 0 1 0 -5.1 0M799.3 395.0a2.55 2.55 0 1 0 5.1 0a2.55 2.55 0 1 0 -5.1 0M781.7 379.6a2.55 2.55 0 1 0 5.1 0a2.55 2.55 0 1 0 -5.1 0M788.4 398.7a2.55 2.55 0 1 0 5.1 0a2.55 2.55 0 1 0 -5.1 0M802.3 348.0a2.55 2.55 0 1 0 5.1 0a2.55 2.55 0 1 0 -5.1 0M784.8 349.5a2.55 2.55 0 1 0 5.1 0a2.55 2.55 0 1 0 -5.1 0M778.1 362.8a2.55 2.55 0 1 0 5.1 0a2.55 2.55 0 1 0 -5.1 0M794.6 389.6a2.55 2.55 0 1 0 5.1 0a2.55 2.55 0 1 0 -5.1 0M796.4 363.6a2.55 2.55 0 1 0 5.1 0a2.55 2.55 0 1 0 -5.1 0M789.0 387.9a2.55 2.55 0 1 0 5.1 0a2.55 2.55 0 1 0 -5.1 0M789.5 374.9a2.55 2.55 0 1 0 5.1 0a2.55 2.55 0 1 0 -5.1 0M793.6 405.6a2.55 2.55 0 1 0 5.1 0a2.55 2.55 0 1 0 -5.1 0M790.7 381.5a2.55 2.55 0 1 0 5.1 0a2.55 2.55 0 1 0 -5.1 0M789.8 391.9a2.55 2.55 0 1 0 5.1 0a2.55 2.55 0 1 0 -5.1 0M787.4 387.8a2.55 2.55 0 1 0 5.1 0a2.55 2.55 0 1 0 -5.1 0M789.1 391.3a2.55 2.55 0 1 0 5.1 0a2.55 2.55 0 1 0 -5.1 0M782.4 360.8a2.55 2.55 0 1 0 5.1 0a2.55 2.55 0 1 0 -5.1 0M780.8 351.5a2.55 2.55 0 1 0 5.1 0a2.55 2.55 0 1 0 -5.1 0M793.4 370.7a2.55 2.55 0 1 0 5.1 0a2.55 2.55 0 1 0 -5.1 0M796.3 379.5a2.55 2.55 0 1 0 5.1 0a2.55 2.55 0 1 0 -5.1 0M802.7 400.2a2.55 2.55 0 1 0 5.1 0a2.55 2.55 0 1 0 -5.1 0M795.1 388.5a2.55 2.55 0 1 0 5.1 0a2.55 2.55 0 1 0 -5.1 0M787.9 360.7a2.55 2.55 0 1 0 5.1 0a2.55 2.55 0 1 0 -5.1 0M794.6 385.5a2.55 2.55 0 1 0 5.1 0a2.55 2.55 0 1 0 -5.1 0M787.1 387.6a2.55 2.55 0 1 0 5.1 0a2.55 2.55 0 1 0 -5.1 0M803.8 377.1a2.55 2.55 0 1 0 5.1 0a2.55 2.55 0 1 0 -5.1 0M792.3 354.4a2.55 2.55 0 1 0 5.1 0a2.55 2.55 0 1 0 -5.1 0M799.1 361.9a2.55 2.55 0 1 0 5.1 0a2.55 2.55 0 1 0 -5.1 0M785.7 391.1a2.55 2.55 0 1 0 5.1 0a2.55 2.55 0 1 0 -5.1 0M790.3 398.4a2.55 2.55 0 1 0 5.1 0a2.55 2.55 0 1 0 -5.1 0M787.8 387.6a2.55 2.55 0 1 0 5.1 0a2.55 2.55 0 1 0 -5.1 0M789.6 360.3a2.55 2.55 0 1 0 5.1 0a2.55 2.55 0 1 0 -5.1 0M799.7 331.3a2.55 2.55 0 1 0 5.1 0a2.55 2.55 0 1 0 -5.1 0M794.3 363.9a2.55 2.55 0 1 0 5.1 0a2.55 2.55 0 1 0 -5.1 0M782.6 366.8a2.55 2.55 0 1 0 5.1 0a2.55 2.55 0 1 0 -5.1 0M798.9 390.3a2.55 2.55 0 1 0 5.1 0a2.55 2.55 0 1 0 -5.1 0M790.6 386.2a2.55 2.55 0 1 0 5.1 0a2.55 2.55 0 1 0 -5.1 0M779.6 369.7a2.55 2.55 0 1 0 5.1 0a2.55 2.55 0 1 0 -5.1 0M786.9 389.1a2.55 2.55 0 1 0 5.1 0a2.55 2.55 0 1 0 -5.1 0M797.3 407.2a2.55 2.55 0 1 0 5.1 0a2.55 2.55 0 1 0 -5.1 0M785.7 402.5a2.55 2.55 0 1 0 5.1 0a2.55 2.55 0 1 0 -5.1 0M795.5 368.3a2.55 2.55 0 1 0 5.1 0a2.55 2.55 0 1 0 -5.1 0M785.0 380.1a2.55 2.55 0 1 0 5.1 0a2.55 2.55 0 1 0 -5.1 0M792.6 382.6a2.55 2.55 0 1 0 5.1 0a2.55 2.55 0 1 0 -5.1 0M791.9 356.6a2.55 2.55 0 1 0 5.1 0a2.55 2.55 0 1 0 -5.1 0M788.5 371.1a2.55 2.55 0 1 0 5.1 0a2.55 2.55 0 1 0 -5.1 0M785.8 380.6a2.55 2.55 0 1 0 5.1 0a2.55 2.55 0 1 0 -5.1 0M796.0 376.3a2.55 2.55 0 1 0 5.1 0a2.55 2.55 0 1 0 -5.1 0M803.8 387.0a2.55 2.55 0 1 0 5.1 0a2.55 2.55 0 1 0 -5.1 0M789.7 371.6a2.55 2.55 0 1 0 5.1 0a2.55 2.55 0 1 0 -5.1 0M793.3 355.5a2.55 2.55 0 1 0 5.1 0a2.55 2.55 0 1 0 -5.1 0M793.7 377.0a2.55 2.55 0 1 0 5.1 0a2.55 2.55 0 1 0 -5.1 0M790.3 358.2a2.55 2.55 0 1 0 5.1 0a2.55 2.55 0 1 0 -5.1 0M793.8 373.2a2.55 2.55 0 1 0 5.1 0a2.55 2.55 0 1 0 -5.1 0M788.2 354.1a2.55 2.55 0 1 0 5.1 0a2.55 2.55 0 1 0 -5.1 0M790.7 345.3a2.55 2.55 0 1 0 5.1 0a2.55 2.55 0 1 0 -5.1 0M795.1 378.8a2.55 2.55 0 1 0 5.1 0a2.55 2.55 0 1 0 -5.1 0M795.7 382.2a2.55 2.55 0 1 0 5.1 0a2.55 2.55 0 1 0 -5.1 0M777.7 384.5a2.55 2.55 0 1 0 5.1 0a2.55 2.55 0 1 0 -5.1 0M792.2 393.1a2.55 2.55 0 1 0 5.1 0a2.55 2.55 0 1 0 -5.1 0M798.1 381.1a2.55 2.55 0 1 0 5.1 0a2.55 2.55 0 1 0 -5.1 0M791.2 330.4a2.55 2.55 0 1 0 5.1 0a2.55 2.55 0 1 0 -5.1 0M793.8 369.2a2.55 2.55 0 1 0 5.1 0a2.55 2.55 0 1 0 -5.1 0M793.0 368.3a2.55 2.55 0 1 0 5.1 0a2.55 2.55 0 1 0 -5.1 0M790.7 378.4a2.55 2.55 0 1 0 5.1 0a2.55 2.55 0 1 0 -5.1 0M790.9 374.4a2.55 2.55 0 1 0 5.1 0a2.55 2.55 0 1 0 -5.1 0M797.3 407.6a2.55 2.55 0 1 0 5.1 0a2.55 2.55 0 1 0 -5.1 0M795.4 363.6a2.55 2.55 0 1 0 5.1 0a2.55 2.55 0 1 0 -5.1 0M793.9 394.0a2.55 2.55 0 1 0 5.1 0a2.55 2.55 0 1 0 -5.1 0M790.3 368.5a2.55 2.55 0 1 0 5.1 0a2.55 2.55 0 1 0 -5.1 0M787.7 357.8a2.55 2.55 0 1 0 5.1 0a2.55 2.55 0 1 0 -5.1 0M798.8 385.5a2.55 2.55 0 1 0 5.1 0a2.55 2.55 0 1 0 -5.1 0M783.6 353.8a2.55 2.55 0 1 0 5.1 0a2.55 2.55 0 1 0 -5.1 0M789.9 433.3a2.55 2.55 0 1 0 5.1 0a2.55 2.55 0 1 0 -5.1 0M792.1 393.2a2.55 2.55 0 1 0 5.1 0a2.55 2.55 0 1 0 -5.1 0M789.8 362.8a2.55 2.55 0 1 0 5.1 0a2.55 2.55 0 1 0 -5.1 0M788.4 390.3a2.55 2.55 0 1 0 5.1 0a2.55 2.55 0 1 0 -5.1 0M782.8 399.9a2.55 2.55 0 1 0 5.1 0a2.55 2.55 0 1 0 -5.1 0M784.4 349.3a2.55 2.55 0 1 0 5.1 0a2.55 2.55 0 1 0 -5.1 0M796.0 382.9a2.55 2.55 0 1 0 5.1 0a2.55 2.55 0 1 0 -5.1 0M785.8 377.8a2.55 2.55 0 1 0 5.1 0a2.55 2.55 0 1 0 -5.1 0M798.2 381.2a2.55 2.55 0 1 0 5.1 0a2.55 2.55 0 1 0 -5.1 0M790.9 383.7a2.55 2.55 0 1 0 5.1 0a2.55 2.55 0 1 0 -5.1 0M786.1 372.8a2.55 2.55 0 1 0 5.1 0a2.55 2.55 0 1 0 -5.1 0M796.0 360.0a2.55 2.55 0 1 0 5.1 0a2.55 2.55 0 1 0 -5.1 0M785.0 393.8a2.55 2.55 0 1 0 5.1 0a2.55 2.55 0 1 0 -5.1 0M786.6 328.6a2.55 2.55 0 1 0 5.1 0a2.55 2.55 0 1 0 -5.1 0M784.8 384.7a2.55 2.55 0 1 0 5.1 0a2.55 2.55 0 1 0 -5.1 0M785.6 403.9a2.55 2.55 0 1 0 5.1 0a2.55 2.55 0 1 0 -5.1 0M783.0 374.3a2.55 2.55 0 1 0 5.1 0a2.55 2.55 0 1 0 -5.1 0M799.6 374.6a2.55 2.55 0 1 0 5.1 0a2.55 2.55 0 1 0 -5.1 0M797.5 363.7a2.55 2.55 0 1 0 5.1 0a2.55 2.55 0 1 0 -5.1 0M787.1 409.3a2.55 2.55 0 1 0 5.1 0a2.55 2.55 0 1 0 -5.1 0M797.6 388.2a2.55 2.55 0 1 0 5.1 0a2.55 2.55 0 1 0 -5.1 0M788.7 388.2a2.55 2.55 0 1 0 5.1 0a2.55 2.55 0 1 0 -5.1 0M789.9 351.6a2.55 2.55 0 1 0 5.1 0a2.55 2.55 0 1 0 -5.1 0M779.0 368.4a2.55 2.55 0 1 0 5.1 0a2.55 2.55 0 1 0 -5.1 0M792.5 394.0a2.55 2.55 0 1 0 5.1 0a2.55 2.55 0 1 0 -5.1 0M791.6 424.8a2.55 2.55 0 1 0 5.1 0a2.55 2.55 0 1 0 -5.1 0M786.2 389.1a2.55 2.55 0 1 0 5.1 0a2.55 2.55 0 1 0 -5.1 0M789.5 368.9a2.55 2.55 0 1 0 5.1 0a2.55 2.55 0 1 0 -5.1 0M796.4 366.5a2.55 2.55 0 1 0 5.1 0a2.55 2.55 0 1 0 -5.1 0M787.1 379.0a2.55 2.55 0 1 0 5.1 0a2.55 2.55 0 1 0 -5.1 0M786.7 354.5a2.55 2.55 0 1 0 5.1 0a2.55 2.55 0 1 0 -5.1 0M780.7 345.4a2.55 2.55 0 1 0 5.1 0a2.55 2.55 0 1 0 -5.1 0M806.5 347.3a2.55 2.55 0 1 0 5.1 0a2.55 2.55 0 1 0 -5.1 0M794.0 386.3a2.55 2.55 0 1 0 5.1 0a2.55 2.55 0 1 0 -5.1 0M794.5 377.9a2.55 2.55 0 1 0 5.1 0a2.55 2.55 0 1 0 -5.1 0M781.5 377.7a2.55 2.55 0 1 0 5.1 0a2.55 2.55 0 1 0 -5.1 0M790.8 362.2a2.55 2.55 0 1 0 5.1 0a2.55 2.55 0 1 0 -5.1 0M793.9 370.1a2.55 2.55 0 1 0 5.1 0a2.55 2.55 0 1 0 -5.1 0M782.9 384.6a2.55 2.55 0 1 0 5.1 0a2.55 2.55 0 1 0 -5.1 0M783.2 408.0a2.55 2.55 0 1 0 5.1 0a2.55 2.55 0 1 0 -5.1 0M791.4 395.4a2.55 2.55 0 1 0 5.1 0a2.55 2.55 0 1 0 -5.1 0M806.2 375.4a2.55 2.55 0 1 0 5.1 0a2.55 2.55 0 1 0 -5.1 0M789.5 359.8a2.55 2.55 0 1 0 5.1 0a2.55 2.55 0 1 0 -5.1 0M798.4 370.6a2.55 2.55 0 1 0 5.1 0a2.55 2.55 0 1 0 -5.1 0M795.5 386.0a2.55 2.55 0 1 0 5.1 0a2.55 2.55 0 1 0 -5.1 0M797.6 366.1a2.55 2.55 0 1 0 5.1 0a2.55 2.55 0 1 0 -5.1 0M794.2 360.3a2.55 2.55 0 1 0 5.1 0a2.55 2.55 0 1 0 -5.1 0M785.0 380.3a2.55 2.55 0 1 0 5.1 0a2.55 2.55 0 1 0 -5.1 0M778.4 398.9a2.55 2.55 0 1 0 5.1 0a2.55 2.55 0 1 0 -5.1 0M794.0 379.6a2.55 2.55 0 1 0 5.1 0a2.55 2.55 0 1 0 -5.1 0M792.8 380.0a2.55 2.55 0 1 0 5.1 0a2.55 2.55 0 1 0 -5.1 0M793.1 389.1a2.55 2.55 0 1 0 5.1 0a2.55 2.55 0 1 0 -5.1 0M792.8 408.5a2.55 2.55 0 1 0 5.1 0a2.55 2.55 0 1 0 -5.1 0M786.9 371.0a2.55 2.55 0 1 0 5.1 0a2.55 2.55 0 1 0 -5.1 0M796.5 381.9a2.55 2.55 0 1 0 5.1 0a2.55 2.55 0 1 0 -5.1 0M798.4 401.6a2.55 2.55 0 1 0 5.1 0a2.55 2.55 0 1 0 -5.1 0M787.3 401.6a2.55 2.55 0 1 0 5.1 0a2.55 2.55 0 1 0 -5.1 0M794.9 361.9a2.55 2.55 0 1 0 5.1 0a2.55 2.55 0 1 0 -5.1 0M791.5 368.3a2.55 2.55 0 1 0 5.1 0a2.55 2.55 0 1 0 -5.1 0M787.8 352.9a2.55 2.55 0 1 0 5.1 0a2.55 2.55 0 1 0 -5.1 0M786.3 382.6a2.55 2.55 0 1 0 5.1 0a2.55 2.55 0 1 0 -5.1 0M780.2 374.2a2.55 2.55 0 1 0 5.1 0a2.55 2.55 0 1 0 -5.1 0M792.1 429.0a2.55 2.55 0 1 0 5.1 0a2.55 2.55 0 1 0 -5.1 0M785.6 398.2a2.55 2.55 0 1 0 5.1 0a2.55 2.55 0 1 0 -5.1 0M789.6 360.1a2.55 2.55 0 1 0 5.1 0a2.55 2.55 0 1 0 -5.1 0M788.9 366.3a2.55 2.55 0 1 0 5.1 0a2.55 2.55 0 1 0 -5.1 0M787.7 363.9a2.55 2.55 0 1 0 5.1 0a2.55 2.55 0 1 0 -5.1 0M794.5 336.0a2.55 2.55 0 1 0 5.1 0a2.55 2.55 0 1 0 -5.1 0M802.3 352.4a2.55 2.55 0 1 0 5.1 0a2.55 2.55 0 1 0 -5.1 0M796.4 389.2a2.55 2.55 0 1 0 5.1 0a2.55 2.55 0 1 0 -5.1 0M784.3 388.1a2.55 2.55 0 1 0 5.1 0a2.55 2.55 0 1 0 -5.1 0M780.6 387.5a2.55 2.55 0 1 0 5.1 0a2.55 2.55 0 1 0 -5.1 0M791.5 394.2a2.55 2.55 0 1 0 5.1 0a2.55 2.55 0 1 0 -5.1 0M796.3 411.3a2.55 2.55 0 1 0 5.1 0a2.55 2.55 0 1 0 -5.1 0M799.6 387.9a2.55 2.55 0 1 0 5.1 0a2.55 2.55 0 1 0 -5.1 0M794.8 395.0a2.55 2.55 0 1 0 5.1 0a2.55 2.55 0 1 0 -5.1 0M782.9 374.1a2.55 2.55 0 1 0 5.1 0a2.55 2.55 0 1 0 -5.1 0M798.9 373.2a2.55 2.55 0 1 0 5.1 0a2.55 2.55 0 1 0 -5.1 0M790.8 391.2a2.55 2.55 0 1 0 5.1 0a2.55 2.55 0 1 0 -5.1 0M790.4 368.2a2.55 2.55 0 1 0 5.1 0a2.55 2.55 0 1 0 -5.1 0M782.5 390.8a2.55 2.55 0 1 0 5.1 0a2.55 2.55 0 1 0 -5.1 0M795.4 363.8a2.55 2.55 0 1 0 5.1 0a2.55 2.55 0 1 0 -5.1 0M788.2 362.7a2.55 2.55 0 1 0 5.1 0a2.55 2.55 0 1 0 -5.1 0M786.2 408.1a2.55 2.55 0 1 0 5.1 0a2.55 2.55 0 1 0 -5.1 0M784.3 388.6a2.55 2.55 0 1 0 5.1 0a2.55 2.55 0 1 0 -5.1 0M797.3 385.8a2.55 2.55 0 1 0 5.1 0a2.55 2.55 0 1 0 -5.1 0M785.5 345.2a2.55 2.55 0 1 0 5.1 0a2.55 2.55 0 1 0 -5.1 0M787.2 363.1a2.55 2.55 0 1 0 5.1 0a2.55 2.55 0 1 0 -5.1 0M790.2 392.3a2.55 2.55 0 1 0 5.1 0a2.55 2.55 0 1 0 -5.1 0M798.9 366.4a2.55 2.55 0 1 0 5.1 0a2.55 2.55 0 1 0 -5.1 0M789.3 389.8a2.55 2.55 0 1 0 5.1 0a2.55 2.55 0 1 0 -5.1 0M784.2 366.3a2.55 2.55 0 1 0 5.1 0a2.55 2.55 0 1 0 -5.1 0M785.8 375.3a2.55 2.55 0 1 0 5.1 0a2.55 2.55 0 1 0 -5.1 0M796.7 388.8a2.55 2.55 0 1 0 5.1 0a2.55 2.55 0 1 0 -5.1 0M788.9 381.7a2.55 2.55 0 1 0 5.1 0a2.55 2.55 0 1 0 -5.1 0M781.5 354.3a2.55 2.55 0 1 0 5.1 0a2.55 2.55 0 1 0 -5.1 0M789.5 370.4a2.55 2.55 0 1 0 5.1 0a2.55 2.55 0 1 0 -5.1 0M796.0 407.0a2.55 2.55 0 1 0 5.1 0a2.55 2.55 0 1 0 -5.1 0M792.6 390.8a2.55 2.55 0 1 0 5.1 0a2.55 2.55 0 1 0 -5.1 0M789.5 378.6a2.55 2.55 0 1 0 5.1 0a2.55 2.55 0 1 0 -5.1 0M801.1 367.5a2.55 2.55 0 1 0 5.1 0a2.55 2.55 0 1 0 -5.1 0M795.6 359.9a2.55 2.55 0 1 0 5.1 0a2.55 2.55 0 1 0 -5.1 0M789.0 383.9a2.55 2.55 0 1 0 5.1 0a2.55 2.55 0 1 0 -5.1 0M789.9 399.0a2.55 2.55 0 1 0 5.1 0a2.55 2.55 0 1 0 -5.1 0M796.0 362.4a2.55 2.55 0 1 0 5.1 0a2.55 2.55 0 1 0 -5.1 0M801.2 362.1a2.55 2.55 0 1 0 5.1 0a2.55 2.55 0 1 0 -5.1 0M797.1 345.3a2.55 2.55 0 1 0 5.1 0a2.55 2.55 0 1 0 -5.1 0M803.1 397.4a2.55 2.55 0 1 0 5.1 0a2.55 2.55 0 1 0 -5.1 0M795.1 372.7a2.55 2.55 0 1 0 5.1 0a2.55 2.55 0 1 0 -5.1 0M776.2 372.3a2.55 2.55 0 1 0 5.1 0a2.55 2.55 0 1 0 -5.1 0M790.1 347.4a2.55 2.55 0 1 0 5.1 0a2.55 2.55 0 1 0 -5.1 0M794.1 387.8a2.55 2.55 0 1 0 5.1 0a2.55 2.55 0 1 0 -5.1 0M781.7 351.9a2.55 2.55 0 1 0 5.1 0a2.55 2.55 0 1 0 -5.1 0M798.2 370.5a2.55 2.55 0 1 0 5.1 0a2.55 2.55 0 1 0 -5.1 0M787.4 382.0a2.55 2.55 0 1 0 5.1 0a2.55 2.55 0 1 0 -5.1 0M789.7 377.4a2.55 2.55 0 1 0 5.1 0a2.55 2.55 0 1 0 -5.1 0M794.9 360.9a2.55 2.55 0 1 0 5.1 0a2.55 2.55 0 1 0 -5.1 0M788.4 358.3a2.55 2.55 0 1 0 5.1 0a2.55 2.55 0 1 0 -5.1 0M791.0 378.7a2.55 2.55 0 1 0 5.1 0a2.55 2.55 0 1 0 -5.1 0M791.2 388.1a2.55 2.55 0 1 0 5.1 0a2.55 2.55 0 1 0 -5.1 0M795.8 379.5a2.55 2.55 0 1 0 5.1 0a2.55 2.55 0 1 0 -5.1 0M783.4 377.5a2.55 2.55 0 1 0 5.1 0a2.55 2.55 0 1 0 -5.1 0M786.2 357.5a2.55 2.55 0 1 0 5.1 0a2.55 2.55 0 1 0 -5.1 0M795.1 391.9a2.55 2.55 0 1 0 5.1 0a2.55 2.55 0 1 0 -5.1 0M789.3 380.4a2.55 2.55 0 1 0 5.1 0a2.55 2.55 0 1 0 -5.1 0M795.8 377.8a2.55 2.55 0 1 0 5.1 0a2.55 2.55 0 1 0 -5.1 0M794.9 380.4a2.55 2.55 0 1 0 5.1 0a2.55 2.55 0 1 0 -5.1 0M796.6 382.3a2.55 2.55 0 1 0 5.1 0a2.55 2.55 0 1 0 -5.1 0M793.2 379.3a2.55 2.55 0 1 0 5.1 0a2.55 2.55 0 1 0 -5.1 0M789.3 345.8a2.55 2.55 0 1 0 5.1 0a2.55 2.55 0 1 0 -5.1 0M792.2 373.4a2.55 2.55 0 1 0 5.1 0a2.55 2.55 0 1 0 -5.1 0M796.6 337.1a2.55 2.55 0 1 0 5.1 0a2.55 2.55 0 1 0 -5.1 0M779.5 409.7a2.55 2.55 0 1 0 5.1 0a2.55 2.55 0 1 0 -5.1 0M783.7 370.7a2.55 2.55 0 1 0 5.1 0a2.55 2.55 0 1 0 -5.1 0M786.6 409.6a2.55 2.55 0 1 0 5.1 0a2.55 2.55 0 1 0 -5.1 0M788.5 383.2a2.55 2.55 0 1 0 5.1 0a2.55 2.55 0 1 0 -5.1 0M785.5 363.4a2.55 2.55 0 1 0 5.1 0a2.55 2.55 0 1 0 -5.1 0M788.8 386.5a2.55 2.55 0 1 0 5.1 0a2.55 2.55 0 1 0 -5.1 0M792.9 364.7a2.55 2.55 0 1 0 5.1 0a2.55 2.55 0 1 0 -5.1 0M796.2 417.7a2.55 2.55 0 1 0 5.1 0a2.55 2.55 0 1 0 -5.1 0M795.7 375.6a2.55 2.55 0 1 0 5.1 0a2.55 2.55 0 1 0 -5.1 0M801.6 410.8a2.55 2.55 0 1 0 5.1 0a2.55 2.55 0 1 0 -5.1 0M793.8 394.9a2.55 2.55 0 1 0 5.1 0a2.55 2.55 0 1 0 -5.1 0M797.7 427.2a2.55 2.55 0 1 0 5.1 0a2.55 2.55 0 1 0 -5.1 0M788.4 368.5a2.55 2.55 0 1 0 5.1 0a2.55 2.55 0 1 0 -5.1 0M798.3 372.2a2.55 2.55 0 1 0 5.1 0a2.55 2.55 0 1 0 -5.1 0M788.4 397.7a2.55 2.55 0 1 0 5.1 0a2.55 2.55 0 1 0 -5.1 0M794.0 398.6a2.55 2.55 0 1 0 5.1 0a2.55 2.55 0 1 0 -5.1 0M791.9 414.1a2.55 2.55 0 1 0 5.1 0a2.55 2.55 0 1 0 -5.1 0M794.4 390.6a2.55 2.55 0 1 0 5.1 0a2.55 2.55 0 1 0 -5.1 0M795.1 365.4a2.55 2.55 0 1 0 5.1 0a2.55 2.55 0 1 0 -5.1 0M789.5 352.6a2.55 2.55 0 1 0 5.1 0a2.55 2.55 0 1 0 -5.1 0M790.9 354.5a2.55 2.55 0 1 0 5.1 0a2.55 2.55 0 1 0 -5.1 0M783.9 392.2a2.55 2.55 0 1 0 5.1 0a2.55 2.55 0 1 0 -5.1 0M796.5 378.8a2.55 2.55 0 1 0 5.1 0a2.55 2.55 0 1 0 -5.1 0M800.2 385.4a2.55 2.55 0 1 0 5.1 0a2.55 2.55 0 1 0 -5.1 0M797.4 388.0a2.55 2.55 0 1 0 5.1 0a2.55 2.55 0 1 0 -5.1 0M786.3 365.6a2.55 2.55 0 1 0 5.1 0a2.55 2.55 0 1 0 -5.1 0M781.4 351.6a2.55 2.55 0 1 0 5.1 0a2.55 2.55 0 1 0 -5.1 0M795.8 390.1a2.55 2.55 0 1 0 5.1 0a2.55 2.55 0 1 0 -5.1 0M784.4 339.4a2.55 2.55 0 1 0 5.1 0a2.55 2.55 0 1 0 -5.1 0M793.1 334.5a2.55 2.55 0 1 0 5.1 0a2.55 2.55 0 1 0 -5.1 0M791.4 384.8a2.55 2.55 0 1 0 5.1 0a2.55 2.55 0 1 0 -5.1 0M785.9 412.8a2.55 2.55 0 1 0 5.1 0a2.55 2.55 0 1 0 -5.1 0M788.0 401.6a2.55 2.55 0 1 0 5.1 0a2.55 2.55 0 1 0 -5.1 0M798.3 382.2a2.55 2.55 0 1 0 5.1 0a2.55 2.55 0 1 0 -5.1 0M789.2 361.9a2.55 2.55 0 1 0 5.1 0a2.55 2.55 0 1 0 -5.1 0M793.7 360.9a2.55 2.55 0 1 0 5.1 0a2.55 2.55 0 1 0 -5.1 0M791.6 365.4a2.55 2.55 0 1 0 5.1 0a2.55 2.55 0 1 0 -5.1 0M800.5 393.7a2.55 2.55 0 1 0 5.1 0a2.55 2.55 0 1 0 -5.1 0M790.9 383.7a2.55 2.55 0 1 0 5.1 0a2.55 2.55 0 1 0 -5.1 0M790.3 355.3a2.55 2.55 0 1 0 5.1 0a2.55 2.55 0 1 0 -5.1 0M794.4 406.9a2.55 2.55 0 1 0 5.1 0a2.55 2.55 0 1 0 -5.1 0M793.6 386.2a2.55 2.55 0 1 0 5.1 0a2.55 2.55 0 1 0 -5.1 0M793.9 397.8a2.55 2.55 0 1 0 5.1 0a2.55 2.55 0 1 0 -5.1 0M794.6 418.9a2.55 2.55 0 1 0 5.1 0a2.55 2.55 0 1 0 -5.1 0M794.1 399.4a2.55 2.55 0 1 0 5.1 0a2.55 2.55 0 1 0 -5.1 0M799.0 384.7a2.55 2.55 0 1 0 5.1 0a2.55 2.55 0 1 0 -5.1 0M799.1 391.7a2.55 2.55 0 1 0 5.1 0a2.55 2.55 0 1 0 -5.1 0M792.1 425.1a2.55 2.55 0 1 0 5.1 0a2.55 2.55 0 1 0 -5.1 0M791.1 358.4a2.55 2.55 0 1 0 5.1 0a2.55 2.55 0 1 0 -5.1 0M795.3 382.7a2.55 2.55 0 1 0 5.1 0a2.55 2.55 0 1 0 -5.1 0M797.7 347.9a2.55 2.55 0 1 0 5.1 0a2.55 2.55 0 1 0 -5.1 0M785.1 368.1a2.55 2.55 0 1 0 5.1 0a2.55 2.55 0 1 0 -5.1 0M800.5 368.0a2.55 2.55 0 1 0 5.1 0a2.55 2.55 0 1 0 -5.1 0M780.5 395.0a2.55 2.55 0 1 0 5.1 0a2.55 2.55 0 1 0 -5.1 0M794.9 357.5a2.55 2.55 0 1 0 5.1 0a2.55 2.55 0 1 0 -5.1 0M782.0 401.4a2.55 2.55 0 1 0 5.1 0a2.55 2.55 0 1 0 -5.1 0M781.9 380.2a2.55 2.55 0 1 0 5.1 0a2.55 2.55 0 1 0 -5.1 0M791.5 360.4a2.55 2.55 0 1 0 5.1 0a2.55 2.55 0 1 0 -5.1 0M802.8 373.2a2.55 2.55 0 1 0 5.1 0a2.55 2.55 0 1 0 -5.1 0M784.7 395.4a2.55 2.55 0 1 0 5.1 0a2.55 2.55 0 1 0 -5.1 0M790.1 378.1a2.55 2.55 0 1 0 5.1 0a2.55 2.55 0 1 0 -5.1 0M792.8 368.7a2.55 2.55 0 1 0 5.1 0a2.55 2.55 0 1 0 -5.1 0M800.6 397.8a2.55 2.55 0 1 0 5.1 0a2.55 2.55 0 1 0 -5.1 0M783.9 357.9a2.55 2.55 0 1 0 5.1 0a2.55 2.55 0 1 0 -5.1 0M804.1 369.2a2.55 2.55 0 1 0 5.1 0a2.55 2.55 0 1 0 -5.1 0M797.7 337.1a2.55 2.55 0 1 0 5.1 0a2.55 2.55 0 1 0 -5.1 0M784.3 381.3a2.55 2.55 0 1 0 5.1 0a2.55 2.55 0 1 0 -5.1 0M798.1 396.3a2.55 2.55 0 1 0 5.1 0a2.55 2.55 0 1 0 -5.1 0M787.3 387.9a2.55 2.55 0 1 0 5.1 0a2.55 2.55 0 1 0 -5.1 0M779.3 360.7a2.55 2.55 0 1 0 5.1 0a2.55 2.55 0 1 0 -5.1 0M789.7 393.2a2.55 2.55 0 1 0 5.1 0a2.55 2.55 0 1 0 -5.1 0M784.0 348.2a2.55 2.55 0 1 0 5.1 0a2.55 2.55 0 1 0 -5.1 0M786.1 356.7a2.55 2.55 0 1 0 5.1 0a2.55 2.55 0 1 0 -5.1 0M790.9 359.0a2.55 2.55 0 1 0 5.1 0a2.55 2.55 0 1 0 -5.1 0M783.1 366.6a2.55 2.55 0 1 0 5.1 0a2.55 2.55 0 1 0 -5.1 0M802.0 347.6a2.55 2.55 0 1 0 5.1 0a2.55 2.55 0 1 0 -5.1 0M798.6 350.0a2.55 2.55 0 1 0 5.1 0a2.55 2.55 0 1 0 -5.1 0M793.1 364.2a2.55 2.55 0 1 0 5.1 0a2.55 2.55 0 1 0 -5.1 0M810.6 370.6a2.55 2.55 0 1 0 5.1 0a2.55 2.55 0 1 0 -5.1 0M789.0 362.6a2.55 2.55 0 1 0 5.1 0a2.55 2.55 0 1 0 -5.1 0M790.4 378.4a2.55 2.55 0 1 0 5.1 0a2.55 2.55 0 1 0 -5.1 0M801.4 400.1a2.55 2.55 0 1 0 5.1 0a2.55 2.55 0 1 0 -5.1 0M789.1 397.9a2.55 2.55 0 1 0 5.1 0a2.55 2.55 0 1 0 -5.1 0M791.7 376.7a2.55 2.55 0 1 0 5.1 0a2.55 2.55 0 1 0 -5.1 0M787.2 365.0a2.55 2.55 0 1 0 5.1 0a2.55 2.55 0 1 0 -5.1 0M790.4 355.3a2.55 2.55 0 1 0 5.1 0a2.55 2.55 0 1 0 -5.1 0M801.8 375.7a2.55 2.55 0 1 0 5.1 0a2.55 2.55 0 1 0 -5.1 0M800.7 380.5a2.55 2.55 0 1 0 5.1 0a2.55 2.55 0 1 0 -5.1 0M795.1 406.2a2.55 2.55 0 1 0 5.1 0a2.55 2.55 0 1 0 -5.1 0M787.7 382.8a2.55 2.55 0 1 0 5.1 0a2.55 2.55 0 1 0 -5.1 0M785.3 381.0a2.55 2.55 0 1 0 5.1 0a2.55 2.55 0 1 0 -5.1 0M799.1 372.7a2.55 2.55 0 1 0 5.1 0a2.55 2.55 0 1 0 -5.1 0M782.6 375.5a2.55 2.55 0 1 0 5.1 0a2.55 2.55 0 1 0 -5.1 0M789.1 367.4a2.55 2.55 0 1 0 5.1 0a2.55 2.55 0 1 0 -5.1 0M794.1 384.2a2.55 2.55 0 1 0 5.1 0a2.55 2.55 0 1 0 -5.1 0M783.3 365.9a2.55 2.55 0 1 0 5.1 0a2.55 2.55 0 1 0 -5.1 0M788.0 380.3a2.55 2.55 0 1 0 5.1 0a2.55 2.55 0 1 0 -5.1 0M789.2 376.9a2.55 2.55 0 1 0 5.1 0a2.55 2.55 0 1 0 -5.1 0M796.7 400.5a2.55 2.55 0 1 0 5.1 0a2.55 2.55 0 1 0 -5.1 0M786.4 430.9a2.55 2.55 0 1 0 5.1 0a2.55 2.55 0 1 0 -5.1 0M790.3 355.2a2.55 2.55 0 1 0 5.1 0a2.55 2.55 0 1 0 -5.1 0M793.4 372.6a2.55 2.55 0 1 0 5.1 0a2.55 2.55 0 1 0 -5.1 0M802.4 356.1a2.55 2.55 0 1 0 5.1 0a2.55 2.55 0 1 0 -5.1 0M804.0 398.3a2.55 2.55 0 1 0 5.1 0a2.55 2.55 0 1 0 -5.1 0M791.6 367.0a2.55 2.55 0 1 0 5.1 0a2.55 2.55 0 1 0 -5.1 0M785.6 391.7a2.55 2.55 0 1 0 5.1 0a2.55 2.55 0 1 0 -5.1 0M797.1 371.3a2.55 2.55 0 1 0 5.1 0a2.55 2.55 0 1 0 -5.1 0M797.2 357.8a2.55 2.55 0 1 0 5.1 0a2.55 2.55 0 1 0 -5.1 0M788.9 366.0a2.55 2.55 0 1 0 5.1 0a2.55 2.55 0 1 0 -5.1 0M802.6 357.7a2.55 2.55 0 1 0 5.1 0a2.55 2.55 0 1 0 -5.1 0M799.8 383.4a2.55 2.55 0 1 0 5.1 0a2.55 2.55 0 1 0 -5.1 0M795.9 352.8a2.55 2.55 0 1 0 5.1 0a2.55 2.55 0 1 0 -5.1 0M801.7 380.7a2.55 2.55 0 1 0 5.1 0a2.55 2.55 0 1 0 -5.1 0M796.6 369.8a2.55 2.55 0 1 0 5.1 0a2.55 2.55 0 1 0 -5.1 0M788.6 370.1a2.55 2.55 0 1 0 5.1 0a2.55 2.55 0 1 0 -5.1 0M798.4 378.8a2.55 2.55 0 1 0 5.1 0a2.55 2.55 0 1 0 -5.1 0M778.0 351.0a2.55 2.55 0 1 0 5.1 0a2.55 2.55 0 1 0 -5.1 0M789.5 394.3a2.55 2.55 0 1 0 5.1 0a2.55 2.55 0 1 0 -5.1 0M798.7 365.6a2.55 2.55 0 1 0 5.1 0a2.55 2.55 0 1 0 -5.1 0M783.8 375.9a2.55 2.55 0 1 0 5.1 0a2.55 2.55 0 1 0 -5.1 0M786.8 380.5a2.55 2.55 0 1 0 5.1 0a2.55 2.55 0 1 0 -5.1 0M790.9 348.9a2.55 2.55 0 1 0 5.1 0a2.55 2.55 0 1 0 -5.1 0M785.1 377.0a2.55 2.55 0 1 0 5.1 0a2.55 2.55 0 1 0 -5.1 0M791.6 407.4a2.55 2.55 0 1 0 5.1 0a2.55 2.55 0 1 0 -5.1 0M796.3 399.1a2.55 2.55 0 1 0 5.1 0a2.55 2.55 0 1 0 -5.1 0M792.8 366.0a2.55 2.55 0 1 0 5.1 0a2.55 2.55 0 1 0 -5.1 0M777.6 360.0a2.55 2.55 0 1 0 5.1 0a2.55 2.55 0 1 0 -5.1 0M785.6 351.3a2.55 2.55 0 1 0 5.1 0a2.55 2.55 0 1 0 -5.1 0M787.4 370.1a2.55 2.55 0 1 0 5.1 0a2.55 2.55 0 1 0 -5.1 0M789.3 362.7a2.55 2.55 0 1 0 5.1 0a2.55 2.55 0 1 0 -5.1 0M795.4 354.2a2.55 2.55 0 1 0 5.1 0a2.55 2.55 0 1 0 -5.1 0M783.6 402.9a2.55 2.55 0 1 0 5.1 0a2.55 2.55 0 1 0 -5.1 0M803.6 350.1a2.55 2.55 0 1 0 5.1 0a2.55 2.55 0 1 0 -5.1 0M787.8 379.4a2.55 2.55 0 1 0 5.1 0a2.55 2.55 0 1 0 -5.1 0M788.7 378.4a2.55 2.55 0 1 0 5.1 0a2.55 2.55 0 1 0 -5.1 0M787.7 342.6a2.55 2.55 0 1 0 5.1 0a2.55 2.55 0 1 0 -5.1 0M788.3 355.2a2.55 2.55 0 1 0 5.1 0a2.55 2.55 0 1 0 -5.1 0M792.3 340.8a2.55 2.55 0 1 0 5.1 0a2.55 2.55 0 1 0 -5.1 0M797.6 366.4a2.55 2.55 0 1 0 5.1 0a2.55 2.55 0 1 0 -5.1 0M792.8 393.7a2.55 2.55 0 1 0 5.1 0a2.55 2.55 0 1 0 -5.1 0M800.8 406.8a2.55 2.55 0 1 0 5.1 0a2.55 2.55 0 1 0 -5.1 0M791.8 373.4a2.55 2.55 0 1 0 5.1 0a2.55 2.55 0 1 0 -5.1 0M798.6 392.8a2.55 2.55 0 1 0 5.1 0a2.55 2.55 0 1 0 -5.1 0M783.3 352.2a2.55 2.55 0 1 0 5.1 0a2.55 2.55 0 1 0 -5.1 0M788.2 349.7a2.55 2.55 0 1 0 5.1 0a2.55 2.55 0 1 0 -5.1 0M794.2 397.6a2.55 2.55 0 1 0 5.1 0a2.55 2.55 0 1 0 -5.1 0M795.9 373.8a2.55 2.55 0 1 0 5.1 0a2.55 2.55 0 1 0 -5.1 0M800.7 377.1a2.55 2.55 0 1 0 5.1 0a2.55 2.55 0 1 0 -5.1 0M786.3 329.4a2.55 2.55 0 1 0 5.1 0a2.55 2.55 0 1 0 -5.1 0M796.9 373.2a2.55 2.55 0 1 0 5.1 0a2.55 2.55 0 1 0 -5.1 0M787.3 404.9a2.55 2.55 0 1 0 5.1 0a2.55 2.55 0 1 0 -5.1 0M633.1 366.5a2.55 2.55 0 1 0 5.1 0a2.55 2.55 0 1 0 -5.1 0M624.9 369.1a2.55 2.55 0 1 0 5.1 0a2.55 2.55 0 1 0 -5.1 0M630.0 370.2a2.55 2.55 0 1 0 5.1 0a2.55 2.55 0 1 0 -5.1 0M633.2 364.8a2.55 2.55 0 1 0 5.1 0a2.55 2.55 0 1 0 -5.1 0M630.2 362.7a2.55 2.55 0 1 0 5.1 0a2.55 2.55 0 1 0 -5.1 0M636.6 370.8a2.55 2.55 0 1 0 5.1 0a2.55 2.55 0 1 0 -5.1 0M638.1 368.9a2.55 2.55 0 1 0 5.1 0a2.55 2.55 0 1 0 -5.1 0M646.9 356.0a2.55 2.55 0 1 0 5.1 0a2.55 2.55 0 1 0 -5.1 0M624.9 376.2a2.55 2.55 0 1 0 5.1 0a2.55 2.55 0 1 0 -5.1 0M615.4 382.2a2.55 2.55 0 1 0 5.1 0a2.55 2.55 0 1 0 -5.1 0M634.9 366.0a2.55 2.55 0 1 0 5.1 0a2.55 2.55 0 1 0 -5.1 0M641.3 358.5a2.55 2.55 0 1 0 5.1 0a2.55 2.55 0 1 0 -5.1 0M640.1 358.3a2.55 2.55 0 1 0 5.1 0a2.55 2.55 0 1 0 -5.1 0M651.7 344.3a2.55 2.55 0 1 0 5.1 0a2.55 2.55 0 1 0 -5.1 0M649.2 361.2a2.55 2.55 0 1 0 5.1 0a2.55 2.55 0 1 0 -5.1 0M636.8 358.7a2.55 2.55 0 1 0 5.1 0a2.55 2.55 0 1 0 -5.1 0M636.7 359.9a2.55 2.55 0 1 0 5.1 0a2.55 2.55 0 1 0 -5.1 0M640.6 357.7a2.55 2.55 0 1 0 5.1 0a2.55 2.55 0 1 0 -5.1 0M623.3 377.3a2.55 2.55 0 1 0 5.1 0a2.55 2.55 0 1 0 -5.1 0M620.6 383.1a2.55 2.55 0 1 0 5.1 0a2.55 2.55 0 1 0 -5.1 0M645.6 343.5a2.55 2.55 0 1 0 5.1 0a2.55 2.55 0 1 0 -5.1 0M634.2 363.9a2.55 2.55 0 1 0 5.1 0a2.55 2.55 0 1 0 -5.1 0M624.6 382.3a2.55 2.55 0 1 0 5.1 0a2.55 2.55 0 1 0 -5.1 0M624.6 381.3a2.55 2.55 0 1 0 5.1 0a2.55 2.55 0 1 0 -5.1 0M631.4 371.7a2.55 2.55 0 1 0 5.1 0a2.55 2.55 0 1 0 -5.1 0M643.6 356.0a2.55 2.55 0 1 0 5.1 0a2.55 2.55 0 1 0 -5.1 0M629.4 364.0a2.55 2.55 0 1 0 5.1 0a2.55 2.55 0 1 0 -5.1 0M638.8 354.5a2.55 2.55 0 1 0 5.1 0a2.55 2.55 0 1 0 -5.1 0M633.1 363.3a2.55 2.55 0 1 0 5.1 0a2.55 2.55 0 1 0 -5.1 0M627.5 369.0a2.55 2.55 0 1 0 5.1 0a2.55 2.55 0 1 0 -5.1 0M653.7 336.0a2.55 2.55 0 1 0 5.1 0a2.55 2.55 0 1 0 -5.1 0M640.2 358.0a2.55 2.55 0 1 0 5.1 0a2.55 2.55 0 1 0 -5.1 0M645.1 347.1a2.55 2.55 0 1 0 5.1 0a2.55 2.55 0 1 0 -5.1 0M610.2 397.6a2.55 2.55 0 1 0 5.1 0a2.55 2.55 0 1 0 -5.1 0M637.9 368.0a2.55 2.55 0 1 0 5.1 0a2.55 2.55 0 1 0 -5.1 0M624.5 375.5a2.55 2.55 0 1 0 5.1 0a2.55 2.55 0 1 0 -5.1 0M605.8 408.3a2.55 2.55 0 1 0 5.1 0a2.55 2.55 0 1 0 -5.1 0M626.9 379.6a2.55 2.55 0 1 0 5.1 0a2.55 2.55 0 1 0 -5.1 0M620.4 376.1a2.55 2.55 0 1 0 5.1 0a2.55 2.55 0 1 0 -5.1 0M643.1 357.6a2.55 2.55 0 1 0 5.1 0a2.55 2.55 0 1 0 -5.1 0M625.1 369.6a2.55 2.55 0 1 0 5.1 0a2.55 2.55 0 1 0 -5.1 0M635.5 364.3a2.55 2.55 0 1 0 5.1 0a2.55 2.55 0 1 0 -5.1 0M635.7 358.7a2.55 2.55 0 1 0 5.1 0a2.55 2.55 0 1 0 -5.1 0M625.4 384.6a2.55 2.55 0 1 0 5.1 0a2.55 2.55 0 1 0 -5.1 0M649.6 337.9a2.55 2.55 0 1 0 5.1 0a2.55 2.55 0 1 0 -5.1 0M598.2 410.7a2.55 2.55 0 1 0 5.1 0a2.55 2.55 0 1 0 -5.1 0M633.0 364.4a2.55 2.55 0 1 0 5.1 0a2.55 2.55 0 1 0 -5.1 0M649.6 352.2a2.55 2.55 0 1 0 5.1 0a2.55 2.55 0 1 0 -5.1 0M607.2 394.4a2.55 2.55 0 1 0 5.1 0a2.55 2.55 0 1 0 -5.1 0M612.2 400.6a2.55 2.55 0 1 0 5.1 0a2.55 2.55 0 1 0 -5.1 0M630.7 377.7a2.55 2.55 0 1 0 5.1 0a2.55 2.55 0 1 0 -5.1 0M631.0 366.4a2.55 2.55 0 1 0 5.1 0a2.55 2.55 0 1 0 -5.1 0M624.1 373.4a2.55 2.55 0 1 0 5.1 0a2.55 2.55 0 1 0 -5.1 0M647.9 345.0a2.55 2.55 0 1 0 5.1 0a2.55 2.55 0 1 0 -5.1 0M642.3 354.1a2.55 2.55 0 1 0 5.1 0a2.55 2.55 0 1 0 -5.1 0M614.0 392.7a2.55 2.55 0 1 0 5.1 0a2.55 2.55 0 1 0 -5.1 0M641.4 347.6a2.55 2.55 0 1 0 5.1 0a2.55 2.55 0 1 0 -5.1 0M619.5 387.4a2.55 2.55 0 1 0 5.1 0a2.55 2.55 0 1 0 -5.1 0M633.0 359.7a2.55 2.55 0 1 0 5.1 0a2.55 2.55 0 1 0 -5.1 0M644.2 354.5a2.55 2.55 0 1 0 5.1 0a2.55 2.55 0 1 0 -5.1 0M620.6 384.2a2.55 2.55 0 1 0 5.1 0a2.55 2.55 0 1 0 -5.1 0M624.6 382.5a2.55 2.55 0 1 0 5.1 0a2.55 2.55 0 1 0 -5.1 0M630.0 365.8a2.55 2.55 0 1 0 5.1 0a2.55 2.55 0 1 0 -5.1 0M626.4 367.8a2.55 2.55 0 1 0 5.1 0a2.55 2.55 0 1 0 -5.1 0M632.3 370.5a2.55 2.55 0 1 0 5.1 0a2.55 2.55 0 1 0 -5.1 0M634.7 361.2a2.55 2.55 0 1 0 5.1 0a2.55 2.55 0 1 0 -5.1 0M651.8 353.5a2.55 2.55 0 1 0 5.1 0a2.55 2.55 0 1 0 -5.1 0M629.6 373.0a2.55 2.55 0 1 0 5.1 0a2.55 2.55 0 1 0 -5.1 0M636.0 370.1a2.55 2.55 0 1 0 5.1 0a2.55 2.55 0 1 0 -5.1 0M610.6 394.8a2.55 2.55 0 1 0 5.1 0a2.55 2.55 0 1 0 -5.1 0M635.5 362.8a2.55 2.55 0 1 0 5.1 0a2.55 2.55 0 1 0 -5.1 0M636.8 362.3a2.55 2.55 0 1 0 5.1 0a2.55 2.55 0 1 0 -5.1 0M634.8 361.7a2.55 2.55 0 1 0 5.1 0a2.55 2.55 0 1 0 -5.1 0M631.3 368.3a2.55 2.55 0 1 0 5.1 0a2.55 2.55 0 1 0 -5.1 0M643.3 351.1a2.55 2.55 0 1 0 5.1 0a2.55 2.55 0 1 0 -5.1 0M620.2 375.5a2.55 2.55 0 1 0 5.1 0a2.55 2.55 0 1 0 -5.1 0M664.4 333.3a2.55 2.55 0 1 0 5.1 0a2.55 2.55 0 1 0 -5.1 0M618.4 390.5a2.55 2.55 0 1 0 5.1 0a2.55 2.55 0 1 0 -5.1 0M642.8 348.8a2.55 2.55 0 1 0 5.1 0a2.55 2.55 0 1 0 -5.1 0M639.7 364.4a2.55 2.55 0 1 0 5.1 0a2.55 2.55 0 1 0 -5.1 0M611.8 398.2a2.55 2.55 0 1 0 5.1 0a2.55 2.55 0 1 0 -5.1 0M617.6 385.9a2.55 2.55 0 1 0 5.1 0a2.55 2.55 0 1 0 -5.1 0M606.2 392.6a2.55 2.55 0 1 0 5.1 0a2.55 2.55 0 1 0 -5.1 0M627.6 374.4a2.55 2.55 0 1 0 5.1 0a2.55 2.55 0 1 0 -5.1 0M646.5 355.7a2.55 2.55 0 1 0 5.1 0a2.55 2.55 0 1 0 -5.1 0M651.3 341.4a2.55 2.55 0 1 0 5.1 0a2.55 2.55 0 1 0 -5.1 0M615.5 396.8a2.55 2.55 0 1 0 5.1 0a2.55 2.55 0 1 0 -5.1 0M618.6 388.9a2.55 2.55 0 1 0 5.1 0a2.55 2.55 0 1 0 -5.1 0M643.1 358.1a2.55 2.55 0 1 0 5.1 0a2.55 2.55 0 1 0 -5.1 0M623.0 380.0a2.55 2.55 0 1 0 5.1 0a2.55 2.55 0 1 0 -5.1 0M624.6 362.6a2.55 2.55 0 1 0 5.1 0a2.55 2.55 0 1 0 -5.1 0M630.1 374.1a2.55 2.55 0 1 0 5.1 0a2.55 2.55 0 1 0 -5.1 0M634.4 366.5a2.55 2.55 0 1 0 5.1 0a2.55 2.55 0 1 0 -5.1 0M646.7 345.1a2.55 2.55 0 1 0 5.1 0a2.55 2.55 0 1 0 -5.1 0M642.6 366.9a2.55 2.55 0 1 0 5.1 0a2.55 2.55 0 1 0 -5.1 0M606.1 398.2a2.55 2.55 0 1 0 5.1 0a2.55 2.55 0 1 0 -5.1 0M614.3 389.5a2.55 2.55 0 1 0 5.1 0a2.55 2.55 0 1 0 -5.1 0M644.2 366.8a2.55 2.55 0 1 0 5.1 0a2.55 2.55 0 1 0 -5.1 0M628.6 366.3a2.55 2.55 0 1 0 5.1 0a2.55 2.55 0 1 0 -5.1 0M633.0 360.7a2.55 2.55 0 1 0 5.1 0a2.55 2.55 0 1 0 -5.1 0M642.5 360.4a2.55 2.55 0 1 0 5.1 0a2.55 2.55 0 1 0 -5.1 0M612.1 385.5a2.55 2.55 0 1 0 5.1 0a2.55 2.55 0 1 0 -5.1 0M639.4 349.4a2.55 2.55 0 1 0 5.1 0a2.55 2.55 0 1 0 -5.1 0M622.5 371.0a2.55 2.55 0 1 0 5.1 0a2.55 2.55 0 1 0 -5.1 0M644.6 363.7a2.55 2.55 0 1 0 5.1 0a2.55 2.55 0 1 0 -5.1 0M652.4 345.3a2.55 2.55 0 1 0 5.1 0a2.55 2.55 0 1 0 -5.1 0M601.4 397.4a2.55 2.55 0 1 0 5.1 0a2.55 2.55 0 1 0 -5.1 0M630.4 356.1a2.55 2.55 0 1 0 5.1 0a2.55 2.55 0 1 0 -5.1 0M654.5 339.3a2.55 2.55 0 1 0 5.1 0a2.55 2.55 0 1 0 -5.1 0M622.4 378.1a2.55 2.55 0 1 0 5.1 0a2.55 2.55 0 1 0 -5.1 0M636.9 363.8a2.55 2.55 0 1 0 5.1 0a2.55 2.55 0 1 0 -5.1 0M648.2 357.0a2.55 2.55 0 1 0 5.1 0a2.55 2.55 0 1 0 -5.1 0M627.9 366.5a2.55 2.55 0 1 0 5.1 0a2.55 2.55 0 1 0 -5.1 0M629.1 370.7a2.55 2.55 0 1 0 5.1 0a2.55 2.55 0 1 0 -5.1 0M625.2 378.7a2.55 2.55 0 1 0 5.1 0a2.55 2.55 0 1 0 -5.1 0M621.4 385.7a2.55 2.55 0 1 0 5.1 0a2.55 2.55 0 1 0 -5.1 0M604.7 388.3a2.55 2.55 0 1 0 5.1 0a2.55 2.55 0 1 0 -5.1 0M612.5 381.1a2.55 2.55 0 1 0 5.1 0a2.55 2.55 0 1 0 -5.1 0M645.9 333.2a2.55 2.55 0 1 0 5.1 0a2.55 2.55 0 1 0 -5.1 0M638.3 359.9a2.55 2.55 0 1 0 5.1 0a2.55 2.55 0 1 0 -5.1 0M632.5 364.8a2.55 2.55 0 1 0 5.1 0a2.55 2.55 0 1 0 -5.1 0M633.4 355.5a2.55 2.55 0 1 0 5.1 0a2.55 2.55 0 1 0 -5.1 0M638.1 359.0a2.55 2.55 0 1 0 5.1 0a2.55 2.55 0 1 0 -5.1 0M626.4 390.0a2.55 2.55 0 1 0 5.1 0a2.55 2.55 0 1 0 -5.1 0M641.3 368.4a2.55 2.55 0 1 0 5.1 0a2.55 2.55 0 1 0 -5.1 0M632.8 364.6a2.55 2.55 0 1 0 5.1 0a2.55 2.55 0 1 0 -5.1 0M642.6 349.8a2.55 2.55 0 1 0 5.1 0a2.55 2.55 0 1 0 -5.1 0M636.1 349.7a2.55 2.55 0 1 0 5.1 0a2.55 2.55 0 1 0 -5.1 0M620.5 378.9a2.55 2.55 0 1 0 5.1 0a2.55 2.55 0 1 0 -5.1 0M626.8 368.5a2.55 2.55 0 1 0 5.1 0a2.55 2.55 0 1 0 -5.1 0M628.3 381.2a2.55 2.55 0 1 0 5.1 0a2.55 2.55 0 1 0 -5.1 0M611.4 395.3a2.55 2.55 0 1 0 5.1 0a2.55 2.55 0 1 0 -5.1 0M600.5 372.2a2.55 2.55 0 1 0 5.1 0a2.55 2.55 0 1 0 -5.1 0M613.0 386.9a2.55 2.55 0 1 0 5.1 0a2.55 2.55 0 1 0 -5.1 0M603.6 422.1a2.55 2.55 0 1 0 5.1 0a2.55 2.55 0 1 0 -5.1 0M618.1 390.6a2.55 2.55 0 1 0 5.1 0a2.55 2.55 0 1 0 -5.1 0M624.7 393.7a2.55 2.55 0 1 0 5.1 0a2.55 2.55 0 1 0 -5.1 0M630.6 377.7a2.55 2.55 0 1 0 5.1 0a2.55 2.55 0 1 0 -5.1 0M601.8 399.3a2.55 2.55 0 1 0 5.1 0a2.55 2.55 0 1 0 -5.1 0M633.3 397.3a2.55 2.55 0 1 0 5.1 0a2.55 2.55 0 1 0 -5.1 0M633.8 389.5a2.55 2.55 0 1 0 5.1 0a2.55 2.55 0 1 0 -5.1 0M650.3 386.2a2.55 2.55 0 1 0 5.1 0a2.55 2.55 0 1 0 -5.1 0M636.0 406.3a2.55 2.55 0 1 0 5.1 0a2.55 2.55 0 1 0 -5.1 0M608.0 394.2a2.55 2.55 0 1 0 5.1 0a2.55 2.55 0 1 0 -5.1 0M605.8 398.0a2.55 2.55 0 1 0 5.1 0a2.55 2.55 0 1 0 -5.1 0M617.9 377.9a2.55 2.55 0 1 0 5.1 0a2.55 2.55 0 1 0 -5.1 0M619.8 369.7a2.55 2.55 0 1 0 5.1 0a2.55 2.55 0 1 0 -5.1 0M621.6 391.7a2.55 2.55 0 1 0 5.1 0a2.55 2.55 0 1 0 -5.1 0M619.3 396.4a2.55 2.55 0 1 0 5.1 0a2.55 2.55 0 1 0 -5.1 0M626.2 396.3a2.55 2.55 0 1 0 5.1 0a2.55 2.55 0 1 0 -5.1 0M614.3 383.8a2.55 2.55 0 1 0 5.1 0a2.55 2.55 0 1 0 -5.1 0M624.7 390.5a2.55 2.55 0 1 0 5.1 0a2.55 2.55 0 1 0 -5.1 0M618.3 379.9a2.55 2.55 0 1 0 5.1 0a2.55 2.55 0 1 0 -5.1 0M609.7 407.4a2.55 2.55 0 1 0 5.1 0a2.55 2.55 0 1 0 -5.1 0M644.8 381.5a2.55 2.55 0 1 0 5.1 0a2.55 2.55 0 1 0 -5.1 0M645.9 382.1a2.55 2.55 0 1 0 5.1 0a2.55 2.55 0 1 0 -5.1 0M627.9 399.0a2.55 2.55 0 1 0 5.1 0a2.55 2.55 0 1 0 -5.1 0M633.7 377.3a2.55 2.55 0 1 0 5.1 0a2.55 2.55 0 1 0 -5.1 0M616.1 395.8a2.55 2.55 0 1 0 5.1 0a2.55 2.55 0 1 0 -5.1 0M616.7 390.5a2.55 2.55 0 1 0 5.1 0a2.55 2.55 0 1 0 -5.1 0M598.2 388.3a2.55 2.55 0 1 0 5.1 0a2.55 2.55 0 1 0 -5.1 0M622.6 391.8a2.55 2.55 0 1 0 5.1 0a2.55 2.55 0 1 0 -5.1 0M606.5 386.7a2.55 2.55 0 1 0 5.1 0a2.55 2.55 0 1 0 -5.1 0M605.6 375.8a2.55 2.55 0 1 0 5.1 0a2.55 2.55 0 1 0 -5.1 0M645.6 391.5a2.55 2.55 0 1 0 5.1 0a2.55 2.55 0 1 0 -5.1 0M622.7 357.0a2.55 2.55 0 1 0 5.1 0a2.55 2.55 0 1 0 -5.1 0M620.0 400.9a2.55 2.55 0 1 0 5.1 0a2.55 2.55 0 1 0 -5.1 0M656.2 393.2a2.55 2.55 0 1 0 5.1 0a2.55 2.55 0 1 0 -5.1 0M625.5 398.1a2.55 2.55 0 1 0 5.1 0a2.55 2.55 0 1 0 -5.1 0M604.3 384.5a2.55 2.55 0 1 0 5.1 0a2.55 2.55 0 1 0 -5.1 0M618.4 400.6a2.55 2.55 0 1 0 5.1 0a2.55 2.55 0 1 0 -5.1 0M626.7 385.3a2.55 2.55 0 1 0 5.1 0a2.55 2.55 0 1 0 -5.1 0M631.6 401.6a2.55 2.55 0 1 0 5.1 0a2.55 2.55 0 1 0 -5.1 0M622.4 401.9a2.55 2.55 0 1 0 5.1 0a2.55 2.55 0 1 0 -5.1 0M630.7 386.3a2.55 2.55 0 1 0 5.1 0a2.55 2.55 0 1 0 -5.1 0M605.2 370.3a2.55 2.55 0 1 0 5.1 0a2.55 2.55 0 1 0 -5.1 0M654.2 401.3a2.55 2.55 0 1 0 5.1 0a2.55 2.55 0 1 0 -5.1 0M638.7 396.7a2.55 2.55 0 1 0 5.1 0a2.55 2.55 0 1 0 -5.1 0M630.7 381.9a2.55 2.55 0 1 0 5.1 0a2.55 2.55 0 1 0 -5.1 0M616.3 392.6a2.55 2.55 0 1 0 5.1 0a2.55 2.55 0 1 0 -5.1 0M624.2 409.1a2.55 2.55 0 1 0 5.1 0a2.55 2.55 0 1 0 -5.1 0M609.1 386.3a2.55 2.55 0 1 0 5.1 0a2.55 2.55 0 1 0 -5.1 0M622.0 388.1a2.55 2.55 0 1 0 5.1 0a2.55 2.55 0 1 0 -5.1 0M624.3 405.4a2.55 2.55 0 1 0 5.1 0a2.55 2.55 0 1 0 -5.1 0M629.2 395.5a2.55 2.55 0 1 0 5.1 0a2.55 2.55 0 1 0 -5.1 0M624.4 397.3a2.55 2.55 0 1 0 5.1 0a2.55 2.55 0 1 0 -5.1 0M621.8 397.4a2.55 2.55 0 1 0 5.1 0a2.55 2.55 0 1 0 -5.1 0M630.5 392.4a2.55 2.55 0 1 0 5.1 0a2.55 2.55 0 1 0 -5.1 0M628.2 373.0a2.55 2.55 0 1 0 5.1 0a2.55 2.55 0 1 0 -5.1 0M620.7 404.7a2.55 2.55 0 1 0 5.1 0a2.55 2.55 0 1 0 -5.1 0M622.8 386.7a2.55 2.55 0 1 0 5.1 0a2.55 2.55 0 1 0 -5.1 0M642.0 372.7a2.55 2.55 0 1 0 5.1 0a2.55 2.55 0 1 0 -5.1 0M645.1 390.1a2.55 2.55 0 1 0 5.1 0a2.55 2.55 0 1 0 -5.1 0M623.2 369.2a2.55 2.55 0 1 0 5.1 0a2.55 2.55 0 1 0 -5.1 0M628.6 381.0a2.55 2.55 0 1 0 5.1 0a2.55 2.55 0 1 0 -5.1 0M605.0 415.9a2.55 2.55 0 1 0 5.1 0a2.55 2.55 0 1 0 -5.1 0M642.0 387.4a2.55 2.55 0 1 0 5.1 0a2.55 2.55 0 1 0 -5.1 0M613.9 404.9a2.55 2.55 0 1 0 5.1 0a2.55 2.55 0 1 0 -5.1 0M637.3 394.8a2.55 2.55 0 1 0 5.1 0a2.55 2.55 0 1 0 -5.1 0M617.8 394.3a2.55 2.55 0 1 0 5.1 0a2.55 2.55 0 1 0 -5.1 0M623.8 389.4a2.55 2.55 0 1 0 5.1 0a2.55 2.55 0 1 0 -5.1 0M619.8 395.6a2.55 2.55 0 1 0 5.1 0a2.55 2.55 0 1 0 -5.1 0M590.4 385.9a2.55 2.55 0 1 0 5.1 0a2.55 2.55 0 1 0 -5.1 0M636.9 385.4a2.55 2.55 0 1 0 5.1 0a2.55 2.55 0 1 0 -5.1 0M629.4 385.9a2.55 2.55 0 1 0 5.1 0a2.55 2.55 0 1 0 -5.1 0M620.9 402.3a2.55 2.55 0 1 0 5.1 0a2.55 2.55 0 1 0 -5.1 0M609.4 364.1a2.55 2.55 0 1 0 5.1 0a2.55 2.55 0 1 0 -5.1 0M591.5 384.8a2.55 2.55 0 1 0 5.1 0a2.55 2.55 0 1 0 -5.1 0M608.0 378.4a2.55 2.55 0 1 0 5.1 0a2.55 2.55 0 1 0 -5.1 0M639.0 379.6a2.55 2.55 0 1 0 5.1 0a2.55 2.55 0 1 0 -5.1 0M627.6 379.1a2.55 2.55 0 1 0 5.1 0a2.55 2.55 0 1 0 -5.1 0M630.6 387.5a2.55 2.55 0 1 0 5.1 0a2.55 2.55 0 1 0 -5.1 0M636.9 377.0a2.55 2.55 0 1 0 5.1 0a2.55 2.55 0 1 0 -5.1 0M626.7 393.0a2.55 2.55 0 1 0 5.1 0a2.55 2.55 0 1 0 -5.1 0M610.4 408.0a2.55 2.55 0 1 0 5.1 0a2.55 2.55 0 1 0 -5.1 0M603.8 395.5a2.55 2.55 0 1 0 5.1 0a2.55 2.55 0 1 0 -5.1 0M619.0 393.2a2.55 2.55 0 1 0 5.1 0a2.55 2.55 0 1 0 -5.1 0M643.0 394.3a2.55 2.55 0 1 0 5.1 0a2.55 2.55 0 1 0 -5.1 0M631.0 379.3a2.55 2.55 0 1 0 5.1 0a2.55 2.55 0 1 0 -5.1 0M635.3 397.0a2.55 2.55 0 1 0 5.1 0a2.55 2.55 0 1 0 -5.1 0M618.0 413.8a2.55 2.55 0 1 0 5.1 0a2.55 2.55 0 1 0 -5.1 0M613.0 405.8a2.55 2.55 0 1 0 5.1 0a2.55 2.55 0 1 0 -5.1 0M617.8 395.4a2.55 2.55 0 1 0 5.1 0a2.55 2.55 0 1 0 -5.1 0M621.9 396.3a2.55 2.55 0 1 0 5.1 0a2.55 2.55 0 1 0 -5.1 0M656.3 400.2a2.55 2.55 0 1 0 5.1 0a2.55 2.55 0 1 0 -5.1 0M626.9 423.5a2.55 2.55 0 1 0 5.1 0a2.55 2.55 0 1 0 -5.1 0M601.5 401.5a2.55 2.55 0 1 0 5.1 0a2.55 2.55 0 1 0 -5.1 0M626.0 392.8a2.55 2.55 0 1 0 5.1 0a2.55 2.55 0 1 0 -5.1 0M651.6 399.1a2.55 2.55 0 1 0 5.1 0a2.55 2.55 0 1 0 -5.1 0M630.6 381.6a2.55 2.55 0 1 0 5.1 0a2.55 2.55 0 1 0 -5.1 0M615.0 387.0a2.55 2.55 0 1 0 5.1 0a2.55 2.55 0 1 0 -5.1 0M632.6 409.9a2.55 2.55 0 1 0 5.1 0a2.55 2.55 0 1 0 -5.1 0M650.7 409.3a2.55 2.55 0 1 0 5.1 0a2.55 2.55 0 1 0 -5.1 0M615.7 396.5a2.55 2.55 0 1 0 5.1 0a2.55 2.55 0 1 0 -5.1 0M617.3 382.6a2.55 2.55 0 1 0 5.1 0a2.55 2.55 0 1 0 -5.1 0M614.1 365.1a2.55 2.55 0 1 0 5.1 0a2.55 2.55 0 1 0 -5.1 0M639.1 409.1a2.55 2.55 0 1 0 5.1 0a2.55 2.55 0 1 0 -5.1 0M640.2 397.2a2.55 2.55 0 1 0 5.1 0a2.55 2.55 0 1 0 -5.1 0M624.2 412.6a2.55 2.55 0 1 0 5.1 0a2.55 2.55 0 1 0 -5.1 0M627.1 384.6a2.55 2.55 0 1 0 5.1 0a2.55 2.55 0 1 0 -5.1 0M621.6 397.8a2.55 2.55 0 1 0 5.1 0a2.55 2.55 0 1 0 -5.1 0M635.7 380.8a2.55 2.55 0 1 0 5.1 0a2.55 2.55 0 1 0 -5.1 0M613.2 407.5a2.55 2.55 0 1 0 5.1 0a2.55 2.55 0 1 0 -5.1 0M633.9 392.4a2.55 2.55 0 1 0 5.1 0a2.55 2.55 0 1 0 -5.1 0M620.6 418.8a2.55 2.55 0 1 0 5.1 0a2.55 2.55 0 1 0 -5.1 0M618.3 402.9a2.55 2.55 0 1 0 5.1 0a2.55 2.55 0 1 0 -5.1 0M624.1 400.6a2.55 2.55 0 1 0 5.1 0a2.55 2.55 0 1 0 -5.1 0M601.1 420.4a2.55 2.55 0 1 0 5.1 0a2.55 2.55 0 1 0 -5.1 0M620.7 387.5a2.55 2.55 0 1 0 5.1 0a2.55 2.55 0 1 0 -5.1 0M604.8 398.6a2.55 2.55 0 1 0 5.1 0a2.55 2.55 0 1 0 -5.1 0M630.8 385.3a2.55 2.55 0 1 0 5.1 0a2.55 2.55 0 1 0 -5.1 0M622.3 397.5a2.55 2.55 0 1 0 5.1 0a2.55 2.55 0 1 0 -5.1 0M653.9 378.9a2.55 2.55 0 1 0 5.1 0a2.55 2.55 0 1 0 -5.1 0M633.5 403.9a2.55 2.55 0 1 0 5.1 0a2.55 2.55 0 1 0 -5.1 0M622.8 412.0a2.55 2.55 0 1 0 5.1 0a2.55 2.55 0 1 0 -5.1 0M632.2 394.2a2.55 2.55 0 1 0 5.1 0a2.55 2.55 0 1 0 -5.1 0M605.3 377.1a2.55 2.55 0 1 0 5.1 0a2.55 2.55 0 1 0 -5.1 0M633.1 391.5a2.55 2.55 0 1 0 5.1 0a2.55 2.55 0 1 0 -5.1 0M610.8 370.7a2.55 2.55 0 1 0 5.1 0a2.55 2.55 0 1 0 -5.1 0M613.9 402.2a2.55 2.55 0 1 0 5.1 0a2.55 2.55 0 1 0 -5.1 0M621.2 393.4a2.55 2.55 0 1 0 5.1 0a2.55 2.55 0 1 0 -5.1 0M619.6 397.9a2.55 2.55 0 1 0 5.1 0a2.55 2.55 0 1 0 -5.1 0M628.2 378.4a2.55 2.55 0 1 0 5.1 0a2.55 2.55 0 1 0 -5.1 0M644.9 394.9a2.55 2.55 0 1 0 5.1 0a2.55 2.55 0 1 0 -5.1 0M624.1 373.0a2.55 2.55 0 1 0 5.1 0a2.55 2.55 0 1 0 -5.1 0M631.8 394.7a2.55 2.55 0 1 0 5.1 0a2.55 2.55 0 1 0 -5.1 0M643.7 401.5a2.55 2.55 0 1 0 5.1 0a2.55 2.55 0 1 0 -5.1 0M648.4 373.6a2.55 2.55 0 1 0 5.1 0a2.55 2.55 0 1 0 -5.1 0M632.9 387.9a2.55 2.55 0 1 0 5.1 0a2.55 2.55 0 1 0 -5.1 0M613.5 414.2a2.55 2.55 0 1 0 5.1 0a2.55 2.55 0 1 0 -5.1 0M629.1 389.5a2.55 2.55 0 1 0 5.1 0a2.55 2.55 0 1 0 -5.1 0M635.9 383.9a2.55 2.55 0 1 0 5.1 0a2.55 2.55 0 1 0 -5.1 0M618.9 375.7a2.55 2.55 0 1 0 5.1 0a2.55 2.55 0 1 0 -5.1 0M619.3 383.0a2.55 2.55 0 1 0 5.1 0a2.55 2.55 0 1 0 -5.1 0M626.6 384.4a2.55 2.55 0 1 0 5.1 0a2.55 2.55 0 1 0 -5.1 0M628.8 404.1a2.55 2.55 0 1 0 5.1 0a2.55 2.55 0 1 0 -5.1 0M625.2 416.2a2.55 2.55 0 1 0 5.1 0a2.55 2.55 0 1 0 -5.1 0M629.8 387.3a2.55 2.55 0 1 0 5.1 0a2.55 2.55 0 1 0 -5.1 0M630.9 408.3a2.55 2.55 0 1 0 5.1 0a2.55 2.55 0 1 0 -5.1 0M614.8 381.2a2.55 2.55 0 1 0 5.1 0a2.55 2.55 0 1 0 -5.1 0M640.8 383.7a2.55 2.55 0 1 0 5.1 0a2.55 2.55 0 1 0 -5.1 0M633.4 396.3a2.55 2.55 0 1 0 5.1 0a2.55 2.55 0 1 0 -5.1 0M634.8 389.7a2.55 2.55 0 1 0 5.1 0a2.55 2.55 0 1 0 -5.1 0M612.3 397.2a2.55 2.55 0 1 0 5.1 0a2.55 2.55 0 1 0 -5.1 0M630.3 407.8a2.55 2.55 0 1 0 5.1 0a2.55 2.55 0 1 0 -5.1 0M631.8 412.6a2.55 2.55 0 1 0 5.1 0a2.55 2.55 0 1 0 -5.1 0M602.7 392.8a2.55 2.55 0 1 0 5.1 0a2.55 2.55 0 1 0 -5.1 0M628.2 387.6a2.55 2.55 0 1 0 5.1 0a2.55 2.55 0 1 0 -5.1 0M635.5 393.1a2.55 2.55 0 1 0 5.1 0a2.55 2.55 0 1 0 -5.1 0M628.4 391.3a2.55 2.55 0 1 0 5.1 0a2.55 2.55 0 1 0 -5.1 0M620.5 403.7a2.55 2.55 0 1 0 5.1 0a2.55 2.55 0 1 0 -5.1 0M646.1 387.3a2.55 2.55 0 1 0 5.1 0a2.55 2.55 0 1 0 -5.1 0M627.4 397.7a2.55 2.55 0 1 0 5.1 0a2.55 2.55 0 1 0 -5.1 0M631.6 410.9a2.55 2.55 0 1 0 5.1 0a2.55 2.55 0 1 0 -5.1 0M640.3 383.9a2.55 2.55 0 1 0 5.1 0a2.55 2.55 0 1 0 -5.1 0M619.0 399.2a2.55 2.55 0 1 0 5.1 0a2.55 2.55 0 1 0 -5.1 0M626.3 399.7a2.55 2.55 0 1 0 5.1 0a2.55 2.55 0 1 0 -5.1 0M636.1 390.7a2.55 2.55 0 1 0 5.1 0a2.55 2.55 0 1 0 -5.1 0M648.0 396.6a2.55 2.55 0 1 0 5.1 0a2.55 2.55 0 1 0 -5.1 0M638.0 390.9a2.55 2.55 0 1 0 5.1 0a2.55 2.55 0 1 0 -5.1 0M627.5 383.9a2.55 2.55 0 1 0 5.1 0a2.55 2.55 0 1 0 -5.1 0M610.7 376.3a2.55 2.55 0 1 0 5.1 0a2.55 2.55 0 1 0 -5.1 0M624.0 383.9a2.55 2.55 0 1 0 5.1 0a2.55 2.55 0 1 0 -5.1 0M621.3 402.6a2.55 2.55 0 1 0 5.1 0a2.55 2.55 0 1 0 -5.1 0M628.6 378.3a2.55 2.55 0 1 0 5.1 0a2.55 2.55 0 1 0 -5.1 0M619.9 396.9a2.55 2.55 0 1 0 5.1 0a2.55 2.55 0 1 0 -5.1 0M635.0 386.7a2.55 2.55 0 1 0 5.1 0a2.55 2.55 0 1 0 -5.1 0M622.1 422.9a2.55 2.55 0 1 0 5.1 0a2.55 2.55 0 1 0 -5.1 0M608.3 387.1a2.55 2.55 0 1 0 5.1 0a2.55 2.55 0 1 0 -5.1 0M613.4 392.1a2.55 2.55 0 1 0 5.1 0a2.55 2.55 0 1 0 -5.1 0M622.4 397.8a2.55 2.55 0 1 0 5.1 0a2.55 2.55 0 1 0 -5.1 0M627.1 401.0a2.55 2.55 0 1 0 5.1 0a2.55 2.55 0 1 0 -5.1 0M623.8 396.1a2.55 2.55 0 1 0 5.1 0a2.55 2.55 0 1 0 -5.1 0M614.1 382.2a2.55 2.55 0 1 0 5.1 0a2.55 2.55 0 1 0 -5.1 0M636.1 392.3a2.55 2.55 0 1 0 5.1 0a2.55 2.55 0 1 0 -5.1 0M631.1 388.9a2.55 2.55 0 1 0 5.1 0a2.55 2.55 0 1 0 -5.1 0M612.1 395.3a2.55 2.55 0 1 0 5.1 0a2.55 2.55 0 1 0 -5.1 0M628.1 374.7a2.55 2.55 0 1 0 5.1 0a2.55 2.55 0 1 0 -5.1 0M630.9 393.2a2.55 2.55 0 1 0 5.1 0a2.55 2.55 0 1 0 -5.1 0M625.4 389.3a2.55 2.55 0 1 0 5.1 0a2.55 2.55 0 1 0 -5.1 0M627.0 400.6a2.55 2.55 0 1 0 5.1 0a2.55 2.55 0 1 0 -5.1 0M619.5 421.7a2.55 2.55 0 1 0 5.1 0a2.55 2.55 0 1 0 -5.1 0M620.5 406.4a2.55 2.55 0 1 0 5.1 0a2.55 2.55 0 1 0 -5.1 0M624.2 393.5a2.55 2.55 0 1 0 5.1 0a2.55 2.55 0 1 0 -5.1 0M614.7 393.6a2.55 2.55 0 1 0 5.1 0a2.55 2.55 0 1 0 -5.1 0M600.0 412.5a2.55 2.55 0 1 0 5.1 0a2.55 2.55 0 1 0 -5.1 0M620.0 364.6a2.55 2.55 0 1 0 5.1 0a2.55 2.55 0 1 0 -5.1 0M616.7 399.8a2.55 2.55 0 1 0 5.1 0a2.55 2.55 0 1 0 -5.1 0M610.2 391.2a2.55 2.55 0 1 0 5.1 0a2.55 2.55 0 1 0 -5.1 0M623.9 383.0a2.55 2.55 0 1 0 5.1 0a2.55 2.55 0 1 0 -5.1 0M669.2 405.3a2.55 2.55 0 1 0 5.1 0a2.55 2.55 0 1 0 -5.1 0M663.3 413.9a2.55 2.55 0 1 0 5.1 0a2.55 2.55 0 1 0 -5.1 0M663.3 381.6a2.55 2.55 0 1 0 5.1 0a2.55 2.55 0 1 0 -5.1 0M660.9 414.5a2.55 2.55 0 1 0 5.1 0a2.55 2.55 0 1 0 -5.1 0M674.7 412.2a2.55 2.55 0 1 0 5.1 0a2.55 2.55 0 1 0 -5.1 0M661.8 386.7a2.55 2.55 0 1 0 5.1 0a2.55 2.55 0 1 0 -5.1 0M656.5 387.6a2.55 2.55 0 1 0 5.1 0a2.55 2.55 0 1 0 -5.1 0M674.1 397.2a2.55 2.55 0 1 0 5.1 0a2.55 2.55 0 1 0 -5.1 0M672.2 412.8a2.55 2.55 0 1 0 5.1 0a2.55 2.55 0 1 0 -5.1 0M670.0 397.1a2.55 2.55 0 1 0 5.1 0a2.55 2.55 0 1 0 -5.1 0M652.2 404.7a2.55 2.55 0 1 0 5.1 0a2.55 2.55 0 1 0 -5.1 0M678.0 411.8a2.55 2.55 0 1 0 5.1 0a2.55 2.55 0 1 0 -5.1 0M661.6 381.7a2.55 2.55 0 1 0 5.1 0a2.55 2.55 0 1 0 -5.1 0M666.2 400.3a2.55 2.55 0 1 0 5.1 0a2.55 2.55 0 1 0 -5.1 0M657.4 416.3a2.55 2.55 0 1 0 5.1 0a2.55 2.55 0 1 0 -5.1 0M666.1 393.8a2.55 2.55 0 1 0 5.1 0a2.55 2.55 0 1 0 -5.1 0M655.5 422.2a2.55 2.55 0 1 0 5.1 0a2.55 2.55 0 1 0 -5.1 0M666.0 388.4a2.55 2.55 0 1 0 5.1 0a2.55 2.55 0 1 0 -5.1 0M662.1 393.6a2.55 2.55 0 1 0 5.1 0a2.55 2.55 0 1 0 -5.1 0M673.7 406.4a2.55 2.55 0 1 0 5.1 0a2.55 2.55 0 1 0 -5.1 0M672.0 404.0a2.55 2.55 0 1 0 5.1 0a2.55 2.55 0 1 0 -5.1 0M685.4 394.8a2.55 2.55 0 1 0 5.1 0a2.55 2.55 0 1 0 -5.1 0M663.2 407.9a2.55 2.55 0 1 0 5.1 0a2.55 2.55 0 1 0 -5.1 0M663.7 404.1a2.55 2.55 0 1 0 5.1 0a2.55 2.55 0 1 0 -5.1 0M665.4 409.3a2.55 2.55 0 1 0 5.1 0a2.55 2.55 0 1 0 -5.1 0M661.5 404.1a2.55 2.55 0 1 0 5.1 0a2.55 2.55 0 1 0 -5.1 0M657.8 410.0a2.55 2.55 0 1 0 5.1 0a2.55 2.55 0 1 0 -5.1 0M663.6 394.3a2.55 2.55 0 1 0 5.1 0a2.55 2.55 0 1 0 -5.1 0M664.0 408.8a2.55 2.55 0 1 0 5.1 0a2.55 2.55 0 1 0 -5.1 0M668.6 414.5a2.55 2.55 0 1 0 5.1 0a2.55 2.55 0 1 0 -5.1 0M674.9 400.6a2.55 2.55 0 1 0 5.1 0a2.55 2.55 0 1 0 -5.1 0M672.7 417.2a2.55 2.55 0 1 0 5.1 0a2.55 2.55 0 1 0 -5.1 0M654.5 404.4a2.55 2.55 0 1 0 5.1 0a2.55 2.55 0 1 0 -5.1 0M657.0 408.4a2.55 2.55 0 1 0 5.1 0a2.55 2.55 0 1 0 -5.1 0M653.7 403.4a2.55 2.55 0 1 0 5.1 0a2.55 2.55 0 1 0 -5.1 0M649.3 417.2a2.55 2.55 0 1 0 5.1 0a2.55 2.55 0 1 0 -5.1 0M645.2 423.4a2.55 2.55 0 1 0 5.1 0a2.55 2.55 0 1 0 -5.1 0M679.2 400.3a2.55 2.55 0 1 0 5.1 0a2.55 2.55 0 1 0 -5.1 0M661.5 406.6a2.55 2.55 0 1 0 5.1 0a2.55 2.55 0 1 0 -5.1 0M668.7 420.2a2.55 2.55 0 1 0 5.1 0a2.55 2.55 0 1 0 -5.1 0M662.3 413.1a2.55 2.55 0 1 0 5.1 0a2.55 2.55 0 1 0 -5.1 0M641.0 400.8a2.55 2.55 0 1 0 5.1 0a2.55 2.55 0 1 0 -5.1 0M676.6 409.4a2.55 2.55 0 1 0 5.1 0a2.55 2.55 0 1 0 -5.1 0M648.5 404.7a2.55 2.55 0 1 0 5.1 0a2.55 2.55 0 1 0 -5.1 0M653.8 425.3a2.55 2.55 0 1 0 5.1 0a2.55 2.55 0 1 0 -5.1 0M668.0 422.2a2.55 2.55 0 1 0 5.1 0a2.55 2.55 0 1 0 -5.1 0M661.0 438.5a2.55 2.55 0 1 0 5.1 0a2.55 2.55 0 1 0 -5.1 0M674.5 405.4a2.55 2.55 0 1 0 5.1 0a2.55 2.55 0 1 0 -5.1 0M672.2 387.8a2.55 2.55 0 1 0 5.1 0a2.55 2.55 0 1 0 -5.1 0M654.6 394.3a2.55 2.55 0 1 0 5.1 0a2.55 2.55 0 1 0 -5.1 0M666.9 399.2a2.55 2.55 0 1 0 5.1 0a2.55 2.55 0 1 0 -5.1 0M673.0 382.7a2.55 2.55 0 1 0 5.1 0a2.55 2.55 0 1 0 -5.1 0M659.3 399.0a2.55 2.55 0 1 0 5.1 0a2.55 2.55 0 1 0 -5.1 0M651.8 416.4a2.55 2.55 0 1 0 5.1 0a2.55 2.55 0 1 0 -5.1 0M669.6 402.5a2.55 2.55 0 1 0 5.1 0a2.55 2.55 0 1 0 -5.1 0M652.2 405.2a2.55 2.55 0 1 0 5.1 0a2.55 2.55 0 1 0 -5.1 0M668.8 426.5a2.55 2.55 0 1 0 5.1 0a2.55 2.55 0 1 0 -5.1 0M670.5 398.8a2.55 2.55 0 1 0 5.1 0a2.55 2.55 0 1 0 -5.1 0M670.6 381.8a2.55 2.55 0 1 0 5.1 0a2.55 2.55 0 1 0 -5.1 0M660.7 395.9a2.55 2.55 0 1 0 5.1 0a2.55 2.55 0 1 0 -5.1 0M573.9 624.6a2.55 2.55 0 1 0 5.1 0a2.55 2.55 0 1 0 -5.1 0M573.0 627.1a2.55 2.55 0 1 0 5.1 0a2.55 2.55 0 1 0 -5.1 0M538.8 617.6a2.55 2.55 0 1 0 5.1 0a2.55 2.55 0 1 0 -5.1 0M559.5 627.6a2.55 2.55 0 1 0 5.1 0a2.55 2.55 0 1 0 -5.1 0M543.4 630.0a2.55 2.55 0 1 0 5.1 0a2.55 2.55 0 1 0 -5.1 0M539.4 623.7a2.55 2.55 0 1 0 5.1 0a2.55 2.55 0 1 0 -5.1 0M554.0 624.4a2.55 2.55 0 1 0 5.1 0a2.55 2.55 0 1 0 -5.1 0M524.7 624.2a2.55 2.55 0 1 0 5.1 0a2.55 2.55 0 1 0 -5.1 0M531.9 625.1a2.55 2.55 0 1 0 5.1 0a2.55 2.55 0 1 0 -5.1 0M529.8 621.1a2.55 2.55 0 1 0 5.1 0a2.55 2.55 0 1 0 -5.1 0M527.2 628.2a2.55 2.55 0 1 0 5.1 0a2.55 2.55 0 1 0 -5.1 0M538.6 630.9a2.55 2.55 0 1 0 5.1 0a2.55 2.55 0 1 0 -5.1 0M524.2 627.3a2.55 2.55 0 1 0 5.1 0a2.55 2.55 0 1 0 -5.1 0M558.6 628.1a2.55 2.55 0 1 0 5.1 0a2.55 2.55 0 1 0 -5.1 0M573.8 628.4a2.55 2.55 0 1 0 5.1 0a2.55 2.55 0 1 0 -5.1 0M590.6 618.9a2.55 2.55 0 1 0 5.1 0a2.55 2.55 0 1 0 -5.1 0M522.9 625.2a2.55 2.55 0 1 0 5.1 0a2.55 2.55 0 1 0 -5.1 0M565.7 619.1a2.55 2.55 0 1 0 5.1 0a2.55 2.55 0 1 0 -5.1 0M555.3 628.9a2.55 2.55 0 1 0 5.1 0a2.55 2.55 0 1 0 -5.1 0M553.6 628.8a2.55 2.55 0 1 0 5.1 0a2.55 2.55 0 1 0 -5.1 0M542.8 627.3a2.55 2.55 0 1 0 5.1 0a2.55 2.55 0 1 0 -5.1 0M566.5 626.3a2.55 2.55 0 1 0 5.1 0a2.55 2.55 0 1 0 -5.1 0M565.4 627.5a2.55 2.55 0 1 0 5.1 0a2.55 2.55 0 1 0 -5.1 0M507.5 626.2a2.55 2.55 0 1 0 5.1 0a2.55 2.55 0 1 0 -5.1 0M551.1 620.3a2.55 2.55 0 1 0 5.1 0a2.55 2.55 0 1 0 -5.1 0M562.1 621.1a2.55 2.55 0 1 0 5.1 0a2.55 2.55 0 1 0 -5.1 0M569.0 627.5a2.55 2.55 0 1 0 5.1 0a2.55 2.55 0 1 0 -5.1 0M560.3 630.9a2.55 2.55 0 1 0 5.1 0a2.55 2.55 0 1 0 -5.1 0M540.8 623.6a2.55 2.55 0 1 0 5.1 0a2.55 2.55 0 1 0 -5.1 0M583.4 628.4a2.55 2.55 0 1 0 5.1 0a2.55 2.55 0 1 0 -5.1 0M539.7 625.9a2.55 2.55 0 1 0 5.1 0a2.55 2.55 0 1 0 -5.1 0M557.2 623.3a2.55 2.55 0 1 0 5.1 0a2.55 2.55 0 1 0 -5.1 0M521.3 626.2a2.55 2.55 0 1 0 5.1 0a2.55 2.55 0 1 0 -5.1 0M531.3 618.3a2.55 2.55 0 1 0 5.1 0a2.55 2.55 0 1 0 -5.1 0M561.2 624.5a2.55 2.55 0 1 0 5.1 0a2.55 2.55 0 1 0 -5.1 0M512.0 625.5a2.55 2.55 0 1 0 5.1 0a2.55 2.55 0 1 0 -5.1 0M509.9 627.0a2.55 2.55 0 1 0 5.1 0a2.55 2.55 0 1 0 -5.1 0M565.7 624.5a2.55 2.55 0 1 0 5.1 0a2.55 2.55 0 1 0 -5.1 0M571.3 619.1a2.55 2.55 0 1 0 5.1 0a2.55 2.55 0 1 0 -5.1 0M588.3 623.8a2.55 2.55 0 1 0 5.1 0a2.55 2.55 0 1 0 -5.1 0M570.0 618.8a2.55 2.55 0 1 0 5.1 0a2.55 2.55 0 1 0 -5.1 0M513.8 619.4a2.55 2.55 0 1 0 5.1 0a2.55 2.55 0 1 0 -5.1 0M551.1 627.6a2.55 2.55 0 1 0 5.1 0a2.55 2.55 0 1 0 -5.1 0M503.7 625.4a2.55 2.55 0 1 0 5.1 0a2.55 2.55 0 1 0 -5.1 0M581.7 618.7a2.55 2.55 0 1 0 5.1 0a2.55 2.55 0 1 0 -5.1 0M533.1 623.0a2.55 2.55 0 1 0 5.1 0a2.55 2.55 0 1 0 -5.1 0M512.6 619.5a2.55 2.55 0 1 0 5.1 0a2.55 2.55 0 1 0 -5.1 0M561.4 624.8a2.55 2.55 0 1 0 5.1 0a2.55 2.55 0 1 0 -5.1 0M564.4 624.0a2.55 2.55 0 1 0 5.1 0a2.55 2.55 0 1 0 -5.1 0M568.4 621.4a2.55 2.55 0 1 0 5.1 0a2.55 2.55 0 1 0 -5.1 0M530.0 624.4a2.55 2.55 0 1 0 5.1 0a2.55 2.55 0 1 0 -5.1 0M528.0 622.3a2.55 2.55 0 1 0 5.1 0a2.55 2.55 0 1 0 -5.1 0M566.7 627.9a2.55 2.55 0 1 0 5.1 0a2.55 2.55 0 1 0 -5.1 0M543.3 618.2a2.55 2.55 0 1 0 5.1 0a2.55 2.55 0 1 0 -5.1 0M557.5 622.5a2.55 2.55 0 1 0 5.1 0a2.55 2.55 0 1 0 -5.1 0M545.3 627.3a2.55 2.55 0 1 0 5.1 0a2.55 2.55 0 1 0 -5.1 0M506.6 628.4a2.55 2.55 0 1 0 5.1 0a2.55 2.55 0 1 0 -5.1 0M524.7 624.9a2.55 2.55 0 1 0 5.1 0a2.55 2.55 0 1 0 -5.1 0M554.3 626.7a2.55 2.55 0 1 0 5.1 0a2.55 2.55 0 1 0 -5.1 0M532.4 629.6a2.55 2.55 0 1 0 5.1 0a2.55 2.55 0 1 0 -5.1 0M580.7 621.6a2.55 2.55 0 1 0 5.1 0a2.55 2.55 0 1 0 -5.1 0M525.8 624.8a2.55 2.55 0 1 0 5.1 0a2.55 2.55 0 1 0 -5.1 0M566.3 619.3a2.55 2.55 0 1 0 5.1 0a2.55 2.55 0 1 0 -5.1 0M549.4 625.6a2.55 2.55 0 1 0 5.1 0a2.55 2.55 0 1 0 -5.1 0M532.2 630.8a2.55 2.55 0 1 0 5.1 0a2.55 2.55 0 1 0 -5.1 0M566.9 627.2a2.55 2.55 0 1 0 5.1 0a2.55 2.55 0 1 0 -5.1 0M562.0 626.9a2.55 2.55 0 1 0 5.1 0a2.55 2.55 0 1 0 -5.1 0M535.3 630.3a2.55 2.55 0 1 0 5.1 0a2.55 2.55 0 1 0 -5.1 0M553.0 624.8a2.55 2.55 0 1 0 5.1 0a2.55 2.55 0 1 0 -5.1 0M548.2 621.0a2.55 2.55 0 1 0 5.1 0a2.55 2.55 0 1 0 -5.1 0M546.5 619.5a2.55 2.55 0 1 0 5.1 0a2.55 2.55 0 1 0 -5.1 0M541.5 622.6a2.55 2.55 0 1 0 5.1 0a2.55 2.55 0 1 0 -5.1 0M563.1 621.4a2.55 2.55 0 1 0 5.1 0a2.55 2.55 0 1 0 -5.1 0M565.8 627.0a2.55 2.55 0 1 0 5.1 0a2.55 2.55 0 1 0 -5.1 0M517.8 628.9a2.55 2.55 0 1 0 5.1 0a2.55 2.55 0 1 0 -5.1 0M525.9 623.3a2.55 2.55 0 1 0 5.1 0a2.55 2.55 0 1 0 -5.1 0M528.6 623.8a2.55 2.55 0 1 0 5.1 0a2.55 2.55 0 1 0 -5.1 0M516.7 626.3a2.55 2.55 0 1 0 5.1 0a2.55 2.55 0 1 0 -5.1 0M517.0 630.1a2.55 2.55 0 1 0 5.1 0a2.55 2.55 0 1 0 -5.1 0M522.2 621.5a2.55 2.55 0 1 0 5.1 0a2.55 2.55 0 1 0 -5.1 0M501.2 629.9a2.55 2.55 0 1 0 5.1 0a2.55 2.55 0 1 0 -5.1 0M502.5 621.9a2.55 2.55 0 1 0 5.1 0a2.55 2.55 0 1 0 -5.1 0M511.3 626.1a2.55 2.55 0 1 0 5.1 0a2.55 2.55 0 1 0 -5.1 0M515.1 624.7a2.55 2.55 0 1 0 5.1 0a2.55 2.55 0 1 0 -5.1 0M499.1 630.3a2.55 2.55 0 1 0 5.1 0a2.55 2.55 0 1 0 -5.1 0M528.3 625.1a2.55 2.55 0 1 0 5.1 0a2.55 2.55 0 1 0 -5.1 0M513.4 629.8a2.55 2.55 0 1 0 5.1 0a2.55 2.55 0 1 0 -5.1 0M502.8 622.0a2.55 2.55 0 1 0 5.1 0a2.55 2.55 0 1 0 -5.1 0M515.5 624.2a2.55 2.55 0 1 0 5.1 0a2.55 2.55 0 1 0 -5.1 0M496.1 622.6a2.55 2.55 0 1 0 5.1 0a2.55 2.55 0 1 0 -5.1 0M515.4 625.5a2.55 2.55 0 1 0 5.1 0a2.55 2.55 0 1 0 -5.1 0M519.0 620.4a2.55 2.55 0 1 0 5.1 0a2.55 2.55 0 1 0 -5.1 0M505.6 629.8a2.55 2.55 0 1 0 5.1 0a2.55 2.55 0 1 0 -5.1 0M530.5 628.3a2.55 2.55 0 1 0 5.1 0a2.55 2.55 0 1 0 -5.1 0M508.6 622.7a2.55 2.55 0 1 0 5.1 0a2.55 2.55 0 1 0 -5.1 0M581.1 621.5a2.55 2.55 0 1 0 5.1 0a2.55 2.55 0 1 0 -5.1 0M579.3 612.5a2.55 2.55 0 1 0 5.1 0a2.55 2.55 0 1 0 -5.1 0M572.2 616.3a2.55 2.55 0 1 0 5.1 0a2.55 2.55 0 1 0 -5.1 0M586.5 622.2a2.55 2.55 0 1 0 5.1 0a2.55 2.55 0 1 0 -5.1 0M578.5 619.3a2.55 2.55 0 1 0 5.1 0a2.55 2.55 0 1 0 -5.1 0M580.9 622.3a2.55 2.55 0 1 0 5.1 0a2.55 2.55 0 1 0 -5.1 0M575.6 612.7a2.55 2.55 0 1 0 5.1 0a2.55 2.55 0 1 0 -5.1 0M585.4 619.8a2.55 2.55 0 1 0 5.1 0a2.55 2.55 0 1 0 -5.1 0M585.6 622.3a2.55 2.55 0 1 0 5.1 0a2.55 2.55 0 1 0 -5.1 0M575.0 614.0a2.55 2.55 0 1 0 5.1 0a2.55 2.55 0 1 0 -5.1 0M572.6 617.8a2.55 2.55 0 1 0 5.1 0a2.55 2.55 0 1 0 -5.1 0M595.0 615.2a2.55 2.55 0 1 0 5.1 0a2.55 2.55 0 1 0 -5.1 0M587.7 619.9a2.55 2.55 0 1 0 5.1 0a2.55 2.55 0 1 0 -5.1 0M582.0 620.8a2.55 2.55 0 1 0 5.1 0a2.55 2.55 0 1 0 -5.1 0M578.9 621.2a2.55 2.55 0 1 0 5.1 0a2.55 2.55 0 1 0 -5.1 0M588.1 611.6a2.55 2.55 0 1 0 5.1 0a2.55 2.55 0 1 0 -5.1 0M574.4 622.4a2.55 2.55 0 1 0 5.1 0a2.55 2.55 0 1 0 -5.1 0M571.7 614.5a2.55 2.55 0 1 0 5.1 0a2.55 2.55 0 1 0 -5.1 0" fill="none" stroke="#000" stroke-width="0.5" stroke-opacity="0.65"/>
<g stroke="#000" stroke-width="2.4" fill="none" stroke-linecap="butt">
<path d="M137.0 20.3V634.2"/>
<path d="M126 634.2H917.6"/>
<path d="M131.0 603.57H137.0M131.0 572.93H137.0M131.0 542.30H137.0M131.0 511.66H137.0M125.9 481.03H137.0M131.0 450.39H137.0M131.0 419.75H137.0M131.0 389.12H137.0M131.0 358.49H137.0M125.9 327.85H137.0M131.0 297.22H137.0M131.0 266.58H137.0M131.0 235.95H137.0M131.0 205.31H137.0M125.9 174.68H137.0M131.0 144.04H137.0M131.0 113.40H137.0M131.0 82.77H137.0M131.0 52.13H137.0M125.9 21.50H137.0"/>
<path d="M136.90 634.2V646.6M183.83 634.2V640.4M211.28 634.2V640.4M230.76 634.2V640.4M245.87 634.2V640.4M258.21 634.2V640.4M268.65 634.2V640.4M277.69 634.2V640.4M285.67 634.2V640.4M292.80 634.2V646.6M339.73 634.2V640.4M367.18 634.2V640.4M386.66 634.2V640.4M401.77 634.2V640.4M414.11 634.2V640.4M424.55 634.2V640.4M433.59 634.2V640.4M441.57 634.2V640.4M448.70 634.2V646.6M495.63 634.2V640.4M523.08 634.2V640.4M542.56 634.2V640.4M557.67 634.2V640.4M570.01 634.2V640.4M580.45 634.2V640.4M589.49 634.2V640.4M597.47 634.2V640.4M604.60 634.2V646.6M651.53 634.2V640.4M678.98 634.2V640.4M698.46 634.2V640.4M713.57 634.2V640.4M725.91 634.2V640.4M736.35 634.2V640.4M745.39 634.2V640.4M753.37 634.2V640.4M760.50 634.2V646.6M807.43 634.2V640.4M834.88 634.2V640.4M854.36 634.2V640.4M869.47 634.2V640.4M881.81 634.2V640.4M892.25 634.2V640.4M901.29 634.2V640.4M909.27 634.2V640.4M916.40 634.2V646.6"/>
</g>
<text x="113.8" y="643.6" font-size="29.5" text-anchor="end" transform="matrix(1 0 0 1.03 0 -19.31)">0</text>
<text x="113.8" y="490.4" font-size="29.5" text-anchor="end" transform="matrix(1 0 0 1.03 0 -14.71)">1000</text>
<text x="113.8" y="337.2" font-size="29.5" text-anchor="end" transform="matrix(1 0 0 1.03 0 -10.12)">2000</text>
<text x="113.8" y="184.1" font-size="29.5" text-anchor="end" transform="matrix(1 0 0 1.03 0 -5.52)">3000</text>
<text x="113.8" y="30.9" font-size="29.5" text-anchor="end" transform="matrix(1 0 0 1.03 0 -0.93)">4000</text>
<text x="137.7" y="686.3" font-size="30" text-anchor="middle" transform="matrix(1 0 0 1.03 0 -20.59)">10<tspan font-size="21" dy="-12.8">1</tspan></text>
<text x="293.6" y="686.3" font-size="30" text-anchor="middle" transform="matrix(1 0 0 1.03 0 -20.59)">10<tspan font-size="21" dy="-12.8">2</tspan></text>
<text x="449.5" y="686.3" font-size="30" text-anchor="middle" transform="matrix(1 0 0 1.03 0 -20.59)">10<tspan font-size="21" dy="-12.8">3</tspan></text>
<text x="605.4" y="686.3" font-size="30" text-anchor="middle" transform="matrix(1 0 0 1.03 0 -20.59)">10<tspan font-size="21" dy="-12.8">4</tspan></text>
<text x="761.3" y="686.3" font-size="30" text-anchor="middle" transform="matrix(1 0 0 1.03 0 -20.59)">10<tspan font-size="21" dy="-12.8">5</tspan></text>
<text x="917.2" y="686.3" font-size="30" text-anchor="middle" transform="matrix(1 0 0 1.03 0 -20.59)">10<tspan font-size="21" dy="-12.8">6</tspan></text>
<text transform="translate(22.5 333) rotate(-90) scale(1 1.03)" font-size="29" font-weight="bold" text-anchor="middle">Adhesion force (pN)</text>
<text x="453" y="735.3" font-size="29" font-weight="bold" transform="matrix(1 0 0 1.03 0 -22.06)">LR (pN s<tspan font-size="20" dy="-12">−1</tspan><tspan dy="12">)</tspan></text>
<circle cx="212.5" cy="513.2" r="3.95" fill="none" stroke="#000" stroke-width="4.3"/>
<text x="272" y="526.3" font-size="29" transform="matrix(1 0 0 1.03 0 -15.79)">Raw data</text>
<path d="M170.3 564.3H258" stroke="#f00" stroke-width="2.4" stroke-linecap="round" stroke-dasharray="8.6 12.3"/>
<text x="272" y="572.9" font-size="29" transform="matrix(1 0 0 1.03 0 -17.19)">Bell–Evans</text>
<path d="M170 73.4L170.9 73.1L171.8 73.8L172.7 73.6L173.6 72.6L174.5 72.6L175.4 72.7L176.3 73.5L177.2 72.9L178.1 73.9L179.0 73.9L179.9 73.1L180.8 73.3L181.7 73.0L182.6 74.5L183.5 74.0L184.4 73.6L185.3 71.4L186.2 73.9L187.1 74.5L188.0 74.9L188.9 73.5L189.8 74.6L190.7 73.7L191.6 73.8L192.5 74.4L193.4 74.2L194.3 73.9L195.2 74.1L196.1 73.4L197.0 74.9L197.9 74.0L198.8 74.4L199.7 73.5L200.6 73.9L201.5 73.4L202.4 73.8L203.3 74.5L204.2 74.5L205.1 73.7L206.0 73.6L206.9 73.9L207.8 73.4L208.7 73.5L209.6 73.7L210.5 73.4L211.4 72.8L212.3 73.6L213.2 74.4L214.1 73.1L215.0 72.5L215.9 72.0L216.8 74.3L217.7 73.2L218.6 72.7L219.5 73.7L220.4 73.2L221.3 72.7L222.2 73.7L223.1 72.8L224.0 72.4L224.9 72.3L225.8 73.4L226.7 71.6L227.6 71.5L228.5 72.3L229.4 72.4L230.3 71.5L231.2 72.3L232.1 72.2L233.0 71.1L233.9 72.8L234.8 71.4L235.7 72.2L236.6 71.5L237.5 71.5L238.4 72.3L239.3 71.7L240.2 71.7L241.1 71.3L242.0 71.5L242.9 71.4L243.8 69.9L244.7 70.3L245.6 70.3L246.5 70.5L247.4 69.2L248.3 70.2L249.2 69.4L250.1 70.2L251.0 68.9L251.9 69.0L252.8 69.1L253.7 68.0L254.6 67.3L255.5 67.8L256.4 67.6L257.3 69.3L258.2 67.8L259.1 67.3L260.0 67.2L260.9 66.3L261.8 66.7L262.7 66.4L263.6 65.3L264.5 66.1L265.4 64.3L266.3 63.9L267.2 64.9L268.1 64.7L269.0 64.1L269.9 63.6L270.8 62.3L271.7 63.3L272.6 63.6L273.5 63.3L274.4 61.7L275.3 61.6L276.2 62.0L277.1 61.4L278.0 62.1L278.9 61.0L279.8 61.5L280.7 61.3L281.6 60.2L282.5 58.9L283.4 57.3L284.3 58.6L285.2 59.4L286.1 58.3L287.0 58.2L287.9 56.6L288.8 56.2L289.7 56.6L290.6 55.2L291.5 54.6L292.4 52.6L293.3 51.0L294.2 49.6L295.1 48.3L296.0 47.3L296.9 46.4L297.8 44.1L298.7 43.2L299.6 40.3L300.5 38.7L301.4 38.2L302.3 41.2L303.2 41.4L304.1 43.9L305.0 45.9L305.9 46.1L306.8 47.9L307.7 50.6L308.6 50.4L309.5 52.6L310.4 53.5L311.3 57.6L312.2 58.4L313.1 57.8L314.0 59.6L314.9 60.4L315.8 61.3L316.7 60.4L317.6 60.5L318.5 62.1L319.4 62.1L320.3 61.9L321.2 62.4L322.1 62.3L323.0 63.5L323.9 64.0L324.8 62.6L325.7 63.4L326.6 63.6L327.5 65.3L328.4 65.6L329.3 64.4L330.2 65.0L331.1 63.6L332.0 67.1L332.9 66.7L333.8 66.9L334.7 66.9L335.6 67.1L336.5 68.5L337.4 67.8L338.3 69.6L339.2 69.7L340.1 69.3L341.0 69.4L341.9 70.3L342.8 69.9L343.7 70.9L344.6 70.6L345.5 70.2L346.4 70.5L347.3 71.2L348.2 71.2L349.1 73.0L350.0 72.0L350.9 72.2L351.8 72.0L352.7 72.3L353.6 73.8L354.5 72.5L355.4 72.7L356.3 72.2L357.2 73.3L358.1 72.8L359.0 72.5L359.9 72.8L360.8 74.4L361.7 74.1L362.6 74.9L363.5 73.4L364.4 74.8L365.3 74.8L366.2 74.4L367.1 74.8L368.0 75.3L368.9 74.8L369.8 75.3L370.7 75.8L371.6 75.2L372.5 74.2L373.4 75.9L374.3 76.3L375.2 76.3L376.1 76.5L377.0 74.0L377.9 76.1L378.8 74.3L379.7 76.6L380.6 76.2L381.5 75.3L382.4 75.7L383.3 75.8L384.2 75.7L385.1 77.3L386.0 76.2L386.9 76.8L387.8 76.7L388.7 75.7L389.6 76.1L390.5 76.2L391.4 75.8L392.3 76.4L393.2 77.4L394.1 76.8L395.0 77.2L395.9 76.7L396.8 77.0L397.7 80.2L398.6 77.0L399.5 79.0L400.4 77.9L401.3 79.1L402.2 77.5L403.1 77.9L404.0 78.7L404.9 78.1L405.8 78.3L406.7 79.4L407.6 78.0L408.5 79.2L409.4 79.5L410.3 79.1L411.2 79.3L412.1 79.6L413.0 81.1L413.9 79.5L414.8 80.6L415.7 81.6L416.6 81.9L417.5 83.3L418.4 84.2L419.3 84.6L420.2 86.1L421.1 86.6L422.0 88.2L422.9 88.6L423.8 90.1L424.7 91.6L425.6 92.5L426.5 94.2L427.4 95.3L428.3 97.0L429.2 98.4L430.1 99.9L431.0 101.4L431.9 103.4L432.8 104.6L433.7 106.7L434.6 108.4L435.5 110.2L436.4 112.2L437.3 113.9L438.2 116.0L439.1 117.7L440.0 120.4L440.9 123.2L441.8 126.8L442.7 129.2L443.6 129.4L445.4 140L448 150L453 170L457 190L460 204.9L464 224.8L468 244.8L472 267.7L473.2 271" fill="none" stroke="#000" stroke-width="2.7" stroke-linejoin="round"/>
<path d="M473.5 271V74.6" fill="none" stroke="#000" stroke-width="1.9"/>
<path d="M473.5 74.6L474.4 74.9L475.3 74.5L476.2 74.7L477.1 74.9L478.0 73.5L478.9 74.1L479.8 74.1L480.7 74.9L481.6 73.5L482.5 74.7L483.4 75.1L484.3 73.3L485.2 75.0L486.1 74.1L487.0 74.7L487.9 73.4L488.8 73.3L489.7 74.5L490.6 74.8L491.5 73.0L492.4 73.5L493.3 74.3L494.2 73.2L495.1 74.2L496.0 73.2L496.9 74.0L497.8 73.7L498.7 75.7L499.6 74.9L500.5 73.5L501.4 73.3L502.3 75.5L503.2 74.2L504.1 72.8L505.0 74.1L505.9 73.3L506.8 74.6L507.7 72.8L508.6 73.5L509.5 73.1L510.4 74.1L511.3 73.1L512.2 73.2L513.1 73.1L514.0 74.1L514.9 74.5L515.8 72.9L516.7 73.4L517.6 74.4L518.5 73.3L519.4 74.4L520.3 72.6L521.2 73.2L522.1 74.2L523.0 74.4L523.9 73.1" fill="none" stroke="#000" stroke-width="2.7" stroke-linejoin="round"/>
<path d="M233.2 104.2V174.9H303.7" fill="none" stroke="#000" stroke-width="1.7"/>
<text transform="translate(223.6 138.5) rotate(-90) scale(1 1.03)" font-size="25" font-weight="bold" text-anchor="middle">500 pN</text>
<text x="227" y="204.6" font-size="25" font-weight="bold" transform="matrix(1 0 0 1.03 0 -6.14)">250 ms</text>
<path d="M198.6 231.5L445.5 199.2" fill="none" stroke="#000" stroke-width="1.6"/>
<path d="M357.6 232.6L490 201.5" fill="none" stroke="#000" stroke-width="2.2"/>
<path d="M445 200.6L499.6 200.6" fill="none" stroke="#000" stroke-width="4" stroke-dasharray="13.3 5.40" stroke-dashoffset="0.00"/>
<path d="M497.6 202.6L497.6 274.1" fill="none" stroke="#000" stroke-width="4" stroke-dasharray="13 4.80" stroke-dashoffset="16.80"/>
<path d="M447 198.6L447 274.1" fill="none" stroke="#000" stroke-width="4" stroke-dasharray="13.2 5.10" stroke-dashoffset="12.30"/>
<path d="M445 272.1L499.6 272.1" fill="none" stroke="#000" stroke-width="4" stroke-dasharray="11.6 5.50" stroke-dashoffset="14.70"/>
<path d="M198.6 229.6L198.6 424.70000000000005" fill="none" stroke="#000" stroke-width="4.2" stroke-dasharray="14.9 4.60" stroke-dashoffset="0.00"/>
<path d="M200.7 231.7L358.20000000000005 231.7" fill="none" stroke="#000" stroke-width="4.2" stroke-dasharray="12.9 5.00" stroke-dashoffset="14.60"/>
<path d="M356.1 229.6L356.1 424.70000000000005" fill="none" stroke="#000" stroke-width="4.2" stroke-dasharray="12.8 5.20" stroke-dashoffset="9.00"/>
<path d="M196.5 422.6L358.20000000000005 422.6" fill="none" stroke="#000" stroke-width="4.2" stroke-dasharray="12.6 5.40" stroke-dashoffset="0.00"/>
<rect x="354.0" y="229.6" width="4.2" height="6" />
<rect x="354.0" y="418.6" width="4.2" height="6.1" />
<rect x="196.5" y="418.6" width="6" height="6.1" />
<path d="M276.2 233.5C278 236 279 239 280 242C282 248 284.5 254 286.5 261C288 267 288.8 273 289.5 279" fill="none" stroke="#000" stroke-width="1.5"/>
<path d="M328.3 233V304L327.4 305.5V420" fill="none" stroke="#000" stroke-width="1.6"/>
<path d="M293 289.7V414H329" fill="none" stroke="#ff0a64" stroke-width="2.3" stroke-dasharray="5.6 2.8"/>
<path d="M290.6 279.4L326.6 414" fill="none" stroke="#f00" stroke-width="5.8"/>
<text x="472.3" y="254.1" font-size="35" text-anchor="middle" fill="#fff" stroke="#e6e6e6" stroke-width="2.4" stroke-linejoin="round" transform="matrix(1 0 0 1.03 0 -7.62)">X</text>
<text x="472.3" y="254.1" font-size="35" text-anchor="middle" fill="#fff" stroke="#fff" stroke-width="1.2" stroke-linejoin="round" transform="matrix(1 0 0 1.03 0 -7.62)">X</text>
<text x="277.6" y="344.7" font-size="36" text-anchor="middle" fill="#fff" stroke="#f5f5f5" stroke-width="0.7" transform="matrix(1 0 0 1.03 0 -10.34)">Y</text>
<text x="240" y="368.6" font-size="25" font-weight="bold" transform="matrix(1 0 0 1.03 0 -11.06)">LR</text>
<path d="M509.1 407.3L930.8 365.1" stroke="#f00" stroke-width="4.6" stroke-dasharray="22.1 20.15" fill="none"/>
<path d="M585.7 384.1V418.8M579.0 384.1H592.4M579.0 418.8H592.4M565.2 401.8H601.3M565.2 395.0V408.6M601.3 395.0V408.6M640.1 369.0V409.5M633.4 369.0H646.8M633.4 409.5H646.8M617.4 389.0H657.4M617.4 382.2V395.8M657.4 382.2V395.8M718.6 375.5V408.4M711.9 375.5H725.3M711.9 408.4H725.3M701.0 391.4H734.0M701.0 384.6V398.2M734.0 384.6V398.2M781.7 360.2V399.7M775.0 360.2H788.4M775.0 399.7H788.4M763.6 379.5H796.8M763.6 372.7V386.3M796.8 372.7V386.3M827.0 353.6V393.5M820.3 353.6H833.7M820.3 393.5H833.7M811.4 373.7H840.0M811.4 366.9V380.5M840.0 366.9V380.5" stroke="#f00" stroke-width="2.8" fill="none"/>
<circle cx="585.7" cy="401.8" r="6.4" fill="#f00"/>
<circle cx="640.1" cy="389.0" r="6.4" fill="#f00"/>
<circle cx="718.6" cy="391.4" r="6.4" fill="#f00"/>
<circle cx="781.7" cy="379.5" r="6.4" fill="#f00"/>
<circle cx="827.0" cy="373.7" r="6.4" fill="#f00"/>
<g fill="#808080" stroke="#000" stroke-width="1.3"><rect x="139.25" y="861.30" width="9.9" height="34.20"/><rect x="151.95" y="850.39" width="9.9" height="45.11"/><rect x="164.65" y="879.25" width="9.9" height="16.25"/><rect x="177.35" y="894.95" width="9.9" height="0.55"/><rect x="190.05" y="894.95" width="9.9" height="0.55"/><rect x="202.75" y="890.87" width="9.9" height="4.63"/><rect x="215.45" y="894.95" width="9.9" height="0.55"/><rect x="228.15" y="890.87" width="9.9" height="4.63"/><rect x="329.75" y="893.33" width="9.9" height="2.17"/><rect x="355.15" y="894.95" width="9.9" height="0.55"/><rect x="367.85" y="894.95" width="9.9" height="0.55"/><rect x="380.55" y="892.98" width="9.9" height="2.52"/><rect x="393.25" y="891.57" width="9.9" height="3.93"/><rect x="405.95" y="865.88" width="9.9" height="29.62"/><rect x="418.65" y="838.42" width="9.9" height="57.08"/><rect x="431.35" y="841.24" width="9.9" height="54.26"/><rect x="444.05" y="860.95" width="9.9" height="34.55"/><rect x="456.75" y="868.34" width="9.9" height="27.16"/><rect x="469.45" y="882.42" width="9.9" height="13.08"/><rect x="482.15" y="894.95" width="9.9" height="0.55"/><rect x="494.85" y="892.98" width="9.9" height="2.52"/><rect x="507.55" y="891.57" width="9.9" height="3.93"/><rect x="545.65" y="894.95" width="9.9" height="0.55"/><rect x="609.15" y="894.95" width="9.9" height="0.55"/></g>
<g stroke="#000" stroke-width="2.1" fill="none">
<path d="M137.7 806.30V906.50M127.5 895.5H932.30"/>
<path d="M132.2 877.90H137.7M132.2 860.30H137.7M132.2 842.70H137.7M132.2 825.10H137.7M127.4 807.50H137.7M177.37 895.5V901.00M217.04 895.5V901.00M256.71 895.5V901.00M296.38 895.5V901.00M336.05 895.5V906.50M375.72 895.5V901.00M415.39 895.5V901.00M455.06 895.5V901.00M494.73 895.5V901.00M534.40 895.5V906.50M574.07 895.5V901.00M613.74 895.5V901.00M653.41 895.5V901.00M693.08 895.5V901.00M732.75 895.5V906.50M772.42 895.5V901.00M812.09 895.5V901.00M851.76 895.5V901.00M891.43 895.5V901.00M931.10 895.5V906.50"/>
</g>
<text x="116" y="817.7" font-size="29" text-anchor="end" transform="matrix(1 0 0 1.03 0 -24.53)">25</text>
<text x="116" y="905.7" font-size="29" text-anchor="end" transform="matrix(1 0 0 1.03 0 -27.17)">0</text>
<g fill="#808080" stroke="#000" stroke-width="1.3"><rect x="151.95" y="1015.20" width="9.9" height="7.80"/><rect x="164.65" y="1018.72" width="9.9" height="4.28"/><rect x="177.35" y="1022.45" width="9.9" height="0.55"/><rect x="190.05" y="1022.45" width="9.9" height="0.55"/><rect x="240.85" y="1022.45" width="9.9" height="0.55"/><rect x="253.55" y="1022.45" width="9.9" height="0.55"/><rect x="278.95" y="1022.45" width="9.9" height="0.55"/><rect x="291.65" y="1022.45" width="9.9" height="0.55"/><rect x="304.35" y="1022.45" width="9.9" height="0.55"/><rect x="329.75" y="1022.45" width="9.9" height="0.55"/><rect x="355.15" y="1022.24" width="9.9" height="0.76"/><rect x="367.85" y="1022.24" width="9.9" height="0.76"/><rect x="380.55" y="1022.45" width="9.9" height="0.55"/><rect x="393.25" y="1022.45" width="9.9" height="0.55"/><rect x="405.95" y="1010.98" width="9.9" height="12.02"/><rect x="418.65" y="986.69" width="9.9" height="36.31"/><rect x="431.35" y="971.91" width="9.9" height="51.09"/><rect x="444.05" y="978.24" width="9.9" height="44.76"/><rect x="456.75" y="969.09" width="9.9" height="53.91"/><rect x="469.45" y="989.15" width="9.9" height="33.85"/><rect x="482.15" y="1001.83" width="9.9" height="21.17"/><rect x="494.85" y="1010.63" width="9.9" height="12.37"/><rect x="507.55" y="1016.61" width="9.9" height="6.39"/><rect x="520.25" y="1020.48" width="9.9" height="2.52"/><rect x="532.95" y="1020.48" width="9.9" height="2.52"/><rect x="545.65" y="1019.78" width="9.9" height="3.22"/><rect x="558.35" y="1022.24" width="9.9" height="0.76"/><rect x="571.05" y="1021.54" width="9.9" height="1.46"/><rect x="583.75" y="1020.13" width="9.9" height="2.87"/><rect x="596.45" y="1020.13" width="9.9" height="2.87"/><rect x="609.15" y="1021.89" width="9.9" height="1.11"/><rect x="621.85" y="1020.83" width="9.9" height="2.17"/><rect x="634.55" y="1020.83" width="9.9" height="2.17"/><rect x="647.25" y="1020.13" width="9.9" height="2.87"/><rect x="659.95" y="1021.89" width="9.9" height="1.11"/><rect x="672.65" y="1021.89" width="9.9" height="1.11"/><rect x="685.35" y="1020.83" width="9.9" height="2.17"/><rect x="698.05" y="1022.45" width="9.9" height="0.55"/><rect x="710.75" y="1022.45" width="9.9" height="0.55"/><rect x="736.15" y="1022.45" width="9.9" height="0.55"/><rect x="774.25" y="1022.45" width="9.9" height="0.55"/><rect x="875.85" y="1022.45" width="9.9" height="0.55"/></g>
<g stroke="#000" stroke-width="2.1" fill="none">
<path d="M137.7 933.80V1034.00M127.5 1023.0H932.30"/>
<path d="M132.2 1005.40H137.7M132.2 987.80H137.7M132.2 970.20H137.7M132.2 952.60H137.7M127.4 935.00H137.7M177.37 1023.0V1028.50M217.04 1023.0V1028.50M256.71 1023.0V1028.50M296.38 1023.0V1028.50M336.05 1023.0V1034.00M375.72 1023.0V1028.50M415.39 1023.0V1028.50M455.06 1023.0V1028.50M494.73 1023.0V1028.50M534.40 1023.0V1034.00M574.07 1023.0V1028.50M613.74 1023.0V1028.50M653.41 1023.0V1028.50M693.08 1023.0V1028.50M732.75 1023.0V1034.00M772.42 1023.0V1028.50M812.09 1023.0V1028.50M851.76 1023.0V1028.50M891.43 1023.0V1028.50M931.10 1023.0V1034.00"/>
</g>
<text x="116" y="945.2" font-size="29" text-anchor="end" transform="matrix(1 0 0 1.03 0 -28.36)">25</text>
<text x="116" y="1033.2" font-size="29" text-anchor="end" transform="matrix(1 0 0 1.03 0 -31.00)">0</text>
<g fill="#808080" stroke="#000" stroke-width="1.3"><rect x="151.95" y="1151.04" width="9.9" height="0.76"/><rect x="164.65" y="1151.04" width="9.9" height="0.76"/><rect x="177.35" y="1151.25" width="9.9" height="0.55"/><rect x="190.05" y="1151.25" width="9.9" height="0.55"/><rect x="342.45" y="1150.34" width="9.9" height="1.46"/><rect x="355.15" y="1150.34" width="9.9" height="1.46"/><rect x="367.85" y="1150.34" width="9.9" height="1.46"/><rect x="380.55" y="1149.63" width="9.9" height="2.17"/><rect x="393.25" y="1148.23" width="9.9" height="3.57"/><rect x="405.95" y="1141.19" width="9.9" height="10.61"/><rect x="418.65" y="1122.18" width="9.9" height="29.62"/><rect x="431.35" y="1090.50" width="9.9" height="61.30"/><rect x="444.05" y="1073.60" width="9.9" height="78.20"/><rect x="456.75" y="1086.98" width="9.9" height="64.82"/><rect x="469.45" y="1117.25" width="9.9" height="34.55"/><rect x="482.15" y="1137.31" width="9.9" height="14.49"/><rect x="494.85" y="1146.82" width="9.9" height="4.98"/><rect x="507.55" y="1149.28" width="9.9" height="2.52"/><rect x="520.25" y="1151.25" width="9.9" height="0.55"/><rect x="532.95" y="1151.25" width="9.9" height="0.55"/><rect x="545.65" y="1151.25" width="9.9" height="0.55"/><rect x="558.35" y="1151.25" width="9.9" height="0.55"/><rect x="571.05" y="1151.25" width="9.9" height="0.55"/><rect x="583.75" y="1151.25" width="9.9" height="0.55"/><rect x="596.45" y="1151.25" width="9.9" height="0.55"/><rect x="609.15" y="1151.25" width="9.9" height="0.55"/><rect x="647.25" y="1151.25" width="9.9" height="0.55"/><rect x="672.65" y="1151.25" width="9.9" height="0.55"/></g>
<g stroke="#000" stroke-width="2.1" fill="none">
<path d="M137.7 1062.60V1162.80M127.5 1151.8H932.30"/>
<path d="M132.2 1134.20H137.7M132.2 1116.60H137.7M132.2 1099.00H137.7M132.2 1081.40H137.7M127.4 1063.80H137.7M177.37 1151.8V1157.30M217.04 1151.8V1157.30M256.71 1151.8V1157.30M296.38 1151.8V1157.30M336.05 1151.8V1162.80M375.72 1151.8V1157.30M415.39 1151.8V1157.30M455.06 1151.8V1157.30M494.73 1151.8V1157.30M534.40 1151.8V1162.80M574.07 1151.8V1157.30M613.74 1151.8V1157.30M653.41 1151.8V1157.30M693.08 1151.8V1157.30M732.75 1151.8V1162.80M772.42 1151.8V1157.30M812.09 1151.8V1157.30M851.76 1151.8V1157.30M891.43 1151.8V1157.30M931.10 1151.8V1162.80"/>
</g>
<text x="116" y="1074.0" font-size="29" text-anchor="end" transform="matrix(1 0 0 1.03 0 -32.22)">25</text>
<text x="116" y="1162.0" font-size="29" text-anchor="end" transform="matrix(1 0 0 1.03 0 -34.86)">0</text>
<g fill="#808080" stroke="#000" stroke-width="1.3"><rect x="342.45" y="1279.65" width="9.9" height="0.55"/><rect x="355.15" y="1278.74" width="9.9" height="1.46"/><rect x="367.85" y="1278.74" width="9.9" height="1.46"/><rect x="380.55" y="1277.33" width="9.9" height="2.87"/><rect x="393.25" y="1277.68" width="9.9" height="2.52"/><rect x="405.95" y="1273.81" width="9.9" height="6.39"/><rect x="418.65" y="1267.12" width="9.9" height="13.08"/><rect x="431.35" y="1245.65" width="9.9" height="34.55"/><rect x="444.05" y="1237.55" width="9.9" height="42.65"/><rect x="456.75" y="1230.16" width="9.9" height="50.04"/><rect x="469.45" y="1216.79" width="9.9" height="63.41"/><rect x="482.15" y="1229.46" width="9.9" height="50.74"/><rect x="494.85" y="1247.41" width="9.9" height="32.79"/><rect x="507.55" y="1268.88" width="9.9" height="11.32"/><rect x="520.25" y="1276.98" width="9.9" height="3.22"/><rect x="545.65" y="1279.65" width="9.9" height="0.55"/><rect x="558.35" y="1279.65" width="9.9" height="0.55"/><rect x="571.05" y="1279.65" width="9.9" height="0.55"/><rect x="583.75" y="1279.65" width="9.9" height="0.55"/><rect x="596.45" y="1279.65" width="9.9" height="0.55"/><rect x="609.15" y="1278.03" width="9.9" height="2.17"/><rect x="621.85" y="1278.03" width="9.9" height="2.17"/><rect x="634.55" y="1279.65" width="9.9" height="0.55"/><rect x="647.25" y="1279.09" width="9.9" height="1.11"/><rect x="659.95" y="1279.09" width="9.9" height="1.11"/><rect x="672.65" y="1279.09" width="9.9" height="1.11"/><rect x="685.35" y="1279.65" width="9.9" height="0.55"/><rect x="698.05" y="1279.65" width="9.9" height="0.55"/><rect x="723.45" y="1279.65" width="9.9" height="0.55"/><rect x="736.15" y="1279.65" width="9.9" height="0.55"/><rect x="748.85" y="1279.65" width="9.9" height="0.55"/></g>
<g stroke="#000" stroke-width="2.1" fill="none">
<path d="M137.7 1191.00V1291.20M127.5 1280.2H932.30"/>
<path d="M132.2 1262.60H137.7M132.2 1245.00H137.7M132.2 1227.40H137.7M132.2 1209.80H137.7M127.4 1192.20H137.7M177.37 1280.2V1285.70M217.04 1280.2V1285.70M256.71 1280.2V1285.70M296.38 1280.2V1285.70M336.05 1280.2V1291.20M375.72 1280.2V1285.70M415.39 1280.2V1285.70M455.06 1280.2V1285.70M494.73 1280.2V1285.70M534.40 1280.2V1291.20M574.07 1280.2V1285.70M613.74 1280.2V1285.70M653.41 1280.2V1285.70M693.08 1280.2V1285.70M732.75 1280.2V1291.20M772.42 1280.2V1285.70M812.09 1280.2V1285.70M851.76 1280.2V1285.70M891.43 1280.2V1285.70M931.10 1280.2V1291.20"/>
</g>
<text x="116" y="1202.4" font-size="29" text-anchor="end" transform="matrix(1 0 0 1.03 0 -36.07)">25</text>
<text x="116" y="1290.4" font-size="29" text-anchor="end" transform="matrix(1 0 0 1.03 0 -38.71)">0</text>
<g fill="#808080" stroke="#000" stroke-width="1.3"><rect x="317.05" y="1407.95" width="9.9" height="0.55"/><rect x="355.15" y="1407.95" width="9.9" height="0.55"/><rect x="393.25" y="1406.33" width="9.9" height="2.17"/><rect x="405.95" y="1407.39" width="9.9" height="1.11"/><rect x="418.65" y="1403.17" width="9.9" height="5.33"/><rect x="431.35" y="1392.61" width="9.9" height="15.89"/><rect x="444.05" y="1366.56" width="9.9" height="41.94"/><rect x="456.75" y="1354.24" width="9.9" height="54.26"/><rect x="469.45" y="1358.81" width="9.9" height="49.69"/><rect x="482.15" y="1347.90" width="9.9" height="60.60"/><rect x="494.85" y="1375.01" width="9.9" height="33.49"/><rect x="507.55" y="1388.03" width="9.9" height="20.47"/><rect x="520.25" y="1392.25" width="9.9" height="16.25"/><rect x="532.95" y="1403.17" width="9.9" height="5.33"/><rect x="545.65" y="1407.04" width="9.9" height="1.46"/><rect x="596.45" y="1407.95" width="9.9" height="0.55"/><rect x="609.15" y="1407.95" width="9.9" height="0.55"/><rect x="634.55" y="1407.95" width="9.9" height="0.55"/><rect x="647.25" y="1407.39" width="9.9" height="1.11"/><rect x="659.95" y="1407.39" width="9.9" height="1.11"/><rect x="672.65" y="1407.95" width="9.9" height="0.55"/><rect x="685.35" y="1406.33" width="9.9" height="2.17"/><rect x="698.05" y="1404.93" width="9.9" height="3.57"/><rect x="710.75" y="1407.39" width="9.9" height="1.11"/><rect x="748.85" y="1407.39" width="9.9" height="1.11"/><rect x="786.95" y="1407.95" width="9.9" height="0.55"/><rect x="799.65" y="1407.95" width="9.9" height="0.55"/><rect x="837.75" y="1407.95" width="9.9" height="0.55"/><rect x="850.45" y="1407.95" width="9.9" height="0.55"/><rect x="888.55" y="1407.95" width="9.9" height="0.55"/><rect x="926.65" y="1407.95" width="9.9" height="0.55"/></g>
<g stroke="#000" stroke-width="2.1" fill="none">
<path d="M137.7 1319.30V1419.50M127.5 1408.5H932.30"/>
<path d="M132.2 1390.90H137.7M132.2 1373.30H137.7M132.2 1355.70H137.7M132.2 1338.10H137.7M127.4 1320.50H137.7M177.37 1408.5V1414.00M217.04 1408.5V1414.00M256.71 1408.5V1414.00M296.38 1408.5V1414.00M336.05 1408.5V1419.50M375.72 1408.5V1414.00M415.39 1408.5V1414.00M455.06 1408.5V1414.00M494.73 1408.5V1414.00M534.40 1408.5V1419.50M574.07 1408.5V1414.00M613.74 1408.5V1414.00M653.41 1408.5V1414.00M693.08 1408.5V1414.00M732.75 1408.5V1419.50M772.42 1408.5V1414.00M812.09 1408.5V1414.00M851.76 1408.5V1414.00M891.43 1408.5V1414.00M931.10 1408.5V1419.50"/>
</g>
<text x="116" y="1330.7" font-size="29" text-anchor="end" transform="matrix(1 0 0 1.03 0 -39.92)">25</text>
<text x="116" y="1418.7" font-size="29" text-anchor="end" transform="matrix(1 0 0 1.03 0 -42.56)">0</text>
<text x="922" y="874.7" font-size="29" text-anchor="end" transform="matrix(1 0 0 1.03 0 -26.24)">LR &lt; 10,000 pN s<tspan font-size="20" dy="-12">−1</tspan></text>
<text x="922" y="1005.0" font-size="29" text-anchor="end" transform="matrix(1 0 0 1.03 0 -30.15)">10,000 &lt; LR &lt; 30,000 pN s<tspan font-size="20" dy="-12">−1</tspan></text>
<text x="922" y="1133.0" font-size="29" text-anchor="end" transform="matrix(1 0 0 1.03 0 -33.99)">30,000 &lt; LR &lt; 80,000 pN s<tspan font-size="20" dy="-12">−1</tspan></text>
<text x="922" y="1257.3" font-size="29" text-anchor="end" transform="matrix(1 0 0 1.03 0 -37.72)">80,000 &lt; LR &lt; 200,000 pN s<tspan font-size="20" dy="-12">−1</tspan></text>
<text x="922" y="1386.2" font-size="29" text-anchor="end" transform="matrix(1 0 0 1.03 0 -41.59)">LR &gt; 200,000 pN s<tspan font-size="20" dy="-12">−1</tspan></text>
<text x="138.7" y="1453.6" font-size="29" text-anchor="middle" transform="matrix(1 0 0 1.03 0 -43.61)">0</text>
<text x="337.0" y="1453.6" font-size="29" text-anchor="middle" transform="matrix(1 0 0 1.03 0 -43.61)">1000</text>
<text x="535.4" y="1453.6" font-size="29" text-anchor="middle" transform="matrix(1 0 0 1.03 0 -43.61)">2000</text>
<text x="733.8" y="1453.6" font-size="29" text-anchor="middle" transform="matrix(1 0 0 1.03 0 -43.61)">3000</text>
<text x="932.1" y="1453.6" font-size="29" text-anchor="middle" transform="matrix(1 0 0 1.03 0 -43.61)">4000</text>
<text transform="translate(56 1112.7) rotate(-90) scale(1 1.03)" font-size="29" font-weight="bold" text-anchor="middle">Frequency (%)</text>
<text x="530.5" y="1496.1" font-size="29" font-weight="bold" text-anchor="middle" transform="matrix(1 0 0 1.03 0 -44.88)">Adhesion force (pN)</text>
</g></svg>
</body></html>
